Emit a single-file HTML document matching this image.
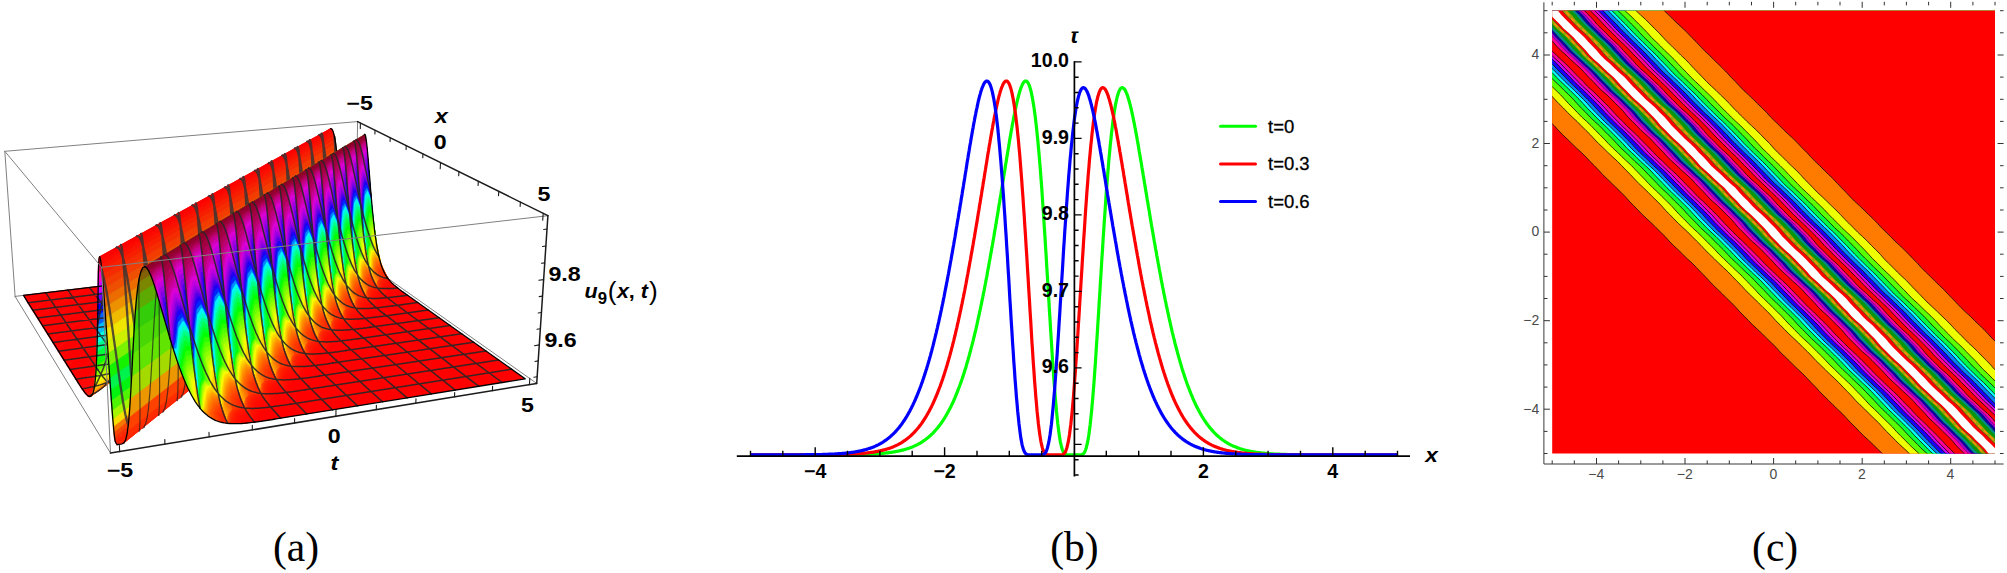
<!DOCTYPE html>
<html><head><meta charset="utf-8"><title>Figure</title><style>html,body{margin:0;padding:0;background:#fff}svg{display:block}</style></head><body>
<svg width="2007" height="573" viewBox="0 0 2007 573">
<rect width="2007" height="573" fill="#fff"/>
<g id="pa" stroke-linejoin="round" stroke-linecap="round">
<path d="M15.1,296.4 L4.8,151.3" stroke="#808080" stroke-width="1.0" fill="none"/>
<path d="M15.1,296.4 L110.5,453.1" stroke="#808080" stroke-width="1.0" fill="none"/>
<path d="M15.1,296.4 L355.3,255.4" stroke="#808080" stroke-width="1.0" fill="none"/>
<path d="M355.3,255.4 L357.6,121.6" stroke="#808080" stroke-width="1.0" fill="none"/>
<path d="M355.3,255.4 L536.7,383.4" stroke="#808080" stroke-width="1.0" fill="none"/>
<polygon points="23.5,295.4 23.5,295.4 44.6,292.9 27.8,302.3" fill="#ff0000" stroke="#ff0000" stroke-width="0.7"/>
<polygon points="27.8,302.3 44.6,292.9 65.4,290.4 32.2,309.4" fill="#ff0000" stroke="#ff0000" stroke-width="0.7"/>
<polygon points="32.2,309.4 65.4,290.4 86,287.9 36.8,316.6" fill="#ff0000" stroke="#ff0000" stroke-width="0.7"/>
<polygon points="36.8,316.6 86,287.9 106.4,285.5 41.5,324.1" fill="#ff0000" stroke="#ff0000" stroke-width="0.7"/>
<polygon points="41.5,324.1 106.4,285.5 126.5,283 46.3,331.8" fill="#ff0000" stroke="#ff0000" stroke-width="0.7"/>
<polygon points="46.3,331.8 126.5,283 146.5,280.6 51.3,339.7" fill="#ff0000" stroke="#ff0000" stroke-width="0.7"/>
<polygon points="51.3,339.7 146.5,280.6 166.3,278.3 56.4,347.9" fill="#ff0000" stroke="#ff0000" stroke-width="0.7"/>
<polygon points="56.4,347.9 166.3,278.3 185.8,275.9 61.6,356.3" fill="#ff0000" stroke="#ff0000" stroke-width="0.7"/>
<polygon points="61.6,356.3 185.8,275.9 205.2,273.6 67.1,364.9" fill="#ff0000" stroke="#ff0000" stroke-width="0.7"/>
<polygon points="67.1,364.9 205.2,273.6 224.4,271.2 72.7,373.9" fill="#ff0000" stroke="#ff0000" stroke-width="0.7"/>
<polygon points="72.7,373.9 224.4,271.2 243.4,268.9 78.5,383.1" fill="#ff0000" stroke="#ff0000" stroke-width="0.7"/>
<polygon points="78.5,383.1 243.4,268.9 245.4,268.6 79.1,384" fill="#ff0100" stroke="#ff0100" stroke-width="0.7"/>
<polygon points="79.1,384 245.4,268.6 247.3,268.4 79.7,385" fill="#ff0100" stroke="#ff0100" stroke-width="0.7"/>
<polygon points="79.7,385 247.3,268.4 249.3,268.1 80.4,386" fill="#ff0100" stroke="#ff0100" stroke-width="0.7"/>
<polygon points="80.4,386 249.3,268.1 251.3,267.8 81,386.9" fill="#ff0200" stroke="#ff0200" stroke-width="0.7"/>
<polygon points="81,386.9 251.3,267.8 253.3,267.5 81.6,387.9" fill="#ff0200" stroke="#ff0200" stroke-width="0.7"/>
<polygon points="81.6,387.9 253.3,267.5 255.3,267.2 82.2,388.8" fill="#ff0300" stroke="#ff0300" stroke-width="0.7"/>
<polygon points="82.2,388.8 255.3,267.2 257.3,266.9 82.9,389.7" fill="#ff0400" stroke="#ff0400" stroke-width="0.7"/>
<polygon points="82.9,389.7 257.3,266.9 259.3,266.6 83.5,390.6" fill="#ff0500" stroke="#ff0500" stroke-width="0.7"/>
<polygon points="83.5,390.6 259.3,266.6 261.3,266.2 84.1,391.5" fill="#ff0600" stroke="#ff0600" stroke-width="0.7"/>
<polygon points="84.1,391.5 261.3,266.2 263.2,265.8 84.8,392.3" fill="#ff0800" stroke="#ff0800" stroke-width="0.7"/>
<polygon points="84.8,392.3 263.2,265.8 265.2,265.4 85.4,393.1" fill="#ff0a00" stroke="#ff0a00" stroke-width="0.7"/>
<polygon points="85.4,393.1 265.2,265.4 267.2,264.9 86,393.9" fill="#ff0c00" stroke="#ff0c00" stroke-width="0.7"/>
<polygon points="86,393.9 267.2,264.9 269.1,264.4 86.7,394.6" fill="#ff0f00" stroke="#ff0f00" stroke-width="0.7"/>
<polygon points="86.7,394.6 269.1,264.4 271.1,263.8 87.3,395.2" fill="#ff1300" stroke="#ff1300" stroke-width="0.7"/>
<polygon points="87.3,395.2 271.1,263.8 273.1,263.2 87.9,395.7" fill="#ff1800" stroke="#ff1800" stroke-width="0.7"/>
<polygon points="87.9,395.7 273.1,263.2 275,262.4 88.5,396.1" fill="#ff1d00" stroke="#ff1d00" stroke-width="0.7"/>
<polygon points="88.5,396.1 275,262.4 277,261.6 89.2,396.4" fill="#ff2400" stroke="#ff2400" stroke-width="0.7"/>
<polygon points="89.2,396.4 277,261.6 279,260.6 89.8,396.5" fill="#ff2c00" stroke="#ff2c00" stroke-width="0.7"/>
<polygon points="89.8,396.5 279,260.6 280.9,259.5 90.4,396.4" fill="#ff3600" stroke="#ff3600" stroke-width="0.7"/>
<polygon points="90.4,396.4 280.9,259.5 282.9,258.2 91,396.2" fill="#ff4200" stroke="#ff4200" stroke-width="0.7"/>
<polygon points="91,396.2 282.9,258.2 284.8,256.7 91.6,395.6" fill="#ff5000" stroke="#ff5000" stroke-width="0.7"/>
<polygon points="91.6,395.6 284.8,256.7 286.8,255 92.1,394.8" fill="#ff6000" stroke="#ff6000" stroke-width="0.7"/>
<polygon points="92.1,394.8 286.8,255 288.8,253 92.7,393.6" fill="#ff7300" stroke="#ff7300" stroke-width="0.7"/>
<polygon points="92.7,393.6 288.8,253 290.7,250.7 93.2,392.1" fill="#ff8a00" stroke="#ff8a00" stroke-width="0.7"/>
<polygon points="93.2,392.1 290.7,250.7 292.7,248 93.8,390.1" fill="#ffa500" stroke="#ffa500" stroke-width="0.7"/>
<polygon points="93.8,390.1 292.7,248 294.6,245 94.3,387.6" fill="#ffc400" stroke="#ffc400" stroke-width="0.7"/>
<polygon points="94.3,387.6 294.6,245 296.6,241.6 94.7,384.5" fill="#ffe800" stroke="#ffe800" stroke-width="0.7"/>
<polygon points="94.7,384.5 296.6,241.6 298.6,237.7 95.2,380.8" fill="#edff00" stroke="#edff00" stroke-width="0.7"/>
<polygon points="95.2,380.8 298.6,237.7 300.5,233.3 95.6,376.5" fill="#beff00" stroke="#beff00" stroke-width="0.7"/>
<polygon points="95.6,376.5 300.5,233.3 302.5,228.4 96,371.5" fill="#8aff00" stroke="#8aff00" stroke-width="0.7"/>
<polygon points="96,371.5 302.5,228.4 304.5,222.8 96.3,365.7" fill="#4eff00" stroke="#4eff00" stroke-width="0.7"/>
<polygon points="96.3,365.7 304.5,222.8 306.4,216.7 96.7,359.1" fill="#0cff00" stroke="#0cff00" stroke-width="0.7"/>
<polygon points="96.7,359.1 306.4,216.7 308.4,210.1 96.9,351.7" fill="#00ff3d" stroke="#00ff3d" stroke-width="0.7"/>
<polygon points="96.9,351.7 308.4,210.1 310.4,202.8 97.2,343.5" fill="#00ff8d" stroke="#00ff8d" stroke-width="0.7"/>
<polygon points="97.2,343.5 310.4,202.8 312.4,195 97.4,334.5" fill="#00ffe3" stroke="#00ffe3" stroke-width="0.7"/>
<polygon points="97.4,334.5 312.4,195 314.4,186.8 97.6,325" fill="#00bfff" stroke="#00bfff" stroke-width="0.7"/>
<polygon points="97.6,325 314.4,186.8 316.5,178.2 97.7,314.8" fill="#005fff" stroke="#005fff" stroke-width="0.7"/>
<polygon points="97.7,314.8 316.5,178.2 318.5,169.3 97.9,304.3" fill="#0400ff" stroke="#0400ff" stroke-width="0.7"/>
<polygon points="97.9,304.3 318.5,169.3 320.5,160.2 98,293.4" fill="#6b00ff" stroke="#6b00ff" stroke-width="0.7"/>
<polygon points="98,293.4 320.5,160.2 322.6,151.3 98.2,282.7" fill="#d100ff" stroke="#d100ff" stroke-width="0.7"/>
<polygon points="98.2,282.7 322.6,151.3 324.6,143 98.4,272.7" fill="#ff00cc" stroke="#ff00cc" stroke-width="0.7"/>
<polygon points="98.4,272.7 324.6,143 326.6,135.9 98.7,264.3" fill="#ff0075" stroke="#ff0075" stroke-width="0.7"/>
<polygon points="98.7,264.3 326.6,135.9 328.7,130.8 99.1,258.6" fill="#ff0030" stroke="#ff0030" stroke-width="0.7"/>
<polygon points="99.1,258.6 328.7,130.8 330.7,128.6 99.7,256.7" fill="#ff0007" stroke="#ff0007" stroke-width="0.7"/>
<path d="M45.8,292.8 L69.9,328.5 L97.8,369.7M28.1,302.7 L131.9,290 L230.4,277.9M67.8,290.1 L90.4,321.4 L116.2,356.9M32.8,310.2 L127,298.5 L216.9,287.2M89.5,287.5 L110.4,314.5 L133.8,344.7M37.6,317.9 L122,307.2 L202.9,296.9M111,284.9 L129.9,307.9 L150.7,333.1M42.6,325.8 L116.8,316.3 L188.3,307M132.3,282.3 L148.9,301.4 L166.8,321.9M47.7,334 L111.4,325.7 L173.1,317.5M153.4,279.8 L182.3,311.2M53,342.5 L157.2,328.5M174.2,277.3 L197.1,300.9M58.5,351.2 L140.7,340M194.8,274.8 L211.4,291M64.1,360.2 L123.4,352M215.2,272.4 L225.1,281.6M70,369.6 L105.3,364.5M235.4,269.9 L238.2,272.4M76,379.2 L86.3,377.6" fill="none" stroke="#262626" stroke-width="1.5" stroke-opacity="0.9"/>
<path d="M97.8,369.7 L98.4,370.6 L99,371.5 L99.7,372.4 L100.3,373.3 L100.9,374.2 L101.6,375.1 L102.2,375.9 L102.8,376.7 L103.5,377.6 L104.1,378.3 L104.8,379.1 L105.4,379.8 L106,380.4 L106.7,381 L107.3,381.5 L107.9,381.9 L108.6,382.2 L109.2,382.4 L109.8,382.3 L110.4,382.1 L111,381.7 L111.6,381 L112.2,380 L112.8,378.7 L113.3,377 L113.9,374.9 L114.4,372.2 L114.9,369.1 L115.4,365.3 L115.8,360.9 L116.2,355.8 L116.6,350 L117,343.5 L117.4,336.2 L117.7,328.1 L117.9,319.4 L118.2,310.1 L118.5,300.3 L118.7,290.1 L118.9,279.7 L119.2,269.5 L119.5,260 L119.8,252.1 L120.3,246.7 L121,244.9M230.4,277.9 L232.4,277.6 L234.4,277.3 L236.4,277.1 L238.4,276.8 L240.4,276.5 L242.3,276.2 L244.3,275.9 L246.3,275.5 L248.3,275.2 L250.3,274.8 L252.2,274.4 L254.2,273.9 L256.2,273.4 L258.2,272.8 L260.1,272.2 L262.1,271.5 L264,270.7 L266,269.8 L268,268.7 L269.9,267.5 L271.9,266.1 L273.8,264.5 L275.8,262.6 L277.7,260.5 L279.7,258.1 L281.6,255.3 L283.6,252.1 L285.5,248.5 L287.5,244.5 L289.4,239.9 L291.4,234.8 L293.3,229.1 L295.3,222.9 L297.3,216.1 L299.2,208.8 L301.2,200.9 L303.2,192.6 L305.2,184 L307.2,175.1 L309.2,166.1 L311.3,157.2 L313.3,149 L315.3,142.1 L317.3,137.1 L319.3,134.9M116.2,356.9 L116.9,357.8 L117.5,358.7 L118.2,359.5 L118.8,360.4 L119.5,361.2 L120.1,362 L120.8,362.9 L121.4,363.7 L122.1,364.4 L122.7,365.2 L123.4,365.9 L124,366.5 L124.7,367.2 L125.3,367.7 L126,368.2 L126.6,368.5 L127.3,368.8 L127.9,368.9 L128.6,368.9 L129.2,368.6 L129.8,368.2 L130.5,367.5 L131.1,366.5 L131.7,365.2 L132.3,363.5 L132.8,361.4 L133.4,358.8 L133.9,355.6 L134.5,351.9 L134.9,347.6 L135.4,342.6 L135.9,336.9 L136.3,330.4 L136.7,323.2 L137.1,315.3 L137.5,306.8 L137.8,297.7 L138.1,288.1 L138.5,278.1 L138.8,267.9 L139.1,257.9 L139.5,248.6 L139.9,240.8 L140.4,235.5 L141.1,233.8M216.9,287.2 L219,286.9 L221,286.7 L223,286.4 L225.1,286.1 L227.1,285.8 L229.2,285.5 L231.2,285.1 L233.2,284.8 L235.2,284.4 L237.3,284 L239.3,283.6 L241.3,283.1 L243.3,282.6 L245.3,282 L247.3,281.4 L249.3,280.6 L251.3,279.8 L253.3,278.8 L255.3,277.8 L257.3,276.5 L259.3,275.1 L261.3,273.5 L263.3,271.6 L265.3,269.4 L267.3,266.9 L269.3,264.1 L271.3,260.9 L273.2,257.2 L275.2,253.1 L277.2,248.4 L279.2,243.2 L281.2,237.4 L283.2,231.1 L285.2,224.2 L287.2,216.7 L289.2,208.7 L291.2,200.3 L293.2,191.5 L295.2,182.4 L297.3,173.2 L299.3,164.2 L301.3,155.9 L303.4,148.8 L305.4,143.7 L307.4,141.5M133.8,344.7 L134.5,345.6 L135.2,346.4 L135.8,347.2 L136.5,348 L137.1,348.8 L137.8,349.6 L138.5,350.4 L139.1,351.1 L139.8,351.9 L140.5,352.6 L141.1,353.3 L141.8,353.9 L142.5,354.5 L143.1,355 L143.8,355.4 L144.5,355.7 L145.2,356 L145.8,356.1 L146.5,356 L147.1,355.8 L147.8,355.3 L148.4,354.6 L149.1,353.6 L149.7,352.3 L150.3,350.6 L150.9,348.5 L151.5,345.9 L152.1,342.8 L152.6,339.1 L153.2,334.9 L153.7,329.9 L154.2,324.3 L154.7,318 L155.1,310.9 L155.6,303.2 L156,294.8 L156.4,285.8 L156.8,276.4 L157.2,266.6 L157.6,256.6 L158.1,246.8 L158.5,237.7 L159,230.1 L159.6,224.9 L160.3,223.1M202.9,296.9 L205,296.6 L207.1,296.3 L209.2,296 L211.3,295.7 L213.3,295.4 L215.4,295.1 L217.5,294.8 L219.6,294.4 L221.6,294 L223.7,293.6 L225.8,293.2 L227.9,292.7 L229.9,292.1 L232,291.5 L234,290.9 L236.1,290.1 L238.1,289.3 L240.2,288.3 L242.2,287.2 L244.3,285.9 L246.3,284.5 L248.3,282.8 L250.4,280.9 L252.4,278.7 L254.4,276.1 L256.4,273.2 L258.5,269.9 L260.5,266.2 L262.5,262 L264.5,257.3 L266.5,252 L268.5,246.1 L270.6,239.6 L272.6,232.6 L274.6,225 L276.6,216.8 L278.7,208.2 L280.7,199.3 L282.7,190 L284.8,180.7 L286.9,171.5 L288.9,163 L291,155.7 L293.1,150.6 L295.1,148.3M150.7,333.1 L151.4,333.9 L152,334.6 L152.7,335.4 L153.4,336.2 L154,337 L154.7,337.7 L155.4,338.5 L156.1,339.2 L156.8,339.9 L157.4,340.6 L158.1,341.2 L158.8,341.8 L159.5,342.3 L160.2,342.8 L160.9,343.2 L161.5,343.5 L162.2,343.7 L162.9,343.8 L163.6,343.7 L164.2,343.4 L164.9,343 L165.6,342.3 L166.2,341.3 L166.9,339.9 L167.5,338.3 L168.2,336.2 L168.8,333.6 L169.4,330.6 L170,327 L170.6,322.8 L171.1,317.9 L171.7,312.4 L172.2,306.1 L172.7,299.2 L173.2,291.6 L173.7,283.3 L174.2,274.5 L174.7,265.3 L175.1,255.7 L175.6,245.9 L176.1,236.2 L176.6,227.3 L177.2,219.8 L177.8,214.7 L178.5,213M188.3,307 L190.5,306.7 L192.6,306.4 L194.7,306.1 L196.9,305.8 L199,305.5 L201.1,305.1 L203.3,304.8 L205.4,304.4 L207.5,304 L209.6,303.6 L211.7,303.1 L213.9,302.6 L216,302.1 L218.1,301.5 L220.2,300.8 L222.3,300 L224.4,299.1 L226.5,298.1 L228.6,297 L230.7,295.7 L232.7,294.2 L234.8,292.5 L236.9,290.5 L239,288.3 L241,285.7 L243.1,282.8 L245.1,279.4 L247.2,275.6 L249.3,271.3 L251.3,266.5 L253.3,261.1 L255.4,255.1 L257.4,248.5 L259.5,241.3 L261.5,233.6 L263.6,225.2 L265.6,216.5 L267.7,207.4 L269.7,198 L271.8,188.4 L273.9,179.1 L276,170.4 L278.1,163 L280.2,157.7 L282.3,155.4M166.8,321.9 L167.5,322.6 L168.2,323.4 L168.9,324.1 L169.6,324.9 L170.2,325.6 L170.9,326.3 L171.6,327.1 L172.3,327.7 L173,328.4 L173.7,329.1 L174.4,329.7 L175.1,330.2 L175.8,330.7 L176.5,331.2 L177.2,331.6 L177.8,331.8 L178.5,332 L179.2,332.1 L179.9,332 L180.6,331.7 L181.3,331.2 L182,330.5 L182.7,329.5 L183.3,328.2 L184,326.5 L184.6,324.4 L185.3,321.9 L185.9,318.9 L186.6,315.3 L187.2,311.2 L187.8,306.4 L188.4,300.9 L188.9,294.8 L189.5,288 L190.1,280.5 L190.6,272.4 L191.1,263.8 L191.7,254.7 L192.2,245.3 L192.7,235.7 L193.3,226.2 L193.8,217.4 L194.5,210.1 L195.1,205.1 L195.9,203.4M173.1,317.5 L175.3,317.2 L177.5,316.9 L179.7,316.6 L181.9,316.3 L184.1,315.9 L186.2,315.6 L188.4,315.2 L190.6,314.8 L192.8,314.4 L194.9,314 L197.1,313.5 L199.3,313 L201.4,312.4 L203.6,311.8 L205.8,311.1 L207.9,310.3 L210.1,309.4 L212.2,308.4 L214.3,307.2 L216.5,305.9 L218.6,304.4 L220.7,302.6 L222.8,300.6 L225,298.3 L227.1,295.7 L229.2,292.7 L231.3,289.3 L233.4,285.4 L235.4,281 L237.5,276.1 L239.6,270.6 L241.7,264.5 L243.8,257.8 L245.8,250.4 L247.9,242.5 L250,234 L252,225.1 L254.1,215.8 L256.2,206.2 L258.3,196.5 L260.4,187 L262.5,178.1 L264.6,170.6 L266.8,165.2 L268.9,162.9M182.3,311.2 L183,311.9 L183.7,312.6 L184.4,313.3 L185.1,314.1 L185.7,314.8 L186.4,315.4 L187.1,316.1 L187.8,316.8 L188.5,317.4 L189.2,318 L189.9,318.6 L190.6,319.1 L191.3,319.6 L192.1,320 L192.8,320.4 L193.5,320.7 L194.2,320.8 L194.9,320.8 L195.6,320.7 L196.3,320.4 L197,319.9 L197.7,319.2 L198.4,318.2 L199.1,316.9 L199.7,315.2 L200.4,313.2 L201.1,310.7 L201.8,307.7 L202.4,304.2 L203.1,300.1 L203.7,295.4 L204.3,290 L204.9,284 L205.5,277.3 L206.1,270 L206.7,262 L207.3,253.5 L207.9,244.6 L208.5,235.3 L209.1,225.9 L209.7,216.6 L210.3,208 L211,200.8 L211.7,195.9 L212.4,194.2M157.2,328.5 L159.5,328.2 L161.7,327.9 L164,327.6 L166.2,327.2 L168.5,326.9 L170.7,326.5 L172.9,326.1 L175.2,325.7 L177.4,325.3 L179.6,324.8 L181.9,324.3 L184.1,323.8 L186.3,323.2 L188.5,322.6 L190.7,321.9 L192.9,321 L195.1,320.1 L197.3,319.1 L199.5,317.9 L201.7,316.5 L203.9,315 L206,313.2 L208.2,311.1 L210.4,308.8 L212.5,306.1 L214.7,303 L216.8,299.5 L218.9,295.6 L221.1,291.1 L223.2,286.1 L225.3,280.5 L227.4,274.3 L229.5,267.4 L231.6,259.9 L233.7,251.9 L235.8,243.2 L237.9,234.1 L240,224.6 L242.1,214.9 L244.2,204.9 L246.3,195.2 L248.4,186.2 L250.6,178.5 L252.7,173 L255,170.6M197.1,300.9 L197.8,301.6 L198.5,302.3 L199.2,303 L199.9,303.7 L200.6,304.3 L201.3,305 L202,305.6 L202.7,306.3 L203.4,306.9 L204.2,307.5 L204.9,308 L205.6,308.5 L206.3,309 L207,309.4 L207.7,309.7 L208.4,309.9 L209.1,310.1 L209.9,310.1 L210.6,309.9 L211.3,309.6 L212,309.1 L212.7,308.4 L213.4,307.4 L214.1,306.1 L214.8,304.4 L215.5,302.4 L216.2,300 L216.9,297 L217.6,293.5 L218.3,289.5 L218.9,284.9 L219.6,279.6 L220.2,273.7 L220.9,267.1 L221.5,259.8 L222.2,252 L222.8,243.7 L223.4,234.9 L224.1,225.8 L224.7,216.6 L225.4,207.4 L226,199 L226.7,191.9 L227.4,187.1 L228.2,185.4M140.7,340 L143,339.7 L145.3,339.3 L147.6,339 L149.9,338.6 L152.2,338.3 L154.5,337.9 L156.8,337.5 L159.1,337.1 L161.4,336.6 L163.7,336.2 L165.9,335.7 L168.2,335.1 L170.5,334.5 L172.8,333.8 L175,333.1 L177.3,332.2 L179.5,331.3 L181.8,330.2 L184,329 L186.3,327.6 L188.5,326 L190.7,324.2 L192.9,322.1 L195.1,319.7 L197.3,317 L199.5,313.8 L201.7,310.3 L203.9,306.2 L206,301.6 L208.2,296.5 L210.3,290.8 L212.5,284.5 L214.6,277.5 L216.7,269.8 L218.8,261.6 L221,252.8 L223.1,243.5 L225.2,233.9 L227.3,223.9 L229.4,213.7 L231.6,203.8 L233.7,194.6 L235.9,186.8 L238.1,181.1 L240.4,178.7M211.4,291 L212.1,291.7 L212.8,292.4 L213.5,293 L214.2,293.7 L214.9,294.3 L215.6,295 L216.3,295.6 L217,296.2 L217.7,296.8 L218.5,297.3 L219.2,297.8 L219.9,298.3 L220.6,298.8 L221.3,299.1 L222.1,299.4 L222.8,299.7 L223.5,299.8 L224.2,299.8 L225,299.6 L225.7,299.3 L226.4,298.8 L227.1,298 L227.8,297 L228.6,295.7 L229.3,294.1 L230,292.1 L230.7,289.7 L231.4,286.8 L232.1,283.3 L232.8,279.4 L233.5,274.8 L234.2,269.6 L234.9,263.8 L235.6,257.3 L236.3,250.2 L236.9,242.5 L237.6,234.3 L238.3,225.7 L239,216.8 L239.7,207.6 L240.3,198.7 L241.1,190.4 L241.8,183.5 L242.5,178.7 L243.3,177M123.4,352 L125.7,351.6 L128.1,351.3 L130.5,350.9 L132.8,350.5 L135.2,350.2 L137.6,349.8 L139.9,349.4 L142.3,348.9 L144.6,348.5 L147,348 L149.3,347.5 L151.6,346.9 L154,346.3 L156.3,345.6 L158.6,344.8 L160.9,344 L163.3,343 L165.6,341.9 L167.9,340.6 L170.1,339.2 L172.4,337.6 L174.7,335.7 L177,333.6 L179.2,331.1 L181.5,328.3 L183.7,325.1 L185.9,321.4 L188.2,317.3 L190.4,312.7 L192.5,307.4 L194.7,301.6 L196.9,295.1 L199.1,288 L201.2,280.2 L203.3,271.8 L205.5,262.8 L207.6,253.3 L209.7,243.5 L211.9,233.3 L214,222.9 L216.2,212.8 L218.4,203.4 L220.6,195.4 L222.8,189.7 L225.1,187.2M225.1,281.6 L225.8,282.2 L226.5,282.8 L227.2,283.5 L227.9,284.1 L228.6,284.7 L229.3,285.3 L230,285.9 L230.8,286.5 L231.5,287.1 L232.2,287.6 L232.9,288.1 L233.7,288.5 L234.4,289 L235.1,289.3 L235.8,289.6 L236.6,289.8 L237.3,289.9 L238,289.8 L238.8,289.7 L239.5,289.4 L240.2,288.8 L241,288.1 L241.7,287.1 L242.4,285.8 L243.1,284.2 L243.9,282.2 L244.6,279.8 L245.3,276.9 L246.1,273.5 L246.8,269.6 L247.5,265.1 L248.2,260 L248.9,254.3 L249.6,247.9 L250.4,240.9 L251.1,233.3 L251.8,225.3 L252.5,216.8 L253.2,208 L254,199.1 L254.7,190.3 L255.4,182.2 L256.2,175.3 L257,170.6 L257.8,169M105.3,364.5 L107.7,364.2 L110.1,363.8 L112.6,363.4 L115,363 L117.4,362.6 L119.9,362.2 L122.3,361.8 L124.7,361.3 L127.1,360.9 L129.5,360.4 L131.9,359.8 L134.3,359.2 L136.7,358.6 L139.1,357.9 L141.5,357.1 L143.9,356.2 L146.2,355.2 L148.6,354.1 L151,352.8 L153.3,351.3 L155.6,349.6 L158,347.7 L160.3,345.5 L162.6,343 L164.9,340.1 L167.2,336.9 L169.5,333.2 L171.7,328.9 L174,324.2 L176.2,318.8 L178.4,312.9 L180.6,306.3 L182.8,299 L185,291 L187.1,282.5 L189.3,273.3 L191.4,263.6 L193.6,253.5 L195.7,243.1 L197.9,232.6 L200.1,222.2 L202.3,212.6 L204.5,204.4 L206.8,198.6 L209.2,196M238.2,272.4 L238.9,273.1 L239.7,273.7 L240.4,274.3 L241.1,274.9 L241.8,275.5 L242.5,276.1 L243.2,276.6 L244,277.2 L244.7,277.7 L245.4,278.2 L246.1,278.7 L246.9,279.1 L247.6,279.5 L248.3,279.9 L249.1,280.1 L249.8,280.3 L250.5,280.4 L251.3,280.3 L252,280.2 L252.8,279.8 L253.5,279.3 L254.2,278.6 L255,277.6 L255.7,276.3 L256.5,274.7 L257.2,272.7 L257.9,270.3 L258.7,267.5 L259.4,264.2 L260.2,260.3 L260.9,255.8 L261.7,250.8 L262.4,245.2 L263.1,238.9 L263.9,232 L264.6,224.6 L265.4,216.6 L266.1,208.3 L266.9,199.7 L267.7,190.9 L268.4,182.3 L269.2,174.3 L270,167.6 L270.8,162.9 L271.6,161.3M86.3,377.6 L88.8,377.3 L91.3,376.9 L93.8,376.5 L96.3,376.1 L98.8,375.7 L101.3,375.2 L103.8,374.8 L106.3,374.3 L108.8,373.8 L111.2,373.3 L113.7,372.7 L116.2,372.1 L118.6,371.5 L121.1,370.7 L123.5,369.9 L126,369 L128.4,368 L130.8,366.8 L133.3,365.5 L135.7,364 L138.1,362.3 L140.5,360.3 L142.8,358.1 L145.2,355.5 L147.6,352.6 L149.9,349.2 L152.2,345.4 L154.5,341.1 L156.8,336.2 L159.1,330.8 L161.3,324.7 L163.5,317.9 L165.8,310.5 L168,302.4 L170.2,293.6 L172.3,284.2 L174.5,274.4 L176.7,264.1 L178.8,253.4 L181,242.7 L183.2,232.1 L185.4,222.3 L187.7,213.9 L190,207.9 L192.5,205.3M255.3,267.2 L256,267.8 L256.8,268.3 L257.5,268.8 L258.2,269.3 L258.9,269.7 L259.7,270.1 L260.4,270.5 L261.1,270.8 L261.9,271 L262.6,271.2 L263.3,271.2 L264.1,271.2 L264.8,271 L265.6,270.6 L266.3,270.1 L267.1,269.3 L267.8,268.3 L268.6,267 L269.3,265.4 L270.1,263.4 L270.8,261.1 L271.6,258.2 L272.3,254.9 L273.1,251.1 L273.8,246.7 L274.6,241.7 L275.4,236.2 L276.1,230 L276.9,223.2 L277.7,215.9 L278.5,208.1 L279.2,200 L280,191.5 L280.8,182.9 L281.6,174.4 L282.4,166.6 L283.2,160.1 L284.1,155.5 L284.9,154M82.2,388.8 L84.8,388.3 L87.3,387.9 L89.9,387.3 L92.4,386.8 L94.9,386.2 L97.5,385.6 L100,384.9 L102.5,384.1 L105,383.3 L107.5,382.3 L110,381.2 L112.5,380 L115,378.7 L117.4,377.1 L119.9,375.3 L122.3,373.3 L124.7,371 L127.1,368.3 L129.5,365.3 L131.9,361.9 L134.3,358 L136.6,353.5 L138.9,348.6 L141.2,343 L143.5,336.7 L145.8,329.8 L148,322.2 L150.2,313.9 L152.4,305 L154.6,295.4 L156.8,285.3 L159,274.9 L161.2,264 L163.4,253 L165.6,242.3 L167.8,232.3 L170.1,223.8 L172.5,217.7 L174.9,215M275,262.4 L275.8,262.4 L276.5,262.3 L277.3,262.1 L278,261.7 L278.7,261.1 L279.5,260.3 L280.2,259.2 L281,257.9 L281.7,256.3 L282.5,254.3 L283.3,251.9 L284,249.1 L284.8,245.7 L285.6,241.9 L286.3,237.6 L287.1,232.6 L287.9,227.1 L288.7,221 L289.5,214.4 L290.2,207.2 L291,199.6 L291.9,191.6 L292.7,183.4 L293.5,175 L294.3,166.8 L295.1,159.2 L296,152.8 L296.8,148.4 L297.6,146.9M88.5,396.1 L91.1,395 L93.6,393.7 L96.1,392.3 L98.6,390.6 L101.1,388.8 L103.6,386.7 L106.1,384.2 L108.5,381.5 L110.9,378.3 L113.3,374.8 L115.7,370.7 L118.1,366.1 L120.4,361 L122.7,355.2 L125,348.8 L127.3,341.8 L129.6,334 L131.8,325.5 L134,316.4 L136.2,306.6 L138.4,296.4 L140.5,285.7 L142.7,274.8 L144.9,263.6 L147.1,252.7 L149.3,242.6 L151.6,234.1 L154,227.9 L156.5,225.2M294.6,245 L295.4,242.6 L296.1,239.7 L296.9,236.3 L297.7,232.5 L298.5,228.1 L299.2,223.2 L300,217.8 L300.8,211.8 L301.6,205.2 L302.4,198.2 L303.2,190.8 L304,183.1 L304.9,175.1 L305.7,167 L306.5,159.1 L307.4,151.8 L308.2,145.7 L309,141.6 L309.8,140.1M94.3,387.6 L96.6,383.3 L99,378.5 L101.3,373.2 L103.7,367.2 L105.9,360.6 L108.2,353.3 L110.4,345.3 L112.6,336.7 L114.8,327.4 L117,317.5 L119.1,307.2 L121.3,296.4 L123.4,285.4 L125.6,274.2 L127.7,263.3 L130,253.3 L132.3,244.7 L134.6,238.6 L137.2,236M314.4,186.8 L315.2,179.8 L316,172.5 L316.8,165 L317.6,157.6 L318.4,150.4 L319.2,143.9 L320,138.5 L320.8,134.9 L321.6,133.6M97.6,325 L99.6,314.8 L101.6,304.3 L103.7,293.6 L105.7,282.9 L107.8,272.6 L109.9,263.2 L112.1,255.3 L114.4,249.7 L116.8,247.3" fill="none" stroke="#262626" stroke-width="1.5" stroke-opacity="0.9"/>
<path d="M23.5,295.4 L48.8,335.7 L78.5,383.1M23.5,295.4 L136.5,281.8 L243.4,268.9" fill="none" stroke="#000" stroke-width="1.3"/>
<path d="M78.5,383.1 L79.1,384 L79.7,385 L80.3,385.9 L80.9,386.8 L81.5,387.8 L82.2,388.7 L82.8,389.6 L83.4,390.5 L84,391.3 L84.6,392.2 L85.2,393 L85.9,393.7 L86.5,394.4 L87.1,395 L87.7,395.5 L88.3,396 L88.9,396.3 L89.5,396.5 L90.1,396.5 L90.7,396.3 L91.3,395.9 L91.9,395.2 L92.4,394.3 L93,392.9 L93.5,391.2 L94,389.1 L94.5,386.4 L94.9,383.2 L95.3,379.4 L95.7,374.9 L96.1,369.7 L96.4,363.8 L96.7,357.2 L97,349.7 L97.2,341.6 L97.4,332.7 L97.6,323.2 L97.8,313.2 L97.9,302.8 L98.1,292.2 L98.2,281.8 L98.4,272.1 L98.7,264 L99.1,258.5 L99.7,256.7M243.4,268.9 L245.3,268.6 L247.3,268.4 L249.2,268.1 L251.2,267.9 L253.1,267.6 L255,267.3 L257,267 L258.9,266.6 L260.9,266.3 L262.8,265.9 L264.7,265.5 L266.6,265.1 L268.6,264.6 L270.5,264 L272.4,263.4 L274.3,262.7 L276.3,261.9 L278.2,261 L280.1,260 L282,258.8 L283.9,257.4 L285.8,255.8 L287.8,254 L289.7,251.9 L291.6,249.6 L293.5,246.8 L295.4,243.7 L297.3,240.2 L299.2,236.2 L301.2,231.7 L303.1,226.7 L305,221.1 L307,215 L308.9,208.3 L310.9,201.1 L312.8,193.4 L314.8,185.3 L316.8,176.8 L318.8,168.1 L320.8,159.2 L322.7,150.5 L324.7,142.5 L326.7,135.6 L328.7,130.7 L330.7,128.6" fill="none" stroke="#000" stroke-width="1.3"/>
<polygon points="99.7,256.7 330.7,128.6 331.4,128.7 100,257.3" fill="#fe0000" stroke="#fe0000" stroke-width="0.7"/>
<polygon points="100,257.3 331.4,128.7 332.2,129.5 100.4,258.8" fill="#fe0100" stroke="#fe0100" stroke-width="0.7"/>
<polygon points="100.4,258.8 332.2,129.5 332.9,130.9 100.7,261.2" fill="#fd0500" stroke="#fd0500" stroke-width="0.7"/>
<polygon points="100.7,261.2 332.9,130.9 333.6,133.1 101.2,264.6" fill="#fc0b00" stroke="#fc0b00" stroke-width="0.7"/>
<polygon points="101.2,264.6 333.6,133.1 334.4,136.1 101.7,269" fill="#fa1300" stroke="#fa1300" stroke-width="0.7"/>
<polygon points="101.7,269 334.4,136.1 335.1,139.8 102.2,274.5" fill="#f81e00" stroke="#f81e00" stroke-width="0.7"/>
<polygon points="102.2,274.5 335.1,139.8 335.8,144.3 102.8,281.1" fill="#f52c00" stroke="#f52c00" stroke-width="0.7"/>
<polygon points="102.8,281.1 335.8,144.3 336.4,149.7 103.4,288.8" fill="#f23c00" stroke="#f23c00" stroke-width="0.7"/>
<polygon points="103.4,288.8 336.4,149.7 337.1,155.8 104.1,297.6" fill="#ee4f00" stroke="#ee4f00" stroke-width="0.7"/>
<polygon points="104.1,297.6 337.1,155.8 337.8,162.7 104.9,307.3" fill="#ed6c00" stroke="#ed6c00" stroke-width="0.7"/>
<polygon points="104.9,307.3 337.8,162.7 338.4,170.2 105.6,318" fill="#ee9100" stroke="#ee9100" stroke-width="0.7"/>
<polygon points="105.6,318 338.4,170.2 339.1,178.3 106.5,329.4" fill="#efba00" stroke="#efba00" stroke-width="0.7"/>
<polygon points="106.5,329.4 339.1,178.3 339.7,186.8 107.3,341.4" fill="#efe500" stroke="#efe500" stroke-width="0.7"/>
<polygon points="107.3,341.4 339.7,186.8 340.3,195.5 108.1,353.8" fill="#cdf000" stroke="#cdf000" stroke-width="0.7"/>
<polygon points="108.1,353.8 340.3,195.5 340.9,204.4 109,366.2" fill="#79f100" stroke="#79f100" stroke-width="0.7"/>
<polygon points="109,366.2 340.9,204.4 341.6,213.1 109.9,378.5" fill="#15f200" stroke="#15f200" stroke-width="0.7"/>
<polygon points="109.9,378.5 341.6,213.1 342.2,221.4 110.7,390.3" fill="#00f34c" stroke="#00f34c" stroke-width="0.7"/>
<polygon points="110.7,390.3 342.2,221.4 342.8,229.2 111.5,401.3" fill="#00f410" stroke="#00f410" stroke-width="0.7"/>
<polygon points="111.5,401.3 342.8,229.2 343.4,236.2 112.2,411.2" fill="#4ff400" stroke="#4ff400" stroke-width="0.7"/>
<polygon points="112.2,411.2 343.4,236.2 344.1,242.2 112.9,419.8" fill="#a4f500" stroke="#a4f500" stroke-width="0.7"/>
<polygon points="112.9,419.8 344.1,242.2 344.7,247.1 113.5,427" fill="#f6df00" stroke="#f6df00" stroke-width="0.7"/>
<polygon points="113.5,427 344.7,247.1 345.4,250.9 114,432.6" fill="#f67700" stroke="#f67700" stroke-width="0.7"/>
<polygon points="114,432.6 345.4,250.9 346.1,253.5 114.5,436.7" fill="#f64600" stroke="#f64600" stroke-width="0.7"/>
<polygon points="114.5,436.7 346.1,253.5 346.8,255.1 114.9,439.4" fill="#f73100" stroke="#f73100" stroke-width="0.7"/>
<polygon points="114.9,439.4 346.8,255.1 347.5,255.9 115.2,441.1" fill="#f72500" stroke="#f72500" stroke-width="0.7"/>
<polygon points="115.2,441.1 347.5,255.9 352,255.9 117.1,444.7" fill="#ff2000" stroke="#ff2000" stroke-width="0.7"/>
<polygon points="117.1,444.7 352,255.9 354.1,256.8 123.9,442.9" fill="#ff2000" stroke="#ff2000" stroke-width="0.7"/>
<path d="M121,244.9 L121.5,246.4 L122.2,250.5 L122.9,257.4 L123.8,267.4 L124.9,280.5 L126,296.6 L127.3,315.1 L128.6,335.2 L129.9,355.9 L131.3,375.8 L132.5,393.4 L133.5,407.6 L134.4,417.4 L135.1,423 L135.7,425.6 L136.2,426.6 L136.7,427.4 L137.2,428.1 L137.7,428.9 L138.2,429.6 L138.8,430.4 L139.2,430.5M319.3,134.9 L320.6,135.5 L321.9,138.1 L323.2,142.9 L324.4,150 L325.6,159.5 L326.8,171.2 L328,184.9 L329.1,199.7 L330.2,215.1 L331.4,229.7 L332.5,242.7 L333.6,252.9 L334.8,259.8 L336,263.4 L337.3,264.6 L338.5,264.7 L339.8,264.5 L341.1,264.4 L342.3,264.2 L343.6,264.1 L344.8,263.9 L346.1,263.3M141.1,233.8 L141.7,235.2 L142.3,239.2 L143.1,245.9 L143.9,255.7 L144.9,268.5 L146,284.1 L147.1,302.2 L148.3,321.9 L149.6,342.1 L150.8,361.6 L151.9,378.8 L152.9,392.6 L153.7,402.2 L154.4,407.7 L155,410.2 L155.5,411.2 L156,411.9 L156.5,412.6 L157,413.3 L157.6,414.1 L158.1,414.7 L158.6,414.9M307.4,141.5 L308.8,142.1 L310.1,144.7 L311.4,149.6 L312.7,156.8 L314,166.5 L315.3,178.5 L316.5,192.3 L317.7,207.5 L318.9,223 L320.1,238 L321.3,251.1 L322.5,261.5 L323.7,268.5 L325,272.2 L326.2,273.4 L327.5,273.5 L328.8,273.3 L330.1,273.2 L331.4,273 L332.7,272.9 L334,272.7 L335.3,272M160.3,223.1 L160.8,224.5 L161.5,228.4 L162.2,235 L163,244.5 L163.9,257 L164.9,272.3 L166,290 L167.1,309.2 L168.2,329 L169.3,348 L170.3,364.9 L171.3,378.4 L172.1,387.8 L172.7,393.1 L173.3,395.5 L173.8,396.5 L174.4,397.2 L174.9,397.9 L175.4,398.5 L175.9,399.2 L176.5,399.9 L177,400M295.1,148.3 L296.5,148.9 L297.9,151.6 L299.2,156.6 L300.6,164 L301.9,173.8 L303.2,186 L304.5,200.1 L305.8,215.5 L307.1,231.3 L308.4,246.5 L309.6,259.9 L310.9,270.5 L312.2,277.6 L313.5,281.3 L314.8,282.6 L316.1,282.6 L317.4,282.5 L318.7,282.3 L320.1,282.2 L321.4,282 L322.7,281.8 L324,281.1M178.5,213 L179.1,214.4 L179.7,218.1 L180.4,224.6 L181.2,233.9 L182,246.1 L182.9,261.1 L183.9,278.3 L184.9,297.2 L186,316.5 L187,335.1 L187.9,351.6 L188.8,364.8 L189.5,374 L190.2,379.3 L190.8,381.6 L191.3,382.5 L191.8,383.2 L192.4,383.8 L192.9,384.5 L193.5,385.1 L194,385.7 L194.5,385.8M282.3,155.4 L283.7,156.1 L285.1,158.8 L286.5,163.8 L287.9,171.4 L289.3,181.4 L290.7,193.8 L292.1,208.1 L293.5,223.8 L294.8,240 L296.2,255.4 L297.5,269 L298.8,279.8 L300.2,287 L301.5,290.8 L302.9,292.1 L304.2,292.2 L305.6,292 L306.9,291.8 L308.3,291.6 L309.6,291.5 L311,291.3 L312.3,290.6M195.9,203.4 L196.4,204.7 L197,208.4 L197.7,214.7 L198.4,223.7 L199.3,235.7 L200.1,250.3 L201,267.2 L202,285.7 L202.9,304.6 L203.8,322.8 L204.7,339 L205.5,351.9 L206.2,360.9 L206.9,366 L207.4,368.3 L208,369.2 L208.5,369.8 L209.1,370.4 L209.6,371 L210.1,371.7 L210.7,372.3 L211.2,372.3M268.9,162.9 L270.4,163.5 L271.8,166.3 L273.3,171.4 L274.8,179.1 L276.2,189.3 L277.7,201.9 L279.2,216.5 L280.6,232.5 L282.1,248.9 L283.5,264.7 L284.9,278.5 L286.3,289.5 L287.7,296.8 L289.1,300.7 L290.5,302 L291.8,302.1 L293.2,301.9 L294.6,301.7 L296,301.5 L297.4,301.4 L298.7,301.1 L300.1,300.5M212.4,194.2 L213,195.5 L213.6,199.1 L214.2,205.2 L214.9,214.1 L215.7,225.8 L216.5,240.1 L217.3,256.6 L218.2,274.7 L219.1,293.2 L219.9,311.1 L220.7,326.9 L221.5,339.6 L222.2,348.4 L222.8,353.4 L223.3,355.6 L223.9,356.4 L224.4,357 L225,357.6 L225.5,358.2 L226.1,358.8 L226.6,359.4 L227.2,359.4M255,170.6 L256.4,171.3 L258,174.1 L259.5,179.3 L261,187.1 L262.6,197.5 L264.1,210.4 L265.7,225.3 L267.2,241.6 L268.7,258.3 L270.2,274.3 L271.7,288.5 L273.2,299.6 L274.7,307.1 L276.1,311 L277.5,312.3 L278.9,312.4 L280.4,312.2 L281.8,312 L283.2,311.8 L284.6,311.6 L286,311.4 L287.4,310.7M228.2,185.4 L228.8,186.7 L229.4,190.2 L230,196.2 L230.7,204.9 L231.4,216.3 L232.1,230.3 L232.9,246.5 L233.7,264.2 L234.5,282.4 L235.3,299.9 L236,315.4 L236.7,327.8 L237.4,336.4 L238,341.3 L238.6,343.4 L239.1,344.3 L239.7,344.8 L240.2,345.4 L240.8,346 L241.3,346.5 L241.9,347.1 L242.4,347.1M240.4,178.7 L241.9,179.4 L243.5,182.2 L245,187.6 L246.7,195.5 L248.3,206.1 L249.9,219.3 L251.6,234.4 L253.2,251 L254.8,268.1 L256.4,284.4 L258,298.8 L259.6,310.1 L261.1,317.7 L262.6,321.7 L264,323.1 L265.5,323.1 L267,323 L268.4,322.8 L269.8,322.6 L271.3,322.4 L272.7,322.1 L274.2,321.4M243.3,177 L243.9,178.3 L244.5,181.7 L245.1,187.5 L245.7,196.1 L246.4,207.3 L247.1,221 L247.8,236.9 L248.5,254.2 L249.3,272 L250,289.1 L250.7,304.3 L251.3,316.5 L251.9,324.9 L252.5,329.7 L253.1,331.8 L253.7,332.6 L254.2,333.2 L254.8,333.7 L255.3,334.3 L255.9,334.8 L256.4,335.3 L257,335.3M225.1,187.2 L226.7,187.8 L228.3,190.8 L230,196.2 L231.6,204.3 L233.3,215.1 L235.1,228.5 L236.8,244 L238.6,260.9 L240.3,278.3 L242,294.9 L243.7,309.6 L245.4,321.1 L246.9,328.9 L248.5,333 L250,334.3 L251.5,334.4 L253,334.2 L254.4,334 L255.9,333.8 L257.4,333.6 L258.9,333.3 L260.4,332.6M257.8,169 L258.4,170.2 L258.9,173.5 L259.5,179.3 L260.1,187.6 L260.8,198.6 L261.4,212.1 L262.1,227.6 L262.7,244.6 L263.4,262.1 L264,278.9 L264.7,293.8 L265.3,305.7 L265.9,314 L266.5,318.7 L267,320.7 L267.6,321.5 L268.1,322 L268.7,322.5 L269.3,323 L269.8,323.6 L270.4,324 L270.9,324.1M209.2,196 L210.8,196.7 L212.5,199.7 L214.2,205.2 L215.9,213.5 L217.7,224.6 L219.6,238.2 L221.4,254 L223.3,271.2 L225.2,289 L227,305.9 L228.8,320.8 L230.5,332.6 L232.1,340.5 L233.7,344.7 L235.3,346 L236.8,346.1 L238.4,345.9 L239.9,345.7 L241.4,345.4 L242.9,345.2 L244.4,345 L246,344.2M271.6,161.3 L272.2,162.5 L272.8,165.8 L273.3,171.4 L273.9,179.6 L274.5,190.3 L275.1,203.5 L275.7,218.8 L276.3,235.4 L276.9,252.5 L277.5,269 L278.1,283.6 L278.7,295.3 L279.3,303.4 L279.8,308 L280.4,310 L280.9,310.8 L281.5,311.3 L282.1,311.8 L282.6,312.3 L283.2,312.8 L283.7,313.3 L284.3,313.2M192.5,205.3 L194.1,206 L195.9,209 L197.6,214.7 L199.5,223.1 L201.4,234.4 L203.3,248.3 L205.3,264.4 L207.3,282.1 L209.3,300.1 L211.2,317.4 L213.1,332.6 L214.9,344.6 L216.7,352.7 L218.3,356.9 L219.9,358.3 L221.5,358.3 L223.1,358.1 L224.6,357.9 L226.2,357.7 L227.8,357.5 L229.3,357.2 L230.9,356.4M284.9,154 L285.5,155.1 L286,158.3 L286.6,163.8 L287.1,171.8 L287.7,182.4 L288.3,195.3 L288.8,210.3 L289.4,226.6 L289.9,243.4 L290.5,259.6 L291,273.9 L291.6,285.4 L292.1,293.4 L292.6,297.9 L293.2,299.8 L293.8,300.5 L294.3,301 L294.9,301.5 L295.4,302 L296,302.5 L296.6,302.9 L297.1,302.9M174.9,215 L176.7,215.7 L178.5,218.8 L180.3,224.6 L182.2,233.2 L184.2,244.7 L186.3,259 L188.4,275.4 L190.5,293.4 L192.7,311.8 L194.7,329.5 L196.8,345 L198.7,357.2 L200.5,365.4 L202.2,369.7 L203.9,371.1 L205.5,371.2 L207.1,370.9 L208.7,370.7 L210.3,370.5 L211.9,370.2 L213.5,370 L215.1,369.2M297.6,146.9 L298.2,148 L298.7,151.1 L299.3,156.5 L299.8,164.4 L300.4,174.7 L300.9,187.4 L301.4,202.1 L301.9,218.1 L302.4,234.6 L302.9,250.5 L303.4,264.6 L303.9,275.9 L304.4,283.7 L305,288.1 L305.5,290 L306.1,290.7 L306.6,291.2 L307.2,291.6 L307.7,292.1 L308.3,292.5 L308.9,293 L309.4,292.9M156.5,225.2 L158.3,225.9 L160.2,229.1 L162.1,235 L164.1,243.8 L166.3,255.6 L168.4,270.1 L170.7,286.9 L173,305.2 L175.2,324.1 L177.4,342.1 L179.6,357.9 L181.6,370.4 L183.5,378.7 L185.3,383.1 L187,384.6 L188.7,384.6 L190.4,384.4 L192,384.1 L193.7,383.9 L195.3,383.6 L197,383.3 L198.6,382.5M309.8,140.1 L310.4,141.2 L311,144.3 L311.5,149.6 L312,157.3 L312.5,167.4 L313,179.9 L313.5,194.3 L313.9,210 L314.4,226.2 L314.8,241.8 L315.3,255.6 L315.8,266.7 L316.3,274.4 L316.8,278.7 L317.3,280.5 L317.9,281.2 L318.4,281.7 L319,282.1 L319.6,282.6 L320.1,283 L320.7,283.4 L321.2,283.4M137.2,236 L139,236.7 L141,239.9 L143,246 L145.1,255 L147.4,267 L149.7,281.8 L152.1,299 L154.5,317.7 L156.9,336.9 L159.3,355.3 L161.6,371.5 L163.7,384.2 L165.7,392.7 L167.6,397.2 L169.4,398.7 L171.1,398.7 L172.8,398.4 L174.5,398.2 L176.2,397.9 L177.9,397.7 L179.6,397.4 L181.3,396.5M321.6,133.6 L322.1,134.7 L322.7,137.7 L323.2,142.9 L323.7,150.4 L324.2,160.4 L324.6,172.6 L325.1,186.8 L325.5,202.2 L325.9,218.1 L326.3,233.4 L326.7,247 L327.2,257.9 L327.6,265.4 L328.2,269.7 L328.7,271.5 L329.2,272.1 L329.8,272.6 L330.4,273 L330.9,273.4 L331.5,273.8 L332,274.2 L332.6,274.2M116.8,247.3 L118.7,248 L120.7,251.3 L122.9,257.5 L125.1,266.7 L127.5,279 L129.9,294.1 L132.5,311.7 L135.1,330.8 L137.7,350.5 L140.2,369.2 L142.7,385.7 L145,398.7 L147.1,407.4 L149,412 L150.8,413.5 L152.6,413.5 L154.4,413.2 L156.1,412.9 L157.9,412.7 L159.6,412.4 L161.4,412.1 L163.1,411.2M334.5,136.8 L335,144.3 L335.4,154.2 L335.8,166.2 L336.2,180.2 L336.6,195.3 L337,210.9 L337.3,225.9 L337.7,239.1 L338.1,249.7 L338.6,256.9 L339.1,261 L339.6,262.8 L340.2,263.4 L340.8,263.8 L341.3,264.2 L341.9,264.6 L342.4,265 L343,265.4 L343.5,265.3M101.8,270 L104.1,279.6 L106.7,292.3 L109.3,307.9 L112,325.9 L114.8,345.4 L117.6,365.4 L120.3,384.5 L122.9,401.2 L125.3,414.3 L127.5,423 L129.5,427.6 L131.4,429 L133.2,429 L135,428.8 L136.8,428.5 L138.6,428.2 L140.4,427.9 L142.2,427.6 L144,426.7" fill="none" stroke="#3a3434" stroke-width="2.3" stroke-opacity="0.85"/>
<path d="M99.7,256.7 L100.2,258.2 L100.9,262.1 L101.6,268.7 L102.5,278.2 L103.6,290.7 L104.8,306 L106,323.8 L107.4,343.3 L108.8,363.8 L110.2,383.8 L111.5,402.2 L112.7,417.7 L113.7,429.3 L114.5,436.8 L115.1,440.7 L115.6,442.3 L116.1,443.2 L116.6,443.9 L117.1,444.7M352,255.9 L352.5,256.2 L353,256.6 L353.6,256.9 L354.1,256.8M330.7,128.6 L331.9,129.2 L333.1,131.5 L334.3,135.8 L335.5,142.3 L336.6,151 L337.7,161.7 L338.8,174.3 L339.8,188.1 L340.8,202.6 L341.8,216.9 L342.9,229.9 L343.9,240.7 L345,248.7 L346.1,253.5 L347.3,255.7 L348.4,256.2 L349.6,256.2 L350.8,256 L352,255.9M117.1,444.7 L118.8,444.4 L120.5,444.2 L122.2,443.8 L123.9,442.9" fill="none" stroke="#000" stroke-width="1.3"/>
<polygon points="123.9,442.9 354.1,256.8 354.8,254.9 125.8,439.4" fill="#ff2100" stroke="#ff2100" stroke-width="0.7"/>
<polygon points="125.8,439.4 354.8,254.9 355.5,249.4 127.6,431" fill="#ff2c00" stroke="#ff2c00" stroke-width="0.7"/>
<polygon points="127.6,431 355.5,249.4 356.3,239.7 129.1,417.1" fill="#ff4100" stroke="#ff4100" stroke-width="0.7"/>
<polygon points="129.1,417.1 356.3,239.7 357.2,226.4 130.4,398.3" fill="#ec9600" stroke="#ec9600" stroke-width="0.7"/>
<polygon points="130.4,398.3 357.2,226.4 358.1,210.7 131.6,376.3" fill="#a4da00" stroke="#a4da00" stroke-width="0.7"/>
<polygon points="131.6,376.3 358.1,210.7 359.1,194.3 132.8,353.2" fill="#61e402" stroke="#61e402" stroke-width="0.7"/>
<polygon points="132.8,353.2 359.1,194.3 360,178.4 134.1,330.9" fill="#49d806" stroke="#49d806" stroke-width="0.7"/>
<polygon points="134.1,330.9 360,178.4 361,164.3 135.4,310.9" fill="#33cd09" stroke="#33cd09" stroke-width="0.7"/>
<polygon points="135.4,310.9 361,164.3 361.8,152.7 136.9,294.4" fill="#5daa03" stroke="#5daa03" stroke-width="0.7"/>
<polygon points="136.9,294.4 361.8,152.7 362.7,143.9 138.6,281.7" fill="#7b8601" stroke="#7b8601" stroke-width="0.7"/>
<polygon points="138.6,281.7 362.7,143.9 363.5,138.1 140.5,273.1" fill="#826005" stroke="#826005" stroke-width="0.7"/>
<polygon points="140.5,273.1 363.5,138.1 364.2,135 142.5,268.2" fill="#874907" stroke="#874907" stroke-width="0.7"/>
<polygon points="142.5,268.2 364.2,135 364.9,134.4 144.6,266.7" fill="#893e08" stroke="#893e08" stroke-width="0.7"/>
<path d="M139.2,430.5 L139.6,428.8 L139.9,423.7 L140,414.6 L140,401.6 L139.8,385.4 L139.6,367.3 L139.4,348.5 L139.1,330.3 L139,313.6 L138.9,299.3 L139,287.6 L139.1,278.8M346.1,263.3 L347.4,261.2 L348.6,256.7 L350,249 L351.4,238.5 L352.8,225.6 L354.3,211.3 L355.7,196.5 L357.2,182.3 L358.7,169.3 L360.1,158.1 L361.5,148.9 L362.9,141.9M158.6,414.9 L159,413.1 L159.3,408 L159.5,398.9 L159.6,385.9 L159.5,369.7 L159.4,351.7 L159.3,333.2 L159.2,315.2 L159.2,298.9 L159.2,285 L159.4,273.7 L159.6,265.4 L160,260 L160.4,257.2 L160.9,256.9M335.3,272 L336.6,269.9 L337.9,265.2 L339.2,257.3 L340.6,246.3 L342.1,232.9 L343.6,218.2 L345,203 L346.5,188.5 L348,175.3 L349.5,163.9 L350.9,154.7 L352.3,147.8 L353.6,143.1 L355,140.4 L356.3,139.6M177,400 L177.4,398.2 L177.8,393.2 L178,384.3 L178.2,371.5 L178.2,355.7 L178.3,338.1 L178.3,319.9 L178.3,302.3 L178.3,286.4 L178.5,272.7 L178.7,261.7 L179,253.6 L179.4,248.2 L179.9,245.5 L180.4,245.2M324,281.1 L325.3,279 L326.6,274.2 L328,266.1 L329.4,254.9 L330.9,241.3 L332.3,226.3 L333.8,210.9 L335.3,196.1 L336.7,182.7 L338.2,171.1 L339.6,161.7 L341,154.6 L342.4,149.8 L343.8,147.1 L345.1,146.3M194.5,385.8 L195,384.1 L195.4,379.2 L195.7,370.4 L195.9,357.8 L196.1,342.4 L196.2,325.1 L196.3,307.3 L196.4,290.1 L196.6,274.5 L196.8,261.1 L197.1,250.3 L197.5,242.3 L197.9,237.1 L198.4,234.4 L198.9,234M312.3,290.6 L313.6,288.4 L315,283.5 L316.4,275.3 L317.8,263.9 L319.2,250.1 L320.6,234.8 L322.1,219.1 L323.6,204 L325,190.3 L326.5,178.5 L327.9,169 L329.3,161.8 L330.7,156.9 L332.1,154.1 L333.5,153.3M211.2,372.3 L211.7,370.6 L212.1,365.8 L212.5,357.1 L212.8,344.8 L213,329.6 L213.2,312.7 L213.4,295.2 L213.6,278.4 L213.9,263.1 L214.2,250 L214.6,239.4 L215,231.6 L215.4,226.5 L216,223.8 L216.5,223.5M300.1,300.5 L301.5,298.2 L302.8,293.2 L304.2,284.9 L305.6,273.3 L307,259.2 L308.5,243.6 L309.9,227.6 L311.4,212.3 L312.8,198.3 L314.3,186.3 L315.7,176.6 L317.2,169.2 L318.6,164.2 L320,161.4 L321.4,160.5M227.2,359.4 L227.7,357.7 L228.1,353 L228.5,344.5 L228.9,332.4 L229.2,317.5 L229.5,300.9 L229.8,283.8 L230.1,267.3 L230.4,252.3 L230.8,239.4 L231.2,229.1 L231.7,221.4 L232.2,216.4 L232.7,213.8 L233.2,213.4M287.4,310.7 L288.8,308.4 L290.2,303.3 L291.6,294.8 L293,283 L294.4,268.7 L295.8,252.8 L297.2,236.5 L298.7,220.9 L300.1,206.6 L301.6,194.4 L303,184.5 L304.5,177 L305.9,171.9 L307.3,169 L308.7,168.1M242.4,347.1 L242.9,345.4 L243.4,340.8 L243.9,332.4 L244.3,320.6 L244.6,305.9 L245,289.6 L245.4,272.9 L245.8,256.7 L246.2,242 L246.6,229.4 L247.1,219.2 L247.6,211.7 L248.1,206.8 L248.6,204.2 L249.2,203.9M274.2,321.4 L275.6,319.1 L277,313.9 L278.4,305.2 L279.8,293.2 L281.2,278.6 L282.6,262.4 L284,245.8 L285.4,229.9 L286.8,215.3 L288.3,202.8 L289.7,192.7 L291.2,185.1 L292.6,179.9 L294.1,176.9 L295.6,176M257,335.3 L257.5,333.7 L258,329.1 L258.5,320.9 L259,309.2 L259.4,294.9 L259.8,278.9 L260.3,262.4 L260.7,246.5 L261.2,232.1 L261.7,219.8 L262.2,209.8 L262.7,202.5 L263.3,197.6 L263.8,195.1 L264.4,194.7M260.4,332.6 L261.8,330.2 L263.2,324.9 L264.6,316.1 L266,303.8 L267.4,288.9 L268.8,272.4 L270.2,255.5 L271.6,239.2 L273,224.4 L274.4,211.7 L275.9,201.3 L277.3,193.5 L278.8,188.2 L280.3,185.2 L281.8,184.3M270.9,324.1 L271.5,322.4 L272,317.9 L272.5,309.8 L273,298.4 L273.5,284.3 L274,268.6 L274.5,252.4 L275.1,236.9 L275.6,222.7 L276.1,210.6 L276.7,200.8 L277.2,193.6 L277.8,188.8 L278.4,186.4 L279,186M246,344.2 L247.4,341.8 L248.9,336.4 L250.3,327.4 L251.6,314.9 L253,299.7 L254.3,282.9 L255.7,265.6 L257.1,249 L258.5,233.9 L259.9,220.9 L261.4,210.3 L262.8,202.4 L264.3,197 L265.9,193.9 L267.4,193M284.3,313.2 L284.8,311.6 L285.4,307.2 L285.9,299.3 L286.5,288 L287,274.2 L287.6,258.7 L288.2,242.9 L288.8,227.6 L289.3,213.7 L289.9,201.8 L290.5,192.2 L291.1,185.1 L291.7,180.5 L292.3,178 L292.8,177.7M230.9,356.4 L232.4,353.9 L233.8,348.4 L235.2,339.2 L236.6,326.5 L237.9,311 L239.3,293.8 L240.6,276.2 L241.9,259.3 L243.3,243.8 L244.7,230.6 L246.2,219.8 L247.7,211.6 L249.2,206.1 L250.7,203 L252.3,202M297.1,302.9 L297.7,301.3 L298.2,296.9 L298.8,289.1 L299.4,278.1 L300,264.5 L300.6,249.3 L301.2,233.7 L301.9,218.7 L302.5,205.1 L303.1,193.4 L303.7,184 L304.4,177 L305,172.4 L305.6,170.1 L306.1,169.7M215.1,369.2 L216.6,366.6 L218.1,361 L219.5,351.6 L220.9,338.6 L222.2,322.8 L223.5,305.3 L224.8,287.3 L226.1,270 L227.4,254.2 L228.8,240.7 L230.3,229.7 L231.8,221.3 L233.3,215.7 L234.9,212.5 L236.5,211.5M309.4,292.9 L310,291.3 L310.6,287 L311.2,279.4 L311.8,268.5 L312.4,255.1 L313.1,240.3 L313.8,224.9 L314.4,210.2 L315.1,196.8 L315.8,185.4 L316.4,176.1 L317.1,169.3 L317.7,164.8 L318.3,162.4 L318.9,162M198.6,382.5 L200.2,379.9 L201.6,374.2 L203,364.6 L204.4,351.3 L205.7,335.2 L206.9,317.3 L208.2,298.9 L209.4,281.2 L210.8,265.1 L212.2,251.3 L213.6,240 L215.1,231.5 L216.7,225.7 L218.3,222.5 L219.9,221.4M321.2,283.4 L321.8,281.8 L322.4,277.5 L323,270 L323.7,259.3 L324.4,246.2 L325.1,231.6 L325.8,216.5 L326.5,202 L327.2,188.9 L327.9,177.6 L328.6,168.6 L329.3,161.8 L329.9,157.4 L330.5,155.1 L331.1,154.7M181.3,396.5 L182.9,393.9 L184.4,388 L185.8,378.2 L187.1,364.6 L188.3,348.1 L189.5,329.9 L190.7,311.1 L192,293.1 L193.3,276.6 L194.6,262.4 L196.1,250.9 L197.6,242.2 L199.2,236.3 L200.8,232.9 L202.5,231.9M332.6,274.2 L333.2,272.6 L333.8,268.4 L334.4,261 L335.1,250.5 L335.9,237.6 L336.6,223.2 L337.4,208.4 L338.1,194.2 L338.9,181.3 L339.6,170.2 L340.3,161.3 L341,154.7 L341.6,150.3 L342.2,148.1 L342.8,147.7M163.1,411.2 L164.7,408.5 L166.2,402.5 L167.6,392.5 L168.9,378.6 L170.1,361.8 L171.3,343.1 L172.4,323.9 L173.6,305.5 L174.9,288.6 L176.2,274.1 L177.7,262.4 L179.2,253.5 L180.8,247.4 L182.5,244 L184.2,242.9M343.5,265.3 L344.1,263.8 L344.7,259.7 L345.4,252.4 L346.1,242 L346.9,229.3 L347.7,215.2 L348.5,200.7 L349.2,186.7 L350,174 L350.8,163.1 L351.5,154.3 L352.2,147.8 L352.8,143.5 L353.5,141.3 L354.1,140.9M144,426.7 L145.6,423.9 L147.2,417.7 L148.6,407.5 L149.8,393.4 L151,376.1 L152.1,357 L153.2,337.4 L154.3,318.5 L155.5,301.3 L156.8,286.5 L158.3,274.4 L159.8,265.3 L161.4,259.1 L163.1,255.6 L164.9,254.5" fill="none" stroke="#1c1c1c" stroke-width="1.2" stroke-opacity="0.7"/>
<path d="M354.1,256.8 L354.7,255.3 L355.3,251.2 L356,244.1 L356.7,233.9 L357.5,221.4 L358.3,207.5 L359.1,193.2 L360,179.4 L360.8,166.9 L361.5,156.2 L362.3,147.6 L363,141.2 L363.7,137 L364.3,134.8 L364.9,134.4M123.9,442.9 L125.6,440.1 L127.1,433.8 L128.5,423.3 L129.7,408.9 L130.8,391.2 L131.9,371.7 L132.9,351.7 L134,332.3 L135.1,314.7 L136.4,299.5 L137.8,287.1 L139.3,277.8 L141,271.4 L142.7,267.8 L144.6,266.7" fill="none" stroke="#000" stroke-width="1.3"/>
<polygon points="144.6,266.7 364.9,134.4 365.3,135.1 365.6,136.4 366,138.2 148.5,270.5 147.2,268.5 145.9,267.1" fill="#8c0024"/>
<polygon points="146.1,267.3 146.1,267.3 150.2,264.6 155.3,261.4 160.3,258.5 161.3,257.9 161.6,259 163.6,257.6 166.5,255.6 166.4,255.1 170.2,252.5 175.1,249.5 179.9,246.7 180.8,246.2 181.1,247.2 182.9,245.9 185.7,244 185.6,243.5 189.3,241.1 193.9,238.2 198.4,235.5 199.3,235 199.6,236.1 201.3,234.8 204,233 203.9,232.5 207.4,230.2 211.7,227.5 216.1,224.9 216.9,224.4 217.2,225.5 218.8,224.2 221.4,222.5 221.3,222.1 224.6,219.8 228.7,217.2 232.8,214.8 233.6,214.4 233.9,215.4 235.5,214.2 237.9,212.6 237.8,212.1 240.9,210 244.9,207.5 248.8,205.2 249.6,204.8 249.9,205.7 251.4,204.6 253.7,203 253.6,202.6 256.5,200.6 260.3,198.2 264.1,196 264.8,195.6 265.1,196.5 266.5,195.4 268.7,194 268.6,193.6 271.4,191.6 275,189.3 278.6,187.2 279.4,186.9 279.6,187.8 281,186.7 283.1,185.3 283,184.9 285.7,183 289.1,180.9 292.6,178.9 293.2,178.5 293.5,179.4 294.8,178.4 296.8,177 296.7,176.6 299.3,174.8 302.6,172.8 305.9,170.8 306.5,170.5 306.8,171.4 308.1,170.4 310,169.1 309.9,168.7 312.3,167 315.5,165 318.7,163.2 319.3,162.8 319.5,163.7 320.7,162.7 322.6,161.5 322.5,161.1 324.8,159.5 327.9,157.6 330.9,155.8 331.5,155.5 331.8,156.3 332.9,155.4 334.6,154.2 334.5,153.8 336.8,152.2 339.7,150.4 342.6,148.7 343.2,148.4 343.5,149.2 344.6,148.4 346.2,147.2 346.1,146.8 348.3,145.3 351.1,143.6 353.9,141.9 354.5,141.6 354.7,142.4 355.8,141.6 357.4,140.5 357.3,140.1 359.4,138.7 362.1,137 364.7,135.4 365.3,135.1 365.5,135.9 365.8,137 366.2,139.6 366.7,142.9 151.1,276.1 149.4,272.2 147.7,269.2" fill="#8e0029"/>
<polygon points="147.6,269 147.6,269 150.6,266.6 155.7,263.1 161.7,259.8 162.3,263.3 164.2,261.3 167.1,258.9 168.1,258.2 167.8,256.7 170.7,254.4 175.5,251.2 181.2,248 181.8,251.4 183.6,249.5 186.3,247.2 187.3,246.6 187,245.1 189.7,242.9 194.2,239.8 199.7,236.8 200.3,240.1 202,238.3 204.6,236.1 205.5,235.5 205.2,234.1 207.8,232 212.1,229 217.3,226.2 217.9,229.4 219.5,227.6 222,225.6 222.8,225 222.6,223.6 225,221.6 229.1,218.8 234.1,216 234.6,219.2 236.1,217.5 238.5,215.5 239.3,215 239.1,213.6 241.4,211.7 245.3,209 250,206.4 250.6,209.4 252,207.8 254.2,205.9 255,205.4 254.8,204.1 257,202.2 260.7,199.7 265.2,197.2 265.8,200.2 267.1,198.6 269.3,196.8 270,196.3 269.8,195 271.9,193.2 275.4,190.8 279.8,188.4 280.3,191.3 281.6,189.8 283.6,188 284.3,187.6 284.1,186.3 286.1,184.6 289.5,182.2 293.6,180 294.2,182.8 295.4,181.4 297.4,179.7 298,179.2 297.8,178 299.7,176.4 303,174.1 306.9,172 307.4,174.7 308.6,173.3 310.5,171.7 311.1,171.3 310.9,170.1 312.8,168.5 315.9,166.3 319.7,164.3 320.2,167 321.3,165.6 323.1,164.1 323.7,163.6 323.5,162.4 325.2,160.9 328.2,158.8 331.9,156.9 332.4,159.5 333.5,158.2 335.2,156.7 335.8,156.3 335.6,155.1 337.2,153.7 340.1,151.7 343.6,149.8 344.1,152.4 345.1,151.1 346.8,149.7 347.3,149.3 347.1,148.1 348.7,146.7 351.5,144.8 354.8,143 355.3,145.5 356.3,144.3 357.9,142.9 358.4,142.5 358.2,141.4 359.8,140 362.4,138.2 365.6,136.5 366.1,139 366.3,140.1 366.8,144.4 367.3,149.3 153.9,283.9 151.8,277.8 149.7,272.8" fill="#950033"/>
<polygon points="149.2,271.8 149.1,271.2 151,269.3 156.1,265.4 162.2,262.2 163.1,269.3 164,267.8 164.9,266.5 167.7,263.4 169.3,258.9 169.3,258.9 171.1,257 175.9,253.4 181.6,250.4 182.6,257.3 183.4,255.8 184.3,254.5 187,251.6 188.4,247.2 188.4,247.2 190.1,245.5 194.6,242 200.1,239.1 201.1,245.9 201.9,244.5 202.7,243.2 205.2,240.3 206.5,236.2 206.6,236.1 208.2,234.5 212.5,231.1 217.7,228.4 218.6,235 219.4,233.6 220.2,232.4 222.5,229.7 223.8,225.6 223.8,225.6 225.4,224 229.5,220.8 234.4,218.2 235.3,224.7 236.1,223.3 236.8,222.2 239.1,219.5 240.3,215.6 240.3,215.6 241.8,214 245.6,211 250.4,208.5 251.3,214.8 251.9,213.5 252.6,212.4 254.8,209.9 255.9,206 256,206 257.4,204.5 261.1,201.6 265.6,199.3 266.5,205.4 267.1,204.2 267.8,203.1 269.8,200.6 270.9,196.9 270.9,196.9 272.3,195.5 275.8,192.7 280.1,190.4 281,196.4 281.6,195.2 282.2,194.2 284.2,191.8 285.2,188.2 285.2,188.2 286.5,186.8 289.9,184.1 294,182 294.8,187.9 295.4,186.7 296,185.7 297.9,183.4 298.9,179.9 298.9,179.9 300.1,178.5 303.3,175.9 307.3,173.9 308.1,179.6 308.7,178.5 309.2,177.5 311,175.3 311.9,171.9 312,171.9 313.1,170.6 316.2,168.1 320,166.2 320.8,171.8 321.3,170.7 321.9,169.7 323.6,167.6 324.5,164.2 324.5,164.2 325.6,163 328.6,160.6 332.2,158.7 333,164.2 333.5,163.2 334,162.2 335.7,160.2 336.5,156.9 336.5,156.9 337.6,155.7 340.4,153.4 343.9,151.6 344.7,157 345.2,156 345.7,155.1 347.3,153 348,149.9 348.1,149.9 349.1,148.7 351.8,146.5 355.2,144.8 355.9,150.1 356.4,149 356.9,148.2 358.4,146.2 359.1,143.1 359.1,143.1 360.1,142 362.7,139.8 366,138.2 366.7,143.4 366.9,145 367.6,152.1 368.3,160.1 158,297 155,287.3 152.1,278.6" fill="#a10043"/>
<polygon points="150.8,275.3 150.5,273.3 151.5,272.1 156.4,267.4 162.5,264.4 164.3,279.3 165.9,274.5 168.5,269.6 171.4,267.3 170.6,261 171.5,259.8 176.1,255.3 182,252.5 183.7,267 185.2,262.3 187.7,257.7 190.4,255.5 189.7,249.3 190.5,248.1 194.9,243.8 200.4,241.2 202.1,255.4 203.6,250.8 205.9,246.3 208.5,244.2 207.8,238.2 208.6,237 212.8,232.9 218,230.4 219.6,244.3 221,239.8 223.2,235.5 225.7,233.5 225,227.6 225.8,226.5 229.7,222.6 234.7,220.2 236.3,233.7 237.6,229.4 239.7,225.2 242.1,223.3 241.4,217.5 242.1,216.5 245.9,212.7 250.7,210.4 252.2,223.7 253.4,219.5 255.5,215.4 257.7,213.5 257.1,207.9 257.7,206.9 261.3,203.3 265.9,201.1 267.4,214.1 268.5,210 270.5,206.1 272.6,204.3 272,198.8 272.6,197.8 276.1,194.3 280.4,192.3 281.9,204.9 283,200.9 284.8,197.1 286.9,195.4 286.2,190 286.8,189.1 290.1,185.7 294.3,183.8 295.7,196.1 296.8,192.3 298.5,188.6 300.5,186.9 299.9,181.7 300.4,180.8 303.6,177.5 307.6,175.6 309,187.7 310,184 311.6,180.4 313.5,178.8 312.9,173.6 313.5,172.8 316.5,169.6 320.3,167.9 321.6,179.7 322.6,176.1 324.2,172.6 326,171 325.4,166 325.9,165.1 328.8,162.1 332.5,160.4 333.8,172 334.7,168.4 336.3,165 338,163.5 337.4,158.6 337.9,157.8 340.7,154.8 344.2,153.3 345.5,164.6 346.3,161.1 347.8,157.8 349.5,156.4 348.9,151.6 349.4,150.8 352,147.9 355.4,146.4 356.7,157.5 357.5,154.1 358.9,150.9 360.5,149.5 360,144.8 360.4,144 363,141.2 366.2,139.8 367.5,150.7 367.5,150.8 368.3,160.9 369.2,171.6 162,311.2 158.3,298.1 154.5,285.7" fill="#af005a"/>
<polygon points="152.4,279.5 151.9,275.2 156.7,269.6 162.8,266.6 165.4,290.4 166.8,283.2 167.6,280.4 169.2,276.3 173,272.9 171.9,262.9 176.4,257.4 182.2,254.6 184.8,277.8 186.1,270.9 186.8,268.1 188.4,264.1 192,260.9 190.9,251.1 195.2,245.9 200.7,243.3 203.2,265.9 204.4,259.1 205.1,256.5 206.6,252.6 210,249.5 209,240 213,234.9 218.3,232.5 220.7,254.6 221.8,248 222.5,245.4 223.9,241.6 227.2,238.7 226.2,229.4 230,224.5 235,222.2 237.3,243.8 238.4,237.4 239,234.9 240.4,231.2 243.5,228.4 242.5,219.3 246.2,214.6 250.9,212.4 253.2,233.5 254.2,227.2 254.8,224.8 256.1,221.3 259.1,218.6 258.1,209.7 261.6,205.2 266.1,203.1 268.3,223.7 269.3,217.6 269.8,215.2 271.1,211.8 273.9,209.2 273,200.5 276.3,196.1 280.7,194.1 282.7,214.3 283.7,208.4 284.2,206.1 285.4,202.7 288.1,200.2 287.2,191.7 290.4,187.5 294.5,185.6 296.6,205.3 297.5,199.5 298,197.3 299.1,194 301.7,191.6 300.8,183.3 303.8,179.2 307.8,177.4 309.8,196.7 310.6,191.1 311.1,188.9 312.2,185.8 314.7,183.4 313.8,175.3 316.7,171.3 320.5,169.6 322.4,188.5 323.3,183 323.7,180.9 324.7,177.8 327.1,175.6 326.3,167.6 329.1,163.8 332.7,162.1 334.6,180.6 335.4,175.3 335.8,173.2 336.8,170.2 339.1,168 338.2,160.2 340.9,156.5 344.4,154.9 346.2,173.1 347,167.8 347.4,165.8 348.3,162.9 350.5,160.8 349.7,153.1 352.3,149.5 355.7,148 357.4,165.8 358.1,160.7 358.5,158.7 359.4,155.8 361.5,153.8 360.8,146.3 363.2,142.8 366.5,141.4 368.2,158.8 368,157.1 369,169.8 370.1,182.6 165.9,324.5 161.4,308.9 156.9,293.4" fill="#be0075"/>
<polygon points="154,284.2 153.2,277.1 157,272.1 163.1,269 166.5,301.4 167.7,292 169.1,285.2 169.9,282.7 173.6,278.2 174.7,278.4 173.2,264.7 176.8,259.9 182.5,257 185.8,288.5 186.9,279.4 188.3,272.8 189,270.4 192.6,266.1 193.6,266.3 192.1,253 195.5,248.3 201,245.6 204.2,276.4 205.2,267.4 206.5,261.1 207.2,258.7 210.6,254.6 211.5,254.8 210.1,241.8 213.3,237.3 218.6,234.7 221.6,264.8 222.6,256.1 223.8,249.9 224.5,247.6 227.7,243.7 228.6,243.8 227.3,231.1 230.3,226.8 235.3,224.4 238.2,253.7 239.2,245.3 240.3,239.3 241,237.1 244,233.2 244.8,233.4 243.6,221 246.5,216.9 251.2,214.5 254,243.2 254.9,235 256,229.1 256.6,227 259.5,223.3 260.3,223.5 259.1,211.4 261.9,207.3 266.4,205.1 269.1,233.2 270,225.2 271,219.4 271.6,217.4 274.4,213.8 275.1,214 274,202.2 276.6,198.3 280.9,196.2 283.6,223.6 284.4,215.8 285.3,210.2 285.9,208.2 288.5,204.7 289.3,204.9 288.1,193.4 290.6,189.6 294.8,187.6 297.3,214.4 298.1,206.8 299,201.4 299.6,199.4 302.1,196.1 302.8,196.3 301.7,184.9 304.1,181.3 308.1,179.4 310.5,205.7 311.3,198.2 312.2,192.9 312.7,191 315.1,187.8 315.8,188 314.7,176.9 317,173.3 320.8,171.5 323.2,197.3 323.9,190 324.7,184.8 325.2,182.9 327.5,179.8 328.2,180 327.1,169.1 329.3,165.7 333,164 335.3,189.2 335.9,182.1 336.8,177 337.2,175.2 339.4,172.2 340.1,172.4 339,161.7 341.1,158.4 344.6,156.8 346.9,181.5 347.5,174.5 348.3,169.6 348.8,167.8 350.9,164.9 351.5,165.1 350.5,154.6 352.5,151.4 355.9,149.8 358.1,174.1 358.7,167.2 359.4,162.4 359.9,160.7 361.9,157.8 362.5,158 361.5,147.8 363.4,144.6 366.7,143.2 368.8,166.9 368.5,163 369.6,177.3 370.8,191.3 169,335 164,318.1 159,300.7" fill="#c60092"/>
<polygon points="155.6,289.3 154.6,279.4 157.4,275.5 163.5,272.1 167.4,310.8 168.4,299.7 170.5,288.6 174.1,282.9 174.5,267 174.5,267 177.1,263.2 182.9,260 186.7,297.7 187.7,287 189.6,276.2 193,270.6 193.4,255.2 193.4,255.2 195.9,251.5 201.4,248.5 205,285.3 205.9,274.8 207.8,264.4 211,259 211.3,244 211.3,244 213.7,240.4 218.9,237.6 222.4,273.5 223.3,263.3 225,253.1 228.1,248 228.4,233.3 228.4,233.3 230.7,229.9 235.6,227.2 239,262.2 239.8,252.3 241.5,242.4 244.4,237.4 244.6,223.2 244.7,223.1 246.8,219.9 251.5,217.3 254.8,251.5 255.6,241.9 257.1,232.2 259.9,227.4 260.1,213.5 260.2,213.4 262.2,210.3 266.7,207.8 269.9,241.3 270.6,231.9 272.1,222.5 274.7,217.8 274.9,204.2 275,204.2 276.9,201.1 281.2,198.8 284.2,231.6 284.9,222.4 286.4,213.2 288.9,208.7 289.1,195.4 289.1,195.4 291,192.4 295.1,190.2 298,222.2 298.7,213.2 300,204.3 302.4,199.9 302.6,186.9 302.6,186.9 304.4,184 308.3,181.9 311.2,213.3 311.8,204.5 313.1,195.8 315.4,191.5 315.6,178.8 315.6,178.8 317.3,176 321,174 323.8,204.7 324.4,196.2 325.6,187.6 327.8,183.5 328,171.1 328,171.1 329.6,168.3 333.2,166.4 335.9,196.5 336.5,188.2 337.6,179.8 339.8,175.8 339.9,163.6 339.9,163.6 341.4,161 344.9,159.1 347.5,188.7 348,180.5 349.2,172.3 351.2,168.4 351.3,156.5 351.3,156.5 352.8,153.9 356.1,152.1 358.6,181.1 359.2,173.1 360.2,165.1 362.2,161.3 362.3,149.6 362.3,149.6 363.7,147.1 366.9,145.4 369.4,173.9 369,169.1 370.2,184.8 371.5,199.8 172,345.1 166.7,327.2 161.2,308.1" fill="#d000b1"/>
<polygon points="157.3,294.7 156,281.9 157.8,279.2 163.8,275.5 168.3,320.1 169.2,307.5 171.1,294.5 171.8,291.7 174.5,287.3 177.7,288.6 175.8,269.4 177.6,266.8 183.3,263.3 187.6,306.8 188.4,294.6 190.2,281.9 190.9,279.2 193.4,275 196.5,276.3 194.6,257.5 196.3,255 201.7,251.7 205.8,294.1 206.6,282.2 208.3,270 209,267.3 211.4,263.2 214.3,264.6 212.5,246.3 214.1,243.9 219.3,240.7 223.2,282.1 224,270.5 225.5,258.6 226.2,256 228.5,252.1 231.2,253.4 229.5,235.6 231,233.2 235.9,230.2 239.8,270.7 240.5,259.4 242,247.8 242.6,245.3 244.8,241.5 247.4,242.8 245.7,225.4 247.2,223.1 251.9,220.2 255.5,259.8 256.2,248.8 257.6,237.5 258.2,235 260.3,231.3 262.8,232.7 261.2,215.6 262.6,213.5 267,210.7 270.6,249.4 271.2,238.7 272.5,227.6 273.1,225.2 275.1,221.7 277.5,223 275.9,206.3 277.2,204.2 281.5,201.6 284.9,239.5 285.5,229 286.8,218.2 287.3,215.9 289.2,212.4 291.5,213.8 290,197.5 291.3,195.4 295.4,192.9 298.7,230 299.2,219.7 300.4,209.2 301,206.9 302.8,203.6 305,205 303.5,189 304.7,187 308.6,184.6 311.8,220.9 312.3,210.9 313.5,200.6 314,198.4 315.7,195.1 317.8,196.5 316.4,180.9 317.6,178.9 321.3,176.6 324.4,212.2 324.9,202.4 326,192.3 326.5,190.2 328.1,187 330.2,188.4 328.8,173.1 329.9,171.2 333.5,169 336.5,203.8 336.9,194.2 338,184.4 338.5,182.3 340,179.3 342,180.6 340.7,165.6 341.7,163.8 345.2,161.7 348.1,195.8 348.5,186.4 349.5,176.8 350,174.8 351.5,171.8 353.4,173.2 352.1,158.4 353.1,156.7 356.4,154.6 359.2,188.1 359.6,178.9 360.6,169.5 361,167.5 362.5,164.6 364.3,166 363,151.5 364,149.8 367.2,147.9 369.9,180.7 369.5,175.8 370.9,193.1 372.3,209.2 175.6,356.2 169.6,337.1 163.5,316.2" fill="#da00d6"/>
<polygon points="159.2,301.2 157.5,284.9 158.3,283.8 164.3,279.6 169.4,330.7 170.1,316.6 171.7,301.4 173.4,295 175,292.3 179.5,294.8 177.3,272.4 178,271.3 183.7,267.3 188.6,317.2 189.2,303.4 190.8,288.6 192.3,282.4 193.9,279.8 198.2,282.3 196.1,260.5 196.8,259.4 202.1,255.6 206.8,304.3 207.4,290.9 208.9,276.5 210.4,270.5 211.8,268 215.9,270.5 213.9,249.2 214.5,248.2 219.7,244.5 224.2,292 224.7,279 226.1,265 227.5,259.1 228.9,256.7 232.8,259.2 230.9,238.4 231.5,237.4 236.3,233.9 240.7,280.4 241.2,267.6 242.5,254 243.8,248.3 245.2,246 248.9,248.5 247,228.1 247.6,227.2 252.2,223.9 256.4,269.2 256.9,256.8 258.1,243.6 259.4,238 260.7,235.8 264.2,238.3 262.4,218.4 263,217.5 267.4,214.3 271.4,258.6 271.9,246.5 273.1,233.6 274.3,228.2 275.5,226 278.9,228.5 277.1,209 277.6,208.2 281.9,205.1 285.7,248.5 286.2,236.7 287.3,224 288.4,218.8 289.6,216.7 292.8,219.2 291.2,200.1 291.7,199.3 295.7,196.3 299.4,238.8 299.9,227.2 300.9,214.9 302,209.8 303.1,207.7 306.2,210.2 304.6,191.6 305.1,190.8 309,187.9 312.6,229.5 313,218.2 314,206.2 315,201.2 316.1,199.2 319,201.7 317.5,183.4 317.9,182.6 321.6,179.9 325.1,220.7 325.5,209.6 326.5,197.8 327.5,192.9 328.5,191 331.3,193.5 329.8,175.6 330.3,174.8 333.8,172.2 337.2,212.1 337.5,201.3 338.4,189.8 339.4,185 340.4,183.2 343.1,185.6 341.6,168.1 342.1,167.3 345.5,164.8 348.8,204 349.1,193.4 349.9,182.1 350.9,177.4 351.8,175.6 354.4,178.1 353,160.9 353.4,160.1 356.7,157.7 359.9,196.1 360.2,185.7 361,174.7 361.9,170.2 362.8,168.4 365.3,170.8 363.9,153.9 364.3,153.2 367.5,150.9 370.5,188.6 370,182.5 371.6,200.5 373.1,216.9 178.7,365.2 172.3,346 165.8,324.3" fill="#c100dd"/>
<polygon points="161.1,307.9 159.2,288.7 164.8,284.4 170.2,339.2 170.9,324.9 172.4,308.1 174.9,298.1 175.5,297.1 180.9,300.2 181.3,301 178.9,276.1 184.2,272 189.5,326.5 190,311.5 191.4,295.1 193.8,285.4 194.3,284.5 199.5,287.6 199.9,288.4 197.6,264.1 202.6,260.2 207.7,313.4 208.2,298.8 209.5,282.9 211.7,273.4 212.3,272.6 217.2,275.6 217.5,276.4 215.3,252.7 220.1,249 225,300.9 225.5,286.7 226.7,271.2 228.8,262 229.3,261.2 234,264.3 234.4,265 232.2,241.9 236.8,238.3 241.5,289 241.9,275.2 243.1,260.1 245.1,251.2 245.6,250.4 250,253.4 250.4,254.2 248.3,231.6 252.6,228.2 257.2,277.7 257.6,264.2 258.7,249.5 260.6,240.8 261.1,240.1 265.3,243.1 265.6,243.8 263.7,221.7 267.8,218.5 272.2,266.9 272.5,253.8 273.6,239.4 275.4,231 275.8,230.2 279.9,233.2 280.2,233.9 278.3,212.3 282.3,209.2 286.5,256.6 286.8,243.8 287.8,229.7 289.5,221.5 290,220.8 293.8,223.8 294.1,224.5 292.3,203.4 296.1,200.4 300.2,246.7 300.5,234.2 301.4,220.5 303.1,212.5 303.5,211.8 307.2,214.8 307.5,215.5 305.7,194.8 309.3,191.9 313.3,237.3 313.5,225 314.4,211.6 316,203.8 316.4,203.1 320,206.1 320.2,206.8 318.5,186.5 322,183.8 325.8,228.3 326.1,216.3 326.9,203.2 328.4,195.5 328.8,194.9 332.2,197.9 332.5,198.5 330.8,178.7 334.2,176 337.8,219.6 338.1,207.9 338.9,195 340.3,187.6 340.7,186.9 344,189.9 344.2,190.6 342.6,171.1 345.8,168.5 349.4,211.3 349.6,199.8 350.4,187.2 351.8,180 352.1,179.3 355.3,182.3 355.5,182.9 354,163.8 357,161.3 360.5,203.3 360.7,192 361.4,179.7 362.7,172.6 363.1,172 366.1,175 366.3,175.6 364.8,156.8 367.8,154.4 371.1,195.6 370.6,188.8 372.2,207.3 373.8,223.6 181.5,372.9 174.9,354 168.1,332" fill="#a100e0"/>
<polygon points="163,314.5 160.9,293.1 165.3,289.9 170.2,339.2 171.7,332.9 173,314.7 175.9,302 176.4,301.3 181.2,303.5 183.1,307.2 180.5,280.4 184.7,277.3 190.4,335.1 190.8,319.3 192,301.6 194.8,289.3 195.2,288.7 199.8,290.8 201.6,294.5 199.1,268.3 203.1,265.4 208.5,321.7 208.9,306.4 210.1,289.1 212.7,277.2 213.1,276.6 217.5,278.8 219.2,282.4 216.8,256.9 220.6,254.1 225.8,309.1 226.2,294.1 227.3,277.3 229.7,265.8 230.1,265.2 234.3,267.3 235.9,270.9 233.6,246 237.2,243.3 242.3,297 242.6,282.5 243.6,266.1 246,254.8 246.3,254.2 250.3,256.4 251.8,259.9 249.7,235.6 253.1,233 257.9,285.5 258.2,271.3 259.2,255.3 261.4,244.4 261.8,243.8 265.6,246 267,249.4 264.9,225.6 268.2,223.2 272.9,274.6 273.1,260.7 274.1,245.1 276.2,234.4 276.5,233.9 280.1,236.1 281.6,239.5 279.5,216.2 282.7,213.8 287.2,264.1 287.4,250.5 288.3,235.3 290.3,224.9 290.6,224.4 294.1,226.6 295.5,229.9 293.5,207.1 296.5,204.9 300.8,254.1 301,240.8 301.9,226 303.8,215.8 304.1,215.3 307.4,217.5 308.7,220.8 306.8,198.5 309.7,196.3 313.9,244.5 314.1,231.5 314.9,217 316.7,207.1 317,206.6 320.2,208.8 321.5,212 319.6,190.2 322.4,188.1 326.4,235.3 326.6,222.6 327.3,208.4 329.1,198.8 329.4,198.3 332.4,200.5 333.6,203.6 331.9,182.2 334.5,180.2 338.4,226.5 338.6,214.1 339.3,200.2 341,190.8 341.3,190.3 344.2,192.5 345.3,195.6 343.6,174.6 346.2,172.7 350,218 350.1,205.9 350.8,192.3 352.4,183.1 352.7,182.6 355.5,184.8 356.6,187.9 354.9,167.3 357.4,165.4 361,209.9 361.2,198 361.8,184.7 363.3,175.7 363.6,175.3 366.3,177.5 367.4,180.4 365.8,160.2 368.1,158.4 371.7,202.1 371.1,195 372.8,213.7 374.5,229.8 184.3,379.9 177.4,361.5 170.3,339.4" fill="#7e00e3"/>
<polygon points="164.9,321.1 162.6,297.9 165.9,295.6 170.2,339.2 172.5,340.8 173.7,321.3 176.4,307 177.9,304.9 181.5,306.8 184.9,313.5 182.2,285 185.3,282.9 191.2,343.4 191.6,327 192.7,308.1 195.3,294.2 196.7,292.1 200.1,294 203.3,300.6 200.7,272.9 203.6,270.8 209.4,329.9 209.7,313.9 210.7,295.5 213.1,282 214.5,280 217.8,281.9 220.8,288.4 218.3,261.3 221.1,259.3 226.6,317 226.9,301.5 227.8,283.5 230.2,270.4 231.5,268.5 234.6,270.4 237.5,276.8 235.1,250.3 237.7,248.4 243,304.8 243.3,289.6 244.2,272.1 246.4,259.4 247.6,257.5 250.6,259.5 253.3,265.7 251,239.8 253.6,238 258.7,293.1 258.9,278.3 259.7,261.2 261.8,248.8 263,247.1 265.8,249 268.5,255.1 266.3,229.8 268.7,228.1 273.6,282 273.8,267.6 274.6,250.9 276.6,238.8 277.7,237.1 280.4,239 282.9,245 280.8,220.3 283.1,218.6 287.9,271.4 288,257.3 288.8,241 290.7,229.2 291.8,227.5 294.3,229.4 296.8,235.4 294.7,211.2 296.9,209.6 301.5,261.2 301.6,247.4 302.3,231.5 304.2,220 305.2,218.4 307.7,220.3 310,226.2 308,202.4 310.1,200.9 314.6,251.4 314.7,238 315.3,222.4 317.1,211.2 318.1,209.7 320.4,211.5 322.7,217.3 320.7,194.1 322.8,192.6 327.1,242.1 327.2,228.9 327.8,213.7 329.4,202.8 330.4,201.3 332.7,203.2 334.8,208.8 333,186.1 334.9,184.7 339.1,233.2 339.1,220.3 339.7,205.4 341.3,194.7 342.2,193.2 344.4,195.1 346.5,200.7 344.7,178.4 346.5,177 350.6,224.6 350.6,212 351.2,197.4 352.7,186.9 353.6,185.5 355.7,187.4 357.7,192.9 355.9,171 357.7,169.7 361.6,216.3 361.7,204 362.2,189.7 363.6,179.5 364.5,178.1 366.5,180 368.4,185.4 366.7,163.9 368.5,162.6 372.3,208.4 371.6,201 373.4,219.8 375.3,235.6 187,386.3 179.9,368.6 172.5,346.6" fill="#5200e7"/>
<polygon points="166.8,327.6 164.4,302.9 166.5,301.4 170.2,339.2 173.3,348.6 174.3,328 176.9,312.1 179.5,308.7 181.8,310.1 186.7,319.8 183.8,290 185.8,288.6 192.1,351.5 192.3,334.6 193.3,314.6 195.7,299.2 198.2,295.9 200.4,297.3 205,306.8 202.3,277.7 204.2,276.4 210.2,337.8 210.4,321.4 211.3,301.8 213.6,286.9 215.9,283.7 218.1,285.1 222.4,294.5 219.8,266 221.6,264.8 227.4,324.7 227.6,308.7 228.4,289.7 230.6,275.2 232.8,272.1 234.8,273.5 239,282.7 236.5,254.9 238.2,253.8 243.8,312.3 243.9,296.7 244.7,278.2 246.8,264 248.9,261.1 250.8,262.5 254.8,271.5 252.4,244.4 254,243.2 259.4,300.4 259.5,285.3 260.3,267.2 262.2,253.4 264.2,250.6 266.1,252 269.9,260.9 267.6,234.3 269.1,233.2 274.4,289.1 274.4,274.3 275.1,256.7 277,243.2 278.9,240.5 280.7,241.9 284.3,250.7 282.1,224.7 283.5,223.6 288.6,278.4 288.6,263.9 289.3,246.6 291.1,233.5 292.9,230.9 294.6,232.3 298.1,240.9 295.9,215.4 297.3,214.5 302.2,268 302.2,253.9 302.8,237 304.5,224.3 306.3,221.7 307.9,223.1 311.3,231.6 309.2,206.6 310.5,205.7 315.2,258.2 315.3,244.3 315.8,227.9 317.4,215.4 319.1,212.9 320.6,214.3 323.9,222.6 321.9,198.2 323.2,197.3 327.7,248.7 327.7,235.2 328.2,219.1 329.8,206.9 331.4,204.5 332.9,205.8 336,214 334,190.1 335.3,189.2 339.7,239.6 339.7,226.4 340.2,210.6 341.6,198.7 343.2,196.4 344.6,197.7 347.6,205.8 345.7,182.3 346.9,181.5 351.2,230.9 351.2,217.9 351.6,202.5 353,190.9 354.5,188.6 355.9,190 358.8,197.9 356.9,174.9 358.1,174.1 362.2,222.5 362.2,209.8 362.6,194.7 364,183.3 365.4,181.1 366.7,182.5 369.5,190.3 367.7,167.7 368.8,167 372.8,214.5 372.1,206.8 374,225.6 376,240.8 189.8,391.9 182.3,375.1 174.7,353.4" fill="#2000f0"/>
<polygon points="168.7,334 166.1,308 167.1,307.4 170.2,339.2 173.4,349.4 175,334.7 177.4,317.3 181.1,312.9 182.2,313.6 188.5,326.2 185.5,295 186.4,294.4 193,359.2 193.1,342.1 193.9,321.1 196.2,304.2 199.7,300 200.7,300.7 206.7,313 203.8,282.6 204.7,282.1 211.1,345.2 211.1,328.6 211.9,308.2 214.1,291.8 217.4,287.7 218.4,288.4 224.1,300.6 221.3,270.9 222.1,270.3 228.2,332 228.3,315.8 229,295.9 231.1,280 234.2,276 235.1,276.7 240.6,288.7 237.9,259.7 238.7,259.2 244.6,319.4 244.6,303.6 245.3,284.3 247.2,268.7 250.2,264.9 251.1,265.6 256.3,277.4 253.8,249 254.5,248.5 260.2,307.4 260.2,292 260.8,273.1 262.6,258 265.5,254.3 266.4,255 271.4,266.6 268.9,238.9 269.6,238.4 275.1,296 275.1,280.9 275.6,262.5 277.4,247.8 280.1,244.2 280.9,244.9 285.7,256.2 283.3,229.1 284,228.7 289.3,285 289.3,270.3 289.8,252.3 291.4,238 294.1,234.5 294.8,235.2 299.4,246.4 297.1,219.9 297.8,219.4 302.9,274.6 302.9,260.2 303.3,242.6 304.9,228.6 307.4,225.3 308.1,226 312.5,236.9 310.3,211 310.9,210.6 315.9,264.6 315.8,250.5 316.3,233.3 317.8,219.6 320.2,216.4 320.9,217.1 325.1,227.9 323,202.5 323.6,202.1 328.4,255 328.3,241.2 328.7,224.4 330.1,211 332.4,207.9 333.1,208.6 337.2,219.2 335.1,194.3 335.7,193.9 340.3,245.8 340.2,232.3 340.6,215.9 342,202.8 344.2,199.8 344.8,200.4 348.7,210.9 346.7,186.5 347.3,186.1 351.8,236.9 351.7,223.8 352.1,207.7 353.3,194.9 355.5,191.9 356.1,192.6 359.9,202.9 357.9,178.9 358.4,178.6 362.8,228.4 362.7,215.6 363,199.8 364.3,187.3 366.3,184.4 366.9,185.1 370.5,195.2 368.7,171.7 369.2,171.4 373.4,220.3 372.6,212.4 374.7,230.9 376.8,245.5 192.5,397 184.8,381.1 176.8,360" fill="#0027f9"/>
<polygon points="170.5,340.1 170.5,340.2 173.4,349.4 175.7,341.4 178,322.6 182.5,317.1 182.7,317.3 190,331.6 196.7,387.8 193.8,364.8 193.8,364.7 193.9,349.3 194.6,327.6 196.7,309.4 201.1,304.1 201.2,304.3 208.2,318.4 214.6,373.1 211.9,350.8 211.9,350.6 211.9,335.6 212.5,314.6 214.6,296.9 218.7,291.8 218.9,291.9 225.5,305.8 231.7,359.2 229,337.4 229,337.3 229,322.7 229.6,302.2 231.5,284.9 235.4,280 235.6,280.2 241.9,293.8 248,346 245.4,324.7 245.4,324.6 245.3,310.3 245.9,290.3 247.7,273.6 251.4,268.9 251.6,269 257.6,282.4 263.5,333.4 260.9,312.6 260.9,312.4 260.9,298.6 261.4,279.1 263.1,262.7 266.6,258.2 266.8,258.3 272.6,271.5 278.3,321.3 275.8,301 275.8,300.9 275.7,287.3 276.2,268.3 277.8,252.4 281.2,248 281.3,248.1 286.9,261.1 292.5,309.8 290,290 290,289.8 289.9,276.6 290.3,258 291.8,242.5 295.1,238.2 295.2,238.4 300.5,251.1 306,298.8 303.6,279.4 303.6,279.3 303.5,266.3 303.8,248.2 305.3,233 308.4,228.9 308.5,229.1 313.6,241.6 318.9,288.3 316.6,269.3 316.6,269.1 316.4,256.5 316.8,238.8 318.2,223.9 321.1,220 321.3,220.1 326.2,232.5 331.3,278.2 329,259.6 329,259.5 328.9,247.1 329.2,229.8 330.5,215.3 333.3,211.4 333.5,211.6 338.2,223.7 343.2,268.5 341,250.3 341,250.2 340.8,238.1 341.1,221.1 342.3,206.9 345.1,203.2 345.2,203.4 349.7,215.3 354.7,259.2 352.4,241.4 352.4,241.3 352.3,229.4 352.5,212.8 353.7,198.9 356.3,195.3 356.4,195.5 360.8,207.2 365.6,250.3 363.4,232.8 363.4,232.7 363.3,221.1 363.5,204.8 364.6,191.3 367.1,187.8 367.2,187.9 371.4,199.5 376.2,241.7 373.2,217.7 375.3,235.9 377.5,249.9 195.1,401.4 187.2,386.6 179,366.2" fill="#0086ff"/>
<polygon points="172.4,346.1 172.4,346.2 173.4,349.4 176.4,348 178.5,328.1 182.9,320.8 184.4,321.9 190.2,333.2 197.1,390.9 194.6,361.6 194.6,361.4 194.7,356.2 195.3,334.1 197.2,314.7 201.4,307.8 202.8,308.8 208.3,320 215.1,376.2 212.6,347.7 212.6,347.5 212.6,342.4 213.2,320.9 215,302 219,295.3 220.3,296.4 225.6,307.3 232.2,362.2 229.7,334.4 229.7,334.2 229.7,329.3 230.2,308.3 232,290 235.8,283.5 237,284.5 242.1,295.3 248.4,348.9 246,321.8 246,321.6 246,316.8 246.5,296.4 248.1,278.5 251.7,272.2 252.9,273.3 257.8,283.9 263.9,336.2 261.6,309.7 261.6,309.6 261.6,304.8 262,285 263.5,267.5 266.9,261.5 268.1,262.5 272.7,272.9 278.7,324.1 276.4,298.2 276.4,298.1 276.4,293.5 276.7,274.1 278.2,257.1 281.5,251.2 282.6,252.2 287,262.5 292.9,312.5 290.6,287.3 290.6,287.1 290.5,282.6 290.8,263.7 292.2,247.1 295.4,241.4 296.4,242.4 300.7,252.5 306.4,301.4 304.1,276.8 304.1,276.6 304.1,272.2 304.4,253.7 305.7,237.5 308.7,232 309.7,233 313.8,243 319.3,290.9 317.1,266.7 317.1,266.6 317,262.3 317.3,244.2 318.5,228.4 321.4,223 322.4,224 326.3,233.8 331.7,280.7 329.5,257.1 329.5,257 329.5,252.7 329.7,235.1 330.9,219.6 333.6,214.4 334.5,215.4 338.3,225 343.6,271 341.4,247.9 341.4,247.7 341.4,243.6 341.5,226.3 342.7,211.2 345.3,206.1 346.2,207.1 349.8,216.6 355,261.6 352.9,239 352.9,238.9 352.8,234.8 353,217.9 354,203.1 356.6,198.2 357.4,199.2 360.9,208.5 366,252.7 363.9,230.5 363.9,230.4 363.8,226.4 363.9,209.8 364.9,195.3 367.4,190.6 368.2,191.5 371.6,200.7 376.5,244 373.7,222.4 375.9,239.8 378.2,253 197.3,404.6 189.2,390.9 180.9,371.5" fill="#00f1ff"/>
<polygon points="174.2,351.9 174.2,352 177.1,354.5 179.1,333.9 183.3,325.2 186.1,327.1 190.4,335.1 197.4,393 198.2,384.5 195.4,358.1 195.4,358 195.9,340.4 197.8,320.4 201.8,312 204.4,313.9 208.5,321.8 215.4,378.2 216.1,370 213.4,344.3 213.4,344.2 213.8,327 215.6,307.6 219.4,299.5 221.9,301.4 225.8,309.1 232.5,364.2 233.1,356.2 230.4,331.1 230.4,331 230.8,314.3 232.5,295.4 236.1,287.6 238.5,289.5 242.2,297.1 248.7,350.8 249.3,343 246.7,318.6 246.7,318.5 247.1,302.2 248.6,283.8 252.1,276.2 254.4,278.1 257.9,285.6 264.2,338.1 264.8,330.5 262.2,306.7 262.2,306.5 262.5,290.7 264,272.7 267.3,265.4 269.5,267.2 272.9,274.6 279,325.9 279.5,318.6 277,295.3 277,295.1 277.3,279.6 278.7,262.2 281.8,255 283.9,256.9 287.2,264.1 293.2,314.3 293.6,307.1 291.1,284.4 291.1,284.2 291.4,269.1 292.7,252.1 295.7,245.1 297.7,247 300.8,254.1 306.7,303.2 307.1,296.2 304.6,273.9 304.6,273.8 304.9,259.1 306.1,242.4 309,235.6 310.9,237.5 313.9,244.5 319.6,292.6 320,285.8 317.6,264 317.6,263.8 317.8,249.4 319,233.2 321.7,226.6 323.5,228.4 326.4,235.3 332,282.4 332.3,275.8 330,254.4 330,254.3 330.2,240.2 331.3,224.3 333.9,217.9 335.6,219.7 338.4,226.5 343.9,272.6 344.2,266.1 341.9,245.2 341.9,245.1 342,231.3 343.1,215.8 345.6,209.6 347.3,211.4 350,218.1 355.3,263.2 355.6,256.9 353.3,236.4 353.3,236.3 353.4,222.8 354.4,207.6 356.8,201.5 358.5,203.3 361,210 366.3,254.2 366.5,248.1 364.3,228 364.3,227.9 364.4,214.6 365.3,199.8 367.6,193.9 369.2,195.6 371.7,202.1 376.8,245.6 374.2,226.6 376.4,243.3 378.8,255.7 199.2,407.2 191.2,394.6 182.8,376.3" fill="#00ffc6"/>
<polygon points="176,357.5 176,357.6 177.7,360.7 179.7,340 183.8,330 187.8,332.5 190.6,337.4 197.8,394.9 198.4,385.9 196.2,355.3 196.2,355.2 196.6,346.5 198.4,326.3 202.3,316.7 206.1,319.2 208.8,324.1 215.7,380.1 216.3,371.4 214.1,341.6 214.2,341.4 214.4,333 216.2,313.4 219.9,304 223.5,306.6 226,311.3 232.8,366 233.3,357.5 231.2,328.5 231.2,328.4 231.5,320.1 233.1,301.1 236.6,292 240,294.6 242.5,299.2 249,352.6 249.5,344.4 247.4,316 247.4,315.9 247.6,307.9 249.2,289.3 252.5,280.5 255.8,283.1 258.1,287.7 264.5,339.9 265,331.8 262.9,304.2 262.9,304 263.1,296.2 264.5,278.1 267.7,269.6 270.8,272.2 273.1,276.7 279.3,327.7 279.7,319.8 277.6,292.8 277.6,292.7 277.8,285.1 279.2,267.4 282.2,259.2 285.2,261.7 287.4,266.1 293.5,316 293.8,308.4 291.7,282 291.7,281.9 291.9,274.4 293.2,257.2 296.1,249.2 299,251.7 301,256.1 307,304.9 307.3,297.4 305.2,271.6 305.2,271.5 305.4,264.2 306.6,247.4 309.3,239.6 312.1,242.1 314.1,246.5 319.9,294.2 320.2,286.9 318.1,261.7 318.1,261.6 318.3,254.5 319.4,238.1 322,230.5 324.7,233 326.6,237.2 332.3,284 332.5,276.9 330.5,252.2 330.5,252.1 330.6,245.2 331.7,229.1 334.2,221.7 336.8,224.2 338.6,228.4 344.2,274.2 344.4,267.3 342.4,243.1 342.4,243 342.5,236.2 343.5,220.5 345.9,213.3 348.4,215.8 350.1,219.9 355.6,264.8 355.7,258 353.8,234.4 353.8,234.3 353.9,227.6 354.8,212.3 357.1,205.2 359.5,207.7 361.2,211.7 366.5,255.7 366.6,249.1 364.7,226 364.7,225.9 364.8,219.3 365.7,204.3 367.9,197.5 370.2,199.9 371.8,203.9 377,247.1 374.6,230.7 376.9,246.6 379.4,258.3 201.2,409.6 193.1,398 184.7,380.9" fill="#00ff87"/>
<polygon points="177.8,362.8 177.9,362.9 178,363.5 180.3,346 184.3,335 189.5,338 190.9,340.2 198.1,397.1 198.7,387.6 197.2,353.3 197.2,353.2 197.2,352.4 199,332.3 202.8,321.5 207.7,324.6 209,326.7 216.1,382.2 216.6,373 215,339.6 215,339.5 215.1,338.7 216.7,319.2 220.3,308.8 225.1,311.8 226.3,313.9 233.1,368.1 233.6,359.1 232,326.6 232,326.5 232.1,325.7 233.6,306.7 237,296.6 241.5,299.7 242.7,301.8 249.4,354.6 249.8,345.9 248.2,314.2 248.2,314.1 248.2,313.4 249.7,294.8 252.9,285.1 257.2,288.1 258.4,290.2 264.9,341.8 265.2,333.3 263.6,302.4 263.6,302.3 263.7,301.6 265,283.5 268.1,274 272.2,277.1 273.3,279.1 279.7,329.6 279.9,321.3 278.4,291.1 278.4,291 278.4,290.3 279.7,272.7 282.6,263.5 286.5,266.5 287.6,268.5 293.8,317.9 294,309.8 292.4,280.4 292.4,280.2 292.5,279.6 293.7,262.4 296.5,253.4 300.2,256.4 301.2,258.4 307.3,306.7 307.5,298.9 305.9,270 305.9,269.9 305.9,269.3 307,252.5 309.7,243.8 313.3,246.8 314.3,248.7 320.2,296 320.4,288.3 318.8,260.2 318.8,260.1 318.8,259.4 319.9,243 322.4,234.6 325.9,237.6 326.8,239.5 332.6,285.7 332.7,278.3 331.1,250.7 331.1,250.6 331.1,250 332.1,234 334.6,225.7 337.9,228.7 338.8,230.6 344.5,275.9 344.6,268.6 343,241.6 343,241.6 343,240.9 343.9,225.3 346.3,217.2 349.5,220.2 350.3,222 355.9,266.4 355.9,259.3 354.3,232.9 354.3,232.8 354.4,232.2 355.2,216.9 357.5,209.1 360.6,212 361.4,213.8 366.8,257.4 366.8,250.4 365.3,224.6 365.3,224.5 365.3,223.9 366.1,208.9 368.3,201.2 371.2,204.2 372,206 377.3,248.7 375.1,234.6 377.5,249.6 380,260.6 203.2,411.7 195,401.1 186.5,385.2" fill="#00ff52"/>
<polygon points="179.6,367.9 179.5,366.4 181,352.1 184.8,340.2 191.2,343.2 198.5,399.4 198.5,399.3 199,389.5 200.6,380 198.2,352.1 198.2,352 199.6,338.1 203.3,326.6 209.3,329.7 216.4,384.5 216.4,384.4 216.9,374.9 218.4,365.6 216,338.5 216,338.4 217.3,324.9 220.8,313.7 226.6,316.9 233.5,370.3 233.5,370.2 233.9,361 235.3,352 233,325.5 233,325.4 234.2,312.3 237.5,301.5 243,304.6 249.7,356.8 249.8,356.7 250,347.7 251.4,339 249.1,313.2 249.1,313.1 250.3,300.3 253.4,289.8 258.7,293 265.2,343.9 265.2,343.8 265.5,335.1 266.7,326.6 264.5,301.4 264.5,301.3 265.6,288.8 268.6,278.7 273.6,281.8 280,331.6 280,331.5 280.2,323 281.4,314.8 279.2,290.2 279.2,290.1 280.2,277.9 283,268 287.8,271.2 294.1,319.9 294.1,319.8 294.3,311.5 295.4,303.5 293.2,279.4 293.2,279.3 294.2,267.5 296.9,257.8 301.5,261 307.6,308.6 307.6,308.5 307.7,300.5 308.8,292.7 306.6,269.1 306.6,269.1 307.5,257.5 310.1,248.1 314.5,251.3 320.5,297.9 320.5,297.8 320.6,289.9 321.6,282.3 319.5,259.3 319.5,259.2 320.3,247.9 322.8,238.8 327.1,242 332.9,287.6 332.9,287.5 333,279.8 333.9,272.4 331.8,249.9 331.8,249.8 332.6,238.8 335,229.9 339,233 344.8,277.7 344.8,277.6 344.8,270.1 345.7,262.9 343.6,240.8 343.6,240.8 344.4,230 346.6,221.3 350.6,224.4 356.2,268.2 356.2,268.1 356.2,260.8 357,253.8 355,232.2 355,232.1 355.7,221.5 357.8,213.1 361.6,216.2 367.1,259.1 367.1,259 367.1,251.9 367.8,245 365.9,223.8 365.9,223.7 366.5,213.4 368.6,205.1 372.2,208.3 377.6,250.4 375.6,238.2 378,252.4 380.6,262.7 205.1,413.6 196.9,404 188.4,389.1" fill="#00ff26"/>
<polygon points="181.4,372.7 180.6,365.9 181.6,358 185.4,345.5 191.6,346.7 198.9,401.8 199.1,395.6 199.3,391.7 200.8,381.2 202.6,378.2 199.3,351.6 200.2,343.9 203.8,331.8 209.7,333.1 216.9,386.9 217,380.8 217.2,377 218.6,366.8 220.3,364 217.1,338 217.9,330.5 221.3,318.8 226.9,320.1 233.9,372.6 234,366.7 234.2,363 235.5,353.2 237.1,350.4 234,325.1 234.8,317.8 238,306.4 243.3,307.8 250.2,359 250.2,353.3 250.4,349.7 251.6,340.2 253.1,337.5 250.1,312.8 250.8,305.7 253.9,294.6 259,296.1 265.6,346.1 265.7,340.5 265.8,337 266.9,327.7 268.4,325.2 265.4,301 266.1,294.1 269,283.4 273.9,284.9 280.4,333.7 280.4,328.3 280.5,324.9 281.6,315.9 282.9,313.4 280,289.8 280.7,283.1 283.5,272.6 288.1,274.2 294.5,321.9 294.5,316.6 294.6,313.3 295.5,304.6 296.9,302.2 294,279.1 294.7,272.5 297.3,262.4 301.8,263.9 308,310.7 308,305.5 308,302.3 308.9,293.8 310.2,291.4 307.4,268.8 308,262.4 310.5,252.5 314.8,254.1 320.9,299.9 320.9,294.8 320.9,291.7 321.7,283.4 322.9,281.1 320.3,259 320.8,252.7 323.2,243.1 327.3,244.8 333.3,289.5 333.2,284.6 333.2,281.6 334,273.4 335.2,271.3 332.5,249.6 333.1,243.5 335.4,234.1 339.3,235.8 345.2,279.6 345.1,274.8 345.1,271.8 345.8,263.9 346.9,261.8 344.3,240.6 344.8,234.6 347,225.4 350.8,227.1 356.5,270.1 356.4,265.4 356.4,262.5 357.1,254.8 358.2,252.7 355.6,231.9 356.1,226.1 358.2,217.1 361.9,218.8 367.5,260.9 367.3,256.4 367.3,253.5 368,246 369,244 366.5,223.6 367,217.9 369,209.1 372.5,210.9 378,252.2 376.1,241.6 378.6,255 381.2,264.7 207,415.2 198.7,406.6 190.2,392.8" fill="#02ff00"/>
<polygon points="183.2,377.2 181.9,366.3 182.2,363.7 186,350.8 192,350.3 199.4,404.4 199.7,394 199.8,392.3 201,382.8 203.8,378.6 200.5,352 200.9,349.5 204.4,337 210.1,336.7 217.3,389.3 217.5,379.2 217.6,377.6 218.8,368.4 221.5,364.3 218.2,338.4 218.5,336 221.9,323.9 227.3,323.6 234.4,375 234.5,365.2 234.6,363.6 235.7,354.7 238.2,350.8 235.1,325.4 235.4,323.1 238.5,311.4 243.7,311.2 250.6,361.3 250.7,351.8 250.8,350.3 251.8,341.6 254.2,337.9 251.1,313.1 251.4,310.9 254.4,299.5 259.3,299.4 266.1,348.3 266.1,339.1 266.2,337.6 267.1,329.2 269.4,325.6 266.4,301.4 266.7,299.2 269.5,288.1 274.2,288.1 280.8,335.9 280.8,327 280.9,325.5 281.8,317.3 283.9,313.8 281,290.2 281.2,288 284,277.3 288.5,277.4 294.9,324.1 294.9,315.3 295,314 295.7,305.9 297.8,302.6 295,279.5 295.2,277.4 297.8,266.9 302.1,267.1 308.4,312.8 308.4,304.2 308.4,302.9 309.1,295.1 311.1,291.8 308.3,269.2 308.5,267.2 311,257 315.1,257.2 321.3,301.9 321.2,293.6 321.3,292.3 321.9,284.7 323.8,281.5 321.1,259.4 321.3,257.4 323.6,247.5 327.6,247.8 333.7,291.5 333.6,283.4 333.6,282.1 334.2,274.7 336,271.7 333.3,250 333.5,248.1 335.8,238.4 339.6,238.7 345.6,281.6 345.4,273.7 345.4,272.4 346,265.2 347.7,262.2 345.1,241 345.3,239.1 347.4,229.7 351.1,230 356.9,272 356.7,264.3 356.8,263.1 357.3,256 358.9,253.1 356.4,232.3 356.6,230.5 358.6,221.3 362.1,221.7 367.9,262.8 367.7,255.3 367.7,254.1 368.1,247.2 369.7,244.4 367.2,224 367.4,222.2 369.3,213.2 372.8,213.6 378.4,254 376.6,244.8 379.2,257.5 381.8,266.5 209,416.7 200.6,408.9 192,396.2" fill="#29ff00"/>
<polygon points="184.9,381.4 183.2,367.3 186.6,356.2 192.4,354.3 199.9,406.9 200.1,396.4 200.6,389.7 201.3,384.6 204.6,379.2 205.1,379.4 201.8,353 204.9,342.3 210.5,340.5 217.8,391.8 217.9,381.6 218.4,375.1 219.1,370.1 222.2,365 222.7,365.2 219.4,339.4 222.4,329 227.7,327.4 234.8,377.4 234.9,367.5 235.3,361.2 235.9,356.4 238.9,351.4 239.4,351.6 236.2,326.4 239,316.4 244.1,314.9 251.1,363.7 251.1,354.1 251.4,347.9 252,343.3 254.8,338.5 255.3,338.7 252.2,314.1 254.9,304.4 259.7,303 266.5,350.6 266.5,341.3 266.8,335.3 267.4,330.8 270,326.2 270.5,326.4 267.4,302.4 270,292.9 274.6,291.6 281.3,338.2 281.2,329.1 281.5,323.3 282,318.9 284.5,314.4 285,314.6 282,291.2 284.4,282 288.8,280.8 295.4,326.3 295.3,317.5 295.5,311.8 296,307.5 298.4,303.2 298.8,303.4 295.9,280.4 298.2,271.5 302.4,270.4 308.9,314.9 308.7,306.3 308.9,300.8 309.4,296.6 311.6,292.4 312.1,292.7 309.2,270.2 311.4,261.5 315.5,260.5 321.8,304 321.6,295.6 321.8,290.2 322.2,286.2 324.4,282.1 324.7,282.4 322,260.4 324.1,251.9 328,251 334.1,293.6 333.9,285.4 334.1,280.1 334.4,276.2 336.5,272.3 336.9,272.5 334.2,251 336.2,242.7 339.9,241.8 346,283.6 345.7,275.6 345.9,270.5 346.2,266.6 348.2,262.8 348.6,263 345.9,241.9 347.8,233.9 351.4,233.1 357.4,274 357.1,266.2 357.2,261.2 357.5,257.4 359.4,253.7 359.8,253.9 357.2,233.3 359,225.4 362.4,224.7 368.3,264.7 368,257.1 368.1,252.2 368.4,248.5 370.2,245 370.5,245.2 368,224.9 369.7,217.2 373.1,216.6 378.8,255.9 377.2,247.8 379.7,259.7 382.4,268.2 210.9,417.9 202.4,411 193.8,399.3" fill="#4fff00"/>
<polygon points="186.7,385.4 184.6,368.9 187.2,361.6 192.9,358.4 200.1,408.3 200.5,399 201.5,387.7 201.6,386.6 204.7,379.9 206.5,380.7 203.1,354.5 205.5,347.5 211,344.5 218.3,394.3 218.4,384.1 219.2,373.1 219.4,372.1 222.3,365.7 224,366.4 220.7,340.9 223,334.1 228.1,331.3 235.3,379.8 235.3,369.9 236.1,359.3 236.2,358.3 239,352.1 240.6,352.9 237.4,328 239.6,321.4 244.5,318.7 251.6,366.1 251.5,356.5 252.2,346.1 252.3,345.2 254.9,339.2 256.5,339.9 253.4,315.7 255.4,309.2 260.1,306.7 267,352.9 266.9,343.6 267.5,333.6 267.6,332.7 270.1,326.8 271.6,327.6 268.6,303.9 270.5,297.6 275,295.3 281.8,340.4 281.6,331.4 282.2,321.6 282.3,320.7 284.6,315.1 286.1,315.8 283.1,292.7 284.9,286.6 289.2,284.4 295.9,328.5 295.7,319.7 296.1,310.1 296.2,309.3 298.5,303.8 299.9,304.6 297,281.9 298.7,276 302.8,273.9 309.3,317 309.1,308.4 309.5,299.2 309.6,298.3 311.7,293 313.1,293.8 310.2,271.6 311.9,265.9 315.8,263.9 322.2,306.1 322,297.7 322.3,288.7 322.4,287.9 324.4,282.7 325.7,283.5 322.9,261.8 324.5,256.2 328.3,254.3 334.6,295.6 334.3,287.5 334.6,278.6 334.7,277.8 336.6,272.9 337.9,273.6 335.1,252.4 336.6,246.9 340.3,245.1 346.4,285.6 346.1,277.6 346.4,269 346.5,268.2 348.3,263.4 349.5,264.2 346.8,243.3 348.3,238 351.7,236.3 357.8,275.9 357.5,268.1 357.7,259.7 357.8,259 359.5,254.3 360.7,255.1 358,234.6 359.4,229.5 362.8,227.8 368.7,266.7 368.4,259.1 368.5,250.8 368.6,250.1 370.3,245.5 371.4,246.3 368.8,226.3 370.2,221.3 373.4,219.7 379.2,257.7 377.7,250.6 380.3,261.8 383,269.7 212.8,419 204.3,412.8 195.6,402.1" fill="#71ff00"/>
<polygon points="188.4,389.1 186.1,371 187.8,366.8 193.4,362.6 200.1,408.3 201,401.6 202,388.9 202.4,386.2 204.8,381 207.9,382.3 204.5,356.6 206.1,352.6 211.4,348.6 218.8,396.8 218.8,386.7 219.7,374.3 220.1,371.7 222.4,366.7 225.4,368 222,343 223.5,339.1 228.6,335.3 235.9,382.2 235.8,372.4 236.6,360.5 237,358 239.1,353.1 241.9,354.4 238.7,330 240.1,326.2 245,322.6 252.1,368.4 252,358.9 252.6,347.3 253,344.9 255.1,340.1 257.8,341.5 254.6,317.7 255.9,314 260.5,310.6 267.5,355.2 267.4,346 268,334.7 268.3,332.3 270.3,327.8 272.8,329.1 269.7,305.9 271,302.3 275.4,299 282.3,342.7 282.1,333.7 282.6,322.7 282.9,320.4 284.8,316 287.2,317.3 284.2,294.6 285.4,291.1 289.6,288 296.4,330.7 296.1,321.9 296.6,311.2 296.9,309 298.6,304.7 301,306.1 298,283.8 299.2,280.5 303.2,277.5 309.8,319.2 309.5,310.6 309.9,300.2 310.2,298.1 311.9,293.9 314.2,295.3 311.3,273.5 312.4,270.3 316.2,267.4 322.7,308.2 322.4,299.9 322.7,289.7 323,287.6 324.6,283.6 326.8,285 323.9,263.7 325,260.5 328.7,257.8 335.1,297.6 334.7,289.6 335,279.7 335.2,277.6 336.7,273.7 338.9,275.1 336.1,254.2 337.1,251.1 340.6,248.5 346.9,287.6 346.5,279.7 346.7,270 347,268 348.4,264.2 350.5,265.6 347.7,245.1 348.7,242.1 352.1,239.6 358.3,277.9 357.9,270.2 358,260.7 358.3,258.8 359.6,255.1 361.6,256.4 358.9,236.4 359.9,233.5 363.1,231.1 369.2,268.6 368.7,261 368.9,251.8 369.1,249.9 370.4,246.3 372.3,247.7 369.7,228 370.6,225.2 373.7,222.9 379.7,259.6 378.2,253.2 380.9,263.8 383.6,271.2 214.7,420 206.1,414.5 197.4,404.7" fill="#92ff00"/>
<polygon points="190.1,392.6 187.6,373.5 188.4,371.8 193.9,366.9 200.1,408.3 201.5,404.3 202.4,391.3 203.5,385.4 205,382.4 209.4,384.1 206,359.1 206.7,357.5 211.9,352.8 219.4,399.2 219.3,389.2 220.1,376.7 221.2,371 222.6,368 226.8,369.8 223.4,345.4 224.1,343.9 229.1,339.4 236.4,384.6 236.3,374.9 236.9,362.8 237.9,357.2 239.3,354.4 243.3,356.2 240,332.4 240.7,330.9 245.4,326.7 252.6,370.7 252.4,361.3 253,349.5 253.9,344.1 255.3,341.4 259.1,343.2 255.9,320 256.5,318.6 261,314.5 268.1,357.5 267.8,348.4 268.3,336.9 269.2,331.7 270.4,329 274.1,330.9 271,308.2 271.5,306.8 275.9,302.9 282.8,344.9 282.5,336 282.9,324.8 283.8,319.8 284.9,317.2 288.4,319.1 285.4,296.9 285.9,295.5 290.1,291.8 296.9,332.8 296.6,324.2 296.9,313.3 297.7,308.4 298.8,305.9 302.2,307.8 299.2,286.1 299.7,284.8 303.6,281.2 310.4,321.3 310,312.9 310.3,302.3 311,297.5 312.1,295.1 315.3,297 312.3,275.8 312.9,274.5 316.6,271 323.2,310.2 322.8,302 323.1,291.7 323.7,287.1 324.7,284.7 327.9,286.6 325,265.9 325.5,264.6 329.1,261.3 335.6,299.6 335.1,291.7 335.3,281.6 335.9,277.1 336.9,274.8 339.9,276.7 337.1,256.4 337.6,255.1 341,252 347.4,289.5 347,281.7 347.1,271.9 347.7,267.5 348.6,265.3 351.5,267.2 348.7,247.3 349.2,246.1 352.5,243 358.8,279.8 358.3,272.2 358.4,262.6 358.9,258.3 359.8,256.2 362.6,258 359.9,238.5 360.3,237.4 363.5,234.4 369.7,270.4 369.2,263 369.2,253.7 369.7,249.4 370.6,247.4 373.3,249.2 370.6,230.1 371,229 374.1,226.1 380.2,261.4 378.7,255.6 381.5,265.6 384.3,272.5 216.6,420.8 208,415.9 199.1,407.1" fill="#b1ff00"/>
<polygon points="191.8,395.8 189.1,376.4 194.4,371.3 200.1,408.3 202,406.9 202.8,393.9 204.7,385.1 205.3,384 210.6,385.8 207.4,361.9 207.4,361.9 212.4,357.1 220,401.6 219.8,391.8 220.5,379.2 222.3,370.7 222.9,369.6 228,371.5 224.8,348.2 224.8,348.2 229.6,343.5 237,386.9 236.8,377.5 237.3,365.2 239,357 239.6,356 244.5,357.9 241.4,335.1 241.4,335.1 245.9,330.7 253.2,373 252.9,363.8 253.4,351.9 254.9,343.9 255.5,342.9 260.2,344.9 257.2,322.7 257.2,322.7 261.5,318.4 268.6,359.7 268.3,350.8 268.7,339.2 270.2,331.5 270.7,330.5 275.2,332.5 272.2,310.8 272.2,310.8 276.3,306.7 283.4,347 283,338.3 283.3,327.1 284.7,319.6 285.2,318.6 289.5,320.6 286.6,299.5 286.6,299.5 290.5,295.5 297.4,334.9 297,326.4 297.3,315.5 298.5,308.2 299,307.3 303.2,309.3 300.3,288.6 300.3,288.6 304.1,284.8 310.9,323.3 310.5,315.1 310.6,304.4 311.8,297.4 312.3,296.5 316.3,298.5 313.5,278.3 313.5,278.2 317.1,274.6 323.8,312.2 323.3,304.2 323.4,293.8 324.5,287 325,286.1 328.8,288.1 326.1,268.3 326.1,268.3 329.5,264.8 336.1,301.6 335.6,293.8 335.7,283.7 336.7,277 337.1,276.1 340.8,278.2 338.1,258.8 338.1,258.8 341.4,255.4 348,291.4 347.4,283.8 347.4,273.9 348.4,267.4 348.8,266.6 352.4,268.6 349.7,249.6 349.7,249.6 352.9,246.4 359.3,281.6 358.7,274.2 358.7,264.6 359.6,258.2 360,257.4 363.4,259.5 360.8,240.9 360.8,240.8 363.9,237.7 370.2,272.2 369.6,265 369.5,255.6 370.4,249.4 370.8,248.6 374.1,250.6 371.5,232.4 371.5,232.4 374.5,229.4 380.7,263.2 379.3,257.9 382,267.2 384.9,273.7 218.5,421.5 209.8,417.2 200.9,409.2" fill="#cdff00"/>
<polygon points="193.5,398.8 190.7,379.4 195,375.6 200.1,408.3 202.5,409.5 203.2,396.5 205.6,385.9 205.9,385.4 210.7,386.1 209,364.9 209,364.9 213,361.3 220.5,403.9 220.4,394.4 220.9,381.7 223.1,371.5 223.4,371 228,371.8 226.3,351.1 226.3,351.1 230.1,347.6 237.6,389.2 237.3,379.9 237.8,367.7 239.8,357.7 240.1,357.3 244.5,358.1 242.8,338 242.8,338 246.4,334.7 253.8,375.2 253.5,366.2 253.8,354.3 255.8,344.7 256,344.2 260.2,345.1 258.5,325.5 258.5,325.5 262,322.3 269.2,361.8 268.8,353.1 269.1,341.5 270.9,332.2 271.2,331.8 275.2,332.7 273.5,313.6 273.5,313.6 276.8,310.5 283.9,349.1 283.5,340.6 283.7,329.4 285.4,320.3 285.7,319.9 289.5,320.9 287.8,302.2 287.8,302.2 291,299.3 298,336.9 297.6,328.7 297.7,317.7 299.3,308.9 299.5,308.5 303.2,309.5 301.5,291.3 301.5,291.3 304.5,288.5 311.5,325.3 311,317.3 311,306.6 312.5,298.1 312.7,297.7 316.3,298.7 314.6,280.9 314.6,280.9 317.5,278.2 324.3,314.1 323.8,306.3 323.8,296 325.2,287.6 325.4,287.3 328.8,288.3 327.2,270.9 327.2,270.9 330,268.3 336.7,303.4 336.1,295.9 336.1,285.8 337.4,277.7 337.6,277.3 340.9,278.4 339.2,261.3 339.2,261.3 341.9,258.8 348.5,293.2 347.9,285.8 347.8,276 349,268.1 349.2,267.7 352.4,268.8 350.8,252.1 350.8,252.1 353.3,249.7 359.9,283.4 359.2,276.2 359.1,266.6 360.2,258.9 360.4,258.5 363.5,259.7 361.9,243.3 361.9,243.3 364.3,241 370.8,274 370.1,266.9 369.9,257.5 371,250 371.2,249.7 374.1,250.8 372.5,234.8 372.5,234.8 374.9,232.6 381.2,264.9 379.8,260 382.6,268.8 385.5,274.9 220.4,422 211.6,418.4 202.7,411.2" fill="#e8ff00"/>
<polygon points="195.2,401.5 192.4,382.5 195.5,379.8 200.1,408.3 203,411.5 203.7,399.1 205.9,387.9 207.2,386.1 210.8,386.7 210.5,368 210.5,368 213.5,365.4 221.1,406.1 220.9,396.9 221.4,384.3 223.5,373.5 224.7,371.7 228.1,372.3 227.8,354.2 227.8,354.1 230.6,351.7 238.2,391.3 237.9,382.4 238.2,370.2 240.2,359.7 241.3,358 244.6,358.7 244.2,341 244.2,341 246.9,338.6 254.4,377.3 254,368.6 254.3,356.8 256.1,346.6 257.1,344.9 260.3,345.7 259.9,328.4 259.9,328.4 262.5,326.2 269.8,363.8 269.4,355.4 269.6,343.9 271.2,334.1 272.3,332.5 275.3,333.2 274.8,316.5 274.8,316.4 277.3,314.3 284.5,351 284.1,342.9 284.2,331.7 285.7,322.1 286.7,320.6 289.6,321.4 289.1,305 289.1,305 291.5,302.9 298.6,338.8 298.1,330.9 298.1,320 299.6,310.7 300.5,309.2 303.3,310 302.7,294.1 302.8,294.1 305,292.1 312,327.1 311.5,319.4 311.5,308.9 312.8,299.8 313.7,298.4 316.4,299.2 315.8,283.6 315.8,283.6 318,281.7 324.9,315.9 324.3,308.4 324.2,298.2 325.5,289.4 326.3,288 328.9,288.8 328.3,273.6 328.3,273.6 330.4,271.8 337.3,305.2 336.6,297.9 336.5,287.9 337.6,279.3 338.5,278 341,278.8 340.3,264 340.3,263.9 342.3,262.2 349.1,295 348.4,287.8 348.2,278.1 349.3,269.7 350.1,268.4 352.5,269.3 351.8,254.7 351.8,254.7 353.8,253 360.4,285.1 359.7,278.1 359.5,268.6 360.5,260.5 361.2,259.2 363.6,260.1 362.9,245.9 362.9,245.9 364.7,244.2 371.3,275.6 370.6,268.9 370.3,259.6 371.3,251.6 372,250.4 374.2,251.3 373.5,237.4 373.5,237.3 375.3,235.8 381.8,266.5 380.3,262 383.2,270.2 386.2,275.9 222.3,422.5 213.4,419.4 204.4,412.9" fill="#fffc00"/>
<polygon points="196.9,404 194,385.7 196.1,383.9 200.1,408.3 203,411.5 204.2,401.8 206.3,390.2 208.5,387.1 210.9,387.6 212.1,371.1 212.1,371.1 214.1,369.4 221.8,408.2 221.5,399.3 221.9,386.9 223.8,375.7 226,372.7 228.3,373.2 229.3,357.2 229.3,357.2 231.2,355.6 238.8,393.4 238.4,384.7 238.7,372.7 240.5,361.8 242.5,359 244.7,359.5 245.7,344 245.7,343.9 247.5,342.4 255,379.3 254.6,370.9 254.8,359.2 256.4,348.7 258.3,346 260.4,346.5 261.3,331.3 261.3,331.3 263,329.9 270.4,365.8 269.9,357.6 270.1,346.4 271.6,336.1 273.4,333.5 275.4,334 276.2,319.3 276.2,319.3 277.8,317.9 285.1,352.9 284.6,345 284.6,334.1 286.1,324.1 287.8,321.6 289.7,322.1 290.4,307.8 290.4,307.8 292,306.5 299.2,340.7 298.6,333 298.6,322.3 299.9,312.7 301.6,310.3 303.4,310.8 304,296.8 304,296.8 305.5,295.6 312.6,328.9 312,321.5 311.9,311.1 313.1,301.7 314.7,299.4 316.5,299.9 317,286.3 317,286.3 318.5,285.1 325.5,317.7 324.9,310.4 324.7,300.3 325.8,291.2 327.3,289 329.1,289.5 329.5,276.3 329.5,276.2 330.9,275.1 337.8,306.9 337.1,299.9 336.9,290 338,281.1 339.4,279 341.1,279.6 341.4,266.6 341.5,266.6 342.8,265.5 349.7,296.6 348.9,289.7 348.7,280.2 349.6,271.5 351,269.4 352.6,270 352.9,257.3 352.9,257.3 354.2,256.3 361,286.7 360.2,280 359.9,270.7 360.8,262.2 362.1,260.2 363.7,260.8 364,248.4 364,248.4 365.2,247.4 371.9,277.2 371.1,270.7 370.7,261.6 371.6,253.3 372.8,251.4 374.3,252 374.5,239.9 374.6,239.9 375.7,238.9 382.4,268.1 380.9,263.8 383.8,271.5 386.8,276.9 224.2,422.9 215.2,420.2 206.1,414.5" fill="#ffe500"/>
<polygon points="198.5,406.3 195.6,388.7 196.7,387.9 200.1,408.3 203,411.5 204.7,404.5 206.7,392.6 209.9,388.5 211.1,388.7 213.7,374.1 213.7,374.1 214.6,373.3 222.4,410.3 222.1,401.6 222.4,389.5 224.2,378 227.3,374.1 228.4,374.3 230.8,360.1 230.8,360.1 231.7,359.4 239.4,395.3 239,387 239.2,375.3 240.9,364.1 243.8,360.4 244.9,360.6 247.1,346.8 247.1,346.8 248,346.1 255.6,381.1 255.1,373.1 255.3,361.7 256.8,350.9 259.6,347.3 260.6,347.5 262.7,334.2 262.7,334.2 263.5,333.5 271,367.6 270.5,359.8 270.6,348.7 272,338.2 274.6,334.8 275.6,335.1 277.5,322.1 277.5,322.1 278.3,321.4 285.7,354.7 285.2,347.1 285.1,336.4 286.4,326.2 289,322.9 289.9,323.2 291.7,310.6 291.7,310.6 292.5,309.9 299.8,342.4 299.2,335 299.1,324.6 300.3,314.7 302.7,311.5 303.6,311.8 305.3,299.5 305.3,299.5 306,298.9 313.2,330.6 312.6,323.4 312.4,313.3 313.5,303.7 315.8,300.6 316.7,300.9 318.2,289 318.3,289 318.9,288.4 326.1,319.3 325.4,312.4 325.2,302.5 326.2,293.1 328.4,290.2 329.2,290.5 330.7,278.9 330.7,278.8 331.3,278.3 338.4,308.5 337.7,301.8 337.4,292.2 338.3,283 340.4,280.2 341.3,280.5 342.6,269.2 342.6,269.1 343.2,268.6 350.2,298.2 349.5,291.6 349.1,282.2 350,273.4 352,270.6 352.8,270.9 354,259.8 354,259.8 354.7,259.3 361.6,288.2 360.8,281.8 360.4,272.7 361.1,264 363.1,261.4 363.9,261.7 365,250.9 365,250.9 365.6,250.4 372.5,278.7 371.6,272.4 371.2,263.6 371.9,255.1 373.8,252.5 374.5,252.8 375.6,242.3 375.6,242.3 376.2,241.8 382.9,269.5 381.4,265.5 384.4,272.8 387.5,277.9 226,423.2 217,420.9 207.9,415.9" fill="#ffd000"/>
<polygon points="200.2,408.4 200.2,408.4 203,411.5 205.2,407.1 207.1,395 211.4,390.1 211.4,390.1 218.7,396.4 226.4,420.7 223,412 223,411.9 222.7,403.8 222.9,392 224.6,380.4 228.7,375.6 228.7,375.6 235.8,381.9 243.4,405.4 240,397 240,396.9 239.6,389.1 239.8,377.7 241.3,366.4 245.2,361.9 245.2,361.9 252,368 259.6,390.9 256.2,382.8 256.2,382.7 255.7,375.1 255.8,364.1 257.2,353.1 260.9,348.8 260.9,348.8 267.4,354.9 275,377.1 271.6,369.2 271.6,369.1 271.1,361.8 271.1,351.1 272.4,340.5 275.8,336.3 275.9,336.3 282.2,342.3 289.7,363.9 286.3,356.2 286.3,356.2 285.8,349.1 285.6,338.7 286.8,328.4 290.1,324.4 290.2,324.4 296.3,330.3 303.8,351.3 300.4,343.9 300.4,343.8 299.8,336.9 299.6,326.8 300.7,316.8 303.8,313 303.9,313 309.7,318.8 317.2,339.2 313.8,332 313.8,332 313.2,325.3 312.9,315.5 313.9,305.8 316.9,302.1 316.9,302.1 322.6,307.8 330.1,327.7 326.7,320.7 326.7,320.7 326,314.2 325.7,304.6 326.6,295.2 329.4,291.6 329.5,291.6 335,297.3 342.4,316.7 339,309.9 339,309.8 338.2,303.5 337.9,294.2 338.7,285 341.5,281.6 341.5,281.6 346.8,287.2 354.2,306.1 350.8,299.5 350.8,299.4 350,293.3 349.6,284.3 350.3,275.3 353,272 353,272 358.2,277.5 365.5,295.9 362.1,289.5 362.1,289.5 361.3,283.5 360.9,274.7 361.5,265.9 364.1,262.7 364.1,262.7 369.1,268.2 376.3,286.2 373,280 373,279.9 372.2,274.1 371.7,265.5 372.3,257 374.7,253.9 374.7,253.9 379.6,259.3 386.8,276.8 382,267.1 385,273.9 388.1,278.7 227.9,423.4 218.8,421.6 209.6,417.1" fill="#ffbd00"/>
<polygon points="201.8,410.3 201.9,410.3 203,411.5 205.8,409.6 207.6,397.5 211.6,391.7 212.9,391.8 218.7,396.4 226.5,420.9 223.3,409.1 223.3,409 223.3,405.9 223.5,394.5 225.1,382.8 229,377.2 230.2,377.3 235.8,381.8 243.5,405.6 240.3,394.2 240.3,394.2 240.2,391.2 240.3,380.1 241.8,368.8 245.4,363.4 246.6,363.6 252,368 259.7,391.1 256.5,380.1 256.5,380 256.3,377.1 256.3,366.4 257.7,355.5 261.1,350.3 262.2,350.4 267.4,354.9 275.1,377.2 271.8,366.6 271.8,366.5 271.7,363.7 271.6,353.4 272.8,342.7 276.1,337.7 277.2,337.9 282.2,342.3 289.8,364 286.5,353.7 286.5,353.7 286.3,351 286.2,340.9 287.3,330.6 290.4,325.8 291.4,326 296.3,330.3 303.9,351.4 300.6,341.4 300.5,341.4 300.3,338.8 300.1,329 301.1,319 304.1,314.3 305.1,314.5 309.7,318.8 317.3,339.4 314,329.7 314,329.6 313.7,327.1 313.4,317.6 314.3,307.9 317.2,303.4 318.1,303.6 322.6,307.8 330.1,327.8 326.8,318.5 326.8,318.4 326.5,315.9 326.2,306.7 327,297.2 329.7,292.9 330.6,293.1 335,297.3 342.4,316.8 339.1,307.7 339.1,307.6 338.8,305.2 338.4,296.3 339.1,287 341.7,282.9 342.6,283.1 346.8,287.2 354.2,306.2 350.9,297.4 350.9,297.3 350.6,295 350.1,286.2 350.7,277.3 353.2,273.2 354.1,273.5 358.2,277.5 365.5,296.1 362.2,287.5 362.2,287.4 361.9,285.1 361.3,276.6 361.9,267.9 364.3,264 365.1,264.2 369.1,268.2 376.4,286.3 373,277.9 373,277.9 372.7,275.7 372.2,267.4 372.7,258.8 374.9,255.1 375.7,255.3 379.6,259.3 386.8,277 382.5,268.5 385.6,275 388.7,279.5 229.7,423.5 220.5,422.1 211.3,418.2" fill="#ffab00"/>
<polygon points="203.5,412 203.5,412.1 206.4,412.1 208.1,400.1 212,393.5 214.4,393.6 218.8,396.6 226.6,421.1 227.1,416.9 227.3,416.3 223.8,406.4 224,396.9 225.6,385.3 229.3,378.9 231.6,379.1 235.8,382.1 243.6,405.9 244.1,401.8 244.2,401.2 240.7,391.6 240.9,382.4 242.2,371.2 245.8,365.1 248,365.3 252,368.3 259.8,391.3 260.2,387.4 260.3,386.8 256.8,377.6 256.9,368.7 258.1,357.8 261.5,351.9 263.6,352.2 267.5,355.1 275.2,377.5 275.5,373.7 275.7,373.2 272.2,364.2 272.1,355.5 273.3,345 276.4,339.4 278.5,339.6 282.2,342.5 289.9,364.3 290.2,360.7 290.3,360.1 286.8,351.4 286.7,343 287.7,332.8 290.7,327.4 292.7,327.6 296.3,330.5 304,351.6 304.2,348.2 304.3,347.7 300.8,339.2 300.6,331.1 301.5,321.1 304.4,315.9 306.3,316.2 309.8,319 317.4,339.6 317.5,336.3 317.6,335.7 314.2,327.5 313.9,319.6 314.8,310 317.5,304.9 319.3,305.2 322.7,308 330.3,328.1 330.3,324.8 330.4,324.3 327,316.3 326.7,308.7 327.4,299.3 330,294.4 331.8,294.7 335,297.5 342.6,317 342.6,313.9 342.7,313.4 339.3,305.6 338.9,298.2 339.5,289.1 342,284.3 343.7,284.7 346.9,287.4 354.4,306.4 354.3,303.4 354.4,303 351,295.4 350.6,288.1 351.2,279.2 353.5,274.6 355.2,275 358.2,277.7 365.7,296.3 365.6,293.4 365.7,292.9 362.3,285.5 361.9,278.5 362.3,269.8 364.6,265.3 366.2,265.7 369.2,268.4 376.5,286.5 376.4,283.7 376.5,283.3 373.1,276.1 372.7,269.2 373.1,260.8 375.2,256.4 376.8,256.8 379.7,259.5 387,277.1 383.1,269.9 386.2,275.9 389.4,280.3 231.5,423.6 222.3,422.5 213,419.1" fill="#ff9a00"/>
<polygon points="205.1,413.6 205.2,413.6 206.9,414.4 208.6,402.6 212.3,395.4 216,395.4 218.9,397.1 226.8,421.5 227.2,417.1 227.9,414.5 224.4,404.1 224.6,399.1 226.1,387.7 229.6,380.8 233.1,380.9 235.9,382.6 243.8,406.2 244.1,401.9 244.8,399.5 241.3,389.4 241.4,384.6 242.7,373.6 246.1,366.9 249.5,367 252.1,368.7 260,391.7 260.2,387.6 260.9,385.2 257.3,375.4 257.4,370.8 258.6,360.1 261.8,353.7 265,353.9 267.6,355.6 275.4,377.8 275.6,373.9 276.2,371.6 272.7,362.1 272.7,357.6 273.8,347.3 276.8,341.1 279.9,341.3 282.3,343 290.1,364.6 290.2,360.8 290.8,358.6 287.3,349.4 287.3,345.1 288.2,335 291.1,329.1 294,329.3 296.4,331 304.2,352 304.2,348.3 304.7,346.2 301.2,337.3 301.2,333 302,323.3 304.7,317.5 307.6,317.8 309.9,319.5 317.6,339.9 317.6,336.4 318,334.3 314.6,325.6 314.5,321.6 315.2,312.1 317.8,306.5 320.5,306.8 322.8,308.5 330.4,328.3 330.4,324.9 330.8,323 327.3,314.5 327.2,310.6 327.9,301.4 330.3,296 333,296.3 335.1,297.9 342.7,317.3 342.6,314 343,312.1 339.6,303.9 339.4,300 340,291.1 342.3,285.9 344.9,286.2 347,287.8 354.5,306.7 354.4,303.5 354.7,301.7 351.3,293.7 351.1,289.9 351.6,281.2 353.8,276.2 356.3,276.5 358.3,278.1 365.8,296.5 365.7,293.5 365.9,291.7 362.6,283.9 362.4,280.2 362.8,271.7 364.9,266.8 367.3,267.2 369.3,268.8 376.7,286.8 376.5,283.8 376.7,282.1 373.4,274.5 373.2,270.9 373.5,262.6 375.5,257.9 377.8,258.3 379.8,259.9 387.1,277.4 383.6,271.1 386.8,276.9 390,281 233.3,423.7 224,422.9 214.6,420" fill="#ff8b00"/>
<polygon points="206.8,415 206.8,415 207.2,415.3 209.1,405.1 212.7,397.4 217.6,397.1 219,397.8 227,422 227.3,417.3 228.7,412.9 225.1,402.2 225.2,401.3 226.6,390.1 230,382.8 234.7,382.6 236.1,383.3 244,406.7 244.2,402.2 245.5,398 241.9,387.5 242,386.7 243.3,375.9 246.5,368.9 250.9,368.7 252.3,369.4 260.2,392.1 260.4,387.8 261.5,383.7 258,373.6 258,372.8 259.1,362.4 262.2,355.6 266.4,355.5 267.8,356.2 275.6,378.2 275.7,374.1 276.8,370.2 273.2,360.4 273.3,359.6 274.3,349.5 277.2,342.9 281.2,342.9 282.5,343.6 290.4,365 290.4,361 291.3,357.3 287.8,347.7 287.8,347 288.7,337.2 291.4,330.8 295.4,330.9 296.6,331.6 304.4,352.3 304.3,348.5 305.2,344.9 301.7,335.6 301.7,334.9 302.5,325.4 305.1,319.3 308.9,319.4 310,320.1 317.8,340.3 317.7,336.6 318.5,333.1 315,324.1 315,323.4 315.7,314.2 318.2,308.2 321.8,308.4 322.9,309.1 330.7,328.7 330.5,325.1 331.2,321.8 327.8,313 327.8,312.3 328.4,303.4 330.7,297.6 334.2,297.8 335.3,298.5 343,317.6 342.8,314.2 343.4,311 340,302.4 340,301.7 340.5,293.1 342.7,287.5 346.1,287.7 347.1,288.4 354.8,307 354.5,303.7 355.1,300.6 351.7,292.3 351.7,291.6 352.1,283.1 354.2,277.7 357.4,278 358.5,278.7 366.1,296.9 365.8,293.6 366.3,290.6 362.9,282.5 362.9,281.9 363.3,273.6 365.3,268.4 368.4,268.7 369.4,269.4 376.9,287.1 376.6,284 377.1,281 373.7,273.1 373.7,272.5 374,264.5 375.9,259.4 378.9,259.7 379.9,260.4 387.4,277.7 384.2,272.3 387.4,277.7 390.6,281.7 235.1,423.7 225.7,423.1 216.3,420.7" fill="#ff7d00"/>
<polygon points="208.4,416.3 208.3,415.9 209.6,407.5 213.2,399.5 219.1,398.7 219.3,398.8 227.3,422.5 227.5,417.7 228.9,412.6 229.5,411.6 225.9,400.6 227.1,392.5 230.5,384.8 236.2,384.2 236.3,384.2 244.3,407.2 244.4,402.6 245.7,397.6 246.3,396.7 242.7,386 243.8,378.2 246.9,370.9 252.4,370.3 252.5,370.3 260.5,392.6 260.5,388.2 261.7,383.4 262.3,382.6 258.7,372.2 259.6,364.6 262.6,357.5 267.9,357.1 268,357.1 275.9,378.7 275.9,374.4 276.9,369.9 277.5,369.1 273.9,359 274.8,351.7 277.6,344.8 282.6,344.4 282.7,344.5 290.6,365.5 290.5,361.3 291.5,357 292,356.2 288.4,346.4 289.2,339.3 291.9,332.7 296.7,332.4 296.8,332.4 304.7,352.8 304.5,348.8 305.4,344.6 305.9,343.9 302.3,334.4 303,327.5 305.5,321.1 310.2,320.8 310.3,320.9 318.1,340.7 317.9,336.9 318.6,332.8 319.1,332.1 315.6,322.8 316.2,316.2 318.6,310 323,309.8 323.1,309.9 330.9,329.2 330.7,325.4 331.4,321.5 331.8,320.8 328.3,311.8 328.8,305.3 331.1,299.4 335.4,299.2 335.5,299.3 343.2,318.1 342.9,314.5 343.5,310.7 344,310 340.5,301.3 341,295 343.1,289.2 347.2,289.1 347.3,289.2 355,307.5 354.7,304 355.2,300.3 355.6,299.7 352.2,291.1 352.6,285 354.6,279.4 358.6,279.4 358.7,279.4 366.3,297.3 365.9,293.9 366.4,290.4 366.8,289.7 363.4,281.4 363.7,275.5 365.6,270 369.5,270 369.6,270.1 377.2,287.5 376.8,284.2 377.2,280.8 377.6,280.2 374.2,272.1 374.5,266.3 376.3,261 380,261.1 380.1,261.1 387.6,278.1 384.7,273.4 388,278.5 391.3,282.4 236.9,423.7 227.5,423.4 218,421.3" fill="#ff7100"/>
<polygon points="210,417.4 209.3,414.6 210.2,409.8 213.6,401.7 219.5,399.9 227.6,423.2 227.6,420.5 227.7,418.2 228.9,412.7 230.5,410.6 226.9,399.4 227.7,394.7 230.9,386.9 236.6,385.3 244.6,407.8 244.6,405.2 244.6,403 245.7,397.7 247.2,395.7 243.6,384.9 244.3,380.4 247.4,372.9 252.8,371.4 260.8,393.2 260.7,390.7 260.7,388.6 261.7,383.5 263.1,381.6 259.5,371.1 260.2,366.8 263.1,359.5 268.2,358.1 276.3,379.3 276.1,376.9 276.1,374.9 277,370 278.3,368.2 274.7,357.9 275.3,353.7 278,346.7 283,345.5 291,366 290.8,363.7 290.7,361.8 291.5,357.1 292.8,355.3 289.2,345.4 289.7,341.3 292.3,334.6 297,333.4 305,353.4 304.8,351.1 304.7,349.2 305.4,344.7 306.6,343 303,333.4 303.5,329.4 305.9,322.9 310.5,321.8 318.4,341.2 318.2,339.1 318.1,337.3 318.7,332.9 319.8,331.3 316.3,321.9 316.7,318.1 319,311.8 323.4,310.8 331.3,329.7 331,327.6 330.9,325.8 331.4,321.6 332.5,320.1 329,310.9 329.4,307.2 331.5,301.1 335.7,300.2 343.6,318.6 343.3,316.6 343.1,314.9 343.6,310.8 344.6,309.3 341.1,300.4 341.5,296.8 343.5,290.9 347.6,290 355.4,307.9 355,306 354.9,304.4 355.3,300.4 356.2,299 352.8,290.3 353.1,286.8 355,281 358.9,280.3 366.7,297.7 366.3,295.9 366.1,294.3 366.5,290.5 367.4,289.1 364,280.6 364.2,277.2 366.1,271.6 369.8,270.9 377.5,287.9 377.2,286.1 377,284.6 377.2,280.9 378.1,279.6 374.7,271.3 374.9,268 376.7,262.6 380.3,261.9 387.9,278.5 385.3,274.4 388.6,279.3 391.9,283 238.6,423.6 229.2,423.5 219.7,421.8" fill="#ff6500"/>
<polygon points="211.6,418.4 210.3,413.8 210.7,412 214.1,403.8 219.8,401.2 227.7,423.4 228,418.8 228,418.3 229,412.9 231.5,409.8 227.9,398.6 228.2,396.9 231.4,389 236.9,386.5 245,408.5 244.9,403.6 244.9,403.1 245.8,398 248.2,395 244.6,384.1 244.9,382.5 247.9,374.9 253.1,372.6 261.2,393.9 261,389.2 261,388.7 261.8,383.8 264.1,380.9 260.4,370.4 260.7,368.8 263.5,361.5 268.5,359.3 276.6,379.9 276.4,375.4 276.4,375 277.1,370.2 279.2,367.5 275.6,357.2 275.8,355.7 278.5,348.7 283.2,346.6 291.3,366.6 291,362.3 291,361.9 291.6,357.3 293.6,354.7 290,344.7 290.3,343.2 292.8,336.4 297.3,334.5 305.4,353.9 305,349.7 305,349.3 305.5,344.9 307.4,342.4 303.8,332.7 304.1,331.3 306.4,324.7 310.8,322.9 318.8,341.8 318.4,337.8 318.3,337.4 318.8,333.1 320.6,330.7 317.1,321.3 317.3,319.9 319.5,313.5 323.7,311.8 331.6,330.2 331.2,326.3 331.1,325.9 331.5,321.8 333.2,319.5 329.7,310.3 329.9,309 332,302.8 336,301.2 343.9,319.1 343.4,315.3 343.4,315 343.7,311 345.3,308.8 341.8,299.8 342,298.5 343.9,292.6 347.8,291 355.7,308.4 355.1,304.8 355.1,304.4 355.4,300.6 356.9,298.5 353.4,289.8 353.6,288.5 355.4,282.7 359.2,281.3 367,298.2 366.4,294.7 366.4,294.4 366.6,290.6 368.1,288.6 364.6,280.1 364.7,278.9 366.5,273.2 370.1,271.9 377.9,288.4 377.2,285 377.2,284.7 377.3,281.1 378.8,279.1 375.3,270.8 375.4,269.6 377.1,264.1 380.6,262.9 388.3,279 385.9,275.4 389.2,280.1 392.5,283.6 240.4,423.5 230.9,423.6 221.3,422.3" fill="#ff5b00"/>
<polygon points="213.2,419.3 211.5,413.2 214.6,405.9 220.2,402.5 227.7,423.4 228.3,419.5 228.5,416.3 229.2,413.3 232.3,409.4 229,398.1 229,398.1 231.9,391.1 237.2,387.9 245.4,409.2 245.2,404.3 245.4,401.3 246,398.4 248.9,394.6 245.6,383.7 245.6,383.7 248.4,376.9 253.4,373.9 261.6,394.6 261.3,389.8 261.5,386.9 262,384.1 264.7,380.5 261.4,370 261.4,369.9 264,363.4 268.8,360.6 277,380.6 276.7,376 276.8,373.2 277.2,370.6 279.8,367.1 276.5,356.9 276.5,356.8 279,350.6 283.6,347.8 291.7,367.3 291.3,362.9 291.4,360.2 291.8,357.6 294.2,354.3 290.9,344.4 291,344.3 293.2,338.3 297.7,335.7 305.8,354.6 305.3,350.3 305.3,347.7 305.7,345.3 308,342.1 304.7,332.4 304.7,332.4 306.9,326.5 311.1,324.1 319.2,342.4 318.7,338.3 318.6,335.8 319,333.4 321.2,330.4 317.9,321 317.9,321 319.9,315.3 324,313 332,330.8 331.5,326.8 331.4,324.4 331.7,322.1 333.8,319.2 330.5,310 330.5,310 332.4,304.5 336.3,302.3 344.3,319.7 343.7,315.8 343.6,313.5 343.8,311.3 345.9,308.5 342.6,299.6 342.6,299.5 344.4,294.2 348.2,292.1 356.1,309 355.5,305.3 355.3,303.1 355.5,300.9 357.4,298.2 354.2,289.5 354.2,289.5 355.9,284.3 359.5,282.3 367.4,298.8 366.7,295.2 366.6,293 366.7,290.9 368.6,288.3 365.3,279.9 365.3,279.8 366.9,274.8 370.4,272.9 378.3,288.9 377.5,285.5 377.4,283.4 377.5,281.4 379.2,278.8 376,270.6 376,270.5 377.6,265.7 380.9,263.9 388.7,279.5 386.4,276.3 389.8,280.8 393.2,284.2 242.2,423.4 232.6,423.7 223,422.7" fill="#ff5200"/>
<polygon points="214.8,420 212.7,413 215.1,408 220.5,404 227.7,423.4 228.6,420.2 229.2,414.6 229.4,413.8 232.2,409.3 230.1,397.9 230.1,397.9 232.4,393.1 237.6,389.3 245.9,410 245.6,405 246,399.6 246.2,398.9 248.9,394.6 246.7,383.5 246.7,383.5 248.9,378.9 253.8,375.3 262.1,395.3 261.7,390.5 262.1,385.3 262.2,384.6 264.7,380.5 262.5,369.8 262.5,369.8 264.5,365.3 269.2,361.9 277.5,381.3 277,376.7 277.3,371.7 277.4,371 279.8,367.1 277.6,356.7 277.6,356.7 279.5,352.4 284,349.2 292.2,368 291.7,363.5 291.9,358.8 292,358.1 294.2,354.3 291.9,344.2 292,344.2 293.7,340.1 298,337 306.2,355.2 305.7,350.9 305.8,346.4 305.9,345.7 308,342.1 305.7,332.3 305.7,332.3 307.4,328.3 311.5,325.3 319.7,343.1 319,338.9 319.1,334.5 319.2,333.9 321.2,330.4 318.8,320.9 318.8,320.9 320.4,317 324.4,314.2 332.5,331.4 331.8,327.4 331.8,323.2 331.9,322.5 333.8,319.2 331.4,310 331.4,309.9 332.9,306.2 336.7,303.5 344.8,320.3 344.1,316.4 344,312.3 344.1,311.7 345.8,308.4 343.5,299.5 343.5,299.5 344.9,295.9 348.5,293.3 356.6,309.6 355.8,305.8 355.7,301.9 355.7,301.3 357.4,298.2 355,289.4 355,289.4 356.4,285.9 359.9,283.5 367.9,299.3 367.1,295.7 366.9,291.9 366.9,291.3 368.5,288.3 366.1,279.8 366.1,279.8 367.4,276.4 370.8,274 378.7,289.5 377.9,286 377.6,282.3 377.7,281.7 379.2,278.8 376.8,270.5 376.8,270.5 378,267.2 381.2,265 389.1,280 387,277.2 390.4,281.4 393.8,284.8 244,423.3 234.4,423.7 224.6,423" fill="#ff4900"/>
<polygon points="216.4,420.7 214,413 215.7,410 221,405.6 227.7,423.4 229,421 229.7,414.4 230,413.2 232.3,409.4 231.4,397.9 231.4,397.9 232.9,395 238,390.8 246.3,410.8 246,405.7 246.5,399.5 246.8,398.3 248.9,394.7 247.9,383.6 247.9,383.5 249.4,380.7 254.2,376.7 262.5,396.1 262.1,391.2 262.5,385.2 262.7,384 264.8,380.6 263.7,369.9 263.7,369.8 265.1,367.1 269.6,363.3 278,382.1 277.4,377.4 277.7,371.6 278,370.5 279.9,367.2 278.7,356.8 278.7,356.8 280,354.2 284.4,350.5 292.7,368.7 292.1,364.2 292.3,358.6 292.5,357.5 294.3,354.4 293,344.3 293,344.3 294.3,341.8 298.4,338.3 306.7,355.9 306.1,351.6 306.1,346.2 306.3,345.2 308,342.2 306.7,332.4 306.7,332.4 307.9,330 311.9,326.6 320.1,343.7 319.4,339.6 319.4,334.4 319.6,333.4 321.2,330.5 319.8,321 319.8,321 320.9,318.7 324.8,315.5 333,332.1 332.2,328 332.1,323 332.3,322.1 333.8,319.3 332.4,310.1 332.4,310.1 333.4,307.8 337.1,304.8 345.3,320.9 344.5,317 344.3,312.2 344.5,311.2 345.9,308.5 344.4,299.6 344.4,299.6 345.4,297.4 348.9,294.5 357,310.2 356.2,306.4 356,301.8 356.1,300.9 357.5,298.3 355.9,289.6 355.9,289.6 356.9,287.5 360.3,284.7 368.3,299.9 367.5,296.3 367.2,291.8 367.3,290.9 368.6,288.4 367,279.9 367,279.9 367.9,277.9 371.2,275.2 379.2,290.1 378.3,286.6 377.9,282.2 378,281.3 379.3,278.9 377.7,270.7 377.7,270.7 378.5,268.7 381.6,266.1 389.6,280.6 387.6,278 391,282.1 394.4,285.3 245.8,423.1 236.1,423.7 226.3,423.2" fill="#ff4100"/>
<polygon points="218,421.3 215.4,413.3 216.2,411.9 221.4,407.1 227.7,423.4 229.5,421.9 230,415.1 230.9,412 232.4,409.7 232.7,398.2 232.7,398.2 233.5,396.9 238.4,392.3 246.8,411.7 246.4,406.6 246.8,400.1 247.6,397.1 249,394.9 249.2,383.8 249.2,383.8 249.9,382.5 254.6,378.2 263,396.9 262.5,392 262.8,385.8 263.5,383 264.9,380.8 264.9,370.1 264.9,370.1 265.6,368.9 270.1,364.8 278.5,382.9 277.9,378.2 278,372.2 278.7,369.4 280,367.4 279.9,357.1 279.9,357 280.5,355.9 284.8,351.9 293.2,369.5 292.5,364.9 292.6,359.2 293.2,356.6 294.4,354.6 294.1,344.6 294.2,344.6 294.8,343.5 298.9,339.7 307.2,356.7 306.5,352.3 306.4,346.8 307,344.2 308.1,342.4 307.8,332.7 307.8,332.7 308.4,331.6 312.3,328 320.7,344.4 319.9,340.2 319.7,334.9 320.2,332.5 321.3,330.7 320.9,321.3 320.9,321.3 321.4,320.2 325.2,316.8 333.5,332.7 332.6,328.7 332.4,323.6 332.9,321.2 333.9,319.5 333.4,310.4 333.4,310.3 333.9,309.4 337.5,306 345.8,321.5 344.9,317.7 344.6,312.7 345,310.4 346,308.7 345.4,299.9 345.4,299.9 345.9,298.9 349.3,295.7 357.6,310.8 356.6,307.1 356.3,302.3 356.7,300.1 357.6,298.4 356.9,289.9 356.9,289.8 357.4,288.9 360.7,285.9 368.9,300.5 367.9,296.9 367.5,292.3 367.8,290.1 368.7,288.6 367.9,280.2 368,280.2 368.4,279.3 371.6,276.4 379.7,290.6 378.7,287.1 378.2,282.7 378.5,280.6 379.4,279.1 378.6,271 378.6,271 379,270.1 382,267.2 390.1,281.2 388.1,278.7 391.5,282.6 395,285.8 247.2,423 237.5,423.7 227.8,423.4" fill="#ff3a00"/>
<polygon points="219.6,421.8 216.8,413.8 221.9,408.8 227.7,423.4 229.9,422.7 230.3,415.9 231.9,411.1 232.6,410.1 237.8,408.6 234.1,398.7 234.1,398.7 238.9,394 247.3,412.4 246.8,407.3 247.1,400.9 248.5,396.2 249.2,395.3 254.2,393.9 250.5,384.3 250.5,384.3 255.1,379.8 263.5,397.6 262.9,392.8 263.1,386.5 264.4,382.1 265,381.2 269.9,379.9 266.2,370.6 266.2,370.6 270.6,366.3 278.9,383.5 278.3,378.9 278.3,372.9 279.5,368.6 280.1,367.8 284.8,366.6 281.1,357.6 281.1,357.5 285.3,353.5 293.7,370.1 292.9,365.6 292.9,359.9 294,355.8 294.5,355 299,353.8 295.4,345.1 295.4,345.1 299.4,341.2 307.7,357.3 306.9,353 306.8,347.4 307.8,343.5 308.3,342.7 312.6,341.7 309,333.2 309,333.2 312.8,329.4 321.1,345 320.3,340.9 320.1,335.6 321,331.8 321.5,331 325.7,330 322,321.8 322,321.8 325.7,318.2 334,333.3 333.1,329.3 332.8,324.2 333.6,320.5 334.1,319.8 338.1,318.9 334.5,310.9 334.5,310.8 338,307.4 346.2,322.1 345.3,318.3 344.9,313.3 345.7,309.8 346.2,309.1 350.1,308.2 346.5,300.4 346.5,300.4 349.8,297.1 358,311.4 357,307.6 356.6,302.8 357.3,299.4 357.7,298.7 361.5,298 358,290.4 358,290.3 361.1,287.2 369.3,301.1 368.3,297.5 367.8,292.8 368.4,289.5 368.8,288.9 372.5,288.1 369,280.7 369,280.7 372,277.6 380.2,291.2 379.1,287.7 378.6,283.2 379.1,280 379.5,279.4 383.1,278.7 379.6,271.5 379.6,271.4 382.5,268.5 390.6,281.6 388.6,279.3 391.9,283 395.3,286 248,422.9 238.6,423.6 229.2,423.5" fill="#ff3400"/>
<polygon points="221.2,422.3 218.4,414.6 222.5,410.7 227.7,423.4 230.3,423.4 230.7,416.7 232.8,410.7 233,410.4 237.7,408.5 235.6,399.5 235.6,399.5 239.5,395.8 247.7,413 247.2,408 247.5,401.6 249.4,395.8 249.6,395.6 254.2,393.8 252,385.1 252,385.1 255.7,381.6 263.9,398.2 263.3,393.4 263.5,387.3 265.3,381.7 265.4,381.5 269.8,379.8 267.6,371.4 267.6,371.4 271.2,368.1 279.3,384.1 278.7,379.5 278.7,373.6 280.4,368.3 280.5,368.1 284.7,366.5 282.5,358.3 282.5,358.3 285.9,355.1 294,370.6 293.3,366.2 293.2,360.5 294.8,355.4 294.9,355.3 299,353.7 296.7,345.8 296.7,345.8 299.9,342.8 308.1,357.8 307.3,353.6 307.1,348.1 308.5,343.2 308.7,343 312.6,341.6 310.3,333.9 310.3,333.9 313.4,331 321.5,345.5 320.7,341.5 320.4,336.2 321.7,331.5 321.8,331.3 325.6,329.9 323.3,322.5 323.3,322.5 326.2,319.7 334.3,333.8 333.5,329.9 333.1,324.8 334.3,320.2 334.4,320.1 338.1,318.8 335.7,311.6 335.8,311.6 338.6,308.9 346.6,322.6 345.7,318.8 345.3,313.9 346.4,309.5 346.5,309.3 350,308.1 347.7,301.1 347.7,301.1 350.4,298.5 358.4,311.8 357.4,308.2 357,303.4 358,299.2 358.1,299 361.5,297.9 359.1,291.1 359.1,291.1 361.7,288.6 369.7,301.5 368.7,298 368.2,293.4 369.1,289.3 369.2,289.1 372.5,288 370.1,281.4 370.1,281.4 372.6,279 380.5,291.6 379.5,288.2 378.9,283.7 379.7,279.8 379.8,279.6 383,278.6 380.7,272.2 380.7,272.1 383.1,269.9 390.9,282 389,279.9 392.3,283.4 395.6,286.3 248.9,422.8 239.7,423.6 230.5,423.6" fill="#ff2e00"/>
<polygon points="222.8,422.6 220,415.4 223.1,412.6 227.7,423.4 230.4,423.6 231.1,417.5 233.1,411.4 234.2,410 237.8,408.6 240.7,408.8 237.2,400.3 240.1,397.6 248.1,413.6 247.6,408.7 247.9,402.4 249.7,396.5 250.7,395.3 254.2,393.9 257.1,394.1 253.5,385.9 256.3,383.3 264.3,398.7 263.8,394.1 263.9,388 265.6,382.4 266.5,381.2 269.8,379.9 272.6,380.1 269.1,372.2 271.8,369.7 279.7,384.6 279.1,380.2 279.1,374.4 280.7,368.9 281.6,367.8 284.8,366.5 287.5,366.8 283.9,359.1 286.5,356.8 294.4,371.1 293.7,366.9 293.7,361.3 295.1,356.1 295.9,355 299,353.8 301.6,354.1 298.1,346.6 300.5,344.4 308.5,358.3 307.7,354.2 307.5,348.8 308.8,343.8 309.7,342.7 312.6,341.6 315.2,341.9 311.7,334.7 314,332.5 321.9,346 321.1,342.1 320.8,336.9 322,332 322.8,331 325.6,330 328.1,330.3 324.6,323.3 326.8,321.2 334.7,334.3 333.9,330.5 333.5,325.5 334.6,320.8 335.4,319.8 338.1,318.8 340.5,319.2 337,312.3 339.2,310.4 347,323 346.1,319.3 345.7,314.5 346.7,310 347.4,309.1 350,308.2 352.4,308.5 348.9,301.8 351,300 358.8,312.2 357.8,308.7 357.4,304 358.2,299.7 358.9,298.8 361.5,297.9 363.8,298.2 360.3,291.8 362.3,290 370.1,301.9 369.1,298.5 368.6,294 369.4,289.8 370,288.9 372.5,288.1 374.7,288.4 371.3,282.1 373.2,280.4 380.9,292 379.9,288.7 379.3,284.3 380,280.3 380.7,279.4 383.1,278.6 385.2,279 381.8,272.9 383.6,271.2 391.3,282.4 389.5,280.4 392.7,283.7 395.9,286.6 249.8,422.7 240.8,423.5 231.9,423.7" fill="#ff2900"/>
<polygon points="224.4,422.9 221.7,416.2 223.7,414.4 227.7,423.4 230.4,423.6 231.5,418.4 233.4,412.2 235.5,409.9 237.9,408.8 242.2,408.9 238.8,401.1 240.8,399.3 248.5,414.2 248.1,409.5 248.3,403.3 250.1,397.3 252,395.1 254.3,394.1 258.5,394.2 255.1,386.7 257,385 264.7,399.3 264.2,394.8 264.3,388.9 265.9,383.2 267.7,381 270,380.1 274,380.3 270.6,373 272.4,371.3 280.1,385.2 279.5,380.8 279.6,375.2 281,369.7 282.7,367.6 284.9,366.8 288.8,366.9 285.4,359.9 287.1,358.3 294.8,371.7 294.2,367.5 294.1,362.1 295.4,356.8 297.1,354.9 299.1,354 302.9,354.2 299.5,347.4 301.2,345.9 308.9,358.8 308.2,354.8 308,349.6 309.2,344.5 310.8,342.6 312.7,341.9 316.4,342.1 313,335.4 314.6,334 322.3,346.5 321.5,342.7 321.3,337.6 322.4,332.7 323.8,330.9 325.8,330.2 329.4,330.4 325.9,324 327.5,322.6 335.1,334.7 334.3,331 334,326.2 335,321.5 336.4,319.8 338.2,319.1 341.7,319.3 338.3,313.1 339.8,311.8 347.4,323.5 346.5,319.9 346.1,315.2 347,310.7 348.4,309 350.2,308.4 353.6,308.6 350.2,302.6 351.6,301.3 359.2,312.7 358.3,309.2 357.8,304.7 358.6,300.3 359.9,298.7 361.6,298.1 364.9,298.4 361.6,292.5 362.9,291.3 370.5,302.3 369.5,299 369,294.6 369.7,290.4 370.9,288.9 372.6,288.3 375.8,288.6 372.5,282.8 373.8,281.7 381.3,292.4 380.3,289.2 379.7,285 380.4,280.9 381.6,279.4 383.2,278.8 386.3,279.1 383,273.5 384.2,272.4 391.7,282.8 390,281 393.1,284.1 396.2,286.8 250.6,422.6 241.9,423.4 233.2,423.7" fill="#ff2400"/>
<polygon points="226,423.2 223.3,417 224.4,416 227.7,423.4 230.4,423.6 232,419.3 233.9,413.1 236.8,409.8 238.1,409.3 243.7,409 240.4,401.8 241.4,400.9 248.9,414.8 248.5,410.2 248.8,404.2 250.5,398.2 253.3,395.1 254.5,394.6 260,394.4 256.6,387.4 257.6,386.6 265.1,399.9 264.7,395.5 264.8,389.7 266.3,384 269,381.1 270.2,380.6 275.4,380.4 272.1,373.7 273,372.9 280.5,385.7 280,381.5 280,376 281.4,370.5 284,367.7 285.1,367.2 290.2,367.1 286.9,360.6 287.7,359.8 295.3,372.2 294.6,368.2 294.6,362.9 295.8,357.6 298.3,354.9 299.3,354.4 304.3,354.4 300.9,348.1 301.8,347.3 309.3,359.3 308.6,355.4 308.5,350.3 309.6,345.2 311.9,342.7 312.9,342.2 317.7,342.2 314.4,336.1 315.2,335.4 322.7,347 322,343.3 321.7,338.4 322.8,333.5 325,331 326,330.6 330.6,330.6 327.3,324.7 328.1,324 335.5,335.2 334.8,331.6 334.4,326.9 335.4,322.2 337.5,319.8 338.4,319.4 342.9,319.5 339.6,313.7 340.4,313.1 347.8,323.9 347,320.5 346.6,315.9 347.4,311.4 349.4,309.1 350.4,308.7 354.8,308.8 351.5,303.2 352.2,302.6 359.6,313.1 358.7,309.8 358.3,305.4 359,301 360.9,298.8 361.8,298.5 366.1,298.6 362.8,293.2 363.5,292.5 370.9,302.7 370,299.5 369.5,295.3 370.1,291.1 372,288.9 372.8,288.6 377,288.7 373.7,283.5 374.4,282.9 381.7,292.8 380.8,289.7 380.2,285.6 380.8,281.5 382.5,279.5 383.4,279.2 387.4,279.3 384.2,274.2 384.8,273.6 392.1,283.2 390.4,281.5 393.5,284.5 396.5,287.1 251.5,422.5 243,423.4 234.5,423.7" fill="#ff2000"/>
<polygon points="227.6,423.4 225,417.7 225,417.6 227.7,423.4 230.4,423.6 232.5,420.3 234.3,414.1 238.3,409.9 238.4,409.9 245.2,409.2 242,402.5 242,402.5 249.3,415.4 249,411 249.3,405.1 250.9,399.1 254.7,395.2 254.8,395.2 261.4,394.5 258.2,388.1 258.2,388 265.5,400.5 265.1,396.2 265.3,390.6 266.8,384.9 270.4,381.2 270.5,381.1 276.9,380.5 273.6,374.3 273.7,374.3 281,386.3 280.5,382.2 280.5,376.8 281.9,371.3 285.3,367.8 285.4,367.7 291.6,367.2 288.3,361.2 288.4,361.2 295.7,372.8 295.1,368.8 295.1,363.7 296.3,358.4 299.5,355 299.6,355 305.6,354.5 302.4,348.7 302.4,348.7 309.7,359.8 309.1,356.1 309,351.1 310.1,346.1 313.1,342.8 313.2,342.8 319,342.3 315.8,336.8 315.9,336.7 323.1,347.5 322.5,343.9 322.2,339.1 323.2,334.2 326.2,331.1 326.2,331.1 331.9,330.7 328.7,325.3 328.7,325.3 336,335.7 335.2,332.2 334.9,327.6 335.8,322.9 338.6,319.9 338.7,319.9 344.2,319.6 341,314.3 341,314.3 348.2,324.4 347.5,321.1 347.1,316.6 347.9,312.1 350.6,309.2 350.6,309.2 356,308.9 352.8,303.8 352.8,303.8 360,313.6 359.2,310.3 358.8,306.1 359.5,301.7 362,298.9 362.1,298.9 367.3,298.7 364.1,293.7 364.1,293.7 371.3,303.2 370.4,300.1 369.9,296 370.6,291.8 373,289.1 373.1,289.1 378.1,288.9 375,284.1 375,284 382.1,293.2 381.2,290.2 380.7,286.2 381.2,282.2 383.6,279.6 383.7,279.6 388.6,279.4 385.4,274.8 385.4,274.7 392.5,283.6 390.9,282 393.8,284.8 396.8,287.3 252.3,422.4 244.1,423.3 235.9,423.7" fill="#ff1c00"/>
<polygon points="229.1,423.5 229.2,423.5 230.4,423.6 233,421.2 234.8,415.1 238.7,410.6 239.8,410.1 245.3,409.2 252.5,419.6 252.8,418.1 249.5,413.6 249.5,411.7 249.8,406 251.4,400.1 255.2,395.8 256.2,395.4 261.5,394.5 268.7,404.5 268.9,403 265.7,398.8 265.6,396.9 265.8,391.5 267.3,385.8 270.8,381.8 271.8,381.3 277,380.6 284.1,390.2 284.3,388.7 281.1,384.6 281,382.9 281,377.7 282.4,372.3 285.7,368.4 286.6,367.9 291.7,367.2 298.9,376.5 299,375.1 295.8,371.2 295.6,369.5 295.6,364.5 296.8,359.3 300,355.6 300.9,355.2 305.7,354.5 312.9,363.4 313,362.1 309.8,358.3 309.6,356.7 309.5,351.9 310.6,346.9 313.6,343.4 314.4,343 319.2,342.4 326.3,350.9 326.4,349.6 323.2,346 322.9,344.5 322.7,339.9 323.7,335.1 326.6,331.7 327.4,331.3 332,330.8 339.1,339 339.2,337.8 336,334.3 335.7,332.8 335.4,328.4 336.3,323.7 339.1,320.5 339.8,320.1 344.3,319.6 351.4,327.5 351.4,326.4 348.2,323 348,321.6 347.6,317.3 348.4,312.9 351,309.7 351.8,309.4 356.1,309 363.2,316.6 363.2,315.5 360,312.3 359.7,310.9 359.3,306.8 359.9,302.5 362.4,299.5 363.2,299.1 367.4,298.7 374.4,306.1 374.4,305 371.2,301.9 370.9,300.6 370.5,296.6 371,292.5 373.4,289.6 374.1,289.3 378.2,288.9 385.3,296 385.2,295 382,292 381.7,290.7 381.2,286.9 381.7,282.9 384,280.1 384.7,279.8 388.7,279.5 395.6,286.4 391.4,282.5 394.2,285.2 397.1,287.6 253.2,422.3 245.2,423.2 237.2,423.7" fill="#ff1900"/>
<polygon points="230.7,423.6 230.7,423.6 233.5,422.2 235.3,416.1 239.1,411.4 241.3,410.3 245.5,409.4 252.3,419.5 253,416.6 253.1,416.3 250,411.9 250.3,406.9 252,401.1 255.6,396.6 257.6,395.6 261.7,394.7 268.6,404.4 269.1,401.6 269.2,401.3 266.1,397.1 266.3,392.3 267.8,386.8 271.2,382.5 273.2,381.5 277.1,380.7 284,390 284.5,387.4 284.5,387.1 281.4,383.1 281.6,378.5 282.9,373.2 286.1,369.1 288,368.1 291.8,367.4 298.7,376.3 299.1,373.8 299.2,373.5 296.1,369.7 296.1,365.3 297.3,360.2 300.4,356.3 302.2,355.4 305.8,354.7 312.8,363.3 313.1,360.8 313.2,360.6 310,356.9 310,352.7 311.1,347.8 314,344 315.8,343.2 319.3,342.5 326.2,350.8 326.4,348.5 326.5,348.2 323.4,344.7 323.3,340.6 324.2,335.9 327,332.3 328.7,331.5 332.1,330.9 339,338.9 339.2,336.6 339.3,336.4 336.2,333 336,329.1 336.8,324.5 339.5,321.1 341.1,320.3 344.4,319.8 351.3,327.4 351.4,325.3 351.5,325.1 348.4,321.8 348.1,318 348.9,313.7 351.4,310.4 353,309.6 356.2,309.1 363,316.5 363.1,314.4 363.2,314.2 360.1,311.1 359.8,307.4 360.5,303.2 362.8,300.1 364.4,299.3 367.5,298.9 374.3,306 374.4,304 374.4,303.8 371.3,300.8 371,297.3 371.6,293.2 373.8,290.2 375.3,289.5 378.3,289 385.1,295.9 385.2,294 385.2,293.8 382.1,290.9 381.7,287.5 382.2,283.6 384.4,280.7 385.8,280 388.8,279.6 395.5,286.3 391.8,283 394.6,285.5 397.5,287.8 254,422.2 246.3,423.1 238.5,423.6" fill="#ff1600"/>
<polygon points="232.3,423.7 232.3,423.7 234.1,423.1 235.9,417.1 239.6,412.3 242.8,410.5 245.6,409.7 252.3,419.4 252.9,416.4 253.5,414.8 250.6,410.5 250.9,407.8 252.5,402.1 256,397.5 259.1,395.8 261.8,395 268.5,404.4 269,401.5 269.6,399.9 266.6,395.8 266.9,393.2 268.4,387.8 271.7,383.3 274.7,381.7 277.3,381 284,390 284.4,387.3 284.9,385.7 281.9,381.8 282.1,379.3 283.5,374.1 286.6,369.9 289.5,368.3 292,367.7 298.7,376.3 299,373.7 299.5,372.2 296.5,368.4 296.7,366.1 297.9,361.1 300.8,357 303.6,355.6 306,355 312.7,363.2 313,360.7 313.5,359.3 310.5,355.7 310.6,353.4 311.6,348.6 314.4,344.8 317.1,343.4 319.5,342.8 326.1,350.7 326.3,348.4 326.8,347 323.8,343.5 323.8,341.3 324.8,336.7 327.4,333 330,331.7 332.3,331.2 339,338.8 339.1,336.5 339.5,335.2 336.5,331.9 336.5,329.8 337.4,325.3 339.9,321.8 342.4,320.5 344.6,320 351.2,327.4 351.3,325.2 351.7,324 348.7,320.7 348.7,318.7 349.4,314.4 351.8,311 354.2,309.8 356.4,309.3 363,316.5 363,314.3 363.4,313.2 360.4,310 360.3,308.1 361,304 363.3,300.7 365.6,299.5 367.7,299.1 374.3,306 374.3,303.9 374.6,302.8 371.6,299.8 371.5,297.9 372.1,293.9 374.3,290.8 376.5,289.7 378.5,289.3 385.1,295.9 385.1,294 385.3,292.9 382.4,289.9 382.3,288.1 382.8,284.3 384.8,281.3 387,280.2 388.9,279.8 395.5,286.2 392.3,283.4 395,285.8 397.8,288.1 254.9,422.1 247.4,423 239.9,423.6" fill="#ff1400"/>
<polygon points="233.9,423.7 233.9,423.7 234.4,423.7 236.4,418.2 240.1,413.2 244.4,410.7 245.9,410.2 252.3,419.5 252.8,416.4 251.3,409.3 251.3,409.3 251.4,408.6 253.1,403.1 256.5,398.4 260.7,395.9 262.1,395.5 268.6,404.4 269,401.5 267.3,394.7 267.3,394.7 267.4,394 268.9,388.7 272.2,384.2 276.2,381.9 277.5,381.5 284,390 284.3,387.2 282.6,380.7 282.6,380.7 282.7,380.1 284,375 287.1,370.7 290.9,368.5 292.3,368.1 298.7,376.3 299,373.7 297.2,367.4 297.2,367.4 297.2,366.8 298.4,362 301.3,357.8 305,355.8 306.3,355.4 312.8,363.3 313,360.7 311.1,354.7 311.1,354.7 311.1,354.2 312.2,349.5 314.9,345.5 318.5,343.6 319.7,343.2 326.2,350.8 326.3,348.4 324.3,342.6 324.3,342.6 324.4,342.1 325.4,337.6 327.9,333.8 331.3,331.9 332.6,331.5 339,338.9 339.1,336.5 337,331 337,331 337.1,330.5 337.9,326.2 340.4,322.5 343.7,320.7 344.9,320.4 351.3,327.4 351.3,325.2 349.2,319.9 349.2,319.9 349.2,319.4 350,315.2 352.3,311.7 355.5,310 356.6,309.7 363,316.5 363,314.3 360.9,309.2 360.9,309.2 360.9,308.7 361.6,304.7 363.8,301.4 366.8,299.7 367.9,299.4 374.3,306 374.3,303.9 372.1,299 372.1,299 372.1,298.5 372.7,294.7 374.8,291.4 377.7,289.9 378.8,289.6 385.1,295.9 385,293.9 382.8,289.2 382.8,289.2 382.8,288.7 383.3,285 385.3,281.9 388.2,280.4 389.2,280.1 395.5,286.3 392.8,283.9 395.4,286.2 398.1,288.3 255.7,422 248.5,422.9 241.2,423.5" fill="#ff1100"/>
<polygon points="235.4,423.7 235.4,423.7 237,419.2 240.6,414.2 246,410.8 246.2,410.7 252.5,419.6 252.9,416.5 254.5,413 252.2,408.4 252.2,408.3 253.7,404.1 257,399.3 262.2,396.1 262.4,396 268.7,404.5 269.1,401.6 270.5,398.2 268.2,393.8 268.2,393.7 269.5,389.7 272.7,385.1 277.6,382.1 277.9,382 284.1,390.2 284.4,387.3 285.7,384.1 283.4,379.9 283.4,379.8 284.6,375.9 287.6,371.6 292.4,368.7 292.6,368.6 298.8,376.5 299.1,373.8 300.3,370.7 297.9,366.6 297.9,366.6 299,362.8 301.9,358.7 306.4,355.9 306.6,355.8 312.9,363.4 313,360.8 314.2,357.9 311.8,354 311.8,353.9 312.8,350.3 315.5,346.3 319.8,343.7 320.1,343.7 326.3,350.9 326.4,348.4 327.4,345.6 325,341.9 325,341.8 325.9,338.4 328.5,334.5 332.7,332.1 332.9,332 339.1,339 339.2,336.6 340.1,333.9 337.7,330.3 337.7,330.3 338.5,326.9 340.9,323.3 345,320.9 345.2,320.8 351.4,327.5 351.4,325.3 352.3,322.7 349.9,319.2 349.9,319.2 350.6,316 352.9,312.4 356.8,310.2 357,310.1 363.2,316.6 363.1,314.4 363.9,311.9 361.5,308.6 361.5,308.5 362.2,305.5 364.3,302.1 368.1,299.9 368.3,299.8 374.4,306.1 374.3,304 375.1,301.6 372.6,298.4 372.6,298.3 373.2,295.4 375.3,292.1 378.9,290 379.1,290 385.2,296 385.1,294 385.8,291.7 383.4,288.6 383.4,288.6 383.9,285.7 385.8,282.6 389.4,280.6 389.5,280.5 395.6,286.4 393.3,284.3 395.8,286.5 398.4,288.5 256.6,421.9 249.6,422.7 242.5,423.4" fill="#ff0f00"/>
<polygon points="237,423.7 236.5,422.9 237.6,420.2 241.2,415.1 246.6,411.4 252.6,419.9 252.8,418.4 253.1,416.7 254.5,413.1 253.3,407.6 253.3,407.6 254.3,405 257.6,400.2 262.8,396.6 268.8,404.7 268.9,403.3 269.2,401.8 270.5,398.3 269.2,393.1 269.2,393 270.1,390.6 273.3,386 278.3,382.6 284.3,390.4 284.4,389 284.6,387.5 285.8,384.2 284.4,379.2 284.4,379.2 285.2,376.8 288.2,372.4 293,369.2 299,376.6 299,375.3 299.2,373.9 300.3,370.8 298.8,366 298.8,365.9 299.6,363.7 302.4,359.5 307,356.4 313.1,363.6 313.1,362.3 313.2,361 314.2,357.9 312.7,353.3 312.7,353.3 313.4,351.2 316,347.1 320.4,344.2 326.5,351.1 326.4,349.9 326.5,348.6 327.5,345.7 325.9,341.3 325.9,341.2 326.5,339.2 329,335.3 333.3,332.5 339.3,339.1 339.2,338 339.3,336.7 340.2,334 338.5,329.7 338.5,329.7 339.1,327.7 341.5,324 345.6,321.3 351.6,327.7 351.5,326.6 351.5,325.4 352.3,322.7 350.6,318.6 350.6,318.6 351.2,316.7 353.4,313.2 357.3,310.6 363.3,316.7 363.2,315.7 363.2,314.5 364,312 362.2,308 362.2,308 362.7,306.2 364.9,302.8 368.6,300.3 374.6,306.2 374.5,305.2 374.5,304.1 375.1,301.7 373.4,297.9 373.4,297.9 373.8,296.1 375.8,292.8 379.5,290.4 385.4,296.2 385.3,295.2 385.3,294.1 385.8,291.8 384.1,288.1 384.1,288.1 384.5,286.4 386.4,283.2 389.9,280.9 395.8,286.5 393.8,284.7 396.2,286.8 398.7,288.8 257.5,421.8 250.7,422.6 243.8,423.3" fill="#ff0d00"/>
<polygon points="238.6,423.6 237.7,422.3 238.2,421.2 241.8,416.1 247.1,412.1 252.8,420.1 253.3,417 253.3,416.9 254.7,413.3 254.4,407 254.4,407 254.9,406 258.2,401.1 263.3,397.3 269.1,405 269.4,402 269.4,401.9 270.7,398.5 270.3,392.5 270.3,392.5 270.7,391.5 273.9,386.9 278.7,383.2 284.5,390.6 284.8,387.7 284.8,387.6 285.9,384.4 285.4,378.7 285.4,378.6 285.8,377.7 288.8,373.3 293.4,369.8 299.2,376.9 299.4,374.2 299.4,374.1 300.5,370.9 299.9,365.5 299.9,365.4 300.2,364.5 303,360.3 307.5,357 313.3,363.8 313.4,361.2 313.4,361.1 314.3,358.1 313.6,352.9 313.7,352.8 314,352 316.6,347.9 320.9,344.8 326.7,351.3 326.7,348.8 326.8,348.7 327.6,345.8 326.8,340.8 326.8,340.8 327.2,339.9 329.6,336.1 333.7,333.1 339.5,339.3 339.5,336.9 339.5,336.9 340.3,334.1 339.4,329.3 339.4,329.3 339.7,328.5 342.1,324.8 346,321.9 351.8,327.9 351.7,325.6 351.7,325.5 352.4,322.9 351.5,318.2 351.5,318.2 351.8,317.4 354,313.9 357.8,311.1 363.5,316.9 363.4,314.7 363.5,314.7 364.1,312.1 363.1,307.7 363.1,307.6 363.3,306.9 365.4,303.5 369.1,300.8 374.8,306.4 374.7,304.3 374.7,304.2 375.3,301.8 374.2,297.5 374.2,297.5 374.4,296.8 376.4,293.5 379.9,290.9 385.6,296.3 385.5,294.3 385.5,294.2 386,291.9 384.9,287.7 384.9,287.7 385.1,287 387,283.9 390.3,281.4 396,286.7 394.2,285.2 396.6,287.1 399,289 258.3,421.6 251.8,422.5 245.2,423.2" fill="#ff0c00"/>
<polygon points="240.1,423.6 239,421.8 242.4,417.1 247.6,412.8 253.1,420.5 253.5,417.3 254,415.6 254.9,413.5 257.9,410.2 255.6,406.6 255.7,406.6 258.8,402.1 263.8,398 269.3,405.3 269.7,402.3 270.1,400.7 270.9,398.7 273.8,395.6 271.5,392.1 271.5,392.1 274.5,387.8 279.2,383.9 284.8,390.9 285,388.1 285.4,386.5 286.1,384.6 288.9,381.6 286.6,378.3 286.6,378.3 289.4,374.2 293.9,370.5 299.5,377.2 299.7,374.5 300,373 300.7,371.2 303.3,368.3 301,365.1 301,365.1 303.6,361.2 308,357.7 313.5,364.1 313.7,361.5 313.9,360.1 314.6,358.3 317,355.6 314.7,352.5 314.7,352.5 317.2,348.7 321.4,345.4 327,351.6 327,349.1 327.2,347.7 327.8,346.1 330.2,343.4 327.9,340.5 327.9,340.5 330.2,336.9 334.2,333.7 339.8,339.6 339.8,337.2 340,335.9 340.5,334.3 342.7,331.8 340.4,329 340.4,329 342.7,325.5 346.5,322.4 352,328.1 352,325.9 352.2,324.6 352.7,323.1 354.8,320.7 352.5,317.9 352.5,317.9 354.6,314.6 358.3,311.7 363.8,317.2 363.7,315 363.8,313.8 364.3,312.3 366.3,310 364,307.4 364,307.4 366,304.2 369.6,301.4 375.1,306.7 374.9,304.5 375,303.4 375.5,302 377.4,299.8 375.1,297.2 375.1,297.2 377,294.2 380.4,291.5 385.9,296.6 385.7,294.5 385.8,293.4 386.2,292.1 388,289.9 385.7,287.5 385.8,287.5 387.6,284.5 390.8,281.9 396.3,286.9 394.7,285.6 397,287.4 399.3,289.2 259,421.5 252.8,422.4 246.5,423.1" fill="#ff0a00"/>
<polygon points="241.7,423.5 240.4,421.5 243,418.1 248.1,413.7 253.4,420.8 253.8,417.7 254.8,414.5 255.1,413.9 258,410.4 257,406.3 257,406.3 259.4,403 264.3,398.8 269.6,405.7 269.9,402.7 270.8,399.7 271.1,399.1 273.9,395.7 272.8,391.8 272.8,391.8 275.1,388.7 279.7,384.7 285.1,391.2 285.3,388.4 286.1,385.5 286.4,384.9 289,381.7 287.8,378 287.8,378 290,375 294.5,371.2 299.8,377.5 300,374.8 300.7,372 300.9,371.5 303.4,368.4 302.2,364.8 302.2,364.8 304.3,362 308.5,358.4 313.8,364.4 313.9,361.8 314.6,359.2 314.8,358.6 317.1,355.7 315.9,352.3 315.9,352.3 317.9,349.6 321.9,346.1 327.2,351.8 327.3,349.4 327.9,346.9 328.1,346.3 330.3,343.6 329,340.3 329,340.2 330.9,337.7 334.7,334.3 340.1,339.9 340.1,337.5 340.6,335.1 340.8,334.6 342.9,331.9 341.5,328.8 341.5,328.7 343.3,326.3 347,323.1 352.3,328.4 352.3,326.1 352.7,323.8 352.9,323.3 354.9,320.8 353.6,317.7 353.6,317.7 355.2,315.3 358.8,312.3 364.1,317.4 364,315.2 364.4,313 364.5,312.6 366.5,310.1 365.1,307.2 365.1,307.2 366.7,304.9 370.1,301.9 375.4,306.9 375.2,304.8 375.6,302.7 375.7,302.2 377.5,299.9 376.1,297 376.1,297 377.6,294.8 380.9,292 386.2,296.8 386,294.8 386.3,292.7 386.4,292.3 388.2,290 386.7,287.3 386.7,287.3 388.2,285.2 391.4,282.5 396.6,287.1 395.2,285.9 397.3,287.7 399.6,289.4 259.7,421.4 253.7,422.2 247.7,422.9" fill="#ff0900"/>
<polygon points="243.3,423.3 241.8,421.3 243.6,419.1 248.7,414.5 253.7,421.2 254.1,418.1 255.4,414.3 255.8,413.7 258.2,410.7 260.6,409.1 258.4,406.1 260.1,404 264.9,399.6 269.9,406 270.3,403.1 271.4,399.4 271.8,398.8 274.1,396 276.4,394.5 274.1,391.6 275.8,389.6 280.3,385.5 285.4,391.6 285.6,388.8 286.7,385.3 287,384.7 289.2,382 291.4,380.6 289.2,377.8 290.7,375.9 295,372 300.1,377.8 300.3,375.1 301.2,371.8 301.5,371.3 303.6,368.7 305.7,367.3 303.5,364.7 304.9,362.8 309.1,359.1 314.1,364.7 314.3,362.1 315.1,359 315.4,358.4 317.4,355.9 319.4,354.7 317.1,352.1 318.5,350.4 322.5,346.8 327.5,352.1 327.6,349.7 328.4,346.7 328.6,346.2 330.5,343.8 332.5,342.6 330.2,340.1 331.5,338.4 335.3,335 340.4,340.2 340.4,337.8 341.1,334.9 341.3,334.4 343.1,332.1 345,331 342.7,328.6 344,327 347.6,323.7 352.6,328.7 352.6,326.4 353.2,323.6 353.4,323.2 355.1,321 356.9,319.9 354.7,317.6 355.9,316.1 359.4,312.9 364.4,317.7 364.3,315.5 364.9,312.9 365,312.4 366.7,310.3 368.4,309.3 366.2,307 367.3,305.6 370.7,302.5 375.6,307.2 375.5,305.1 376,302.5 376.2,302.1 377.7,300.1 379.4,299 377.2,296.9 378.3,295.5 381.5,292.6 386.5,297 386.3,295.1 386.7,292.6 386.9,292.2 388.4,290.2 390,289.3 387.8,287.2 388.8,285.8 391.9,283 396.8,287.3 395.6,286.3 397.7,288 399.8,289.6 260.4,421.3 254.7,422.1 249,422.8" fill="#ff0800"/>
<polygon points="244.8,423.2 243.4,421.1 244.3,420 249.3,415.4 254,421.6 254.5,418.6 255.8,414.8 256.8,412.9 258.5,411 262,408.8 259.9,405.9 260.8,404.9 265.5,400.5 270.2,406.4 270.6,403.5 271.8,399.9 272.8,398.2 274.4,396.3 277.7,394.2 275.6,391.5 276.4,390.5 280.9,386.3 285.7,391.9 286,389.2 287.1,385.7 288,384.1 289.5,382.3 292.7,380.3 290.5,377.7 291.3,376.8 295.6,372.7 300.4,378.2 300.7,375.5 301.6,372.2 302.5,370.7 303.9,369 306.9,367 304.8,364.6 305.6,363.7 309.7,359.8 314.4,365 314.6,362.5 315.5,359.4 316.3,357.8 317.6,356.2 320.6,354.4 318.5,352 319.2,351.1 323.1,347.5 327.9,352.5 328,350.1 328.8,347 329.5,345.6 330.8,344.1 333.6,342.3 331.5,340 332.2,339.2 335.9,335.7 340.7,340.5 340.7,338.2 341.4,335.3 342.1,333.9 343.4,332.4 346.1,330.7 344,328.5 344.6,327.7 348.2,324.4 352.9,329 353,326.8 353.6,324 354.2,322.7 355.4,321.3 358,319.6 355.9,317.5 356.5,316.8 360,313.5 364.7,318 364.7,315.9 365.2,313.2 365.8,311.9 366.9,310.6 369.5,309 367.4,307 368,306.2 371.3,303.2 376,307.4 375.9,305.4 376.4,302.8 377,301.6 378,300.3 380.5,298.8 378.4,296.9 378.9,296.2 382.1,293.2 386.8,297.3 386.7,295.4 387.1,292.9 387.6,291.7 388.6,290.5 391,289 388.9,287.1 389.5,286.5 392.5,283.6 397.2,287.6 396.1,286.7 398.1,288.3 400.1,289.8 261.1,421.2 255.7,422 250.3,422.7" fill="#ff0700"/>
<polygon points="246.4,423.1 244.9,421 245,421 249.9,416.3 254.4,422 254.9,419.1 256.2,415.3 258,412.4 258.8,411.5 263.3,408.4 261.4,405.8 261.4,405.8 266.1,401.3 270.6,406.8 271,404 272.2,400.4 273.9,397.6 274.7,396.8 279,393.9 277,391.4 277.1,391.3 281.6,387.1 286,392.3 286.4,389.6 287.5,386.2 289.1,383.6 289.8,382.7 294,380 292,377.6 292,377.6 296.3,373.5 300.8,378.5 301,376 302,372.7 303.5,370.2 304.2,369.4 308.2,366.8 306.2,364.5 306.2,364.4 310.3,360.6 314.8,365.4 315,362.9 315.9,359.8 317.3,357.4 318,356.6 321.8,354.1 319.8,351.9 319.8,351.9 323.7,348.2 328.2,352.8 328.4,350.5 329.2,347.5 330.5,345.1 331.1,344.4 334.8,342.1 332.8,340 332.8,339.9 336.6,336.4 341,340.8 341.1,338.5 341.8,335.7 343.1,333.5 343.7,332.8 347.2,330.5 345.3,328.5 345.3,328.4 348.8,325 353.3,329.3 353.4,327.1 354,324.4 355.2,322.3 355.7,321.6 359.1,319.4 357.2,317.5 357.2,317.4 360.6,314.2 365.1,318.3 365.1,316.2 365.6,313.6 366.7,311.5 367.3,310.9 370.6,308.8 368.6,306.9 368.6,306.9 371.9,303.8 376.3,307.7 376.3,305.7 376.8,303.2 377.8,301.2 378.4,300.6 381.5,298.6 379.6,296.8 379.6,296.8 382.7,293.8 387.1,297.6 387.1,295.7 387.5,293.2 388.5,291.4 389,290.8 392,288.9 390.1,287.1 390.1,287.1 393.1,284.2 397.5,287.9 396.5,287.1 398.4,288.6 400.3,290 261.8,421.1 256.6,421.9 251.5,422.5" fill="#ff0600"/>
<polygon points="247.9,422.9 246.5,421 250.5,417.2 254.5,422.1 255.3,419.6 256.6,415.9 259.3,412 259.3,411.9 263.7,408.7 264.8,408.2 262.9,405.8 266.8,402.2 271,407.2 271.4,404.5 272.7,400.9 275.1,397.2 275.2,397.2 279.3,394.1 280.4,393.6 278.5,391.3 282.2,387.9 286.4,392.7 286.8,390.1 287.9,386.7 290.2,383.2 290.3,383.1 294.3,380.2 295.3,379.8 293.4,377.6 296.9,374.3 301.1,378.9 301.5,376.4 302.5,373.2 304.6,369.8 304.7,369.8 308.5,367 309.5,366.5 307.6,364.5 311,361.3 315.2,365.8 315.4,363.4 316.3,360.3 318.4,357.1 318.4,357 322.1,354.3 323.1,353.9 321.2,351.9 324.4,348.9 328.6,353.2 328.8,350.9 329.6,347.9 331.5,344.8 331.6,344.8 335.1,342.3 336,341.9 334.2,339.9 337.2,337 341.4,341.1 341.6,338.9 342.3,336.1 344.1,333.2 344.2,333.1 347.5,330.7 348.4,330.3 346.6,328.4 349.5,325.7 353.7,329.6 353.8,327.5 354.4,324.8 356.1,322 356.2,321.9 359.4,319.6 360.3,319.2 358.5,317.5 361.3,314.8 365.4,318.6 365.5,316.6 366.1,314 367.7,311.3 367.7,311.2 370.9,309 371.7,308.6 369.9,306.9 372.5,304.4 376.7,308 376.7,306.1 377.2,303.6 378.7,301 378.8,300.9 381.8,298.8 382.6,298.5 380.8,296.8 383.4,294.4 387.5,297.9 387.5,296 387.9,293.6 389.4,291.1 389.4,291.1 392.3,289 393.1,288.7 391.3,287.1 393.8,284.8 397.9,288.1 397,287.4 398.8,288.8 400.6,290.2 262.4,421.1 257.6,421.7 252.8,422.4" fill="#ff0500"/>
<polygon points="249.5,422.7 248.1,420.9 251.2,418 254.5,422.1 255.7,420.1 257.1,416.5 259.7,412.6 260.7,411.5 264,409.1 266.2,407.9 264.5,405.8 267.4,403 271.3,407.7 271.9,405 273.1,401.5 275.6,397.8 276.5,396.8 279.6,394.5 281.8,393.4 280.1,391.3 282.9,388.7 286.8,393.2 287.3,390.6 288.4,387.3 290.7,383.7 291.6,382.8 294.6,380.6 296.7,379.6 294.9,377.6 297.6,375.1 301.5,379.3 301.9,376.9 302.9,373.7 305.1,370.3 305.9,369.5 308.8,367.3 310.8,366.3 309.1,364.4 311.6,362 315.5,366.1 315.9,363.8 316.8,360.8 318.8,357.5 319.6,356.7 322.4,354.7 324.4,353.7 322.6,351.9 325,349.6 329,353.5 329.2,351.3 330.1,348.4 332,345.3 332.7,344.5 335.4,342.6 337.3,341.7 335.5,339.9 337.9,337.7 341.8,341.5 342,339.4 342.8,336.6 344.6,333.6 345.3,332.8 347.8,331 349.7,330.1 347.9,328.4 350.1,326.4 354,330 354.2,327.9 354.9,325.2 356.6,322.4 357.3,321.7 359.7,319.9 361.5,319.1 359.8,317.4 361.9,315.5 365.8,318.9 365.9,317 366.5,314.4 368.1,311.7 368.8,311 371.2,309.3 372.9,308.5 371.1,306.9 373.2,305 377.1,308.3 377.1,306.5 377.7,304 379.2,301.4 379.8,300.7 382.1,299.1 383.8,298.3 382.1,296.8 384,295 387.9,298.2 387.9,296.4 388.4,294 389.8,291.5 390.4,290.8 392.6,289.3 394.2,288.6 392.5,287.1 394.4,285.3 398.2,288.4 397.5,287.8 399.1,289.1 400.8,290.4 263.1,421 258.6,421.6 254,422.2" fill="#ff0400"/>
<polygon points="251,422.6 249.8,420.9 251.9,418.9 254.5,422.1 256.2,420.7 257.6,417.1 260.2,413.2 262.1,411.2 264.3,409.5 267.7,407.7 266.1,405.7 268.1,403.8 271.7,408.1 272.3,405.5 273.6,402.1 276.1,398.4 277.9,396.6 280,394.9 283.2,393.2 281.6,391.3 283.5,389.5 287.2,393.6 287.7,391.1 288.9,387.8 291.2,384.3 292.9,382.6 294.9,381 298,379.4 296.4,377.5 298.3,375.8 301.9,379.7 302.4,377.4 303.4,374.3 305.6,370.9 307.2,369.2 309.2,367.7 312.2,366.2 310.6,364.4 312.3,362.8 315.9,366.5 316.3,364.3 317.3,361.3 319.3,358.1 320.9,356.5 322.8,355 325.7,353.5 324,351.9 325.7,350.3 329.3,353.9 329.7,351.7 330.6,348.9 332.5,345.8 334,344.3 335.8,342.9 338.6,341.5 336.9,339.9 338.5,338.4 342.2,341.8 342.4,339.8 343.3,337.1 345,334.1 346.5,332.6 348.2,331.3 350.9,330 349.3,328.4 350.8,327 354.4,330.3 354.7,328.3 355.4,325.7 357.1,322.9 358.4,321.5 360.1,320.2 362.7,318.9 361.1,317.4 362.6,316.1 366.2,319.3 366.4,317.3 367,314.8 368.6,312.1 369.9,310.8 371.5,309.6 374,308.3 372.5,306.9 373.9,305.6 377.4,308.7 377.6,306.8 378.2,304.4 379.7,301.8 380.9,300.5 382.5,299.4 384.9,298.2 383.3,296.8 384.7,295.5 388.2,298.5 388.4,296.7 388.9,294.4 390.3,291.9 391.5,290.7 393,289.6 395.4,288.4 393.8,287.1 395.1,285.9 398.6,288.7 397.9,288.2 399.5,289.4 401.1,290.6 263.8,420.9 259.5,421.5 255.3,422" fill="#ff0400"/>
<polygon points="252.6,422.4 251.4,420.9 252.5,419.8 254.5,422.1 256.6,421.2 258.1,417.7 260.7,413.8 263.6,411 264.8,410.1 267.7,405.7 267.7,405.7 268.8,404.7 272.1,408.6 272.8,406.1 274.2,402.7 276.6,399 279.3,396.3 280.4,395.4 283.2,391.3 283.2,391.3 284.2,390.3 287.6,394 288.2,391.6 289.4,388.4 291.7,384.9 294.3,382.3 295.4,381.5 297.9,377.5 298,377.5 298.9,376.6 302.3,380.2 302.8,377.9 304,374.8 306.1,371.4 308.5,369 309.6,368.2 312,364.4 312,364.4 313,363.5 316.3,366.9 316.8,364.7 317.9,361.8 319.9,358.6 322.2,356.3 323.2,355.5 325.5,351.9 325.5,351.9 326.4,351 329.7,354.3 330.1,352.2 331.1,349.4 333,346.3 335.2,344.1 336.2,343.4 338.3,339.9 338.4,339.9 339.2,339.1 342.6,342.2 342.9,340.2 343.8,337.5 345.6,334.6 347.7,332.5 348.6,331.7 350.7,328.4 350.7,328.4 351.5,327.6 354.8,330.7 355.1,328.7 355.9,326.2 357.6,323.4 359.6,321.3 360.6,320.6 362.5,317.4 362.5,317.4 363.2,316.7 366.6,319.6 366.8,317.7 367.6,315.3 369.1,312.6 371.1,310.6 372,310 373.8,306.9 373.8,306.9 374.5,306.2 377.8,309 378,307.2 378.7,304.9 380.2,302.3 382.1,300.4 382.9,299.7 384.6,296.8 384.6,296.8 385.3,296.1 388.6,298.8 388.8,297.1 389.4,294.8 390.8,292.3 392.6,290.5 393.4,289.9 395,287.1 395,287.1 395.7,286.4 399,289 398.4,288.5 399.9,289.7 401.3,290.8 264.5,420.8 260.5,421.3 256.6,421.9" fill="#ff0300"/>
<polygon points="254.1,422.2 253.1,420.8 253.2,420.7 254.5,422.1 257.1,421.8 258.7,418.4 261.3,414.5 265.1,410.8 265.3,410.6 269.3,405.7 269.3,405.7 269.5,405.5 272.5,409 273.3,406.6 274.7,403.3 277.1,399.7 280.7,396.1 280.9,396 284.7,391.2 284.7,391.2 284.9,391.1 288,394.5 288.6,392.1 290,389 292.3,385.5 295.7,382.2 295.9,382 299.5,377.5 299.5,377.5 299.6,377.3 302.7,380.6 303.3,378.4 304.5,375.4 306.7,372 309.9,368.8 310.1,368.7 313.5,364.4 313.5,364.4 313.7,364.2 316.7,367.3 317.3,365.2 318.4,362.4 320.4,359.2 323.5,356.1 323.7,356 326.9,351.8 326.9,351.8 327.1,351.7 330.1,354.7 330.6,352.6 331.7,349.9 333.6,346.9 336.5,343.9 336.7,343.8 339.8,339.9 339.8,339.9 339.9,339.7 343,342.6 343.4,340.6 344.3,338 346.1,335.1 349,332.3 349.1,332.2 352,328.4 352.1,328.4 352.2,328.3 355.2,331 355.6,329.1 356.5,326.7 358.2,323.9 360.9,321.2 361,321.1 363.8,317.4 363.8,317.4 363.9,317.3 367,319.9 367.3,318.1 368.1,315.8 369.7,313.1 372.3,310.5 372.4,310.4 375.1,306.9 375.1,306.9 375.2,306.8 378.2,309.3 378.5,307.6 379.2,305.3 380.8,302.7 383.3,300.2 383.4,300.1 385.9,296.8 385.9,296.8 386,296.7 389,299.1 389.3,297.5 389.9,295.3 391.4,292.8 393.8,290.4 393.9,290.3 396.3,287.1 396.3,287.1 396.4,287 399.4,289.3 398.8,288.9 400.2,289.9 401.6,290.9 265.1,420.7 261.5,421.2 257.8,421.7" fill="#ff0300"/>
<polygon points="255.7,422 255.7,422 257.1,421.8 259.2,419 261.9,415.2 265.8,411.3 266.6,410.6 271.2,407.6 274,410.7 273.3,408.4 273.3,408.4 273.7,407.1 275.3,404 277.7,400.3 281.5,396.6 282.2,396 286.7,393.1 289.4,396.1 288.7,393.8 288.7,393.8 289.1,392.7 290.5,389.6 292.8,386.2 296.4,382.6 297.1,382 301.4,379.2 304.2,382.1 303.4,380 303.4,379.9 303.8,378.8 305.1,376 307.3,372.6 310.6,369.2 311.3,368.7 315.4,366 318.2,368.8 317.4,366.7 317.4,366.7 317.7,365.7 318.9,362.9 321,359.8 324.2,356.5 324.9,356 328.8,353.4 331.6,356.1 330.8,354.1 330.8,354.1 331.1,353.1 332.2,350.5 334.2,347.4 337.2,344.3 337.9,343.8 341.7,341.4 344.4,343.9 343.6,342.1 343.6,342 343.9,341.1 344.9,338.6 346.7,335.7 349.7,332.7 350.3,332.2 353.9,329.9 356.7,332.3 355.8,330.5 355.8,330.5 356.1,329.6 357,327.1 358.8,324.4 361.6,321.5 362.2,321.1 365.7,318.8 368.4,321.1 367.5,319.4 367.5,319.4 367.8,318.5 368.6,316.2 370.3,313.6 373,310.8 373.5,310.4 376.9,308.3 379.7,310.5 378.8,308.8 378.8,308.8 379,308 379.8,305.8 381.3,303.2 383.9,300.6 384.5,300.1 387.7,298.1 390.5,300.2 389.5,298.7 389.6,298.6 389.7,297.8 390.5,295.7 392,293.2 394.4,290.7 395,290.3 398.1,288.4 400.9,290.4 399.3,289.2 400.6,290.2 401.8,291.1 265.8,420.6 262.5,421 259.1,421.5" fill="#ff0200"/>
<polygon points="257.2,421.8 257.3,421.8 259.8,419.7 262.5,415.9 266.3,411.9 268.1,410.5 271.6,408 274.1,410.8 275.3,408.9 274.3,407.6 274.3,407.6 275.8,404.6 278.3,401 282,397.2 283.7,395.8 287.1,393.5 289.6,396.2 290.7,394.4 289.6,393.1 289.6,393.1 291.1,390.2 293.5,386.8 297,383.2 298.6,381.9 301.8,379.7 304.3,382.2 305.3,380.5 304.3,379.2 304.3,379.2 305.6,376.5 307.9,373.3 311.2,369.8 312.8,368.6 315.8,366.4 318.3,368.9 319.3,367.2 318.3,366.1 318.3,366 319.5,363.5 321.6,360.4 324.8,357.1 326.3,355.9 329.2,353.8 331.7,356.2 332.7,354.6 331.6,353.5 331.6,353.4 332.8,351 334.8,348 337.8,344.9 339.2,343.7 342.1,341.8 344.6,344 345.4,342.5 344.4,341.4 344.4,341.4 345.4,339.1 347.3,336.2 350.2,333.2 351.6,332.1 354.3,330.2 356.8,332.4 357.6,330.9 356.6,329.9 356.6,329.9 357.6,327.6 359.4,324.9 362.1,322 363.4,321 366.1,319.2 368.6,321.2 369.3,319.8 368.3,318.9 368.3,318.8 369.2,316.7 370.9,314.1 373.5,311.3 374.8,310.3 377.3,308.6 379.8,310.6 380.5,309.2 379.5,308.3 379.5,308.3 380.3,306.2 381.9,303.7 384.5,301 385.7,300.1 388.1,298.4 390.6,300.3 391.3,299 390.2,298.1 390.2,298.1 391,296.1 392.5,293.7 395,291.2 396.2,290.2 398.5,288.7 401,290.5 399.8,289.6 400.9,290.5 402.1,291.3 266.5,420.5 263.4,420.9 260.3,421.4" fill="#ff0200"/>
<polygon points="258.8,421.6 258.8,421.6 260.3,420.4 263.1,416.7 266.9,412.6 269.7,410.3 272.1,408.6 274.3,411 275.5,409.1 275.4,406.9 275.4,406.9 276.4,405.3 279,401.7 282.6,397.9 285.2,395.7 287.5,394 289.7,396.4 290.9,394.6 290.7,392.5 290.7,392.4 291.6,390.9 294.1,387.5 297.6,383.8 300.1,381.7 302.3,380.1 304.5,382.4 305.5,380.7 305.3,378.7 305.3,378.6 306.2,377.1 308.5,373.9 311.8,370.4 314.2,368.4 316.3,366.9 318.5,369.1 319.5,367.4 319.2,365.5 319.3,365.5 320.1,364 322.2,361 325.4,357.6 327.7,355.7 329.7,354.3 331.9,356.3 332.9,354.8 332.6,352.9 332.6,352.9 333.3,351.5 335.4,348.6 338.4,345.4 340.6,343.6 342.5,342.2 344.7,344.2 345.6,342.7 345.3,340.9 345.3,340.9 346,339.6 347.9,336.8 350.8,333.7 352.9,332 354.8,330.6 357,332.5 357.8,331.1 357.5,329.4 357.5,329.4 358.1,328.1 360,325.4 362.7,322.5 364.7,320.9 366.5,319.6 368.7,321.4 369.5,320 369.1,318.4 369.1,318.4 369.8,317.2 371.5,314.6 374.1,311.8 376.1,310.2 377.8,309 380,310.7 380.7,309.4 380.3,307.8 380.3,307.8 380.9,306.7 382.5,304.2 385.1,301.5 386.9,300 388.6,298.8 390.8,300.5 391.5,299.2 391,297.7 391,297.7 391.6,296.6 393.2,294.2 395.6,291.6 397.4,290.1 399,289 401.1,290.6 400.2,290 401.3,290.7 402.3,291.5 267.2,420.3 264.4,420.8 261.6,421.2" fill="#ff0200"/>
<polygon points="260.3,421.4 260.3,421.4 260.9,421 263.7,417.4 267.6,413.4 271.3,410.2 272.6,409.2 274.5,411.3 275.7,409.4 276.6,406.4 276.6,406.4 276.9,405.9 279.6,402.4 283.2,398.6 286.8,395.6 288,394.6 290,396.6 291.1,394.8 291.9,392 291.9,391.9 292.2,391.5 294.7,388.2 298.2,384.5 301.5,381.6 302.8,380.7 304.7,382.6 305.8,380.9 306.4,378.2 306.5,378.2 306.8,377.7 309.1,374.6 312.4,371.1 315.6,368.3 316.8,367.4 318.7,369.3 319.8,367.7 320.3,365 320.4,365 320.6,364.6 322.9,361.6 326,358.2 329.1,355.6 330.2,354.8 332.1,356.5 333.1,355 333.6,352.5 333.6,352.5 333.9,352.1 336,349.2 339,346 342,343.5 343,342.7 345,344.4 345.9,342.9 346.3,340.5 346.3,340.5 346.6,340.1 348.6,337.3 351.4,334.3 354.3,331.9 355.3,331.1 357.2,332.7 358.1,331.3 358.5,329 358.5,329 358.7,328.6 360.6,326 363.3,323.1 366.1,320.8 367.1,320 369,321.6 369.8,320.2 370.1,318 370.1,318 370.3,317.6 372.1,315.1 374.7,312.3 377.4,310.1 378.3,309.4 380.2,310.9 381,309.6 381.2,307.5 381.2,307.5 381.5,307.1 383.2,304.7 385.7,302 388.2,299.9 389.1,299.2 391,300.6 391.7,299.4 391.9,297.4 392,297.3 392.1,297 393.8,294.7 396.2,292.1 398.6,290.1 399.5,289.4 401.4,290.8 400.7,290.3 401.7,291 402.6,291.7 267.9,420.2 265.3,420.6 262.8,421" fill="#ff0100"/>
<polygon points="261.9,421.1 261.9,421.1 264.3,418.1 268.2,414.1 272.8,410.1 273.1,409.8 274.8,411.6 276,409.8 278.2,407.3 278.6,406.8 277.9,406 280.2,403.1 283.9,399.3 288.3,395.4 288.6,395.2 290.2,396.9 291.4,395.1 293.4,392.8 293.9,392.3 293.2,391.5 295.3,388.8 298.8,385.2 303,381.5 303.3,381.3 305,382.9 306.1,381.2 308,379 308.4,378.5 307.7,377.8 309.7,375.2 313.1,371.7 317.1,368.2 317.4,368 319,369.5 320.1,367.9 321.9,365.8 322.3,365.4 321.5,364.7 323.5,362.2 326.7,358.9 330.5,355.5 330.8,355.3 332.4,356.8 333.4,355.3 335.1,353.2 335.5,352.8 334.8,352.1 336.6,349.8 339.7,346.6 343.3,343.4 343.6,343.2 345.2,344.6 346.2,343.1 347.8,341.2 348.2,340.8 347.4,340.1 349.2,337.9 352.1,334.8 355.6,331.8 355.9,331.6 357.5,333 358.4,331.6 359.9,329.7 360.3,329.3 359.6,328.7 361.2,326.5 364,323.6 367.4,320.7 367.6,320.5 369.2,321.8 370.1,320.4 371.5,318.6 371.9,318.3 371.2,317.7 372.7,315.6 375.4,312.8 378.6,310 378.9,309.8 380.5,311.1 381.3,309.8 382.7,308.1 383,307.7 382.3,307.2 383.8,305.2 386.3,302.5 389.4,299.8 389.7,299.6 391.3,300.8 392,299.6 393.4,297.9 393.7,297.6 393,297.1 394.4,295.1 396.8,292.6 399.8,290 400,289.8 401.6,291 401.4,290.8 402.5,291.6 403.6,292.4 270.5,419.8 267.6,420.3 264.7,420.7" fill="#ff0100"/>
<polygon points="266.1,420.5 265.9,420.3 266,420.1 269.9,416.1 274.8,411.6 275.9,412.8 277.2,411 277.8,410.4 279.3,408.6 282.3,405.7 281.8,405.1 281.9,405 285.6,401.2 290.2,396.9 291.3,398 292.6,396.4 293.1,395.7 294.6,394 297.4,391.3 296.9,390.8 297,390.6 300.6,387 305,382.9 306,384 307.2,382.4 307.7,381.8 309.2,380.1 311.8,377.5 311.3,377 311.5,376.9 314.8,373.4 319,369.6 320.1,370.6 321.2,369.1 321.7,368.5 323,366.9 325.6,364.4 325.1,364 325.2,363.8 328.4,360.5 332.4,356.8 333.5,357.8 334.6,356.3 335,355.8 336.3,354.3 338.7,351.9 338.2,351.5 338.3,351.3 341.4,348.2 345.2,344.6 346.3,345.6 347.3,344.2 347.7,343.6 349,342.2 351.3,339.9 350.8,339.5 350.9,339.4 353.8,336.4 357.5,333 358.6,333.9 359.5,332.5 359.9,332 361.1,330.7 363.3,328.5 362.8,328.1 362.9,328 365.7,325.1 369.2,321.8 370.3,322.7 371.2,321.4 371.6,320.9 372.7,319.6 374.8,317.5 374.3,317.1 374.4,317 377.1,314.2 380.5,311.1 381.5,311.9 382.4,310.7 382.8,310.2 383.8,309 385.9,307 385.4,306.6 385.5,306.5 388,303.8 391.3,300.8 392.3,301.6 393.2,300.5 393.5,300 394.5,298.8 396,296.5 396,296.5 396.1,296.4 398.5,293.9 401.6,291 402.7,291.8 402.8,291.8 403.7,292.5 404.6,293.1 273.1,419.4 270.8,419.8 268.4,420.2" fill="#ff0000"/>
<polygon points="270.3,419.9 270.2,419.7 271.7,418.1 276.5,413.6 277.1,414.1 278.5,412.5 280.7,410.1 281.5,409.3 283.8,407 286.2,404.9 285.9,404.6 287.4,403.1 292,398.8 292.5,399.3 293.9,397.7 296,395.5 296.7,394.7 298.9,392.6 301.2,390.5 300.9,390.2 302.4,388.8 306.7,384.7 307.3,385.2 308.6,383.7 310.6,381.5 311.3,380.8 313.3,378.8 315.5,376.8 315.3,376.5 316.6,375.2 320.7,371.2 321.3,371.7 322.5,370.3 324.4,368.2 325.1,367.6 327.1,365.6 329.1,363.7 328.9,363.5 330.2,362.2 334.1,358.4 334.7,358.9 335.9,357.5 337.7,355.5 338.3,354.9 340.2,353 342.2,351.2 341.9,351 343.2,349.8 347,346.2 347.5,346.6 348.6,345.3 350.4,343.4 351,342.8 352.8,341 354.7,339.3 354.4,339.1 355.6,337.9 359.2,334.4 359.8,334.9 360.8,333.6 362.5,331.8 363.1,331.2 364.8,329.5 366.6,327.9 366.4,327.6 367.5,326.5 370.9,323.2 371.5,323.6 372.5,322.4 374.1,320.7 374.6,320.1 376.3,318.5 378,316.9 377.8,316.7 378.9,315.6 382.2,312.5 382.7,312.9 383.7,311.7 385.2,310 385.7,309.5 387.3,307.9 389,306.4 388.8,306.2 389.8,305.2 393,302.1 393.5,302.5 394.4,301.4 395.9,299.8 396.4,299.3 397.9,297.8 399.5,296.3 399.3,296.2 400.3,295.2 403.3,292.2 403.9,292.6 404.2,292.9 404.9,293.4 405.6,293.9 275.8,419 273.9,419.3 272.1,419.6" fill="#ff0000"/>
<polygon points="274.5,419.2 405.1,293.5 416.8,301.9 428.9,310.5 441.5,319.4 363.2,405 334.1,409.7 304.5,414.4" fill="#ff0000"/>
<polygon points="362,405.1 441,319 453.9,328.2 467.4,337.8 481.3,347.7 446.6,391.5 418.8,396 390.6,400.5" fill="#ff0000"/>
<polygon points="445.4,391.7 480.8,347.3 495,357.4 509.8,367.9 525.2,378.8 525.2,378.8 499,383 472.4,387.3" fill="#ff0000"/>
<path d="M160.9,256.9 L161.5,258.5 L162.1,261.8 L162.8,266.5 L163.5,272.2 L164.2,278.7 L164.9,285.8 L165.7,293.3 L166.5,301 L167.2,308.8 L168,316.6 L168.7,324.3 L169.5,331.8 L170.2,339.2M356.3,139.6 L357.5,140.3 L358.7,142.3 L359.9,145.3 L361,149.1 L362.2,153.5 L363.3,158.4 L364.4,163.5 L365.5,168.8 L366.6,174.1 L367.7,179.5 L368.9,184.7 L370,189.8 L371.1,194.8M180.4,245.2 L181,246.9 L181.7,250.3 L182.3,255.2 L183,261.1 L183.8,267.9 L184.5,275.2 L185.3,282.9 L186,290.9 L186.8,298.8 L187.6,306.7 L188.3,314.5 L189.1,322.1 L189.8,329.5 L190.6,336.8 L191.3,343.8 L192,350.5 L192.7,357 L193.4,363.1 L194.1,368.9 L194.8,374.5 L195.5,379.7 L196.2,384.6 L196.9,389.2 L197.5,393.6 L198.2,397.7 L198.8,401.5 L199.5,405 L200.1,408.3M345.1,146.3 L346.4,147.1 L347.7,149.3 L349,152.6 L350.2,156.8 L351.4,161.6 L352.7,166.8 L353.9,172.3 L355.1,177.9 L356.3,183.6 L357.5,189.3 L358.7,194.8 L359.9,200.1 L361.1,205.4 L362.2,210.4 L363.4,215.3 L364.6,219.9 L365.8,224.3 L367,228.5 L368.2,232.4 L369.4,236.1 L370.6,239.5 L371.8,242.6 L373,245.6 L374.2,248.3 L375.4,250.7 L376.6,253 L377.8,255 L379,256.9M198.9,234 L199.5,235.7 L200.2,239.2 L200.8,244 L201.5,249.9 L202.3,256.7 L203,263.9 L203.7,271.6 L204.5,279.4 L205.2,287.3 L205.9,295.1 L206.7,302.7 L207.4,310.2 L208.1,317.5 L208.8,324.7 L209.6,331.5 L210.3,338.1 L211,344.4 L211.7,350.4 L212.3,356.1 L213,361.5 L213.7,366.6 L214.4,371.4 L215,375.9 L215.7,380.1 L216.4,384 L217,387.7 L217.7,391.1 L218.3,394.3 L218.9,397.2 L219.6,400 L220.2,402.6 L220.8,405 L221.5,407.3 L222.1,409.4 L222.7,411.3 L223.3,413.2 L224,414.9 L224.6,416.5 L225.2,418 L225.8,419.5 L226.5,420.8 L227.1,422.1 L227.7,423.4M333.5,153.3 L334.8,154.1 L336.2,156.4 L337.5,159.8 L338.8,164.2 L340.1,169.1 L341.4,174.5 L342.7,180.2 L343.9,186.1 L345.2,191.9 L346.4,197.7 L347.7,203.4 L348.9,208.9 L350.2,214.3 L351.4,219.5 L352.7,224.4 L353.9,229.2 L355.2,233.6 L356.4,237.9 L357.7,241.8 L358.9,245.5 L360.2,249 L361.4,252.2 L362.7,255.1 L363.9,257.8 L365.2,260.3 L366.5,262.5 L367.7,264.6 L369,266.4 L370.2,268.1 L371.5,269.6 L372.8,271 L374,272.2 L375.3,273.2 L376.6,274.2 L377.9,275 L379.1,275.7 L380.4,276.4 L381.7,276.9 L382.9,277.4 L384.2,277.8 L385.5,278.1 L386.8,278.4 L388,278.6M216.5,223.5 L217.1,225.1 L217.7,228.4 L218.4,233 L219.1,238.7 L219.7,245.2 L220.4,252.2 L221.1,259.5 L221.8,267.1 L222.5,274.7 L223.2,282.2 L223.9,289.6 L224.6,296.9 L225.3,304 L226,310.9 L226.7,317.6 L227.4,324 L228,330.1 L228.7,336 L229.4,341.5 L230,346.8 L230.7,351.8 L231.3,356.4 L232,360.8 L232.6,364.9 L233.2,368.8 L233.9,372.4 L234.5,375.8 L235.1,378.9 L235.8,381.8 L236.4,384.5 L237,387.1 L237.6,389.5 L238.3,391.7 L238.9,393.7 L239.5,395.7 L240.1,397.5 L240.7,399.2 L241.3,400.7 L242,402.2 L242.6,403.7 L243.2,405 L243.8,406.3 L244.4,407.5 L245.1,408.6 L245.7,409.7 L246.3,410.8 L246.9,411.8 L247.5,412.8 L248.2,413.7 L248.8,414.6 L249.4,415.5 L250,416.4 L250.7,417.3 L251.3,418.1 L251.9,418.9 L252.6,419.8 L253.2,420.6 L253.8,421.4 L254.5,422.1M321.4,160.5 L322.7,161.4 L324.1,163.7 L325.5,167.1 L326.8,171.4 L328.1,176.4 L329.4,181.8 L330.7,187.6 L332.1,193.4 L333.3,199.3 L334.6,205.2 L335.9,210.9 L337.2,216.5 L338.5,221.9 L339.8,227.1 L341.1,232.2 L342.3,237 L343.6,241.5 L344.9,245.8 L346.2,249.9 L347.4,253.6 L348.7,257.2 L350,260.4 L351.3,263.5 L352.5,266.2 L353.8,268.8 L355.1,271.1 L356.4,273.2 L357.7,275.1 L359,276.9 L360.2,278.4 L361.5,279.9 L362.8,281.1 L364.1,282.2 L365.4,283.2 L366.7,284.1 L368,284.9 L369.3,285.5 L370.5,286.1 L371.8,286.6 L373.1,287 L374.4,287.4 L375.7,287.7 L377,288 L378.3,288.2 L379.6,288.3 L380.9,288.4 L382.2,288.5 L383.5,288.6 L384.7,288.6 L386,288.6 L387.3,288.6 L388.6,288.6 L389.9,288.5 L391.2,288.4 L392.5,288.4 L393.8,288.3 L395,288.2 L396.3,288.1 L397.6,287.9M233.2,213.4 L233.9,215 L234.5,218.3 L235.1,222.9 L235.8,228.5 L236.5,235 L237.1,241.9 L237.8,249.2 L238.5,256.7 L239.2,264.2 L239.8,271.6 L240.5,278.9 L241.2,286.1 L241.9,293.1 L242.5,299.8 L243.2,306.4 L243.9,312.7 L244.5,318.7 L245.2,324.4 L245.8,329.8 L246.5,335 L247.1,339.8 L247.8,344.4 L248.4,348.6 L249,352.6 L249.7,356.3 L250.3,359.8 L250.9,363.1 L251.6,366.1 L252.2,368.9 L252.8,371.5 L253.4,374 L254.1,376.2 L254.7,378.3 L255.3,380.3 L255.9,382.2 L256.6,383.9 L257.2,385.5 L257.8,387 L258.4,388.4 L259.1,389.8 L259.7,391.1 L260.3,392.3 L260.9,393.4 L261.6,394.5 L262.2,395.6 L262.8,396.6 L263.4,397.5 L264.1,398.5 L264.7,399.4 L265.3,400.2 L266,401.1 L266.6,401.9 L267.3,402.8 L267.9,403.6 L268.5,404.4 L269.2,405.1 L269.8,405.9 L270.5,406.7 L271.1,407.4 L271.8,408.2 L272.4,408.9 L273.1,409.7 L273.7,410.4 L274.4,411.1 L275,411.9 L275.7,412.6 L276.3,413.3 L277,414.1 L277.7,414.8 L278.3,415.5M308.7,168.1 L310.2,169 L311.6,171.4 L313,174.9 L314.4,179.4 L315.8,184.6 L317.2,190.2 L318.6,196.1 L319.9,202.2 L321.3,208.2 L322.6,214.2 L324,220.1 L325.3,225.8 L326.7,231.4 L328,236.8 L329.4,241.9 L330.7,246.8 L332,251.4 L333.4,255.8 L334.7,259.9 L336.1,263.8 L337.4,267.3 L338.7,270.6 L340.1,273.7 L341.4,276.4 L342.7,279 L344.1,281.3 L345.4,283.4 L346.7,285.4 L348.1,287.1 L349.4,288.6 L350.7,290 L352.1,291.3 L353.4,292.4 L354.7,293.3 L356.1,294.2 L357.4,294.9 L358.8,295.6 L360.1,296.1 L361.4,296.6 L362.8,297 L364.1,297.4 L365.4,297.6 L366.8,297.9 L368.1,298 L369.5,298.2 L370.8,298.3 L372.1,298.4 L373.5,298.4 L374.8,298.4 L376.1,298.4 L377.5,298.4 L378.8,298.3 L380.1,298.2 L381.5,298.2 L382.8,298.1 L384.1,298 L385.5,297.8 L386.8,297.7 L388.1,297.6 L389.4,297.4 L390.8,297.3 L392.1,297.2 L393.4,297 L394.7,296.8 L396.1,296.7 L397.4,296.5 L398.7,296.4 L400,296.2 L401.3,296 L402.7,295.9M249.2,203.9 L249.8,205.4 L250.4,208.6 L251.1,213.1 L251.7,218.6 L252.3,224.9 L253,231.7 L253.6,238.8 L254.3,246.1 L255,253.4 L255.6,260.7 L256.3,267.8 L256.9,274.8 L257.6,281.6 L258.2,288.3 L258.8,294.7 L259.5,300.8 L260.1,306.7 L260.8,312.3 L261.4,317.6 L262,322.6 L262.7,327.3 L263.3,331.8 L263.9,335.9 L264.5,339.8 L265.2,343.5 L265.8,346.9 L266.4,350 L267,353 L267.6,355.7 L268.3,358.3 L268.9,360.6 L269.5,362.8 L270.1,364.9 L270.7,366.8 L271.4,368.6 L272,370.3 L272.6,371.8 L273.2,373.3 L273.9,374.7 L274.5,376 L275.1,377.2 L275.7,378.4 L276.4,379.5 L277,380.5 L277.6,381.5 L278.2,382.5 L278.9,383.4 L279.5,384.3 L280.1,385.2 L280.8,386.1 L281.4,386.9 L282.1,387.7 L282.7,388.5 L283.3,389.2 L284,390 L284.6,390.7 L285.3,391.5 L285.9,392.2 L286.6,392.9 L287.2,393.6 L287.9,394.4 L288.5,395.1 L289.2,395.8 L289.8,396.5 L290.5,397.2 L291.1,397.9 L291.8,398.6 L292.5,399.3 L293.1,400 L293.8,400.7M295.6,176 L297,176.9 L298.5,179.3 L300,183 L301.4,187.5 L302.8,192.8 L304.3,198.5 L305.7,204.5 L307.1,210.7 L308.6,216.9 L310,223 L311.4,229 L312.8,234.8 L314.2,240.5 L315.6,246 L317,251.2 L318.4,256.2 L319.7,260.9 L321.1,265.4 L322.5,269.5 L323.9,273.4 L325.3,277.1 L326.6,280.4 L328,283.5 L329.4,286.3 L330.8,288.9 L332.1,291.3 L333.5,293.5 L334.9,295.4 L336.3,297.2 L337.6,298.7 L339,300.1 L340.4,301.4 L341.8,302.5 L343.1,303.5 L344.5,304.3 L345.9,305.1 L347.2,305.8 L348.6,306.3 L350,306.8 L351.4,307.2 L352.7,307.6 L354.1,307.8 L355.5,308.1 L356.8,308.2 L358.2,308.4 L359.6,308.5 L361,308.5 L362.3,308.6 L363.7,308.6 L365.1,308.6 L366.4,308.5 L367.8,308.5 L369.2,308.4 L370.5,308.3 L371.9,308.2 L373.2,308.1 L374.6,308 L376,307.8 L377.3,307.7 L378.7,307.6 L380,307.4 L381.4,307.3 L382.8,307.1 L384.1,306.9 L385.5,306.8 L386.8,306.6 L388.2,306.4 L389.5,306.3 L390.9,306.1 L392.2,305.9M264.4,194.7 L265,196.2 L265.6,199.3 L266.2,203.7 L266.9,209.1 L267.5,215.2 L268.1,221.9 L268.8,228.8 L269.4,236 L270,243.2 L270.6,250.3 L271.3,257.2 L271.9,264.1 L272.5,270.8 L273.1,277.3 L273.8,283.5 L274.4,289.5 L275,295.3 L275.6,300.7 L276.2,305.9 L276.9,310.8 L277.5,315.4 L278.1,319.8 L278.7,323.8 L279.3,327.6 L279.9,331.2 L280.5,334.5 L281.2,337.6 L281.8,340.5 L282.4,343.1 L283,345.6 L283.6,347.9 L284.2,350.1 L284.9,352.1 L285.5,353.9 L286.1,355.7 L286.7,357.3 L287.3,358.8 L287.9,360.2 L288.6,361.6 L289.2,362.8 L289.8,364 L290.4,365.1 L291.1,366.2 L291.7,367.2 L292.3,368.2 L293,369.1 L293.6,370 L294.2,370.9 L294.9,371.7 L295.5,372.5 L296.1,373.3 L296.8,374.1 L297.4,374.8 L298.1,375.6 L298.7,376.3 L299.3,377 L300,377.7 L300.6,378.4 L301.3,379.1 L301.9,379.8 L302.6,380.5 L303.2,381.1 L303.9,381.8 L304.6,382.5 L305.2,383.2 L305.9,383.8 L306.5,384.5 L307.2,385.1 L307.9,385.8 L308.5,386.5M281.8,184.3 L283.3,185.2 L284.8,187.7 L286.3,191.4 L287.8,196 L289.3,201.4 L290.8,207.2 L292.3,213.4 L293.8,219.6 L295.3,226 L296.7,232.2 L298.2,238.3 L299.7,244.2 L301.1,250 L302.6,255.5 L304,260.9 L305.5,266 L306.9,270.8 L308.3,275.3 L309.8,279.6 L311.2,283.5 L312.6,287.2 L314,290.6 L315.5,293.8 L316.9,296.7 L318.3,299.3 L319.7,301.7 L321.1,303.9 L322.5,305.9 L324,307.7 L325.4,309.2 L326.8,310.7 L328.2,312 L329.6,313.1 L331,314.1 L332.4,315 L333.8,315.7 L335.2,316.4 L336.7,317 L338.1,317.4 L339.5,317.9 L340.9,318.2 L342.3,318.5 L343.7,318.7 L345.1,318.9 L346.5,319 L347.9,319.1 L349.3,319.2 L350.7,319.2 L352.1,319.2 L353.5,319.2 L354.9,319.1 L356.3,319.1 L357.7,319 L359.1,318.9 L360.5,318.8 L361.9,318.7 L363.3,318.6 L364.7,318.4 L366.1,318.3 L367.5,318.1 L368.9,318 L370.3,317.8 L371.6,317.6 L373,317.5 L374.4,317.3 L375.8,317.1 L377.2,316.9 L378.6,316.8 L380,316.6 L381.3,316.4M279,186 L279.6,187.5 L280.2,190.5 L280.8,194.8 L281.4,200.1 L282,206 L282.6,212.5 L283.2,219.4 L283.8,226.3 L284.4,233.4 L285,240.3 L285.6,247.1 L286.2,253.8 L286.8,260.4 L287.4,266.7 L288,272.8 L288.6,278.7 L289.2,284.3 L289.8,289.7 L290.4,294.8 L291,299.5 L291.6,304.1 L292.2,308.3 L292.8,312.3 L293.4,316 L294.1,319.5 L294.7,322.7 L295.3,325.7 L295.9,328.5 L296.5,331.1 L297.1,333.5 L297.7,335.8 L298.3,337.9 L298.9,339.8 L299.5,341.6 L300.1,343.3 L300.8,344.9 L301.4,346.4 L302,347.7 L302.6,349 L303.2,350.3 L303.9,351.4 L304.5,352.5 L305.1,353.5 L305.7,354.5 L306.4,355.4 L307,356.3 L307.6,357.2 L308.3,358 L308.9,358.8 L309.5,359.6 L310.2,360.4 L310.8,361.1 L311.5,361.8 L312.1,362.5 L312.7,363.2 L313.4,363.9 L314,364.6 L314.7,365.3 L315.3,365.9 L316,366.6 L316.6,367.2 L317.3,367.9 L317.9,368.5 L318.6,369.2 L319.3,369.8 L319.9,370.4 L320.6,371.1 L321.2,371.7 L321.9,372.3 L322.6,373M267.4,193 L268.9,193.9 L270.5,196.4 L272.1,200.1 L273.6,204.9 L275.2,210.4 L276.7,216.3 L278.3,222.6 L279.8,229 L281.4,235.4 L282.9,241.8 L284.4,248 L286,254 L287.5,259.9 L289,265.6 L290.5,271 L292,276.2 L293.5,281.1 L295,285.7 L296.4,290 L297.9,294.1 L299.4,297.8 L300.9,301.3 L302.3,304.5 L303.8,307.4 L305.3,310.1 L306.7,312.6 L308.2,314.8 L309.7,316.8 L311.1,318.6 L312.6,320.2 L314,321.7 L315.5,323 L316.9,324.1 L318.4,325.1 L319.8,326 L321.3,326.8 L322.7,327.5 L324.2,328 L325.6,328.5 L327.1,328.9 L328.5,329.3 L330,329.6 L331.4,329.8 L332.8,330 L334.3,330.1 L335.7,330.2 L337.2,330.3 L338.6,330.3 L340,330.3 L341.5,330.3 L342.9,330.2 L344.3,330.1 L345.8,330.1 L347.2,330 L348.6,329.8 L350.1,329.7 L351.5,329.6 L352.9,329.4 L354.4,329.3 L355.8,329.1 L357.2,329 L358.6,328.8 L360.1,328.6 L361.5,328.4 L362.9,328.3 L364.3,328.1 L365.7,327.9 L367.2,327.7 L368.6,327.5 L370,327.3M292.8,177.7 L293.4,179.1 L294,182.1 L294.6,186.2 L295.2,191.4 L295.8,197.3 L296.4,203.6 L297,210.3 L297.6,217.1 L298.2,224 L298.7,230.8 L299.3,237.5 L299.9,244 L300.5,250.4 L301.1,256.6 L301.7,262.6 L302.2,268.4 L302.8,273.9 L303.4,279.1 L304,284.1 L304.6,288.8 L305.2,293.2 L305.8,297.3 L306.4,301.2 L307,304.8 L307.5,308.2 L308.1,311.4 L308.7,314.3 L309.3,317.1 L309.9,319.6 L310.5,322 L311.2,324.2 L311.8,326.2 L312.4,328.1 L313,329.9 L313.6,331.5 L314.2,333 L314.8,334.5 L315.4,335.8 L316.1,337.1 L316.7,338.2 L317.3,339.4 L317.9,340.4 L318.5,341.4 L319.2,342.4 L319.8,343.3 L320.4,344.1 L321.1,345 L321.7,345.8 L322.3,346.5 L323,347.3 L323.6,348 L324.2,348.7 L324.9,349.4 L325.5,350.1 L326.2,350.8 L326.8,351.4 L327.4,352.1 L328.1,352.7 L328.7,353.3 L329.4,354 L330,354.6 L330.7,355.2 L331.4,355.8 L332,356.4 L332.7,357 L333.3,357.6 L334,358.2 L334.6,358.8 L335.3,359.5 L336,360.1M252.3,202 L253.9,202.9 L255.5,205.5 L257.1,209.3 L258.8,214.2 L260.4,219.7 L262,225.8 L263.6,232.2 L265.3,238.7 L266.9,245.3 L268.5,251.8 L270,258.1 L271.6,264.3 L273.2,270.3 L274.8,276.1 L276.3,281.6 L277.9,286.9 L279.5,291.9 L281,296.6 L282.5,301 L284.1,305.1 L285.6,308.9 L287.1,312.4 L288.6,315.7 L290.2,318.7 L291.7,321.4 L293.2,323.9 L294.7,326.2 L296.2,328.2 L297.7,330.1 L299.2,331.7 L300.7,333.2 L302.2,334.5 L303.7,335.7 L305.2,336.7 L306.7,337.6 L308.2,338.4 L309.7,339 L311.1,339.6 L312.6,340.1 L314.1,340.5 L315.6,340.9 L317.1,341.2 L318.6,341.4 L320,341.6 L321.5,341.7 L323,341.8 L324.5,341.8 L325.9,341.9 L327.4,341.9 L328.9,341.8 L330.4,341.8 L331.8,341.7 L333.3,341.6 L334.8,341.5 L336.2,341.4 L337.7,341.2 L339.2,341.1 L340.6,340.9 L342.1,340.8 L343.6,340.6 L345,340.4 L346.5,340.3 L348,340.1 L349.4,339.9 L350.9,339.7 L352.3,339.5 L353.8,339.3 L355.2,339.1 L356.7,338.9 L358.1,338.7M306.1,169.7 L306.7,171.1 L307.3,174 L307.9,178.1 L308.5,183.1 L309.1,188.9 L309.6,195.1 L310.2,201.6 L310.8,208.3 L311.3,215 L311.9,221.7 L312.5,228.2 L313,234.7 L313.6,240.9 L314.1,247 L314.7,252.9 L315.3,258.5 L315.8,263.9 L316.4,269 L317,273.9 L317.6,278.5 L318.1,282.8 L318.7,286.8 L319.3,290.6 L319.9,294.2 L320.5,297.5 L321.1,300.6 L321.6,303.5 L322.2,306.1 L322.8,308.6 L323.4,310.9 L324,313.1 L324.6,315 L325.2,316.9 L325.8,318.6 L326.4,320.2 L327.1,321.7 L327.7,323.1 L328.3,324.4 L328.9,325.6 L329.5,326.8 L330.1,327.8 L330.8,328.9 L331.4,329.8 L332,330.7 L332.6,331.6 L333.3,332.4 L333.9,333.2 L334.5,334 L335.2,334.8 L335.8,335.5 L336.4,336.2 L337.1,336.9 L337.7,337.5 L338.3,338.2 L339,338.8 L339.6,339.5 L340.3,340.1 L340.9,340.7 L341.6,341.3 L342.2,341.9 L342.9,342.5 L343.5,343.1 L344.2,343.7 L344.8,344.3 L345.5,344.8 L346.1,345.4 L346.8,346 L347.5,346.6 L348.1,347.2 L348.8,347.7M236.5,211.5 L238.2,212.4 L239.8,215 L241.5,219 L243.2,223.9 L244.9,229.6 L246.6,235.8 L248.3,242.3 L250,249 L251.6,255.7 L253.3,262.3 L255,268.7 L256.6,275 L258.3,281.1 L259.9,287 L261.5,292.7 L263.2,298 L264.8,303.1 L266.4,307.9 L268,312.4 L269.6,316.6 L271.2,320.5 L272.7,324.1 L274.3,327.4 L275.9,330.5 L277.5,333.3 L279,335.8 L280.6,338.1 L282.1,340.2 L283.7,342 L285.2,343.7 L286.8,345.2 L288.3,346.5 L289.8,347.7 L291.4,348.8 L292.9,349.7 L294.4,350.5 L296,351.1 L297.5,351.7 L299,352.2 L300.6,352.7 L302.1,353 L303.6,353.3 L305.1,353.5 L306.7,353.7 L308.2,353.8 L309.7,353.9 L311.2,353.9 L312.7,354 L314.2,353.9 L315.7,353.9 L317.3,353.8 L318.8,353.8 L320.3,353.7 L321.8,353.5 L323.3,353.4 L324.8,353.3 L326.3,353.1 L327.8,353 L329.3,352.8 L330.8,352.6 L332.3,352.4 L333.8,352.3 L335.3,352.1 L336.8,351.9 L338.3,351.7 L339.8,351.5 L341.3,351.3 L342.8,351.1 L344.3,350.8 L345.8,350.6M318.9,162 L319.5,163.4 L320.1,166.2 L320.6,170.2 L321.2,175.2 L321.7,180.8 L322.3,186.9 L322.8,193.3 L323.4,199.8 L323.9,206.4 L324.5,213 L325,219.4 L325.6,225.7 L326.1,231.8 L326.7,237.8 L327.2,243.5 L327.8,249 L328.3,254.3 L328.9,259.3 L329.4,264.1 L330,268.6 L330.6,272.8 L331.1,276.8 L331.7,280.5 L332.3,284 L332.8,287.2 L333.4,290.2 L334,293 L334.6,295.6 L335.2,298.1 L335.8,300.3 L336.4,302.4 L337,304.3 L337.6,306.2 L338.2,307.8 L338.8,309.4 L339.4,310.8 L340,312.2 L340.6,313.5 L341.2,314.6 L341.8,315.8 L342.4,316.8 L343.1,317.8 L343.7,318.7 L344.3,319.6 L344.9,320.5 L345.5,321.3 L346.2,322 L346.8,322.8 L347.4,323.5 L348.1,324.2 L348.7,324.9 L349.3,325.5 L350,326.2 L350.6,326.8 L351.3,327.4 L351.9,328 L352.5,328.6 L353.2,329.2 L353.8,329.8 L354.5,330.3 L355.1,330.9 L355.8,331.5 L356.4,332 L357.1,332.6 L357.7,333.2 L358.4,333.7 L359,334.3 L359.7,334.8 L360.4,335.4 L361,335.9M219.9,221.4 L221.6,222.4 L223.4,225.1 L225.1,229.1 L226.9,234.1 L228.6,239.9 L230.4,246.2 L232.2,252.9 L233.9,259.7 L235.7,266.5 L237.4,273.3 L239.2,279.9 L240.9,286.3 L242.6,292.5 L244.3,298.5 L246,304.3 L247.7,309.8 L249.4,315 L251.1,319.8 L252.7,324.4 L254.4,328.7 L256,332.7 L257.7,336.3 L259.3,339.7 L260.9,342.8 L262.6,345.6 L264.2,348.2 L265.8,350.6 L267.4,352.7 L269,354.6 L270.6,356.3 L272.2,357.8 L273.8,359.1 L275.4,360.3 L276.9,361.4 L278.5,362.3 L280.1,363.1 L281.7,363.8 L283.2,364.4 L284.8,364.9 L286.4,365.3 L288,365.7 L289.5,366 L291.1,366.2 L292.7,366.4 L294.2,366.5 L295.8,366.6 L297.3,366.6 L298.9,366.6 L300.4,366.6 L302,366.6 L303.6,366.5 L305.1,366.4 L306.7,366.3 L308.2,366.2 L309.7,366 L311.3,365.9 L312.8,365.7 L314.4,365.5 L315.9,365.4 L317.5,365.2 L319,365 L320.5,364.8 L322.1,364.6 L323.6,364.4 L325.2,364.2 L326.7,364 L328.2,363.8 L329.8,363.5 L331.3,363.3 L332.8,363.1M331.1,154.7 L331.7,156 L332.3,158.8 L332.8,162.7 L333.4,167.6 L333.9,173.1 L334.4,179 L335,185.3 L335.5,191.7 L336,198.2 L336.5,204.6 L337.1,210.9 L337.6,217.1 L338.1,223.1 L338.7,228.9 L339.2,234.5 L339.7,240 L340.3,245.1 L340.8,250 L341.4,254.7 L341.9,259.1 L342.5,263.2 L343,267.1 L343.6,270.8 L344.2,274.2 L344.7,277.3 L345.3,280.3 L345.9,283 L346.4,285.6 L347,288 L347.6,290.2 L348.2,292.2 L348.8,294.1 L349.4,295.9 L350,297.5 L350.6,299 L351.2,300.4 L351.8,301.7 L352.4,303 L353,304.1 L353.6,305.2 L354.2,306.2 L354.8,307.2 L355.5,308.1 L356.1,308.9 L356.7,309.8 L357.3,310.5 L358,311.3 L358.6,312 L359.2,312.7 L359.8,313.4 L360.5,314 L361.1,314.7 L361.7,315.3 L362.4,315.9 L363,316.5 L363.7,317 L364.3,317.6 L364.9,318.2 L365.6,318.7 L366.2,319.3 L366.9,319.8 L367.5,320.4 L368.2,320.9 L368.8,321.5 L369.5,322 L370.1,322.5 L370.8,323.1 L371.4,323.6 L372.1,324.1 L372.8,324.7M202.5,231.9 L204.3,232.9 L206.1,235.6 L207.9,239.7 L209.7,244.8 L211.6,250.7 L213.4,257.2 L215.3,264 L217.1,271 L219,277.9 L220.8,284.8 L222.6,291.5 L224.4,298.1 L226.2,304.4 L228,310.6 L229.8,316.5 L231.5,322 L233.3,327.3 L235,332.3 L236.7,337 L238.5,341.3 L240.2,345.4 L241.9,349.1 L243.6,352.6 L245.3,355.7 L246.9,358.6 L248.6,361.2 L250.3,363.6 L251.9,365.8 L253.6,367.7 L255.2,369.4 L256.9,371 L258.5,372.4 L260.2,373.6 L261.8,374.6 L263.4,375.6 L265.1,376.4 L266.7,377.1 L268.3,377.7 L269.9,378.2 L271.5,378.6 L273.2,379 L274.8,379.2 L276.4,379.5 L278,379.6 L279.6,379.8 L281.2,379.8 L282.8,379.9 L284.4,379.9 L286,379.8 L287.6,379.8 L289.2,379.7 L290.8,379.6 L292.4,379.5 L294,379.4 L295.6,379.2 L297.2,379.1 L298.7,378.9 L300.3,378.7 L301.9,378.5 L303.5,378.3 L305.1,378.1 L306.7,377.9 L308.2,377.7 L309.8,377.5 L311.4,377.3 L313,377.1 L314.5,376.8 L316.1,376.6 L317.7,376.4 L319.3,376.1M342.8,147.7 L343.4,149 L344,151.7 L344.5,155.5 L345,160.3 L345.6,165.7 L346.1,171.5 L346.6,177.7 L347.1,184 L347.6,190.3 L348.1,196.6 L348.6,202.7 L349.2,208.8 L349.7,214.7 L350.2,220.4 L350.7,225.9 L351.2,231.2 L351.8,236.3 L352.3,241.1 L352.8,245.7 L353.4,250 L353.9,254.1 L354.4,257.9 L355,261.4 L355.6,264.8 L356.1,267.9 L356.7,270.8 L357.2,273.4 L357.8,275.9 L358.4,278.3 L359,280.4 L359.6,282.4 L360.1,284.3 L360.7,286 L361.3,287.6 L361.9,289 L362.5,290.4 L363.1,291.7 L363.7,292.9 L364.3,294 L364.9,295.1 L365.5,296.1 L366.2,297 L366.8,297.9 L367.4,298.7 L368,299.5 L368.6,300.3 L369.2,301 L369.9,301.7 L370.5,302.3 L371.1,303 L371.8,303.6 L372.4,304.2 L373,304.8 L373.7,305.4 L374.3,306 L374.9,306.5 L375.6,307.1 L376.2,307.6 L376.8,308.2 L377.5,308.7 L378.1,309.2 L378.8,309.7 L379.4,310.3 L380.1,310.8 L380.7,311.3 L381.4,311.8 L382,312.3 L382.7,312.8 L383.3,313.3 L384,313.8M184.2,242.9 L186,243.9 L187.9,246.7 L189.8,250.8 L191.7,256.1 L193.6,262.1 L195.6,268.7 L197.5,275.7 L199.4,282.8 L201.4,289.9 L203.3,296.9 L205.2,303.8 L207.1,310.5 L209,317 L210.8,323.2 L212.7,329.2 L214.5,334.9 L216.3,340.3 L218.2,345.4 L220,350.2 L221.8,354.6 L223.5,358.8 L225.3,362.6 L227.1,366.1 L228.8,369.3 L230.6,372.2 L232.3,374.9 L234,377.3 L235.7,379.5 L237.5,381.5 L239.2,383.2 L240.9,384.8 L242.6,386.2 L244.2,387.4 L245.9,388.5 L247.6,389.5 L249.3,390.3 L251,391 L252.6,391.6 L254.3,392.1 L256,392.5 L257.6,392.9 L259.3,393.2 L261,393.4 L262.6,393.6 L264.3,393.7 L265.9,393.7 L267.6,393.8 L269.2,393.8 L270.9,393.7 L272.5,393.7 L274.1,393.6 L275.8,393.5 L277.4,393.4 L279.1,393.2 L280.7,393.1 L282.3,392.9 L284,392.7 L285.6,392.5 L287.2,392.3 L288.8,392.1 L290.5,391.9 L292.1,391.7 L293.7,391.5 L295.3,391.2 L297,391 L298.6,390.8 L300.2,390.5 L301.8,390.3 L303.4,390.1 L305.1,389.8M354.1,140.9 L354.6,142.2 L355.2,144.8 L355.7,148.6 L356.3,153.3 L356.8,158.5 L357.3,164.3 L357.8,170.3 L358.3,176.5 L358.8,182.7 L359.3,188.9 L359.8,194.9 L360.3,200.8 L360.8,206.6 L361.3,212.2 L361.8,217.7 L362.3,222.9 L362.8,227.8 L363.3,232.6 L363.8,237 L364.3,241.3 L364.9,245.2 L365.4,249 L366,252.5 L366.5,255.7 L367.1,258.8 L367.6,261.6 L368.2,264.2 L368.7,266.7 L369.3,268.9 L369.9,271.1 L370.5,273 L371,274.8 L371.6,276.5 L372.2,278 L372.8,279.5 L373.4,280.8 L374,282.1 L374.6,283.2 L375.2,284.3 L375.8,285.4 L376.4,286.3 L377,287.2 L377.6,288.1 L378.2,288.9 L378.9,289.7 L379.5,290.4 L380.1,291.1 L380.7,291.8 L381.3,292.4 L382,293 L382.6,293.6 L383.2,294.2 L383.8,294.8 L384.5,295.4 L385.1,295.9 L385.7,296.4 L386.4,297 L387,297.5 L387.7,298 L388.3,298.5 L388.9,299 L389.6,299.5 L390.2,300 L390.9,300.5 L391.5,301 L392.2,301.5 L392.8,302 L393.5,302.5 L394.1,303 L394.8,303.5M164.9,254.5 L166.8,255.5 L168.7,258.3 L170.7,262.6 L172.7,267.9 L174.7,274.1 L176.8,280.9 L178.8,288 L180.8,295.2 L182.9,302.5 L184.9,309.7 L186.9,316.7 L188.8,323.5 L190.8,330.2 L192.8,336.6 L194.7,342.7 L196.6,348.5 L198.5,354 L200.4,359.2 L202.3,364.1 L204.2,368.6 L206,372.8 L207.9,376.7 L209.7,380.3 L211.5,383.5 L213.3,386.5 L215.1,389.3 L216.9,391.7 L218.7,394 L220.5,396 L222.3,397.7 L224,399.3 L225.8,400.8 L227.5,402 L229.3,403.1 L231,404.1 L232.7,404.9 L234.5,405.6 L236.2,406.2 L237.9,406.7 L239.6,407.2 L241.3,407.5 L243,407.8 L244.8,408 L246.5,408.2 L248.2,408.3 L249.9,408.3 L251.6,408.4 L253.3,408.4 L255,408.3 L256.6,408.2 L258.3,408.2 L260,408 L261.7,407.9 L263.4,407.7 L265.1,407.6 L266.8,407.4 L268.4,407.2 L270.1,407 L271.8,406.8 L273.5,406.6 L275.2,406.3 L276.8,406.1 L278.5,405.9 L280.2,405.6 L281.8,405.4 L283.5,405.2 L285.2,404.9 L286.8,404.7 L288.5,404.4 L290.2,404.2" fill="none" stroke="#262626" stroke-width="1.5" stroke-opacity="0.9"/>
<path d="M278.3,415.5 L280.8,418.2M402.7,295.9 L407.5,295.2M293.8,400.7 L306.7,414.1M392.2,305.9 L417.7,302.5M308.5,386.5 L332.4,409.9M381.3,316.4 L428.2,310M322.6,373 L357.6,405.9M370,327.3 L439.1,317.7M336,360.1 L382.5,401.8M358.1,338.7 L450.2,325.6M348.8,347.7 L376.7,371.7 L407.1,397.9M345.8,350.6 L404.7,342.1 L461.7,333.8M361,335.9 L394.4,363.5 L431.3,393.9M332.8,363.1 L404.6,352.5 L473.6,342.2M372.8,324.7 L411.6,355.5 L455.3,390.1M319.3,376.1 L404.5,363.3 L485.9,350.9M384,313.8 L428.3,347.7 L478.9,386.3M305.1,389.8 L404.4,374.5 L498.5,359.9M394.8,303.5 L444.5,340.1 L502.2,382.5M290.2,404.2 L404.3,386.2 L511.6,369.2" fill="none" stroke="#262626" stroke-width="1.5" stroke-opacity="0.9"/>
<path d="M364.9,134.4 L365.5,135.7 L366,138.3 L366.5,142 L367,146.5 L367.5,151.7 L368,157.3 L368.5,163.3 L369,169.3 L369.5,175.4 L370,181.5 L370.4,187.4 L370.9,193.2 L371.4,198.9 L371.9,204.4 L372.4,209.7 L372.9,214.8 L373.4,219.7 L373.9,224.3 L374.4,228.7 L374.9,232.9 L375.4,236.8 L376,240.4 L376.5,243.8 L377,247 L377.6,250 L378.1,252.8 L378.7,255.4 L379.2,257.8 L379.8,260 L380.4,262.1 L380.9,264 L381.5,265.7 L382.1,267.4 L382.7,268.9 L383.3,270.3 L383.8,271.6 L384.4,272.8 L385,274 L385.6,275 L386.2,276 L386.8,277 L387.4,277.8 L388.1,278.7 L388.7,279.4 L389.3,280.2 L389.9,280.9 L390.5,281.6 L391.1,282.2 L391.7,282.9 L392.4,283.5 L393,284 L393.6,284.6 L394.2,285.2 L394.9,285.7 L395.5,286.2 L396.1,286.8 L396.8,287.3 L397.4,287.8 L398,288.3 L398.7,288.8 L399.3,289.2 L399.9,289.7 L400.6,290.2 L401.2,290.7 L401.9,291.2 L402.5,291.6 L403.2,292.1 L403.8,292.6 L404.5,293 L405.1,293.5M144.6,266.7 L146.5,267.7 L148.5,270.6 L150.6,275 L152.7,280.4 L154.8,286.8 L157,293.7 L159.1,300.9 L161.2,308.4 L163.4,315.8 L165.5,323.1 L167.6,330.3 L169.6,337.3 L171.7,344.1 L173.8,350.6 L175.8,356.8 L177.8,362.8 L179.8,368.4 L181.8,373.7 L183.8,378.7 L185.7,383.3 L187.6,387.6 L189.6,391.5 L191.5,395.2 L193.4,398.5 L195.2,401.6 L197.1,404.4 L199,406.9 L200.8,409.1 L202.7,411.2 L204.5,413 L206.3,414.6 L208.1,416.1 L209.9,417.3 L211.7,418.4 L213.5,419.4 L215.3,420.3 L217.1,421 L218.9,421.6 L220.7,422.1 L222.4,422.5 L224.2,422.9 L226,423.2 L227.7,423.4 L229.5,423.5 L231.2,423.6 L233,423.7 L234.8,423.7 L236.5,423.7 L238.2,423.6 L240,423.6 L241.7,423.5 L243.5,423.3 L245.2,423.2 L247,423 L248.7,422.8 L250.4,422.6 L252.1,422.4 L253.9,422.2 L255.6,422 L257.3,421.8 L259.1,421.5 L260.8,421.3 L262.5,421 L264.2,420.8 L265.9,420.5 L267.7,420.3 L269.4,420 L271.1,419.8 L272.8,419.5 L274.5,419.2" fill="none" stroke="#000" stroke-width="1.3"/>
<path d="M405.1,293.5 L460.3,332.8 L525.2,378.8M274.5,419.2 L404.2,398.3 L525.2,378.8" fill="none" stroke="#000" stroke-width="1.3"/>
<path d="M4.8,151.3 L357.6,121.6" stroke="#808080" stroke-width="1.0" fill="none"/>
<path d="M4.8,151.3 L101.6,267.3" stroke="#808080" stroke-width="1.0" fill="none"/>
<path d="M101.6,267.3 L547.9,215.7" stroke="#808080" stroke-width="1.0" fill="none"/>
<path d="M110.5,453.1 L101.6,267.3" stroke="#808080" stroke-width="1.0" fill="none"/>
<path d="M110.5,453.1 L536.7,383.4" stroke="#1c1c1c" stroke-width="1.5" fill="none"/>
<path d="M536.7,383.4 L547.9,215.7" stroke="#1c1c1c" stroke-width="1.5" fill="none"/>
<path d="M357.6,121.6 L547.9,215.7" stroke="#1c1c1c" stroke-width="1.5" fill="none"/>
<path d="M119.7,451.6 L119.3,444.5M360.4,123 L360.3,128.6M164.9,444.2 L164.8,439.6M375,130.2 L374.9,133.9M209.1,437 L209,432.4M390.2,137.7 L390.1,141.5M252.3,429.9 L252.3,425.4M406.2,145.6 L406.1,149.5M294.6,423 L294.6,418.6M422.9,153.9 L422.8,157.8M335.9,416.2 L336,409.5M440.5,162.6 L440.2,168.8M376.3,409.6 L376.4,405.3M458.9,171.7 L458.7,175.8M415.8,403.2 L416,398.9M478.3,181.3 L478.1,185.5M454.5,396.9 L454.7,392.6M498.8,191.4 L498.5,195.7M492.4,390.7 L492.6,386.4M520.4,202.1 L520.1,206.5M529.4,384.6 L529.8,378.2M543.2,213.4 L542.7,220.3M537.2,376.8 L533.9,377.3M538.2,360.9 L534.9,361.5M539.3,344.9 L534.5,345.7M540.4,328.8 L537,329.3M541.4,312.5 L538.1,313M542.5,296.1 L539.2,296.6M543.6,279.6 L538.8,280.2M544.7,262.9 L541.4,263.3M545.9,246 L542.5,246.5M547,229 L543.6,229.5" fill="none" stroke="#1c1c1c" stroke-width="1.1"/>
<g font-family="Liberation Sans, Arial, sans-serif" font-weight="bold" font-size="19.5" fill="#000" text-anchor="middle">
<text transform="translate(120.0,477.0) scale(1.19,1)">−5</text>
<text transform="translate(334.3,443.0) scale(1.19,1)">0</text>
<text transform="translate(527.4,411.6) scale(1.19,1)">5</text>
<text transform="translate(359.6,109.6) scale(1.19,1)">−5</text>
<text transform="translate(440.2,149.3) scale(1.19,1)">0</text>
<text transform="translate(544,201.3) scale(1.19,1)">5</text>
<text transform="translate(564.5,280.9) scale(1.19,1)">9.8</text>
<text transform="translate(560.5,347.1) scale(1.19,1)">9.6</text>
<text transform="translate(334.4,469.7) scale(1.15,1)" font-style="italic" font-size="20.5">t</text>
<text transform="translate(441.4,122.6) scale(1.15,1)" font-style="italic" font-size="20.5">x</text>
<text transform="translate(621.2,298.2) scale(1.05,1)"><tspan font-style="italic" font-size="20.5">u</tspan><tspan font-size="16" dy="5.6">9</tspan><tspan dy="-4.2" font-size="25" font-weight="normal" dx="0.5">(</tspan><tspan font-style="italic" font-size="20.5" dx="0.5" dy="-1.4">x</tspan><tspan font-size="20.5">, </tspan><tspan font-style="italic" font-size="20.5">t</tspan><tspan font-size="25" font-weight="normal" dx="1" dy="1.4">)</tspan></text>
</g>
</g>
<g id="pb">
<path d="M750.5,454.9 L751.1,454.9 L751.8,454.9 L752.4,454.9 L753.1,454.9 L753.7,454.9 L754.4,454.9 L755.0,454.9 L755.7,454.9 L756.3,454.9 L757.0,454.9 L757.6,454.9 L758.3,454.9 L758.9,454.9 L759.6,454.9 L760.2,454.9 L760.9,454.9 L761.5,454.9 L762.1,454.9 L762.8,454.9 L763.4,454.9 L764.1,454.9 L764.7,454.9 L765.4,454.9 L766.0,454.9 L766.7,454.9 L767.3,454.9 L768.0,454.9 L768.6,454.9 L769.3,454.9 L769.9,454.9 L770.6,454.9 L771.2,454.9 L771.9,454.9 L772.5,454.9 L773.1,454.9 L773.8,454.9 L774.4,454.9 L775.1,454.9 L775.7,454.9 L776.4,454.9 L777.0,454.9 L777.7,454.9 L778.3,454.9 L779.0,454.9 L779.6,454.9 L780.3,454.9 L780.9,454.9 L781.6,454.9 L782.2,454.9 L782.8,454.9 L783.5,454.9 L784.1,454.9 L784.8,454.9 L785.4,454.9 L786.1,454.9 L786.7,454.9 L787.4,454.9 L788.0,454.9 L788.7,454.9 L789.3,454.9 L790.0,454.9 L790.6,454.9 L791.3,454.9 L791.9,454.9 L792.6,454.9 L793.2,454.9 L793.8,454.9 L794.5,454.9 L795.1,454.9 L795.8,454.9 L796.4,454.9 L797.1,454.9 L797.7,454.9 L798.4,454.9 L799.0,454.9 L799.7,454.9 L800.3,454.9 L801.0,454.9 L801.6,454.9 L802.3,454.9 L802.9,454.9 L803.6,454.9 L804.2,454.9 L804.8,454.9 L805.5,454.9 L806.1,454.9 L806.8,454.9 L807.4,454.9 L808.1,454.9 L808.7,454.9 L809.4,454.9 L810.0,454.9 L810.7,454.9 L811.3,454.9 L812.0,454.9 L812.6,454.9 L813.3,454.9 L813.9,454.9 L814.6,454.9 L815.2,454.9 L815.8,454.9 L816.5,454.9 L817.1,454.9 L817.8,454.9 L818.4,454.9 L819.1,454.9 L819.7,454.9 L820.4,454.9 L821.0,454.9 L821.7,454.9 L822.3,454.9 L823.0,454.9 L823.6,454.9 L824.3,454.9 L824.9,454.9 L825.6,454.9 L826.2,454.9 L826.8,454.9 L827.5,454.9 L828.1,454.8 L828.8,454.8 L829.4,454.8 L830.1,454.8 L830.7,454.8 L831.4,454.8 L832.0,454.8 L832.7,454.8 L833.3,454.8 L834.0,454.8 L834.6,454.8 L835.3,454.8 L835.9,454.8 L836.6,454.8 L837.2,454.8 L837.8,454.8 L838.5,454.8 L839.1,454.8 L839.8,454.8 L840.4,454.8 L841.1,454.8 L841.7,454.8 L842.4,454.8 L843.0,454.8 L843.7,454.8 L844.3,454.7 L845.0,454.7 L845.6,454.7 L846.3,454.7 L846.9,454.7 L847.5,454.7 L848.2,454.7 L848.8,454.7 L849.5,454.7 L850.1,454.7 L850.8,454.7 L851.4,454.7 L852.1,454.7 L852.7,454.6 L853.4,454.6 L854.0,454.6 L854.7,454.6 L855.3,454.6 L856.0,454.6 L856.6,454.6 L857.3,454.6 L857.9,454.5 L858.5,454.5 L859.2,454.5 L859.8,454.5 L860.5,454.5 L861.1,454.5 L861.8,454.4 L862.4,454.4 L863.1,454.4 L863.7,454.4 L864.4,454.4 L865.0,454.3 L865.7,454.3 L866.3,454.3 L867.0,454.3 L867.6,454.2 L868.3,454.2 L868.9,454.2 L869.5,454.2 L870.2,454.1 L870.8,454.1 L871.5,454.1 L872.1,454.0 L872.8,454.0 L873.4,454.0 L874.1,453.9 L874.7,453.9 L875.4,453.9 L876.0,453.8 L876.7,453.8 L877.3,453.7 L878.0,453.7 L878.6,453.6 L879.3,453.6 L879.9,453.5 L880.5,453.5 L881.2,453.4 L881.8,453.4 L882.5,453.3 L883.1,453.3 L883.8,453.2 L884.4,453.1 L885.1,453.1 L885.7,453.0 L886.4,452.9 L887.0,452.9 L887.7,452.8 L888.3,452.7 L889.0,452.6 L889.6,452.5 L890.3,452.4 L890.9,452.4 L891.5,452.3 L892.2,452.2 L892.8,452.1 L893.5,452.0 L894.1,451.9 L894.8,451.8 L895.4,451.6 L896.1,451.5 L896.7,451.4 L897.4,451.3 L898.0,451.1 L898.7,451.0 L899.3,450.9 L900.0,450.7 L900.6,450.6 L901.3,450.4 L901.9,450.3 L902.5,450.1 L903.2,449.9 L903.8,449.8 L904.5,449.6 L905.1,449.4 L905.8,449.2 L906.4,449.0 L907.1,448.8 L907.7,448.6 L908.4,448.4 L909.0,448.2 L909.7,447.9 L910.3,447.7 L911.0,447.5 L911.6,447.2 L912.2,447.0 L912.9,446.7 L913.5,446.4 L914.2,446.1 L914.8,445.8 L915.5,445.5 L916.1,445.2 L916.8,444.9 L917.4,444.6 L918.1,444.2 L918.7,443.9 L919.4,443.5 L920.0,443.2 L920.7,442.8 L921.3,442.4 L922.0,442.0 L922.6,441.6 L923.2,441.1 L923.9,440.7 L924.5,440.2 L925.2,439.8 L925.8,439.3 L926.5,438.8 L927.1,438.3 L927.8,437.8 L928.4,437.2 L929.1,436.7 L929.7,436.1 L930.4,435.5 L931.0,434.9 L931.7,434.3 L932.3,433.7 L933.0,433.1 L933.6,432.4 L934.2,431.7 L934.9,431.0 L935.5,430.3 L936.2,429.5 L936.8,428.8 L937.5,428.0 L938.1,427.2 L938.8,426.4 L939.4,425.5 L940.1,424.7 L940.7,423.8 L941.4,422.9 L942.0,421.9 L942.7,421.0 L943.3,420.0 L944.0,419.0 L944.6,418.0 L945.2,416.9 L945.9,415.8 L946.5,414.7 L947.2,413.6 L947.8,412.4 L948.5,411.2 L949.1,410.0 L949.8,408.8 L950.4,407.5 L951.1,406.2 L951.7,404.9 L952.4,403.5 L953.0,402.1 L953.7,400.7 L954.3,399.2 L955.0,397.7 L955.6,396.2 L956.2,394.6 L956.9,393.0 L957.5,391.4 L958.2,389.7 L958.8,388.0 L959.5,386.3 L960.1,384.5 L960.8,382.7 L961.4,380.9 L962.1,379.0 L962.7,377.1 L963.4,375.1 L964.0,373.1 L964.7,371.1 L965.3,369.0 L966.0,366.9 L966.6,364.7 L967.2,362.5 L967.9,360.2 L968.5,358.0 L969.2,355.6 L969.8,353.3 L970.5,350.9 L971.1,348.4 L971.8,345.9 L972.4,343.4 L973.1,340.8 L973.7,338.2 L974.4,335.5 L975.0,332.8 L975.7,330.1 L976.3,327.3 L977.0,324.4 L977.6,321.6 L978.2,318.6 L978.9,315.7 L979.5,312.7 L980.2,309.6 L980.8,306.5 L981.5,303.4 L982.1,300.2 L982.8,297.0 L983.4,293.8 L984.1,290.5 L984.7,287.2 L985.4,283.8 L986.0,280.4 L986.7,277.0 L987.3,273.5 L987.9,270.0 L988.6,266.4 L989.2,262.8 L989.9,259.2 L990.5,255.6 L991.2,251.9 L991.8,248.2 L992.5,244.5 L993.1,240.7 L993.8,237.0 L994.4,233.2 L995.1,229.3 L995.7,225.5 L996.4,221.6 L997.0,217.8 L997.7,213.9 L998.3,210.0 L998.9,206.0 L999.6,202.1 L1000.2,198.1 L1000.9,194.1 L1001.5,190.1 L1002.2,186.1 L1002.8,182.1 L1003.5,178.1 L1004.1,174.0 L1004.8,170.0 L1005.4,166.0 L1006.1,162.0 L1006.7,158.1 L1007.4,154.1 L1008.0,150.2 L1008.7,146.3 L1009.3,142.5 L1009.9,138.7 L1010.6,134.9 L1011.2,131.2 L1011.9,127.6 L1012.5,124.0 L1013.2,120.5 L1013.8,117.1 L1014.5,113.8 L1015.1,110.6 L1015.8,107.6 L1016.4,104.6 L1017.1,101.7 L1017.7,99.0 L1018.4,96.5 L1019.0,94.1 L1019.7,91.8 L1020.3,89.8 L1020.9,87.9 L1021.6,86.3 L1022.2,84.8 L1022.9,83.5 L1023.5,82.5 L1024.2,81.8 L1024.8,81.3 L1025.5,81.0 L1026.1,81.0 L1026.8,81.4 L1027.4,82.0 L1028.1,82.9 L1028.7,84.2 L1029.4,85.7 L1030.0,87.7 L1030.7,89.9 L1031.3,92.6 L1031.9,95.6 L1032.6,99.0 L1033.2,102.7 L1033.9,106.9 L1034.5,111.4 L1035.2,116.4 L1035.8,121.7 L1036.5,127.5 L1037.1,133.6 L1037.8,140.1 L1038.4,147.1 L1039.1,154.4 L1039.7,162.1 L1040.4,170.2 L1041.0,178.6 L1041.7,187.4 L1042.3,196.5 L1042.9,205.9 L1043.6,215.5 L1044.2,225.5 L1044.9,235.6 L1045.5,246.0 L1046.2,256.5 L1046.8,267.1 L1047.5,277.8 L1048.1,288.6 L1048.8,299.3 L1049.4,310.1 L1050.1,320.7 L1050.7,331.2 L1051.4,341.5 L1052.0,351.5 L1052.6,361.3 L1053.3,370.7 L1053.9,379.8 L1054.6,388.4 L1055.2,396.6 L1055.9,404.2 L1056.5,411.4 L1057.2,417.9 L1057.8,423.9 L1058.5,429.3 L1059.1,434.1 L1059.8,438.4 L1060.4,442.0 L1061.1,445.1 L1061.7,447.6 L1062.4,449.7 L1063.0,451.3 L1063.6,452.5 L1064.3,453.4 L1064.9,454.0 L1065.6,454.4 L1066.2,454.7 L1066.9,454.8 L1067.5,454.9 L1068.2,454.9 L1068.8,454.9 L1069.5,454.9 L1070.1,454.9 L1070.8,454.9 L1071.4,454.9 L1072.1,454.9 L1072.7,454.9 L1073.4,454.9 L1074.0,454.9 L1074.6,454.9 L1075.3,454.9 L1075.9,454.9 L1076.6,454.9 L1077.2,454.9 L1077.9,454.9 L1078.5,454.9 L1079.2,454.9 L1079.8,454.9 L1080.5,454.9 L1081.1,454.8 L1081.8,454.7 L1082.4,454.4 L1083.1,454.0 L1083.7,453.4 L1084.4,452.6 L1085.0,451.4 L1085.6,449.8 L1086.3,447.7 L1086.9,445.2 L1087.6,442.2 L1088.2,438.7 L1088.9,434.5 L1089.5,429.8 L1090.2,424.5 L1090.8,418.6 L1091.5,412.1 L1092.1,405.1 L1092.8,397.6 L1093.4,389.6 L1094.1,381.1 L1094.7,372.2 L1095.4,362.9 L1096.0,353.3 L1096.6,343.5 L1097.3,333.4 L1097.9,323.1 L1098.6,312.6 L1099.2,302.1 L1099.9,291.5 L1100.5,281.0 L1101.2,270.4 L1101.8,260.0 L1102.5,249.7 L1103.1,239.5 L1103.8,229.5 L1104.4,219.8 L1105.1,210.3 L1105.7,201.0 L1106.3,192.1 L1107.0,183.5 L1107.6,175.2 L1108.3,167.3 L1108.9,159.7 L1109.6,152.5 L1110.2,145.7 L1110.9,139.3 L1111.5,133.2 L1112.2,127.6 L1112.8,122.3 L1113.5,117.5 L1114.1,113.0 L1114.8,108.9 L1115.4,105.2 L1116.1,101.9 L1116.7,99.0 L1117.3,96.4 L1118.0,94.2 L1118.6,92.3 L1119.3,90.7 L1119.9,89.5 L1120.6,88.6 L1121.2,88.0 L1121.9,87.7 L1122.5,87.6 L1123.2,87.9 L1123.8,88.4 L1124.5,89.1 L1125.1,90.1 L1125.8,91.3 L1126.4,92.8 L1127.1,94.4 L1127.7,96.2 L1128.3,98.3 L1129.0,100.5 L1129.6,102.8 L1130.3,105.3 L1130.9,108.0 L1131.6,110.8 L1132.2,113.7 L1132.9,116.7 L1133.5,119.9 L1134.2,123.1 L1134.8,126.5 L1135.5,129.9 L1136.1,133.4 L1136.8,136.9 L1137.4,140.6 L1138.1,144.3 L1138.7,148.0 L1139.3,151.8 L1140.0,155.6 L1140.6,159.4 L1141.3,163.3 L1141.9,167.2 L1142.6,171.1 L1143.2,175.1 L1143.9,179.0 L1144.5,183.0 L1145.2,186.9 L1145.8,190.9 L1146.5,194.8 L1147.1,198.7 L1147.8,202.6 L1148.4,206.5 L1149.1,210.4 L1149.7,214.3 L1150.3,218.1 L1151.0,222.0 L1151.6,225.8 L1152.3,229.6 L1152.9,233.3 L1153.6,237.1 L1154.2,240.8 L1154.9,244.5 L1155.5,248.2 L1156.2,251.9 L1156.8,255.5 L1157.5,259.1 L1158.1,262.7 L1158.8,266.2 L1159.4,269.8 L1160.1,273.2 L1160.7,276.7 L1161.3,280.1 L1162.0,283.5 L1162.6,286.8 L1163.3,290.1 L1163.9,293.4 L1164.6,296.6 L1165.2,299.8 L1165.9,303.0 L1166.5,306.1 L1167.2,309.2 L1167.8,312.2 L1168.5,315.2 L1169.1,318.1 L1169.8,321.1 L1170.4,323.9 L1171.0,326.7 L1171.7,329.5 L1172.3,332.3 L1173.0,335.0 L1173.6,337.6 L1174.3,340.2 L1174.9,342.8 L1175.6,345.4 L1176.2,347.8 L1176.9,350.3 L1177.5,352.7 L1178.2,355.1 L1178.8,357.4 L1179.5,359.7 L1180.1,361.9 L1180.8,364.1 L1181.4,366.3 L1182.0,368.4 L1182.7,370.5 L1183.3,372.5 L1184.0,374.5 L1184.6,376.5 L1185.3,378.4 L1185.9,380.3 L1186.6,382.2 L1187.2,384.0 L1187.9,385.8 L1188.5,387.5 L1189.2,389.2 L1189.8,390.9 L1190.5,392.5 L1191.1,394.1 L1191.8,395.7 L1192.4,397.2 L1193.0,398.7 L1193.7,400.2 L1194.3,401.6 L1195.0,403.0 L1195.6,404.4 L1196.3,405.7 L1196.9,407.1 L1197.6,408.3 L1198.2,409.6 L1198.9,410.8 L1199.5,412.0 L1200.2,413.2 L1200.8,414.3 L1201.5,415.4 L1202.1,416.5 L1202.8,417.6 L1203.4,418.6 L1204.0,419.6 L1204.7,420.6 L1205.3,421.6 L1206.0,422.5 L1206.6,423.4 L1207.3,424.3 L1207.9,425.2 L1208.6,426.1 L1209.2,426.9 L1209.9,427.7 L1210.5,428.5 L1211.2,429.2 L1211.8,430.0 L1212.5,430.7 L1213.1,431.4 L1213.8,432.1 L1214.4,432.8 L1215.0,433.4 L1215.7,434.1 L1216.3,434.7 L1217.0,435.3 L1217.6,435.9 L1218.3,436.5 L1218.9,437.0 L1219.6,437.6 L1220.2,438.1 L1220.9,438.6 L1221.5,439.1 L1222.2,439.6 L1222.8,440.0 L1223.5,440.5 L1224.1,440.9 L1224.8,441.4 L1225.4,441.8 L1226.0,442.2 L1226.7,442.6 L1227.3,443.0 L1228.0,443.4 L1228.6,443.7 L1229.3,444.1 L1229.9,444.4 L1230.6,444.8 L1231.2,445.1 L1231.9,445.4 L1232.5,445.7 L1233.2,446.0 L1233.8,446.3 L1234.5,446.6 L1235.1,446.8 L1235.8,447.1 L1236.4,447.3 L1237.0,447.6 L1237.7,447.8 L1238.3,448.1 L1239.0,448.3 L1239.6,448.5 L1240.3,448.7 L1240.9,448.9 L1241.6,449.1 L1242.2,449.3 L1242.9,449.5 L1243.5,449.7 L1244.2,449.9 L1244.8,450.0 L1245.5,450.2 L1246.1,450.4 L1246.7,450.5 L1247.4,450.7 L1248.0,450.8 L1248.7,450.9 L1249.3,451.1 L1250.0,451.2 L1250.6,451.3 L1251.3,451.5 L1251.9,451.6 L1252.6,451.7 L1253.2,451.8 L1253.9,451.9 L1254.5,452.0 L1255.2,452.1 L1255.8,452.2 L1256.5,452.3 L1257.1,452.4 L1257.7,452.5 L1258.4,452.6 L1259.0,452.7 L1259.7,452.7 L1260.3,452.8 L1261.0,452.9 L1261.6,453.0 L1262.3,453.0 L1262.9,453.1 L1263.6,453.2 L1264.2,453.2 L1264.9,453.3 L1265.5,453.3 L1266.2,453.4 L1266.8,453.5 L1267.5,453.5 L1268.1,453.6 L1268.7,453.6 L1269.4,453.7 L1270.0,453.7 L1270.7,453.8 L1271.3,453.8 L1272.0,453.8 L1272.6,453.9 L1273.3,453.9 L1273.9,454.0 L1274.6,454.0 L1275.2,454.0 L1275.9,454.1 L1276.5,454.1 L1277.2,454.1 L1277.8,454.1 L1278.5,454.2 L1279.1,454.2 L1279.7,454.2 L1280.4,454.3 L1281.0,454.3 L1281.7,454.3 L1282.3,454.3 L1283.0,454.4 L1283.6,454.4 L1284.3,454.4 L1284.9,454.4 L1285.6,454.4 L1286.2,454.4 L1286.9,454.5 L1287.5,454.5 L1288.2,454.5 L1288.8,454.5 L1289.5,454.5 L1290.1,454.5 L1290.7,454.6 L1291.4,454.6 L1292.0,454.6 L1292.7,454.6 L1293.3,454.6 L1294.0,454.6 L1294.6,454.6 L1295.3,454.6 L1295.9,454.7 L1296.6,454.7 L1297.2,454.7 L1297.9,454.7 L1298.5,454.7 L1299.2,454.7 L1299.8,454.7 L1300.5,454.7 L1301.1,454.7 L1301.7,454.7 L1302.4,454.7 L1303.0,454.7 L1303.7,454.8 L1304.3,454.8 L1305.0,454.8 L1305.6,454.8 L1306.3,454.8 L1306.9,454.8 L1307.6,454.8 L1308.2,454.8 L1308.9,454.8 L1309.5,454.8 L1310.2,454.8 L1310.8,454.8 L1311.4,454.8 L1312.1,454.8 L1312.7,454.8 L1313.4,454.8 L1314.0,454.8 L1314.7,454.8 L1315.3,454.8 L1316.0,454.8 L1316.6,454.8 L1317.3,454.8 L1317.9,454.8 L1318.6,454.8 L1319.2,454.8 L1319.9,454.9 L1320.5,454.9 L1321.2,454.9 L1321.8,454.9 L1322.4,454.9 L1323.1,454.9 L1323.7,454.9 L1324.4,454.9 L1325.0,454.9 L1325.7,454.9 L1326.3,454.9 L1327.0,454.9 L1327.6,454.9 L1328.3,454.9 L1328.9,454.9 L1329.6,454.9 L1330.2,454.9 L1330.9,454.9 L1331.5,454.9 L1332.2,454.9 L1332.8,454.9 L1333.4,454.9 L1334.1,454.9 L1334.7,454.9 L1335.4,454.9 L1336.0,454.9 L1336.7,454.9 L1337.3,454.9 L1338.0,454.9 L1338.6,454.9 L1339.3,454.9 L1339.9,454.9 L1340.6,454.9 L1341.2,454.9 L1341.9,454.9 L1342.5,454.9 L1343.2,454.9 L1343.8,454.9 L1344.4,454.9 L1345.1,454.9 L1345.7,454.9 L1346.4,454.9 L1347.0,454.9 L1347.7,454.9 L1348.3,454.9 L1349.0,454.9 L1349.6,454.9 L1350.3,454.9 L1350.9,454.9 L1351.6,454.9 L1352.2,454.9 L1352.9,454.9 L1353.5,454.9 L1354.2,454.9 L1354.8,454.9 L1355.4,454.9 L1356.1,454.9 L1356.7,454.9 L1357.4,454.9 L1358.0,454.9 L1358.7,454.9 L1359.3,454.9 L1360.0,454.9 L1360.6,454.9 L1361.3,454.9 L1361.9,454.9 L1362.6,454.9 L1363.2,454.9 L1363.9,454.9 L1364.5,454.9 L1365.2,454.9 L1365.8,454.9 L1366.4,454.9 L1367.1,454.9 L1367.7,454.9 L1368.4,454.9 L1369.0,454.9 L1369.7,454.9 L1370.3,454.9 L1371.0,454.9 L1371.6,454.9 L1372.3,454.9 L1372.9,454.9 L1373.6,454.9 L1374.2,454.9 L1374.9,454.9 L1375.5,454.9 L1376.1,454.9 L1376.8,454.9 L1377.4,454.9 L1378.1,454.9 L1378.7,454.9 L1379.4,454.9 L1380.0,454.9 L1380.7,454.9 L1381.3,454.9 L1382.0,454.9 L1382.6,454.9 L1383.3,454.9 L1383.9,454.9 L1384.6,454.9 L1385.2,454.9 L1385.9,454.9 L1386.5,454.9 L1387.1,454.9 L1387.8,454.9 L1388.4,454.9 L1389.1,454.9 L1389.7,454.9 L1390.4,454.9 L1391.0,454.9 L1391.7,454.9 L1392.3,454.9 L1393.0,454.9 L1393.6,454.9 L1394.3,454.9 L1394.9,454.9 L1395.6,454.9 L1396.2,454.9 L1396.9,454.9 L1397.5,454.9" fill="none" stroke="#00ff00" stroke-width="3.2" stroke-linejoin="round"/>
<path d="M750.5,454.9 L751.1,454.9 L751.8,454.9 L752.4,454.9 L753.1,454.9 L753.7,454.9 L754.4,454.9 L755.0,454.9 L755.7,454.9 L756.3,454.9 L757.0,454.9 L757.6,454.9 L758.3,454.9 L758.9,454.9 L759.6,454.9 L760.2,454.9 L760.9,454.9 L761.5,454.9 L762.1,454.9 L762.8,454.9 L763.4,454.9 L764.1,454.9 L764.7,454.9 L765.4,454.9 L766.0,454.9 L766.7,454.9 L767.3,454.9 L768.0,454.9 L768.6,454.9 L769.3,454.9 L769.9,454.9 L770.6,454.9 L771.2,454.9 L771.9,454.9 L772.5,454.9 L773.1,454.9 L773.8,454.9 L774.4,454.9 L775.1,454.9 L775.7,454.9 L776.4,454.9 L777.0,454.9 L777.7,454.9 L778.3,454.9 L779.0,454.9 L779.6,454.9 L780.3,454.9 L780.9,454.9 L781.6,454.9 L782.2,454.9 L782.8,454.9 L783.5,454.9 L784.1,454.9 L784.8,454.9 L785.4,454.9 L786.1,454.9 L786.7,454.9 L787.4,454.9 L788.0,454.9 L788.7,454.9 L789.3,454.9 L790.0,454.9 L790.6,454.9 L791.3,454.9 L791.9,454.9 L792.6,454.9 L793.2,454.9 L793.8,454.9 L794.5,454.9 L795.1,454.9 L795.8,454.9 L796.4,454.9 L797.1,454.9 L797.7,454.9 L798.4,454.9 L799.0,454.9 L799.7,454.9 L800.3,454.9 L801.0,454.9 L801.6,454.9 L802.3,454.9 L802.9,454.9 L803.6,454.9 L804.2,454.9 L804.8,454.9 L805.5,454.9 L806.1,454.9 L806.8,454.9 L807.4,454.9 L808.1,454.9 L808.7,454.8 L809.4,454.8 L810.0,454.8 L810.7,454.8 L811.3,454.8 L812.0,454.8 L812.6,454.8 L813.3,454.8 L813.9,454.8 L814.6,454.8 L815.2,454.8 L815.8,454.8 L816.5,454.8 L817.1,454.8 L817.8,454.8 L818.4,454.8 L819.1,454.8 L819.7,454.8 L820.4,454.8 L821.0,454.8 L821.7,454.8 L822.3,454.8 L823.0,454.8 L823.6,454.8 L824.3,454.8 L824.9,454.7 L825.6,454.7 L826.2,454.7 L826.8,454.7 L827.5,454.7 L828.1,454.7 L828.8,454.7 L829.4,454.7 L830.1,454.7 L830.7,454.7 L831.4,454.7 L832.0,454.7 L832.7,454.7 L833.3,454.6 L834.0,454.6 L834.6,454.6 L835.3,454.6 L835.9,454.6 L836.6,454.6 L837.2,454.6 L837.8,454.6 L838.5,454.5 L839.1,454.5 L839.8,454.5 L840.4,454.5 L841.1,454.5 L841.7,454.5 L842.4,454.4 L843.0,454.4 L843.7,454.4 L844.3,454.4 L845.0,454.4 L845.6,454.3 L846.3,454.3 L846.9,454.3 L847.5,454.3 L848.2,454.2 L848.8,454.2 L849.5,454.2 L850.1,454.2 L850.8,454.1 L851.4,454.1 L852.1,454.1 L852.7,454.0 L853.4,454.0 L854.0,454.0 L854.7,453.9 L855.3,453.9 L856.0,453.9 L856.6,453.8 L857.3,453.8 L857.9,453.7 L858.5,453.7 L859.2,453.6 L859.8,453.6 L860.5,453.5 L861.1,453.5 L861.8,453.4 L862.4,453.4 L863.1,453.3 L863.7,453.3 L864.4,453.2 L865.0,453.1 L865.7,453.1 L866.3,453.0 L867.0,452.9 L867.6,452.9 L868.3,452.8 L868.9,452.7 L869.5,452.6 L870.2,452.5 L870.8,452.4 L871.5,452.4 L872.1,452.3 L872.8,452.2 L873.4,452.1 L874.1,452.0 L874.7,451.9 L875.4,451.8 L876.0,451.6 L876.7,451.5 L877.3,451.4 L878.0,451.3 L878.6,451.1 L879.3,451.0 L879.9,450.9 L880.5,450.7 L881.2,450.6 L881.8,450.4 L882.5,450.3 L883.1,450.1 L883.8,449.9 L884.4,449.8 L885.1,449.6 L885.7,449.4 L886.4,449.2 L887.0,449.0 L887.7,448.8 L888.3,448.6 L889.0,448.4 L889.6,448.2 L890.3,447.9 L890.9,447.7 L891.5,447.5 L892.2,447.2 L892.8,447.0 L893.5,446.7 L894.1,446.4 L894.8,446.1 L895.4,445.8 L896.1,445.5 L896.7,445.2 L897.4,444.9 L898.0,444.6 L898.7,444.2 L899.3,443.9 L900.0,443.5 L900.6,443.2 L901.3,442.8 L901.9,442.4 L902.5,442.0 L903.2,441.6 L903.8,441.1 L904.5,440.7 L905.1,440.2 L905.8,439.8 L906.4,439.3 L907.1,438.8 L907.7,438.3 L908.4,437.8 L909.0,437.2 L909.7,436.7 L910.3,436.1 L911.0,435.5 L911.6,434.9 L912.2,434.3 L912.9,433.7 L913.5,433.1 L914.2,432.4 L914.8,431.7 L915.5,431.0 L916.1,430.3 L916.8,429.5 L917.4,428.8 L918.1,428.0 L918.7,427.2 L919.4,426.4 L920.0,425.5 L920.7,424.7 L921.3,423.8 L922.0,422.9 L922.6,421.9 L923.2,421.0 L923.9,420.0 L924.5,419.0 L925.2,418.0 L925.8,416.9 L926.5,415.8 L927.1,414.7 L927.8,413.6 L928.4,412.4 L929.1,411.2 L929.7,410.0 L930.4,408.8 L931.0,407.5 L931.7,406.2 L932.3,404.9 L933.0,403.5 L933.6,402.1 L934.2,400.7 L934.9,399.2 L935.5,397.7 L936.2,396.2 L936.8,394.6 L937.5,393.0 L938.1,391.4 L938.8,389.7 L939.4,388.0 L940.1,386.3 L940.7,384.5 L941.4,382.7 L942.0,380.9 L942.7,379.0 L943.3,377.1 L944.0,375.1 L944.6,373.1 L945.2,371.1 L945.9,369.0 L946.5,366.9 L947.2,364.7 L947.8,362.5 L948.5,360.2 L949.1,358.0 L949.8,355.6 L950.4,353.3 L951.1,350.9 L951.7,348.4 L952.4,345.9 L953.0,343.4 L953.7,340.8 L954.3,338.2 L955.0,335.5 L955.6,332.8 L956.2,330.1 L956.9,327.3 L957.5,324.4 L958.2,321.6 L958.8,318.6 L959.5,315.7 L960.1,312.7 L960.8,309.6 L961.4,306.5 L962.1,303.4 L962.7,300.2 L963.4,297.0 L964.0,293.8 L964.7,290.5 L965.3,287.2 L966.0,283.8 L966.6,280.4 L967.2,277.0 L967.9,273.5 L968.5,270.0 L969.2,266.4 L969.8,262.8 L970.5,259.2 L971.1,255.6 L971.8,251.9 L972.4,248.2 L973.1,244.5 L973.7,240.7 L974.4,237.0 L975.0,233.2 L975.7,229.3 L976.3,225.5 L977.0,221.6 L977.6,217.8 L978.2,213.9 L978.9,210.0 L979.5,206.0 L980.2,202.1 L980.8,198.1 L981.5,194.1 L982.1,190.1 L982.8,186.1 L983.4,182.1 L984.1,178.1 L984.7,174.0 L985.4,170.0 L986.0,166.0 L986.7,162.0 L987.3,158.1 L987.9,154.1 L988.6,150.2 L989.2,146.3 L989.9,142.5 L990.5,138.7 L991.2,134.9 L991.8,131.2 L992.5,127.6 L993.1,124.0 L993.8,120.5 L994.4,117.1 L995.1,113.8 L995.7,110.6 L996.4,107.6 L997.0,104.6 L997.7,101.7 L998.3,99.0 L998.9,96.5 L999.6,94.1 L1000.2,91.8 L1000.9,89.8 L1001.5,87.9 L1002.2,86.3 L1002.8,84.8 L1003.5,83.5 L1004.1,82.5 L1004.8,81.8 L1005.4,81.3 L1006.1,81.0 L1006.7,81.0 L1007.4,81.4 L1008.0,82.0 L1008.7,82.9 L1009.3,84.2 L1009.9,85.7 L1010.6,87.7 L1011.2,89.9 L1011.9,92.6 L1012.5,95.6 L1013.2,99.0 L1013.8,102.7 L1014.5,106.9 L1015.1,111.4 L1015.8,116.4 L1016.4,121.7 L1017.1,127.5 L1017.7,133.6 L1018.4,140.1 L1019.0,147.1 L1019.7,154.4 L1020.3,162.1 L1020.9,170.2 L1021.6,178.6 L1022.2,187.4 L1022.9,196.5 L1023.5,205.9 L1024.2,215.5 L1024.8,225.5 L1025.5,235.6 L1026.1,246.0 L1026.8,256.5 L1027.4,267.1 L1028.1,277.8 L1028.7,288.6 L1029.4,299.3 L1030.0,310.1 L1030.7,320.7 L1031.3,331.2 L1031.9,341.5 L1032.6,351.5 L1033.2,361.3 L1033.9,370.7 L1034.5,379.8 L1035.2,388.4 L1035.8,396.6 L1036.5,404.2 L1037.1,411.4 L1037.8,417.9 L1038.4,423.9 L1039.1,429.3 L1039.7,434.1 L1040.4,438.4 L1041.0,442.0 L1041.7,445.1 L1042.3,447.6 L1042.9,449.7 L1043.6,451.3 L1044.2,452.5 L1044.9,453.4 L1045.5,454.0 L1046.2,454.4 L1046.8,454.7 L1047.5,454.8 L1048.1,454.9 L1048.8,454.9 L1049.4,454.9 L1050.1,454.9 L1050.7,454.9 L1051.4,454.9 L1052.0,454.9 L1052.6,454.9 L1053.3,454.9 L1053.9,454.9 L1054.6,454.9 L1055.2,454.9 L1055.9,454.9 L1056.5,454.9 L1057.2,454.9 L1057.8,454.9 L1058.5,454.9 L1059.1,454.9 L1059.8,454.9 L1060.4,454.9 L1061.1,454.9 L1061.7,454.8 L1062.4,454.7 L1063.0,454.4 L1063.6,454.0 L1064.3,453.4 L1064.9,452.6 L1065.6,451.4 L1066.2,449.8 L1066.9,447.7 L1067.5,445.2 L1068.2,442.2 L1068.8,438.7 L1069.5,434.5 L1070.1,429.8 L1070.8,424.5 L1071.4,418.6 L1072.1,412.1 L1072.7,405.1 L1073.4,397.6 L1074.0,389.6 L1074.6,381.1 L1075.3,372.2 L1075.9,362.9 L1076.6,353.3 L1077.2,343.5 L1077.9,333.4 L1078.5,323.1 L1079.2,312.6 L1079.8,302.1 L1080.5,291.5 L1081.1,281.0 L1081.8,270.4 L1082.4,260.0 L1083.1,249.7 L1083.7,239.5 L1084.4,229.5 L1085.0,219.8 L1085.6,210.3 L1086.3,201.0 L1086.9,192.1 L1087.6,183.5 L1088.2,175.2 L1088.9,167.3 L1089.5,159.7 L1090.2,152.5 L1090.8,145.7 L1091.5,139.3 L1092.1,133.2 L1092.8,127.6 L1093.4,122.3 L1094.1,117.5 L1094.7,113.0 L1095.4,108.9 L1096.0,105.2 L1096.6,101.9 L1097.3,99.0 L1097.9,96.4 L1098.6,94.2 L1099.2,92.3 L1099.9,90.7 L1100.5,89.5 L1101.2,88.6 L1101.8,88.0 L1102.5,87.7 L1103.1,87.6 L1103.8,87.9 L1104.4,88.4 L1105.1,89.1 L1105.7,90.1 L1106.3,91.3 L1107.0,92.8 L1107.6,94.4 L1108.3,96.2 L1108.9,98.3 L1109.6,100.5 L1110.2,102.8 L1110.9,105.3 L1111.5,108.0 L1112.2,110.8 L1112.8,113.7 L1113.5,116.7 L1114.1,119.9 L1114.8,123.1 L1115.4,126.5 L1116.1,129.9 L1116.7,133.4 L1117.3,136.9 L1118.0,140.6 L1118.6,144.3 L1119.3,148.0 L1119.9,151.8 L1120.6,155.6 L1121.2,159.4 L1121.9,163.3 L1122.5,167.2 L1123.2,171.1 L1123.8,175.1 L1124.5,179.0 L1125.1,183.0 L1125.8,186.9 L1126.4,190.9 L1127.1,194.8 L1127.7,198.7 L1128.3,202.6 L1129.0,206.5 L1129.6,210.4 L1130.3,214.3 L1130.9,218.1 L1131.6,222.0 L1132.2,225.8 L1132.9,229.6 L1133.5,233.3 L1134.2,237.1 L1134.8,240.8 L1135.5,244.5 L1136.1,248.2 L1136.8,251.9 L1137.4,255.5 L1138.1,259.1 L1138.7,262.7 L1139.3,266.2 L1140.0,269.8 L1140.6,273.2 L1141.3,276.7 L1141.9,280.1 L1142.6,283.5 L1143.2,286.8 L1143.9,290.1 L1144.5,293.4 L1145.2,296.6 L1145.8,299.8 L1146.5,303.0 L1147.1,306.1 L1147.8,309.2 L1148.4,312.2 L1149.1,315.2 L1149.7,318.1 L1150.3,321.1 L1151.0,323.9 L1151.6,326.7 L1152.3,329.5 L1152.9,332.3 L1153.6,335.0 L1154.2,337.6 L1154.9,340.2 L1155.5,342.8 L1156.2,345.4 L1156.8,347.8 L1157.5,350.3 L1158.1,352.7 L1158.8,355.1 L1159.4,357.4 L1160.1,359.7 L1160.7,361.9 L1161.3,364.1 L1162.0,366.3 L1162.6,368.4 L1163.3,370.5 L1163.9,372.5 L1164.6,374.5 L1165.2,376.5 L1165.9,378.4 L1166.5,380.3 L1167.2,382.2 L1167.8,384.0 L1168.5,385.8 L1169.1,387.5 L1169.8,389.2 L1170.4,390.9 L1171.0,392.5 L1171.7,394.1 L1172.3,395.7 L1173.0,397.2 L1173.6,398.7 L1174.3,400.2 L1174.9,401.6 L1175.6,403.0 L1176.2,404.4 L1176.9,405.7 L1177.5,407.1 L1178.2,408.3 L1178.8,409.6 L1179.5,410.8 L1180.1,412.0 L1180.8,413.2 L1181.4,414.3 L1182.0,415.4 L1182.7,416.5 L1183.3,417.6 L1184.0,418.6 L1184.6,419.6 L1185.3,420.6 L1185.9,421.6 L1186.6,422.5 L1187.2,423.4 L1187.9,424.3 L1188.5,425.2 L1189.2,426.1 L1189.8,426.9 L1190.5,427.7 L1191.1,428.5 L1191.8,429.2 L1192.4,430.0 L1193.0,430.7 L1193.7,431.4 L1194.3,432.1 L1195.0,432.8 L1195.6,433.4 L1196.3,434.1 L1196.9,434.7 L1197.6,435.3 L1198.2,435.9 L1198.9,436.5 L1199.5,437.0 L1200.2,437.6 L1200.8,438.1 L1201.5,438.6 L1202.1,439.1 L1202.8,439.6 L1203.4,440.0 L1204.0,440.5 L1204.7,440.9 L1205.3,441.4 L1206.0,441.8 L1206.6,442.2 L1207.3,442.6 L1207.9,443.0 L1208.6,443.4 L1209.2,443.7 L1209.9,444.1 L1210.5,444.4 L1211.2,444.8 L1211.8,445.1 L1212.5,445.4 L1213.1,445.7 L1213.8,446.0 L1214.4,446.3 L1215.0,446.6 L1215.7,446.8 L1216.3,447.1 L1217.0,447.3 L1217.6,447.6 L1218.3,447.8 L1218.9,448.1 L1219.6,448.3 L1220.2,448.5 L1220.9,448.7 L1221.5,448.9 L1222.2,449.1 L1222.8,449.3 L1223.5,449.5 L1224.1,449.7 L1224.8,449.9 L1225.4,450.0 L1226.0,450.2 L1226.7,450.4 L1227.3,450.5 L1228.0,450.7 L1228.6,450.8 L1229.3,450.9 L1229.9,451.1 L1230.6,451.2 L1231.2,451.3 L1231.9,451.5 L1232.5,451.6 L1233.2,451.7 L1233.8,451.8 L1234.5,451.9 L1235.1,452.0 L1235.8,452.1 L1236.4,452.2 L1237.0,452.3 L1237.7,452.4 L1238.3,452.5 L1239.0,452.6 L1239.6,452.7 L1240.3,452.7 L1240.9,452.8 L1241.6,452.9 L1242.2,453.0 L1242.9,453.0 L1243.5,453.1 L1244.2,453.2 L1244.8,453.2 L1245.5,453.3 L1246.1,453.3 L1246.7,453.4 L1247.4,453.5 L1248.0,453.5 L1248.7,453.6 L1249.3,453.6 L1250.0,453.7 L1250.6,453.7 L1251.3,453.8 L1251.9,453.8 L1252.6,453.8 L1253.2,453.9 L1253.9,453.9 L1254.5,454.0 L1255.2,454.0 L1255.8,454.0 L1256.5,454.1 L1257.1,454.1 L1257.7,454.1 L1258.4,454.1 L1259.0,454.2 L1259.7,454.2 L1260.3,454.2 L1261.0,454.3 L1261.6,454.3 L1262.3,454.3 L1262.9,454.3 L1263.6,454.4 L1264.2,454.4 L1264.9,454.4 L1265.5,454.4 L1266.2,454.4 L1266.8,454.4 L1267.5,454.5 L1268.1,454.5 L1268.7,454.5 L1269.4,454.5 L1270.0,454.5 L1270.7,454.5 L1271.3,454.6 L1272.0,454.6 L1272.6,454.6 L1273.3,454.6 L1273.9,454.6 L1274.6,454.6 L1275.2,454.6 L1275.9,454.6 L1276.5,454.7 L1277.2,454.7 L1277.8,454.7 L1278.5,454.7 L1279.1,454.7 L1279.7,454.7 L1280.4,454.7 L1281.0,454.7 L1281.7,454.7 L1282.3,454.7 L1283.0,454.7 L1283.6,454.7 L1284.3,454.8 L1284.9,454.8 L1285.6,454.8 L1286.2,454.8 L1286.9,454.8 L1287.5,454.8 L1288.2,454.8 L1288.8,454.8 L1289.5,454.8 L1290.1,454.8 L1290.7,454.8 L1291.4,454.8 L1292.0,454.8 L1292.7,454.8 L1293.3,454.8 L1294.0,454.8 L1294.6,454.8 L1295.3,454.8 L1295.9,454.8 L1296.6,454.8 L1297.2,454.8 L1297.9,454.8 L1298.5,454.8 L1299.2,454.8 L1299.8,454.8 L1300.5,454.9 L1301.1,454.9 L1301.7,454.9 L1302.4,454.9 L1303.0,454.9 L1303.7,454.9 L1304.3,454.9 L1305.0,454.9 L1305.6,454.9 L1306.3,454.9 L1306.9,454.9 L1307.6,454.9 L1308.2,454.9 L1308.9,454.9 L1309.5,454.9 L1310.2,454.9 L1310.8,454.9 L1311.4,454.9 L1312.1,454.9 L1312.7,454.9 L1313.4,454.9 L1314.0,454.9 L1314.7,454.9 L1315.3,454.9 L1316.0,454.9 L1316.6,454.9 L1317.3,454.9 L1317.9,454.9 L1318.6,454.9 L1319.2,454.9 L1319.9,454.9 L1320.5,454.9 L1321.2,454.9 L1321.8,454.9 L1322.4,454.9 L1323.1,454.9 L1323.7,454.9 L1324.4,454.9 L1325.0,454.9 L1325.7,454.9 L1326.3,454.9 L1327.0,454.9 L1327.6,454.9 L1328.3,454.9 L1328.9,454.9 L1329.6,454.9 L1330.2,454.9 L1330.9,454.9 L1331.5,454.9 L1332.2,454.9 L1332.8,454.9 L1333.4,454.9 L1334.1,454.9 L1334.7,454.9 L1335.4,454.9 L1336.0,454.9 L1336.7,454.9 L1337.3,454.9 L1338.0,454.9 L1338.6,454.9 L1339.3,454.9 L1339.9,454.9 L1340.6,454.9 L1341.2,454.9 L1341.9,454.9 L1342.5,454.9 L1343.2,454.9 L1343.8,454.9 L1344.4,454.9 L1345.1,454.9 L1345.7,454.9 L1346.4,454.9 L1347.0,454.9 L1347.7,454.9 L1348.3,454.9 L1349.0,454.9 L1349.6,454.9 L1350.3,454.9 L1350.9,454.9 L1351.6,454.9 L1352.2,454.9 L1352.9,454.9 L1353.5,454.9 L1354.2,454.9 L1354.8,454.9 L1355.4,454.9 L1356.1,454.9 L1356.7,454.9 L1357.4,454.9 L1358.0,454.9 L1358.7,454.9 L1359.3,454.9 L1360.0,454.9 L1360.6,454.9 L1361.3,454.9 L1361.9,454.9 L1362.6,454.9 L1363.2,454.9 L1363.9,454.9 L1364.5,454.9 L1365.2,454.9 L1365.8,454.9 L1366.4,454.9 L1367.1,454.9 L1367.7,454.9 L1368.4,454.9 L1369.0,454.9 L1369.7,454.9 L1370.3,454.9 L1371.0,454.9 L1371.6,454.9 L1372.3,454.9 L1372.9,454.9 L1373.6,454.9 L1374.2,454.9 L1374.9,454.9 L1375.5,454.9 L1376.1,454.9 L1376.8,454.9 L1377.4,454.9 L1378.1,454.9 L1378.7,454.9 L1379.4,454.9 L1380.0,454.9 L1380.7,454.9 L1381.3,454.9 L1382.0,454.9 L1382.6,454.9 L1383.3,454.9 L1383.9,454.9 L1384.6,454.9 L1385.2,454.9 L1385.9,454.9 L1386.5,454.9 L1387.1,454.9 L1387.8,454.9 L1388.4,454.9 L1389.1,454.9 L1389.7,454.9 L1390.4,454.9 L1391.0,454.9 L1391.7,454.9 L1392.3,454.9 L1393.0,454.9 L1393.6,454.9 L1394.3,454.9 L1394.9,454.9 L1395.6,454.9 L1396.2,454.9 L1396.9,454.9 L1397.5,454.9" fill="none" stroke="#ff0000" stroke-width="3.2" stroke-linejoin="round"/>
<path d="M750.5,454.9 L751.1,454.9 L751.8,454.9 L752.4,454.9 L753.1,454.9 L753.7,454.9 L754.4,454.9 L755.0,454.9 L755.7,454.9 L756.3,454.9 L757.0,454.9 L757.6,454.9 L758.3,454.9 L758.9,454.9 L759.6,454.9 L760.2,454.9 L760.9,454.9 L761.5,454.9 L762.1,454.9 L762.8,454.9 L763.4,454.9 L764.1,454.9 L764.7,454.9 L765.4,454.9 L766.0,454.9 L766.7,454.9 L767.3,454.9 L768.0,454.9 L768.6,454.9 L769.3,454.9 L769.9,454.9 L770.6,454.9 L771.2,454.9 L771.9,454.9 L772.5,454.9 L773.1,454.9 L773.8,454.9 L774.4,454.9 L775.1,454.9 L775.7,454.9 L776.4,454.9 L777.0,454.9 L777.7,454.9 L778.3,454.9 L779.0,454.9 L779.6,454.9 L780.3,454.9 L780.9,454.9 L781.6,454.9 L782.2,454.9 L782.8,454.9 L783.5,454.9 L784.1,454.9 L784.8,454.9 L785.4,454.9 L786.1,454.9 L786.7,454.9 L787.4,454.9 L788.0,454.9 L788.7,454.9 L789.3,454.8 L790.0,454.8 L790.6,454.8 L791.3,454.8 L791.9,454.8 L792.6,454.8 L793.2,454.8 L793.8,454.8 L794.5,454.8 L795.1,454.8 L795.8,454.8 L796.4,454.8 L797.1,454.8 L797.7,454.8 L798.4,454.8 L799.0,454.8 L799.7,454.8 L800.3,454.8 L801.0,454.8 L801.6,454.8 L802.3,454.8 L802.9,454.8 L803.6,454.8 L804.2,454.8 L804.8,454.8 L805.5,454.7 L806.1,454.7 L806.8,454.7 L807.4,454.7 L808.1,454.7 L808.7,454.7 L809.4,454.7 L810.0,454.7 L810.7,454.7 L811.3,454.7 L812.0,454.7 L812.6,454.7 L813.3,454.7 L813.9,454.6 L814.6,454.6 L815.2,454.6 L815.8,454.6 L816.5,454.6 L817.1,454.6 L817.8,454.6 L818.4,454.6 L819.1,454.5 L819.7,454.5 L820.4,454.5 L821.0,454.5 L821.7,454.5 L822.3,454.5 L823.0,454.4 L823.6,454.4 L824.3,454.4 L824.9,454.4 L825.6,454.4 L826.2,454.3 L826.8,454.3 L827.5,454.3 L828.1,454.3 L828.8,454.2 L829.4,454.2 L830.1,454.2 L830.7,454.2 L831.4,454.1 L832.0,454.1 L832.7,454.1 L833.3,454.0 L834.0,454.0 L834.6,454.0 L835.3,453.9 L835.9,453.9 L836.6,453.9 L837.2,453.8 L837.8,453.8 L838.5,453.7 L839.1,453.7 L839.8,453.6 L840.4,453.6 L841.1,453.5 L841.7,453.5 L842.4,453.4 L843.0,453.4 L843.7,453.3 L844.3,453.3 L845.0,453.2 L845.6,453.1 L846.3,453.1 L846.9,453.0 L847.5,452.9 L848.2,452.9 L848.8,452.8 L849.5,452.7 L850.1,452.6 L850.8,452.5 L851.4,452.4 L852.1,452.4 L852.7,452.3 L853.4,452.2 L854.0,452.1 L854.7,452.0 L855.3,451.9 L856.0,451.8 L856.6,451.6 L857.3,451.5 L857.9,451.4 L858.5,451.3 L859.2,451.1 L859.8,451.0 L860.5,450.9 L861.1,450.7 L861.8,450.6 L862.4,450.4 L863.1,450.3 L863.7,450.1 L864.4,449.9 L865.0,449.8 L865.7,449.6 L866.3,449.4 L867.0,449.2 L867.6,449.0 L868.3,448.8 L868.9,448.6 L869.5,448.4 L870.2,448.2 L870.8,447.9 L871.5,447.7 L872.1,447.5 L872.8,447.2 L873.4,447.0 L874.1,446.7 L874.7,446.4 L875.4,446.1 L876.0,445.8 L876.7,445.5 L877.3,445.2 L878.0,444.9 L878.6,444.6 L879.3,444.2 L879.9,443.9 L880.5,443.5 L881.2,443.2 L881.8,442.8 L882.5,442.4 L883.1,442.0 L883.8,441.6 L884.4,441.1 L885.1,440.7 L885.7,440.2 L886.4,439.8 L887.0,439.3 L887.7,438.8 L888.3,438.3 L889.0,437.8 L889.6,437.2 L890.3,436.7 L890.9,436.1 L891.5,435.5 L892.2,434.9 L892.8,434.3 L893.5,433.7 L894.1,433.1 L894.8,432.4 L895.4,431.7 L896.1,431.0 L896.7,430.3 L897.4,429.5 L898.0,428.8 L898.7,428.0 L899.3,427.2 L900.0,426.4 L900.6,425.5 L901.3,424.7 L901.9,423.8 L902.5,422.9 L903.2,421.9 L903.8,421.0 L904.5,420.0 L905.1,419.0 L905.8,418.0 L906.4,416.9 L907.1,415.8 L907.7,414.7 L908.4,413.6 L909.0,412.4 L909.7,411.2 L910.3,410.0 L911.0,408.8 L911.6,407.5 L912.2,406.2 L912.9,404.9 L913.5,403.5 L914.2,402.1 L914.8,400.7 L915.5,399.2 L916.1,397.7 L916.8,396.2 L917.4,394.6 L918.1,393.0 L918.7,391.4 L919.4,389.7 L920.0,388.0 L920.7,386.3 L921.3,384.5 L922.0,382.7 L922.6,380.9 L923.2,379.0 L923.9,377.1 L924.5,375.1 L925.2,373.1 L925.8,371.1 L926.5,369.0 L927.1,366.9 L927.8,364.7 L928.4,362.5 L929.1,360.2 L929.7,358.0 L930.4,355.6 L931.0,353.3 L931.7,350.9 L932.3,348.4 L933.0,345.9 L933.6,343.4 L934.2,340.8 L934.9,338.2 L935.5,335.5 L936.2,332.8 L936.8,330.1 L937.5,327.3 L938.1,324.4 L938.8,321.6 L939.4,318.6 L940.1,315.7 L940.7,312.7 L941.4,309.6 L942.0,306.5 L942.7,303.4 L943.3,300.2 L944.0,297.0 L944.6,293.8 L945.2,290.5 L945.9,287.2 L946.5,283.8 L947.2,280.4 L947.8,277.0 L948.5,273.5 L949.1,270.0 L949.8,266.4 L950.4,262.8 L951.1,259.2 L951.7,255.6 L952.4,251.9 L953.0,248.2 L953.7,244.5 L954.3,240.7 L955.0,237.0 L955.6,233.2 L956.2,229.3 L956.9,225.5 L957.5,221.6 L958.2,217.8 L958.8,213.9 L959.5,210.0 L960.1,206.0 L960.8,202.1 L961.4,198.1 L962.1,194.1 L962.7,190.1 L963.4,186.1 L964.0,182.1 L964.7,178.1 L965.3,174.0 L966.0,170.0 L966.6,166.0 L967.2,162.0 L967.9,158.1 L968.5,154.1 L969.2,150.2 L969.8,146.3 L970.5,142.5 L971.1,138.7 L971.8,134.9 L972.4,131.2 L973.1,127.6 L973.7,124.0 L974.4,120.5 L975.0,117.1 L975.7,113.8 L976.3,110.6 L977.0,107.6 L977.6,104.6 L978.2,101.7 L978.9,99.0 L979.5,96.5 L980.2,94.1 L980.8,91.8 L981.5,89.8 L982.1,87.9 L982.8,86.3 L983.4,84.8 L984.1,83.5 L984.7,82.5 L985.4,81.8 L986.0,81.3 L986.7,81.0 L987.3,81.0 L987.9,81.4 L988.6,82.0 L989.2,82.9 L989.9,84.2 L990.5,85.7 L991.2,87.7 L991.8,89.9 L992.5,92.6 L993.1,95.6 L993.8,99.0 L994.4,102.7 L995.1,106.9 L995.7,111.4 L996.4,116.4 L997.0,121.7 L997.7,127.5 L998.3,133.6 L998.9,140.1 L999.6,147.1 L1000.2,154.4 L1000.9,162.1 L1001.5,170.2 L1002.2,178.6 L1002.8,187.4 L1003.5,196.5 L1004.1,205.9 L1004.8,215.5 L1005.4,225.5 L1006.1,235.6 L1006.7,246.0 L1007.4,256.5 L1008.0,267.1 L1008.7,277.8 L1009.3,288.6 L1009.9,299.3 L1010.6,310.1 L1011.2,320.7 L1011.9,331.2 L1012.5,341.5 L1013.2,351.5 L1013.8,361.3 L1014.5,370.7 L1015.1,379.8 L1015.8,388.4 L1016.4,396.6 L1017.1,404.2 L1017.7,411.4 L1018.4,417.9 L1019.0,423.9 L1019.7,429.3 L1020.3,434.1 L1020.9,438.4 L1021.6,442.0 L1022.2,445.1 L1022.9,447.6 L1023.5,449.7 L1024.2,451.3 L1024.8,452.5 L1025.5,453.4 L1026.1,454.0 L1026.8,454.4 L1027.4,454.7 L1028.1,454.8 L1028.7,454.9 L1029.4,454.9 L1030.0,454.9 L1030.7,454.9 L1031.3,454.9 L1031.9,454.9 L1032.6,454.9 L1033.2,454.9 L1033.9,454.9 L1034.5,454.9 L1035.2,454.9 L1035.8,454.9 L1036.5,454.9 L1037.1,454.9 L1037.8,454.9 L1038.4,454.9 L1039.1,454.9 L1039.7,454.9 L1040.4,454.9 L1041.0,454.9 L1041.7,454.9 L1042.3,454.8 L1042.9,454.7 L1043.6,454.4 L1044.2,454.0 L1044.9,453.4 L1045.5,452.6 L1046.2,451.4 L1046.8,449.8 L1047.5,447.7 L1048.1,445.2 L1048.8,442.2 L1049.4,438.7 L1050.1,434.5 L1050.7,429.8 L1051.4,424.5 L1052.0,418.6 L1052.6,412.1 L1053.3,405.1 L1053.9,397.6 L1054.6,389.6 L1055.2,381.1 L1055.9,372.2 L1056.5,362.9 L1057.2,353.3 L1057.8,343.5 L1058.5,333.4 L1059.1,323.1 L1059.8,312.6 L1060.4,302.1 L1061.1,291.5 L1061.7,281.0 L1062.4,270.4 L1063.0,260.0 L1063.6,249.7 L1064.3,239.5 L1064.9,229.5 L1065.6,219.8 L1066.2,210.3 L1066.9,201.0 L1067.5,192.1 L1068.2,183.5 L1068.8,175.2 L1069.5,167.3 L1070.1,159.7 L1070.8,152.5 L1071.4,145.7 L1072.1,139.3 L1072.7,133.2 L1073.4,127.6 L1074.0,122.3 L1074.6,117.5 L1075.3,113.0 L1075.9,108.9 L1076.6,105.2 L1077.2,101.9 L1077.9,99.0 L1078.5,96.4 L1079.2,94.2 L1079.8,92.3 L1080.5,90.7 L1081.1,89.5 L1081.8,88.6 L1082.4,88.0 L1083.1,87.7 L1083.7,87.6 L1084.4,87.9 L1085.0,88.4 L1085.6,89.1 L1086.3,90.1 L1086.9,91.3 L1087.6,92.8 L1088.2,94.4 L1088.9,96.2 L1089.5,98.3 L1090.2,100.5 L1090.8,102.8 L1091.5,105.3 L1092.1,108.0 L1092.8,110.8 L1093.4,113.7 L1094.1,116.7 L1094.7,119.9 L1095.4,123.1 L1096.0,126.5 L1096.6,129.9 L1097.3,133.4 L1097.9,136.9 L1098.6,140.6 L1099.2,144.3 L1099.9,148.0 L1100.5,151.8 L1101.2,155.6 L1101.8,159.4 L1102.5,163.3 L1103.1,167.2 L1103.8,171.1 L1104.4,175.1 L1105.1,179.0 L1105.7,183.0 L1106.3,186.9 L1107.0,190.9 L1107.6,194.8 L1108.3,198.7 L1108.9,202.6 L1109.6,206.5 L1110.2,210.4 L1110.9,214.3 L1111.5,218.1 L1112.2,222.0 L1112.8,225.8 L1113.5,229.6 L1114.1,233.3 L1114.8,237.1 L1115.4,240.8 L1116.1,244.5 L1116.7,248.2 L1117.3,251.9 L1118.0,255.5 L1118.6,259.1 L1119.3,262.7 L1119.9,266.2 L1120.6,269.8 L1121.2,273.2 L1121.9,276.7 L1122.5,280.1 L1123.2,283.5 L1123.8,286.8 L1124.5,290.1 L1125.1,293.4 L1125.8,296.6 L1126.4,299.8 L1127.1,303.0 L1127.7,306.1 L1128.3,309.2 L1129.0,312.2 L1129.6,315.2 L1130.3,318.1 L1130.9,321.1 L1131.6,323.9 L1132.2,326.7 L1132.9,329.5 L1133.5,332.3 L1134.2,335.0 L1134.8,337.6 L1135.5,340.2 L1136.1,342.8 L1136.8,345.4 L1137.4,347.8 L1138.1,350.3 L1138.7,352.7 L1139.3,355.1 L1140.0,357.4 L1140.6,359.7 L1141.3,361.9 L1141.9,364.1 L1142.6,366.3 L1143.2,368.4 L1143.9,370.5 L1144.5,372.5 L1145.2,374.5 L1145.8,376.5 L1146.5,378.4 L1147.1,380.3 L1147.8,382.2 L1148.4,384.0 L1149.1,385.8 L1149.7,387.5 L1150.3,389.2 L1151.0,390.9 L1151.6,392.5 L1152.3,394.1 L1152.9,395.7 L1153.6,397.2 L1154.2,398.7 L1154.9,400.2 L1155.5,401.6 L1156.2,403.0 L1156.8,404.4 L1157.5,405.7 L1158.1,407.1 L1158.8,408.3 L1159.4,409.6 L1160.1,410.8 L1160.7,412.0 L1161.3,413.2 L1162.0,414.3 L1162.6,415.4 L1163.3,416.5 L1163.9,417.6 L1164.6,418.6 L1165.2,419.6 L1165.9,420.6 L1166.5,421.6 L1167.2,422.5 L1167.8,423.4 L1168.5,424.3 L1169.1,425.2 L1169.8,426.1 L1170.4,426.9 L1171.0,427.7 L1171.7,428.5 L1172.3,429.2 L1173.0,430.0 L1173.6,430.7 L1174.3,431.4 L1174.9,432.1 L1175.6,432.8 L1176.2,433.4 L1176.9,434.1 L1177.5,434.7 L1178.2,435.3 L1178.8,435.9 L1179.5,436.5 L1180.1,437.0 L1180.8,437.6 L1181.4,438.1 L1182.0,438.6 L1182.7,439.1 L1183.3,439.6 L1184.0,440.0 L1184.6,440.5 L1185.3,440.9 L1185.9,441.4 L1186.6,441.8 L1187.2,442.2 L1187.9,442.6 L1188.5,443.0 L1189.2,443.4 L1189.8,443.7 L1190.5,444.1 L1191.1,444.4 L1191.8,444.8 L1192.4,445.1 L1193.0,445.4 L1193.7,445.7 L1194.3,446.0 L1195.0,446.3 L1195.6,446.6 L1196.3,446.8 L1196.9,447.1 L1197.6,447.3 L1198.2,447.6 L1198.9,447.8 L1199.5,448.1 L1200.2,448.3 L1200.8,448.5 L1201.5,448.7 L1202.1,448.9 L1202.8,449.1 L1203.4,449.3 L1204.0,449.5 L1204.7,449.7 L1205.3,449.9 L1206.0,450.0 L1206.6,450.2 L1207.3,450.4 L1207.9,450.5 L1208.6,450.7 L1209.2,450.8 L1209.9,450.9 L1210.5,451.1 L1211.2,451.2 L1211.8,451.3 L1212.5,451.5 L1213.1,451.6 L1213.8,451.7 L1214.4,451.8 L1215.0,451.9 L1215.7,452.0 L1216.3,452.1 L1217.0,452.2 L1217.6,452.3 L1218.3,452.4 L1218.9,452.5 L1219.6,452.6 L1220.2,452.7 L1220.9,452.7 L1221.5,452.8 L1222.2,452.9 L1222.8,453.0 L1223.5,453.0 L1224.1,453.1 L1224.8,453.2 L1225.4,453.2 L1226.0,453.3 L1226.7,453.3 L1227.3,453.4 L1228.0,453.5 L1228.6,453.5 L1229.3,453.6 L1229.9,453.6 L1230.6,453.7 L1231.2,453.7 L1231.9,453.8 L1232.5,453.8 L1233.2,453.8 L1233.8,453.9 L1234.5,453.9 L1235.1,454.0 L1235.8,454.0 L1236.4,454.0 L1237.0,454.1 L1237.7,454.1 L1238.3,454.1 L1239.0,454.1 L1239.6,454.2 L1240.3,454.2 L1240.9,454.2 L1241.6,454.3 L1242.2,454.3 L1242.9,454.3 L1243.5,454.3 L1244.2,454.4 L1244.8,454.4 L1245.5,454.4 L1246.1,454.4 L1246.7,454.4 L1247.4,454.4 L1248.0,454.5 L1248.7,454.5 L1249.3,454.5 L1250.0,454.5 L1250.6,454.5 L1251.3,454.5 L1251.9,454.6 L1252.6,454.6 L1253.2,454.6 L1253.9,454.6 L1254.5,454.6 L1255.2,454.6 L1255.8,454.6 L1256.5,454.6 L1257.1,454.7 L1257.7,454.7 L1258.4,454.7 L1259.0,454.7 L1259.7,454.7 L1260.3,454.7 L1261.0,454.7 L1261.6,454.7 L1262.3,454.7 L1262.9,454.7 L1263.6,454.7 L1264.2,454.7 L1264.9,454.8 L1265.5,454.8 L1266.2,454.8 L1266.8,454.8 L1267.5,454.8 L1268.1,454.8 L1268.7,454.8 L1269.4,454.8 L1270.0,454.8 L1270.7,454.8 L1271.3,454.8 L1272.0,454.8 L1272.6,454.8 L1273.3,454.8 L1273.9,454.8 L1274.6,454.8 L1275.2,454.8 L1275.9,454.8 L1276.5,454.8 L1277.2,454.8 L1277.8,454.8 L1278.5,454.8 L1279.1,454.8 L1279.7,454.8 L1280.4,454.8 L1281.0,454.9 L1281.7,454.9 L1282.3,454.9 L1283.0,454.9 L1283.6,454.9 L1284.3,454.9 L1284.9,454.9 L1285.6,454.9 L1286.2,454.9 L1286.9,454.9 L1287.5,454.9 L1288.2,454.9 L1288.8,454.9 L1289.5,454.9 L1290.1,454.9 L1290.7,454.9 L1291.4,454.9 L1292.0,454.9 L1292.7,454.9 L1293.3,454.9 L1294.0,454.9 L1294.6,454.9 L1295.3,454.9 L1295.9,454.9 L1296.6,454.9 L1297.2,454.9 L1297.9,454.9 L1298.5,454.9 L1299.2,454.9 L1299.8,454.9 L1300.5,454.9 L1301.1,454.9 L1301.7,454.9 L1302.4,454.9 L1303.0,454.9 L1303.7,454.9 L1304.3,454.9 L1305.0,454.9 L1305.6,454.9 L1306.3,454.9 L1306.9,454.9 L1307.6,454.9 L1308.2,454.9 L1308.9,454.9 L1309.5,454.9 L1310.2,454.9 L1310.8,454.9 L1311.4,454.9 L1312.1,454.9 L1312.7,454.9 L1313.4,454.9 L1314.0,454.9 L1314.7,454.9 L1315.3,454.9 L1316.0,454.9 L1316.6,454.9 L1317.3,454.9 L1317.9,454.9 L1318.6,454.9 L1319.2,454.9 L1319.9,454.9 L1320.5,454.9 L1321.2,454.9 L1321.8,454.9 L1322.4,454.9 L1323.1,454.9 L1323.7,454.9 L1324.4,454.9 L1325.0,454.9 L1325.7,454.9 L1326.3,454.9 L1327.0,454.9 L1327.6,454.9 L1328.3,454.9 L1328.9,454.9 L1329.6,454.9 L1330.2,454.9 L1330.9,454.9 L1331.5,454.9 L1332.2,454.9 L1332.8,454.9 L1333.4,454.9 L1334.1,454.9 L1334.7,454.9 L1335.4,454.9 L1336.0,454.9 L1336.7,454.9 L1337.3,454.9 L1338.0,454.9 L1338.6,454.9 L1339.3,454.9 L1339.9,454.9 L1340.6,454.9 L1341.2,454.9 L1341.9,454.9 L1342.5,454.9 L1343.2,454.9 L1343.8,454.9 L1344.4,454.9 L1345.1,454.9 L1345.7,454.9 L1346.4,454.9 L1347.0,454.9 L1347.7,454.9 L1348.3,454.9 L1349.0,454.9 L1349.6,454.9 L1350.3,454.9 L1350.9,454.9 L1351.6,454.9 L1352.2,454.9 L1352.9,454.9 L1353.5,454.9 L1354.2,454.9 L1354.8,454.9 L1355.4,454.9 L1356.1,454.9 L1356.7,454.9 L1357.4,454.9 L1358.0,454.9 L1358.7,454.9 L1359.3,454.9 L1360.0,454.9 L1360.6,454.9 L1361.3,454.9 L1361.9,454.9 L1362.6,454.9 L1363.2,454.9 L1363.9,454.9 L1364.5,454.9 L1365.2,454.9 L1365.8,454.9 L1366.4,454.9 L1367.1,454.9 L1367.7,454.9 L1368.4,454.9 L1369.0,454.9 L1369.7,454.9 L1370.3,454.9 L1371.0,454.9 L1371.6,454.9 L1372.3,454.9 L1372.9,454.9 L1373.6,454.9 L1374.2,454.9 L1374.9,454.9 L1375.5,454.9 L1376.1,454.9 L1376.8,454.9 L1377.4,454.9 L1378.1,454.9 L1378.7,454.9 L1379.4,454.9 L1380.0,454.9 L1380.7,454.9 L1381.3,454.9 L1382.0,454.9 L1382.6,454.9 L1383.3,454.9 L1383.9,454.9 L1384.6,454.9 L1385.2,454.9 L1385.9,454.9 L1386.5,454.9 L1387.1,454.9 L1387.8,454.9 L1388.4,454.9 L1389.1,454.9 L1389.7,454.9 L1390.4,454.9 L1391.0,454.9 L1391.7,454.9 L1392.3,454.9 L1393.0,454.9 L1393.6,454.9 L1394.3,454.9 L1394.9,454.9 L1395.6,454.9 L1396.2,454.9 L1396.9,454.9 L1397.5,454.9" fill="none" stroke="#0000ff" stroke-width="3.2" stroke-linejoin="round"/>
<g stroke="#000" stroke-width="1.7" fill="none">
<path d="M736.8,456.2 H1410"/>
<path d="M1074.4,61.2 V476.6"/>
</g><g stroke="#000" stroke-width="1.4" fill="none">
<path d="M750.5,455.9 v-5.2M782.8,455.9 v-5.2M815.2,455.9 v-8.6M847.5,455.9 v-5.2M879.9,455.9 v-5.2M912.2,455.9 v-5.2M944.6,455.9 v-8.6M977.0,455.9 v-5.2M1009.3,455.9 v-5.2M1041.7,455.9 v-5.2M1106.3,455.9 v-5.2M1138.7,455.9 v-5.2M1171.0,455.9 v-5.2M1203.4,455.9 v-8.6M1235.8,455.9 v-5.2M1268.1,455.9 v-5.2M1300.5,455.9 v-5.2M1332.8,455.9 v-8.6M1365.2,455.9 v-5.2M1397.5,455.9 v-5.2"/>
<path d="M1074.0,61.9 h7.6M1074.0,77.2 h4.6M1074.0,92.5 h4.6M1074.0,107.8 h4.6M1074.0,123.1 h4.6M1074.0,138.4 h7.6M1074.0,153.7 h4.6M1074.0,169.0 h4.6M1074.0,184.3 h4.6M1074.0,199.6 h4.6M1074.0,214.9 h7.6M1074.0,230.2 h4.6M1074.0,245.5 h4.6M1074.0,260.8 h4.6M1074.0,276.1 h4.6M1074.0,291.4 h7.6M1074.0,306.7 h4.6M1074.0,322.0 h4.6M1074.0,337.3 h4.6M1074.0,352.6 h4.6M1074.0,367.9 h7.6M1074.0,383.2 h4.6M1074.0,398.5 h4.6M1074.0,413.8 h4.6M1074.0,429.1 h4.6M1074.0,444.4 h7.6M1074.0,459.7 h4.6M1074.0,475.0 h4.6"/>
</g>
<g font-family="Liberation Sans, Arial, sans-serif" font-weight="bold" font-size="19.6" fill="#000">
<text x="815.2" y="478.2" text-anchor="middle">−4</text>
<text x="944.6" y="478.2" text-anchor="middle">−2</text>
<text x="1203.4" y="478.2" text-anchor="middle">2</text>
<text x="1332.8" y="478.2" text-anchor="middle">4</text>
<text x="1069" y="67.3" text-anchor="end">10.0</text>
<text x="1069" y="143.8" text-anchor="end">9.9</text>
<text x="1069" y="220.3" text-anchor="end">9.8</text>
<text x="1069" y="296.8" text-anchor="end">9.7</text>
<text x="1069" y="373.3" text-anchor="end">9.6</text>
<text transform="translate(1425.3,462.1) scale(1.1,1)" font-size="20.6" font-style="italic">x</text>
<clipPath id="ct"><rect x="1060" y="31.4" width="30" height="20"/></clipPath>
<g clip-path="url(#ct)"><text x="1070.6" y="43" font-size="22.5" font-style="italic">t</text></g>
</g>
<g font-family="Liberation Sans, Arial, sans-serif" font-size="18.5" fill="#000" stroke="#000" stroke-width="0.3">
<path d="M1220.5,126.3 H1255.5" stroke="#00ff00" stroke-width="3" stroke-linecap="round"/>
<text x="1268" y="132.7">t=0</text>
<path d="M1220.5,164 H1255.5" stroke="#ff0000" stroke-width="3" stroke-linecap="round"/>
<text x="1268" y="170.4">t=0.3</text>
<path d="M1220.5,201.5 H1255.5" stroke="#0000ff" stroke-width="3" stroke-linecap="round"/>
<text x="1268" y="207.9">t=0.6</text>
</g></g>
<g id="pc">
<clipPath id="cc"><rect x="1552.2" y="10.7" width="442.8" height="442.8"/></clipPath>
<rect x="1552.2" y="10.7" width="442.8" height="442.8" fill="#ff0000"/>
<g clip-path="url(#cc)">
<polygon points="1412.3,-15.9 1416.8,-11.4 1421,-7 1425.4,-2.6 1430.2,1.8 1434.7,6.3 1439,10.7 1443.5,15.1 1447.7,19.6 1451.8,24 1456.4,28.4 1461,32.8 1465.5,37.3 1470.4,41.7 1475,46.1 1479.2,50.6 1483.6,55 1487.9,59.4 1492,63.8 1496.6,68.3 1501.4,72.7 1505.7,77.1 1510.3,81.5 1514.8,86 1518.7,90.4 1522.9,94.8 1527.3,99.3 1531.5,103.7 1536.1,108.1 1540.9,112.5 1545.3,117 1549.7,121.4 1554.3,125.8 1558.4,130.3 1562.6,134.7 1567.3,139.1 1571.8,143.5 1576.4,148 1581.3,152.4 1585.8,156.8 1589.9,161.3 1594.4,165.7 1598.6,170.1 1602.6,174.5 1607.3,179 1611.9,183.4 1616.3,187.8 1620.9,192.2 1625.3,196.7 1629.2,201.1 1633.5,205.5 1637.9,210 1642.1,214.4 1646.8,218.8 1651.7,223.2 1656,227.7 1660.6,232.1 1665.1,236.5 1669.1,241 1673.4,245.4 1678.2,249.8 1682.6,254.2 1687.2,258.7 1692.1,263.1 1696.4,267.5 1700.6,272 1705.1,276.4 1709.1,280.8 1713.3,285.2 1718,289.7 1722.5,294.1 1726.9,298.5 1731.6,302.9 1735.9,307.4 1739.8,311.8 1744.2,316.2 1748.6,320.7 1752.8,325.1 1757.7,329.5 1762.4,333.9 1766.8,338.4 1771.4,342.8 1775.9,347.2 1779.9,351.7 1784.3,356.1 1789,360.5 1793.3,364.9 1798,369.4 1802.8,373.8 1807,378.2 1811.3,382.7 1815.6,387.1 1819.6,391.5 1823.9,395.9 1828.6,400.4 1833,404.8 1837.5,409.2 1842.2,413.6 1846.4,418.1 1850.5,422.5 1855,426.9 1859.3,431.4 1863.6,435.8 1868.5,440.2 1873.2,444.6 1877.6,449.1 1882.3,453.5 1886.6,457.9 1890.6,462.4 1895.1,466.8 1899.7,471.2 1904,475.6 1908.8,480.1 2100,480.1 2100,-15.9" fill="#ff7b00" stroke="#201000" stroke-opacity="0.9" stroke-width="0.95"/>
<polygon points="1440.2,-15.9 1444.2,-11.4 1448.3,-7 1452.8,-2.6 1457,1.8 1461.5,6.3 1466.4,10.7 1470.7,15.1 1475,19.6 1479.5,24 1483.6,28.4 1487.8,32.8 1492.5,37.3 1497.1,41.7 1501.6,46.1 1506.5,50.6 1511,55 1515.1,59.4 1519.6,63.8 1523.9,68.3 1528,72.7 1532.8,77.1 1537.5,81.5 1541.8,86 1546.4,90.4 1550.8,94.8 1554.7,99.3 1558.9,103.7 1563.4,108.1 1567.6,112.5 1572.2,117 1577,121.4 1581.3,125.8 1585.8,130.3 1590.3,134.7 1594.3,139.1 1598.6,143.5 1603.4,148 1607.8,152.4 1612.5,156.8 1617.4,161.3 1621.7,165.7 1625.9,170.1 1630.4,174.5 1634.5,179 1638.7,183.4 1643.5,187.8 1648,192.2 1652.4,196.7 1657,201.1 1661.3,205.5 1665.2,210 1669.6,214.4 1673.9,218.8 1678.2,223.2 1683,227.7 1687.8,232.1 1692.1,236.5 1696.6,241 1701,245.4 1705,249.8 1709.5,254.2 1714.2,258.7 1718.6,263.1 1723.4,267.5 1728.2,272 1732.4,276.4 1736.6,280.8 1741,285.2 1745.1,289.7 1749.4,294.1 1754.1,298.5 1758.6,302.9 1763,307.4 1767.7,311.8 1771.8,316.2 1775.8,320.7 1780.3,325.1 1784.6,329.5 1788.9,333.9 1793.8,338.4 1798.5,342.8 1802.8,347.2 1807.5,351.7 1811.8,356.1 1815.8,360.5 1820.4,364.9 1825,369.4 1829.4,373.8 1834.2,378.2 1838.9,382.7 1843,387.1 1847.3,391.5 1851.6,395.9 1855.6,400.4 1860,404.8 1864.7,409.2 1869.1,413.6 1873.6,418.1 1878.3,422.5 1882.3,426.9 1886.5,431.4 1891,435.8 1895.3,440.2 1899.7,444.6 1904.7,449.1 1909.3,453.5 1913.7,457.9 1918.3,462.4 1922.5,466.8 1926.6,471.2 1931.2,475.6 1935.7,480.1 2100,480.1 2100,-15.9" fill="#eeff00" stroke="#201000" stroke-opacity="0.9" stroke-width="0.95"/>
<polygon points="1450,-15.9 1454.2,-11.4 1458.1,-7 1462.5,-2.6 1466.9,1.8 1471.1,6.3 1475.9,10.7 1480.6,15.1 1484.8,19.6 1489.2,24 1493.6,28.4 1497.5,32.8 1502,37.3 1506.7,41.7 1511.2,46.1 1515.9,50.6 1520.7,55 1525,59.4 1529.2,63.8 1533.7,68.3 1537.9,72.7 1542.2,77.1 1547.1,81.5 1551.6,86 1556,90.4 1560.6,94.8 1564.7,99.3 1568.7,103.7 1573.1,108.1 1577.4,112.5 1581.7,117 1586.6,121.4 1591.2,125.8 1595.4,130.3 1599.9,134.7 1604.2,139.1 1608.3,143.5 1612.8,148 1617.6,152.4 1622,156.8 1626.8,161.3 1631.6,165.7 1635.7,170.1 1640,174.5 1644.4,179 1648.5,183.4 1652.9,187.8 1657.7,192.2 1662.1,196.7 1666.6,201.1 1671.2,205.5 1675.2,210 1679.2,214.4 1683.7,218.8 1688,223.2 1692.4,227.7 1697.3,232.1 1701.9,236.5 1706.2,241 1710.8,245.4 1715,249.8 1719.1,254.2 1723.7,258.7 1728.4,263.1 1732.8,267.5 1737.7,272 1742.3,276.4 1746.4,280.8 1750.8,285.2 1755.1,289.7 1759.1,294.1 1763.6,298.5 1768.3,302.9 1772.7,307.4 1777.2,311.8 1781.8,316.2 1785.7,320.7 1789.9,325.1 1794.4,329.5 1798.6,333.9 1803.2,338.4 1808.1,342.8 1812.6,347.2 1817,351.7 1821.6,356.1 1825.7,360.5 1829.9,364.9 1834.6,369.4 1839.1,373.8 1843.6,378.2 1848.5,382.7 1852.9,387.1 1857,391.5 1861.4,395.9 1865.6,400.4 1869.6,404.8 1874.3,409.2 1878.9,413.6 1883.2,418.1 1887.9,422.5 1892.3,426.9 1896.3,431.4 1900.6,435.8 1905.1,440.2 1909.3,444.6 1914,449.1 1919,453.5 1923.4,457.9 1927.9,462.4 1932.4,466.8 1936.5,471.2 1940.7,475.6 1945.4,480.1 2100,480.1 2100,-15.9" fill="#59ff00" stroke="#201000" stroke-opacity="0.9" stroke-width="0.95"/>
<polygon points="1458.1,-15.9 1462.7,-11.4 1466.7,-7 1470.7,-2.6 1475.2,1.8 1479.5,6.3 1483.9,10.7 1488.8,15.1 1493.2,19.6 1497.4,24 1501.9,28.4 1506.1,32.8 1510.1,37.3 1514.8,41.7 1519.5,46.1 1524,50.6 1528.8,55 1533.4,59.4 1537.5,63.8 1542,68.3 1546.3,72.7 1550.4,77.1 1555.1,81.5 1559.9,86 1564.2,90.4 1568.8,94.8 1573.3,99.3 1577.2,103.7 1581.3,108.1 1585.8,112.5 1590,117 1594.6,121.4 1599.5,125.8 1603.8,130.3 1608.1,134.7 1612.7,139.1 1616.7,143.5 1620.9,148 1625.7,152.4 1630.3,156.8 1634.8,161.3 1639.7,165.7 1644.2,170.1 1648.3,174.5 1652.7,179 1657,183.4 1661.1,187.8 1665.9,192.2 1670.5,196.7 1674.8,201.1 1679.4,205.5 1683.8,210 1687.7,214.4 1692,218.8 1696.4,223.2 1700.6,227.7 1705.3,232.1 1710.2,236.5 1714.5,241 1718.9,245.4 1723.4,249.8 1727.5,254.2 1731.8,258.7 1736.6,263.1 1741.1,267.5 1745.7,272 1750.6,276.4 1754.9,280.8 1759,285.2 1763.5,289.7 1767.6,294.1 1771.8,298.5 1776.5,302.9 1781.1,307.4 1785.4,311.8 1790,316.2 1794.3,320.7 1798.2,325.1 1802.6,329.5 1807,333.9 1811.3,338.4 1816.1,342.8 1820.9,347.2 1825.2,351.7 1829.8,356.1 1834.2,360.5 1838.2,364.9 1842.7,369.4 1847.4,373.8 1851.8,378.2 1856.5,382.7 1861.3,387.1 1865.5,391.5 1869.7,395.9 1874.1,400.4 1878.1,404.8 1882.4,409.2 1887.1,413.6 1891.6,418.1 1896,422.5 1900.7,426.9 1904.8,431.4 1908.9,435.8 1913.4,440.2 1917.7,444.6 1922.1,449.1 1927,453.5 1931.7,457.9 1936,462.4 1940.7,466.8 1945,471.2 1949,475.6 1953.5,480.1 2100,480.1 2100,-15.9" fill="#00ff44" stroke="#201000" stroke-opacity="0.9" stroke-width="0.95"/>
<polygon points="1463.8,-15.9 1468.5,-11.4 1472.7,-7 1476.6,-2.6 1481,1.8 1485.4,6.3 1489.7,10.7 1494.4,15.1 1499.1,19.6 1503.3,24 1507.7,28.4 1512,32.8 1516,37.3 1520.5,41.7 1525.3,46.1 1529.7,50.6 1534.4,55 1539.2,59.4 1543.4,63.8 1547.7,68.3 1552.2,72.7 1556.3,77.1 1560.8,81.5 1565.6,86 1570.1,90.4 1574.5,94.8 1579.1,99.3 1583.2,103.7 1587.2,108.1 1591.6,112.5 1595.9,117 1600.3,121.4 1605.1,125.8 1609.7,130.3 1613.9,134.7 1618.4,139.1 1622.7,143.5 1626.7,148 1631.4,152.4 1636.1,156.8 1640.5,161.3 1645.4,165.7 1650.1,170.1 1654.2,174.5 1658.5,179 1662.9,183.4 1667,187.8 1671.5,192.2 1676.3,196.7 1680.7,201.1 1685.1,205.5 1689.7,210 1693.7,214.4 1697.7,218.8 1702.2,223.2 1706.5,227.7 1711,232.1 1715.9,236.5 1720.4,241 1724.7,245.4 1729.2,249.8 1733.4,254.2 1737.6,258.7 1742.3,263.1 1746.9,267.5 1751.4,272 1756.2,276.4 1760.8,280.8 1764.9,285.2 1769.2,289.7 1773.5,294.1 1777.6,298.5 1782.2,302.9 1786.9,307.4 1791.2,311.8 1795.8,316.2 1800.2,320.7 1804.2,325.1 1808.4,329.5 1812.9,333.9 1817.1,338.4 1821.7,342.8 1826.7,347.2 1831.1,351.7 1835.5,356.1 1840.1,360.5 1844.2,364.9 1848.4,369.4 1853.1,373.8 1857.6,378.2 1862.2,382.7 1867,387.1 1871.4,391.5 1875.5,395.9 1879.9,400.4 1884.1,404.8 1888.1,409.2 1892.8,413.6 1897.4,418.1 1901.8,422.5 1906.4,426.9 1910.8,431.4 1914.8,435.8 1919.1,440.2 1923.6,444.6 1927.8,449.1 1932.6,453.5 1937.5,457.9 1941.9,462.4 1946.4,466.8 1950.9,471.2 1954.9,475.6 1959.2,480.1 2100,480.1 2100,-15.9" fill="#00ffff" stroke="#201000" stroke-opacity="0.9" stroke-width="0.95"/>
<polygon points="1468,-15.9 1472.6,-11.4 1477,-7 1480.9,-2.6 1485.2,1.8 1489.7,6.3 1493.9,10.7 1498.5,15.1 1503.3,19.6 1507.5,24 1511.8,28.4 1516.3,32.8 1520.3,37.3 1524.6,41.7 1529.4,46.1 1533.9,50.6 1538.5,55 1543.4,59.4 1547.7,63.8 1551.9,68.3 1556.4,72.7 1560.6,77.1 1564.9,81.5 1569.7,86 1574.4,90.4 1578.7,94.8 1583.3,99.3 1587.5,103.7 1591.4,108.1 1595.8,112.5 1600.2,117 1604.4,121.4 1609.2,125.8 1613.9,130.3 1618.2,134.7 1622.6,139.1 1627,143.5 1631,148 1635.5,152.4 1640.2,156.8 1644.7,161.3 1649.4,165.7 1654.3,170.1 1658.5,174.5 1662.7,179 1667.2,183.4 1671.3,187.8 1675.6,192.2 1680.4,196.7 1684.9,201.1 1689.3,205.5 1693.9,210 1698,214.4 1702,218.8 1706.4,223.2 1710.8,227.7 1715.1,232.1 1720,236.5 1724.6,241 1728.9,245.4 1733.4,249.8 1737.7,254.2 1741.8,258.7 1746.4,263.1 1751.1,267.5 1755.5,272 1760.3,276.4 1765,280.8 1769.1,285.2 1773.4,289.7 1777.8,294.1 1781.9,298.5 1786.3,302.9 1791.1,307.4 1795.5,311.8 1799.9,316.2 1804.5,320.7 1808.5,325.1 1812.6,329.5 1817.1,333.9 1821.4,338.4 1825.8,342.8 1830.8,347.2 1835.3,351.7 1839.7,356.1 1844.3,360.5 1848.5,364.9 1852.6,369.4 1857.2,373.8 1861.9,378.2 1866.3,382.7 1871.1,387.1 1875.7,391.5 1879.8,395.9 1884.1,400.4 1888.4,404.8 1892.4,409.2 1896.9,413.6 1901.7,418.1 1906,422.5 1910.5,426.9 1915.1,431.4 1919.1,435.8 1923.3,440.2 1927.8,444.6 1932.1,449.1 1936.7,453.5 1941.6,457.9 1946.1,462.4 1950.5,466.8 1955.1,471.2 1959.2,475.6 1963.4,480.1 2100,480.1 2100,-15.9" fill="#0080ff" stroke="#201000" stroke-opacity="0.9" stroke-width="0.95"/>
<polygon points="1472.4,-15.9 1476.9,-11.4 1481.4,-7 1485.4,-2.6 1489.5,1.8 1494,6.3 1498.2,10.7 1502.7,15.1 1507.6,19.6 1511.9,24 1516.1,28.4 1520.6,32.8 1524.7,37.3 1528.9,41.7 1533.6,46.1 1538.2,50.6 1542.7,55 1547.6,59.4 1552.1,63.8 1556.2,68.3 1560.7,72.7 1565,77.1 1569.2,81.5 1573.9,86 1578.7,90.4 1583,94.8 1587.5,99.3 1592,103.7 1595.9,108.1 1600.1,112.5 1604.6,117 1608.8,121.4 1613.4,125.8 1618.2,130.3 1622.5,134.7 1626.8,139.1 1631.3,143.5 1635.4,148 1639.7,152.4 1644.5,156.8 1649,161.3 1653.6,165.7 1658.5,170.1 1662.9,174.5 1667,179 1671.4,183.4 1675.7,187.8 1679.9,192.2 1684.6,196.7 1689.3,201.1 1693.6,205.5 1698.2,210 1702.5,214.4 1706.4,218.8 1710.7,223.2 1715.1,227.7 1719.4,232.1 1724.1,236.5 1728.9,241 1733.2,245.4 1737.6,249.8 1742.1,254.2 1746.1,258.7 1750.5,263.1 1755.3,267.5 1759.8,272 1764.5,276.4 1769.3,280.8 1773.6,285.2 1777.7,289.7 1782.2,294.1 1786.3,298.5 1790.5,302.9 1795.3,307.4 1799.8,311.8 1804.2,316.2 1808.8,320.7 1813,325.1 1816.9,329.5 1821.4,333.9 1825.7,338.4 1830.1,342.8 1834.9,347.2 1839.7,351.7 1843.9,356.1 1848.5,360.5 1852.9,364.9 1856.9,369.4 1861.4,373.8 1866.1,378.2 1870.6,382.7 1875.3,387.1 1880,391.5 1884.2,395.9 1888.4,400.4 1892.8,404.8 1896.8,409.2 1901.1,413.6 1905.9,418.1 1910.3,422.5 1914.8,426.9 1919.4,431.4 1923.5,435.8 1927.6,440.2 1932.1,444.6 1936.4,449.1 1940.8,453.5 1945.8,457.9 1950.4,462.4 1954.8,466.8 1959.4,471.2 1963.7,475.6 1967.7,480.1 2100,480.1 2100,-15.9" fill="#1900ff" stroke="#201000" stroke-opacity="0.9" stroke-width="0.95"/>
<polygon points="1477.4,-15.9 1481.8,-11.4 1486.4,-7 1490.5,-2.6 1494.5,1.8 1498.9,6.3 1503.3,10.7 1507.6,15.1 1512.4,19.6 1517,24 1521.1,28.4 1525.6,32.8 1529.8,37.3 1533.8,41.7 1538.4,46.1 1543.2,50.6 1547.6,55 1552.4,59.4 1557.1,63.8 1561.2,68.3 1565.6,72.7 1570,77.1 1574.2,81.5 1578.7,86 1583.6,90.4 1588,94.8 1592.4,99.3 1597,103.7 1601,108.1 1605,112.5 1609.5,117 1613.8,121.4 1618.2,125.8 1623.1,130.3 1627.6,134.7 1631.8,139.1 1636.3,143.5 1640.5,148 1644.6,152.4 1649.3,156.8 1654,161.3 1658.4,165.7 1663.3,170.1 1667.9,174.5 1672,179 1676.4,183.4 1680.8,187.8 1684.9,192.2 1689.5,196.7 1694.2,201.1 1698.6,205.5 1703.1,210 1707.6,214.4 1711.5,218.8 1715.6,223.2 1720.1,227.7 1724.4,232.1 1728.9,236.5 1733.8,241 1738.2,245.4 1742.5,249.8 1747.1,254.2 1751.2,258.7 1755.4,263.1 1760.2,267.5 1764.8,272 1769.3,276.4 1774.2,280.8 1778.6,285.2 1782.7,289.7 1787.1,294.1 1791.4,298.5 1795.5,302.9 1800.1,307.4 1804.8,311.8 1809.1,316.2 1813.7,320.7 1818.1,325.1 1822,329.5 1826.3,333.9 1830.8,338.4 1835,342.8 1839.7,347.2 1844.6,351.7 1848.9,356.1 1853.4,360.5 1857.9,364.9 1862,369.4 1866.3,373.8 1871,378.2 1875.5,382.7 1880.1,387.1 1885,391.5 1889.3,395.9 1893.4,400.4 1897.8,404.8 1901.9,409.2 1906.1,413.6 1910.8,418.1 1915.4,422.5 1919.7,426.9 1924.3,431.4 1928.7,435.8 1932.6,440.2 1937,444.6 1941.4,449.1 1945.7,453.5 1950.6,457.9 1955.4,462.4 1959.7,466.8 1964.3,471.2 1968.7,475.6 1972.7,480.1 2100,480.1 2100,-15.9" fill="#c800ff" stroke="#201000" stroke-opacity="0.9" stroke-width="0.95"/>
<polygon points="1481.2,-15.9 1485.5,-11.4 1490.1,-7 1494.4,-2.6 1498.3,1.8 1502.7,6.3 1507.1,10.7 1511.4,15.1 1516.1,19.6 1520.8,24 1524.9,28.4 1529.3,32.8 1533.7,37.3 1537.7,41.7 1542.1,46.1 1546.9,50.6 1551.4,55 1556,59.4 1560.9,63.8 1565.1,68.3 1569.3,72.7 1573.8,77.1 1578,81.5 1582.4,86 1587.3,90.4 1591.8,94.8 1596.2,99.3 1600.8,103.7 1604.9,108.1 1608.8,112.5 1613.3,117 1617.6,121.4 1621.9,125.8 1626.7,130.3 1631.4,134.7 1635.6,139.1 1640,143.5 1644.4,148 1648.4,152.4 1652.9,156.8 1657.7,161.3 1662.2,165.7 1666.9,170.1 1671.7,174.5 1675.8,179 1680.1,183.4 1684.6,187.8 1688.7,192.2 1693.1,196.7 1698,201.1 1702.4,205.5 1706.8,210 1711.4,214.4 1715.4,218.8 1719.4,223.2 1723.9,227.7 1728.2,232.1 1732.6,236.5 1737.5,241 1742,245.4 1746.3,249.8 1750.8,254.2 1755.1,258.7 1759.2,263.1 1763.8,267.5 1768.5,272 1773,276.4 1777.8,280.8 1782.5,285.2 1786.5,289.7 1790.9,294.1 1795.2,298.5 1799.3,302.9 1803.8,307.4 1808.6,311.8 1812.9,316.2 1817.4,320.7 1821.9,325.1 1825.9,329.5 1830,333.9 1834.5,338.4 1838.8,342.8 1843.3,347.2 1848.3,351.7 1852.8,356.1 1857.1,360.5 1861.7,364.9 1865.9,369.4 1870,373.8 1874.7,378.2 1879.3,382.7 1883.8,387.1 1888.6,391.5 1893.1,395.9 1897.2,400.4 1901.5,404.8 1905.8,409.2 1909.8,413.6 1914.5,418.1 1919.1,422.5 1923.5,426.9 1928,431.4 1932.5,435.8 1936.4,440.2 1940.7,444.6 1945.2,449.1 1949.5,453.5 1954.2,457.9 1959.1,462.4 1963.5,466.8 1968,471.2 1972.5,475.6 1976.6,480.1 2100,480.1 2100,-15.9" fill="#ff0095" stroke="#201000" stroke-opacity="0.9" stroke-width="0.95"/>
<polygon points="1486.1,-15.9 1490.5,-11.4 1495,-7 1499.5,-2.6 1503.4,1.8 1507.6,6.3 1512.1,10.7 1516.4,15.1 1520.9,19.6 1525.7,24 1530,28.4 1534.2,32.8 1538.7,37.3 1542.8,41.7 1547,46.1 1551.7,50.6 1556.3,55 1560.9,59.4 1565.7,63.8 1570.2,68.3 1574.3,72.7 1578.7,77.1 1583.1,81.5 1587.3,86 1592.1,90.4 1596.8,94.8 1601.1,99.3 1605.7,103.7 1610,108.1 1613.9,112.5 1618.2,117 1622.7,121.4 1626.9,125.8 1631.6,130.3 1636.4,134.7 1640.6,139.1 1644.9,143.5 1649.4,148 1653.5,152.4 1657.8,156.8 1662.6,161.3 1667.1,165.7 1671.7,170.1 1676.6,174.5 1680.9,179 1685.1,183.4 1689.5,187.8 1693.8,192.2 1698,196.7 1702.8,201.1 1707.4,205.5 1711.7,210 1716.3,214.4 1720.5,218.8 1724.4,223.2 1728.8,227.7 1733.2,232.1 1737.5,236.5 1742.3,241 1747,245.4 1751.3,249.8 1755.7,254.2 1760.2,258.7 1764.2,263.1 1768.7,267.5 1773.5,272 1777.9,276.4 1782.6,280.8 1787.4,285.2 1791.6,289.7 1795.8,294.1 1800.2,298.5 1804.3,302.9 1808.7,307.4 1813.5,311.8 1817.9,316.2 1822.3,320.7 1826.9,325.1 1831,329.5 1835,333.9 1839.5,338.4 1843.8,342.8 1848.2,347.2 1853.1,351.7 1857.8,356.1 1862,360.5 1866.6,364.9 1870.9,369.4 1875,373.8 1879.6,378.2 1884.3,382.7 1888.7,387.1 1893.5,391.5 1898.2,395.9 1902.2,400.4 1906.5,404.8 1910.9,409.2 1914.9,413.6 1919.3,418.1 1924.1,422.5 1928.5,426.9 1932.9,431.4 1937.5,435.8 1941.6,440.2 1945.7,444.6 1950.2,449.1 1954.5,453.5 1959,457.9 1963.9,462.4 1968.5,466.8 1972.9,471.2 1977.5,475.6 1981.7,480.1 2100,480.1 2100,-15.9" fill="#ff0000" stroke="#201000" stroke-opacity="0.9" stroke-width="0.95"/>
<polygon points="1495.9,-15.9 1500.8,-11.4 1505.1,-7 1509.8,-2.6 1513.9,1.8 1517.4,6.3 1521.8,10.7 1526.3,15.1 1530.4,19.6 1535.4,24 1540.3,28.4 1544.2,32.8 1548.5,37.3 1552.8,41.7 1556.5,46.1 1560.9,50.6 1566,55 1570.5,59.4 1575.3,63.8 1580.4,68.3 1584.5,72.7 1588.5,77.1 1593.1,81.5 1597.2,86 1601.6,90.4 1606.8,94.8 1611.4,99.3 1615.7,103.7 1620.4,108.1 1624.3,112.5 1627.9,117 1632.4,121.4 1636.7,125.8 1640.9,130.3 1646,134.7 1650.8,139.1 1654.8,143.5 1659.2,148 1663.5,152.4 1667.2,156.8 1671.9,161.3 1676.9,165.7 1681.4,170.1 1686.4,174.5 1691.4,179 1695.3,183.4 1699.4,187.8 1703.9,192.2 1707.8,196.7 1712.3,201.1 1717.5,205.5 1721.9,210 1726.3,214.4 1730.9,218.8 1734.7,223.2 1738.4,227.7 1742.9,232.1 1747.2,236.5 1751.5,241 1756.8,245.4 1761.4,249.8 1765.5,254.2 1770.1,258.7 1774.2,263.1 1778.1,267.5 1782.9,272 1787.8,276.4 1792.3,280.8 1797.4,285.2 1802.2,289.7 1806,294.1 1810.2,298.5 1814.6,302.9 1818.4,307.4 1823,311.8 1828.1,316.2 1832.3,320.7 1836.8,325.1 1841.4,329.5 1845,333.9 1848.9,338.4 1853.5,342.8 1857.7,347.2 1862.3,351.7 1867.6,356.1 1872.1,360.5 1876.3,364.9 1881,369.4 1885,373.8 1889,378.2 1893.9,382.7 1898.7,387.1 1903.2,391.5 1908.3,395.9 1912.8,400.4 1916.6,404.8 1920.9,409.2 1925.1,413.6 1928.9,418.1 1933.7,422.5 1938.5,426.9 1942.8,431.4 1947.4,435.8 1951.9,440.2 1955.4,444.6 1959.6,449.1 1964.2,453.5 1968.4,457.9 1973.2,462.4 1978.5,466.8 1982.9,471.2 1987.3,475.6 1992,480.1 2100,480.1 2100,-15.9" fill="#ff0096" stroke="#201000" stroke-opacity="0.9" stroke-width="0.95"/>
<polygon points="1500.1,-15.9 1505.2,-11.4 1509.5,-7 1514.1,-2.6 1518.6,1.8 1522.1,6.3 1526.2,10.7 1530.8,15.1 1534.9,19.6 1539.6,24 1544.7,28.4 1548.8,32.8 1552.9,37.3 1557.3,41.7 1561.1,46.1 1565.2,50.6 1570.3,55 1575,59.4 1579.6,63.8 1584.7,68.3 1589.1,72.7 1593,77.1 1597.5,81.5 1601.8,86 1605.9,90.4 1611,94.8 1615.9,99.3 1620.1,103.7 1624.8,108.1 1629,112.5 1632.5,117 1636.7,121.4 1641.3,125.8 1645.4,130.3 1650.2,134.7 1655.2,139.1 1659.3,143.5 1663.6,148 1668,152.4 1671.8,156.8 1676.1,161.3 1681.2,165.7 1685.8,170.1 1690.6,174.5 1695.7,179 1699.9,183.4 1703.8,187.8 1708.4,192.2 1712.4,196.7 1716.6,201.1 1721.8,205.5 1726.4,210 1730.7,214.4 1735.3,218.8 1739.4,223.2 1742.9,227.7 1747.3,232.1 1751.7,236.5 1755.9,241 1761,245.4 1765.9,249.8 1769.9,254.2 1774.4,258.7 1778.8,263.1 1782.6,267.5 1787.1,272 1792.2,276.4 1796.7,280.8 1801.6,285.2 1806.6,289.7 1810.6,294.1 1814.6,298.5 1819.1,302.9 1823,307.4 1827.3,311.8 1832.4,316.2 1836.9,320.7 1841.2,325.1 1845.9,329.5 1849.7,333.9 1853.4,338.4 1857.9,342.8 1862.2,347.2 1866.6,351.7 1871.8,356.1 1876.6,360.5 1880.7,364.9 1885.4,369.4 1889.6,373.8 1893.4,378.2 1898.2,382.7 1903.1,387.1 1907.5,391.5 1912.6,395.9 1917.4,400.4 1921.2,404.8 1925.3,409.2 1929.7,413.6 1933.4,418.1 1937.9,422.5 1943,426.9 1947.3,431.4 1951.7,435.8 1956.4,440.2 1960.1,444.6 1964,449.1 1968.6,453.5 1972.9,457.9 1977.4,462.4 1982.8,466.8 1987.4,471.2 1991.7,475.6 1996.4,480.1 2100,480.1 2100,-15.9" fill="#a000d0" stroke="#100020" stroke-opacity="0.45" stroke-width="0.7"/>
<polygon points="1503,-15.9 1508.3,-11.4 1512.7,-7 1517.1,-2.6 1521.7,1.8 1525.4,6.3 1529.2,10.7 1533.9,15.1 1538.1,19.6 1542.6,24 1547.7,28.4 1552,32.8 1556,37.3 1560.4,41.7 1564.4,46.1 1568.3,50.6 1573.2,55 1578.1,59.4 1582.6,63.8 1587.7,68.3 1592.3,72.7 1596.1,77.1 1600.5,81.5 1605,86 1609,90.4 1613.9,94.8 1619,99.3 1623.3,103.7 1627.8,108.1 1632.2,112.5 1635.8,117 1639.8,121.4 1644.4,125.8 1648.5,130.3 1653.2,134.7 1658.3,139.1 1662.5,143.5 1666.6,148 1671.2,152.4 1675,156.8 1679.1,161.3 1684.2,165.7 1688.9,170.1 1693.5,174.5 1698.7,179 1703.1,183.4 1707,187.8 1711.4,192.2 1715.7,196.7 1719.7,201.1 1724.7,205.5 1729.6,210 1733.8,214.4 1738.4,218.8 1742.7,223.2 1746.1,227.7 1750.3,232.1 1754.9,236.5 1759,241 1763.9,245.4 1769,249.8 1773.1,254.2 1777.5,258.7 1782,263.1 1785.8,267.5 1790.1,272 1795.2,276.4 1799.8,280.8 1804.5,285.2 1809.7,289.7 1813.8,294.1 1817.7,298.5 1822.2,302.9 1826.2,307.4 1830.3,311.8 1835.4,316.2 1840,320.7 1844.3,325.1 1849,329.5 1853,333.9 1856.5,338.4 1861,342.8 1865.4,347.2 1869.6,351.7 1874.7,356.1 1879.7,360.5 1883.9,364.9 1888.4,369.4 1892.8,373.8 1896.6,378.2 1901.1,382.7 1906.1,387.1 1910.6,391.5 1915.5,395.9 1920.5,400.4 1924.4,404.8 1928.4,409.2 1932.8,413.6 1936.6,418.1 1940.9,422.5 1946,426.9 1950.4,431.4 1954.8,435.8 1959.5,440.2 1963.4,444.6 1967.1,449.1 1971.7,453.5 1976,457.9 1980.4,462.4 1985.7,466.8 1990.6,471.2 1994.7,475.6 1999.4,480.1 2100,480.1 2100,-15.9" fill="#0a00a8" stroke="#100020" stroke-opacity="0.45" stroke-width="0.7"/>
<polygon points="1505.5,-15.9 1510.8,-11.4 1515.4,-7 1519.7,-2.6 1524.4,1.8 1528.2,6.3 1531.9,10.7 1536.5,15.1 1540.9,19.6 1545.2,24 1550.3,28.4 1554.8,32.8 1558.7,37.3 1563.1,41.7 1567.2,46.1 1571,50.6 1575.8,55 1580.7,59.4 1585.2,63.8 1590.2,68.3 1595,72.7 1598.9,77.1 1603.1,81.5 1607.7,86 1611.7,90.4 1616.4,94.8 1621.6,99.3 1626,103.7 1630.4,108.1 1635,112.5 1638.6,117 1642.4,121.4 1647,125.8 1651.2,130.3 1655.7,134.7 1660.9,139.1 1665.3,143.5 1669.3,148 1673.8,152.4 1677.8,156.8 1681.7,161.3 1686.7,165.7 1691.6,170.1 1696.1,174.5 1701.3,179 1705.9,183.4 1709.7,187.8 1714.1,192.2 1718.4,196.7 1722.4,201.1 1727.2,205.5 1732.2,210 1736.5,214.4 1741,218.8 1745.4,223.2 1748.9,227.7 1753,232.1 1757.6,236.5 1761.7,241 1766.4,245.4 1771.6,249.8 1775.9,254.2 1780.1,258.7 1784.7,263.1 1788.5,267.5 1792.7,272 1797.8,276.4 1802.4,280.8 1807.1,285.2 1812.3,289.7 1816.6,294.1 1820.4,298.5 1824.9,302.9 1829,307.4 1833,311.8 1837.9,316.2 1842.7,320.7 1846.9,325.1 1851.6,329.5 1855.8,333.9 1859.3,338.4 1863.6,342.8 1868.1,347.2 1872.3,351.7 1877.2,356.1 1882.4,360.5 1886.6,364.9 1891,369.4 1895.5,373.8 1899.3,378.2 1903.7,382.7 1908.7,387.1 1913.3,391.5 1918,395.9 1923.1,400.4 1927.2,404.8 1931.1,409.2 1935.5,413.6 1939.4,418.1 1943.5,422.5 1948.6,426.9 1953.2,431.4 1957.4,435.8 1962.2,440.2 1966.2,444.6 1969.8,449.1 1974.3,453.5 1978.8,457.9 1983,462.4 1988.2,466.8 1993.2,471.2 1997.4,475.6 2002,480.1 2100,480.1 2100,-15.9" fill="#008c8c" stroke="#100020" stroke-opacity="0.45" stroke-width="0.7"/>
<polygon points="1508.9,-15.9 1514.2,-11.4 1519,-7 1523.2,-2.6 1527.9,1.8 1532,6.3 1535.5,10.7 1540,15.1 1544.5,19.6 1548.7,24 1553.6,28.4 1558.4,32.8 1562.3,37.3 1566.6,41.7 1570.9,46.1 1574.6,50.6 1579.1,55 1584.2,59.4 1588.7,63.8 1593.6,68.3 1598.6,72.7 1602.5,77.1 1606.6,81.5 1611.2,86 1615.3,90.4 1619.8,94.8 1625,99.3 1629.6,103.7 1633.9,108.1 1638.5,112.5 1642.4,117 1646,121.4 1650.5,125.8 1654.9,130.3 1659.2,134.7 1664.3,139.1 1668.9,143.5 1672.9,148 1677.3,152.4 1681.5,156.8 1685.3,161.3 1690.1,165.7 1695.1,170.1 1699.6,174.5 1704.6,179 1709.5,183.4 1713.3,187.8 1717.5,192.2 1722,196.7 1726,201.1 1730.6,205.5 1735.7,210 1740.1,214.4 1744.5,218.8 1749.1,223.2 1752.7,227.7 1756.5,232.1 1761.1,236.5 1765.3,241 1769.8,245.4 1775,249.8 1779.5,254.2 1783.6,258.7 1788.2,263.1 1792.3,267.5 1796.2,272 1801.1,276.4 1806,280.8 1810.5,285.2 1815.6,289.7 1820.3,294.1 1824,298.5 1828.4,302.9 1832.7,307.4 1836.5,311.8 1841.3,316.2 1846.3,320.7 1850.5,325.1 1855,329.5 1859.5,333.9 1863.1,338.4 1867.1,342.8 1871.7,347.2 1875.9,351.7 1880.6,356.1 1885.8,360.5 1890.2,364.9 1894.5,369.4 1899.1,373.8 1903,378.2 1907.1,382.7 1912.2,387.1 1916.8,391.5 1921.4,395.9 1926.6,400.4 1930.9,404.8 1934.7,409.2 1939.1,413.6 1943.1,418.1 1947,422.5 1951.9,426.9 1956.8,431.4 1961,435.8 1965.6,440.2 1970,444.6 1973.5,449.1 1977.8,453.5 1982.3,457.9 1986.5,462.4 1991.5,466.8 1996.7,471.2 2001,475.6 2005.4,480.1 2100,480.1 2100,-15.9" fill="#0a960a"/>
<polygon points="1512.5,-15.9 1516.8,-11.4 1522.1,-7 1527,-2.6 1531.2,1.8 1535.8,6.3 1540,10.7 1543.5,15.1 1547.9,19.6 1552.5,24 1556.7,28.4 1561.6,32.8 1566.5,37.3 1570.3,41.7 1574.5,46.1 1578.9,50.6 1582.6,55 1587,59.4 1592.2,63.8 1596.7,68.3 1601.5,72.7 1606.5,77.1 1610.5,81.5 1614.5,86 1619.2,90.4 1623.3,94.8 1627.7,99.3 1633,103.7 1637.6,108.1 1641.9,112.5 1646.5,117 1650.4,121.4 1654,125.8 1658.5,130.3 1662.9,134.7 1667.2,139.1 1672.3,143.5 1677,148 1680.9,152.4 1685.2,156.8 1689.5,161.3 1693.3,165.7 1698,170.1 1703.1,174.5 1707.5,179 1712.5,183.4 1717.4,187.8 1721.3,192.2 1725.4,196.7 1730,201.1 1734,205.5 1738.5,210 1743.7,214.4 1748.1,218.8 1752.4,223.2 1757,227.7 1760.8,232.1 1764.5,236.5 1769.1,241 1773.4,245.4 1777.8,249.8 1783,254.2 1787.5,258.7 1791.5,263.1 1796.1,267.5 1800.2,272 1804.1,276.4 1809,280.8 1814,285.2 1818.5,289.7 1823.5,294.1 1828.2,298.5 1832,302.9 1836.3,307.4 1840.7,311.8 1844.6,316.2 1849.3,320.7 1854.3,325.1 1858.6,329.5 1863,333.9 1867.5,338.4 1871.1,342.8 1875,347.2 1879.7,351.7 1883.9,356.1 1888.5,360.5 1893.8,364.9 1898.2,369.4 1902.4,373.8 1907,378.2 1911,382.7 1915,387.1 1920.1,391.5 1924.8,395.9 1929.4,400.4 1934.5,404.8 1938.9,409.2 1942.7,413.6 1947,418.1 1951.2,422.5 1955.1,426.9 1959.9,431.4 1964.8,435.8 1969,440.2 1973.6,444.6 1978,449.1 1981.5,453.5 1985.7,457.9 1990.3,462.4 1994.5,466.8 1999.4,471.2 2004.7,475.6 2009,480.1 2100,480.1 2100,-15.9" fill="#96a000"/>
<path d="M1514.7,-15.9 L1524.3,-7 L1533.4,1.8 L1542.2,10.7 L1550.2,19.6 L1558.9,28.4 L1568.7,37.3 L1576.7,46.1 L1584.8,55 L1594.4,63.8 L1603.7,72.7 L1612.7,81.5 L1621.4,90.4 L1629.9,99.3 L1639.8,108.1 L1648.7,117 L1656.2,125.8 L1665.2,134.7 L1674.5,143.5 L1683.1,152.4 L1691.7,161.3 L1700.2,170.1 L1709.8,179 L1719.6,187.8 L1727.6,196.7 L1736.2,205.5 L1746,214.4 L1754.7,223.2 L1763,232.1 L1771.3,241 L1780,249.8 L1789.7,258.7 L1798.3,267.5 L1806.3,276.4 L1816.2,285.2 L1825.7,294.1 L1834.2,302.9 L1842.9,311.8 L1851.5,320.7 L1860.8,329.5 L1869.7,338.4 L1877.2,347.2 L1886.1,356.1 L1896,364.9 L1904.6,373.8 L1913.2,382.7 L1922.3,391.5 L1931.6,400.4 L1941.2,409.2 L1949.2,418.1 L1957.3,426.9 L1967,435.8 L1975.8,444.6 L1983.7,453.5 L1992.5,462.4 L2001.6,471.2 L2011.2,480.1" fill="none" stroke="#ff8c00" stroke-width="1.6" stroke-dasharray="5 3"/>
<polygon points="1517,-15.9 1521.3,-11.4 1526.5,-7 1531.4,-2.6 1535.6,1.8 1540.3,6.3 1544.4,10.7 1548,15.1 1552.4,19.6 1557,24 1561.1,28.4 1566,32.8 1570.9,37.3 1574.8,41.7 1579,46.1 1583.3,50.6 1587,55 1591.5,59.4 1596.6,63.8 1601.1,68.3 1605.9,72.7 1610.9,77.1 1614.9,81.5 1618.9,86 1623.6,90.4 1627.7,94.8 1632.2,99.3 1637.4,103.7 1642.1,108.1 1646.3,112.5 1650.9,117 1654.9,121.4 1658.4,125.8 1662.9,130.3 1667.4,134.7 1671.6,139.1 1676.7,143.5 1681.4,148 1685.3,152.4 1689.7,156.8 1693.9,161.3 1697.7,165.7 1702.4,170.1 1707.5,174.5 1712,179 1716.9,183.4 1721.8,187.8 1725.7,192.2 1729.9,196.7 1734.4,201.1 1738.4,205.5 1743,210 1748.2,214.4 1752.6,218.8 1756.9,223.2 1761.5,227.7 1765.2,232.1 1768.9,236.5 1773.5,241 1777.8,245.4 1782.2,249.8 1787.4,254.2 1792,258.7 1796,263.1 1800.5,267.5 1804.7,272 1808.5,276.4 1813.4,280.8 1818.4,285.2 1822.9,289.7 1828,294.1 1832.7,298.5 1836.4,302.9 1840.7,307.4 1845.1,311.8 1849,316.2 1853.7,320.7 1858.8,325.1 1863,329.5 1867.4,333.9 1871.9,338.4 1875.5,342.8 1879.4,347.2 1884.1,351.7 1888.3,356.1 1892.9,360.5 1898.2,364.9 1902.6,369.4 1906.8,373.8 1911.4,378.2 1915.4,382.7 1919.4,387.1 1924.5,391.5 1929.3,395.9 1933.8,400.4 1938.9,404.8 1943.4,409.2 1947.1,413.6 1951.4,418.1 1955.6,422.5 1959.5,426.9 1964.3,431.4 1969.2,435.8 1973.4,440.2 1978,444.6 1982.4,449.1 1985.9,453.5 1990.1,457.9 1994.8,462.4 1999,466.8 2003.8,471.2 2009.1,475.6 2013.4,480.1 2100,480.1 2100,-15.9" fill="#ff0000" stroke="#100020" stroke-opacity="0.45" stroke-width="0.7"/>
<polygon points="1519.6,-15.9 1523.9,-11.4 1529.1,-7 1534,-2.6 1538.2,1.8 1542.9,6.3 1547,10.7 1550.6,15.1 1555,19.6 1559.6,24 1563.7,28.4 1568.6,32.8 1573.5,37.3 1577.4,41.7 1581.6,46.1 1585.9,50.6 1589.6,55 1594.1,59.4 1599.2,63.8 1603.7,68.3 1608.5,72.7 1613.5,77.1 1617.6,81.5 1621.6,86 1626.2,90.4 1630.3,94.8 1634.8,99.3 1640,103.7 1644.7,108.1 1648.9,112.5 1653.5,117 1657.5,121.4 1661,125.8 1665.6,130.3 1670,134.7 1674.2,139.1 1679.3,143.5 1684,148 1687.9,152.4 1692.3,156.8 1696.5,161.3 1700.3,165.7 1705,170.1 1710.1,174.5 1714.6,179 1719.5,183.4 1724.5,187.8 1728.3,192.2 1732.5,196.7 1737,201.1 1741,205.5 1745.6,210 1750.8,214.4 1755.2,218.8 1759.5,223.2 1764.1,227.7 1767.8,232.1 1771.5,236.5 1776.1,241 1780.4,245.4 1784.8,249.8 1790,254.2 1794.6,258.7 1798.6,263.1 1803.1,267.5 1807.3,272 1811.1,276.4 1816.1,280.8 1821,285.2 1825.5,289.7 1830.6,294.1 1835.3,298.5 1839.1,302.9 1843.3,307.4 1847.7,311.8 1851.6,316.2 1856.3,320.7 1861.4,325.1 1865.6,329.5 1870,333.9 1874.6,338.4 1878.1,342.8 1882.1,347.2 1886.7,351.7 1890.9,356.1 1895.6,360.5 1900.8,364.9 1905.2,369.4 1909.4,373.8 1914,378.2 1918,382.7 1922.1,387.1 1927.1,391.5 1931.9,395.9 1936.4,400.4 1941.5,404.8 1946,409.2 1949.7,413.6 1954,418.1 1958.2,422.5 1962.1,426.9 1966.9,431.4 1971.9,435.8 1976,440.2 1980.6,444.6 1985,449.1 1988.5,453.5 1992.7,457.9 1997.4,462.4 2001.6,466.8 2006.5,471.2 2011.7,475.6 2016,480.1 2100,480.1 2100,-15.9" fill="#ffffff"/>
<polygon points="1530.4,-15.9 1534.7,-11.4 1539.9,-7 1544.8,-2.6 1549,1.8 1553.7,6.3 1557.9,10.7 1561.4,15.1 1565.8,19.6 1570.4,24 1574.6,28.4 1579.5,32.8 1584.3,37.3 1588.2,41.7 1592.4,46.1 1596.7,50.6 1600.4,55 1604.9,59.4 1610,63.8 1614.5,68.3 1619.3,72.7 1624.3,77.1 1628.4,81.5 1632.4,86 1637,90.4 1641.2,94.8 1645.6,99.3 1650.8,103.7 1655.5,108.1 1659.7,112.5 1664.4,117 1668.3,121.4 1671.8,125.8 1676.4,130.3 1680.8,134.7 1685,139.1 1690.1,143.5 1694.8,148 1698.7,152.4 1703.1,156.8 1707.3,161.3 1711.1,165.7 1715.8,170.1 1720.9,174.5 1725.4,179 1730.3,183.4 1735.3,187.8 1739.1,192.2 1743.3,196.7 1747.8,201.1 1751.8,205.5 1756.4,210 1761.6,214.4 1766,218.8 1770.3,223.2 1774.9,227.7 1778.6,232.1 1782.3,236.5 1786.9,241 1791.2,245.4 1795.6,249.8 1800.8,254.2 1805.4,258.7 1809.4,263.1 1813.9,267.5 1818.1,272 1821.9,276.4 1826.9,280.8 1831.8,285.2 1836.3,289.7 1841.4,294.1 1846.1,298.5 1849.9,302.9 1854.1,307.4 1858.5,311.8 1862.4,316.2 1867.1,320.7 1872.2,325.1 1876.4,329.5 1880.8,333.9 1885.4,338.4 1888.9,342.8 1892.9,347.2 1897.5,351.7 1901.7,356.1 1906.4,360.5 1911.6,364.9 1916.1,369.4 1920.2,373.8 1924.8,378.2 1928.8,382.7 1932.9,387.1 1937.9,391.5 1942.7,395.9 1947.2,400.4 1952.3,404.8 1956.8,409.2 1960.5,413.6 1964.8,418.1 1969,422.5 1972.9,426.9 1977.8,431.4 1982.7,435.8 1986.8,440.2 1991.4,444.6 1995.8,449.1 1999.4,453.5 2003.5,457.9 2008.2,462.4 2012.4,466.8 2017.3,471.2 2022.5,475.6 2026.8,480.1 2100,480.1 2100,-15.9" fill="#ff0000"/>
<polygon points="1534.9,-15.9 1539.2,-11.4 1544.4,-7 1549.3,-2.6 1553.5,1.8 1558.2,6.3 1562.3,10.7 1565.9,15.1 1570.3,19.6 1574.8,24 1579,28.4 1583.9,32.8 1588.8,37.3 1592.7,41.7 1596.8,46.1 1601.2,50.6 1604.9,55 1609.4,59.4 1614.5,63.8 1619,68.3 1623.8,72.7 1628.8,77.1 1632.8,81.5 1636.8,86 1641.5,90.4 1645.6,94.8 1650,99.3 1655.3,103.7 1659.9,108.1 1664.2,112.5 1668.8,117 1672.7,121.4 1676.3,125.8 1680.8,130.3 1685.3,134.7 1689.5,139.1 1694.6,143.5 1699.3,148 1703.2,152.4 1707.6,156.8 1711.8,161.3 1715.6,165.7 1720.3,170.1 1725.4,174.5 1729.9,179 1734.8,183.4 1739.7,187.8 1743.6,192.2 1747.8,196.7 1752.3,201.1 1756.3,205.5 1760.9,210 1766.1,214.4 1770.5,218.8 1774.8,223.2 1779.4,227.7 1783.1,232.1 1786.8,236.5 1791.4,241 1795.7,245.4 1800.1,249.8 1805.3,254.2 1809.8,258.7 1813.8,263.1 1818.4,267.5 1822.5,272 1826.4,276.4 1831.3,280.8 1836.3,285.2 1840.8,289.7 1845.9,294.1 1850.6,298.5 1854.3,302.9 1858.6,307.4 1863,311.8 1866.9,316.2 1871.6,320.7 1876.6,325.1 1880.9,329.5 1885.3,333.9 1889.8,338.4 1893.4,342.8 1897.3,347.2 1902,351.7 1906.2,356.1 1910.8,360.5 1916.1,364.9 1920.5,369.4 1924.7,373.8 1929.3,378.2 1933.3,382.7 1937.3,387.1 1942.4,391.5 1947.1,395.9 1951.7,400.4 1956.8,404.8 1961.3,409.2 1965,413.6 1969.3,418.1 1973.5,422.5 1977.4,426.9 1982.2,431.4 1987.1,435.8 1991.3,440.2 1995.9,444.6 2000.3,449.1 2003.8,453.5 2008,457.9 2012.6,462.4 2016.9,466.8 2021.7,471.2 2027,475.6 2031.3,480.1 2100,480.1 2100,-15.9" fill="#96a000" stroke="#100020" stroke-opacity="0.45" stroke-width="0.7"/>
<path d="M1537.3,-15.9 L1546.9,-7 L1556,1.8 L1564.8,10.7 L1572.7,19.6 L1581.5,28.4 L1591.3,37.3 L1599.3,46.1 L1607.4,55 L1617,63.8 L1626.3,72.7 L1635.3,81.5 L1643.9,90.4 L1652.5,99.3 L1662.4,108.1 L1671.3,117 L1678.8,125.8 L1687.7,134.7 L1697.1,143.5 L1705.6,152.4 L1714.3,161.3 L1722.8,170.1 L1732.3,179 L1742.2,187.8 L1750.2,196.7 L1758.8,205.5 L1768.5,214.4 L1777.2,223.2 L1785.6,232.1 L1793.9,241 L1802.6,249.8 L1812.3,258.7 L1820.9,267.5 L1828.9,276.4 L1838.8,285.2 L1848.3,294.1 L1856.8,302.9 L1865.5,311.8 L1874.1,320.7 L1883.4,329.5 L1892.3,338.4 L1899.8,347.2 L1908.7,356.1 L1918.6,364.9 L1927.2,373.8 L1935.8,382.7 L1944.9,391.5 L1954.2,400.4 L1963.7,409.2 L1971.8,418.1 L1979.9,426.9 L1989.6,435.8 L1998.4,444.6 L2006.3,453.5 L2015.1,462.4 L2024.2,471.2 L2033.8,480.1" fill="none" stroke="#ff8c00" stroke-width="1.6" stroke-dasharray="5 3"/>
<polygon points="1539.9,-15.9 1544.2,-11.4 1548.6,-7 1553.9,-2.6 1558.7,1.8 1562.9,6.3 1567.5,10.7 1571.7,15.1 1575.2,19.6 1579.7,24 1584.3,28.4 1588.5,32.8 1593.4,37.3 1598.2,41.7 1602,46.1 1606.2,50.6 1610.5,55 1614.2,59.4 1618.8,63.8 1623.9,68.3 1628.4,72.7 1633.2,77.1 1638.2,81.5 1642.1,86 1646.2,90.4 1650.8,94.8 1655,99.3 1659.5,103.7 1664.8,108.1 1669.4,112.5 1673.6,117 1678.2,121.4 1682.1,125.8 1685.7,130.3 1690.3,134.7 1694.7,139.1 1699,143.5 1704,148 1708.7,152.4 1712.5,156.8 1716.9,161.3 1721.1,165.7 1724.9,170.1 1729.7,174.5 1734.8,179 1739.3,183.4 1744.2,187.8 1749.1,192.2 1752.9,196.7 1757.1,201.1 1761.7,205.5 1765.7,210 1770.3,214.4 1775.5,218.8 1779.9,223.2 1784.2,227.7 1788.7,232.1 1792.4,236.5 1796.2,241 1800.8,245.4 1805.1,249.8 1809.6,254.2 1814.7,258.7 1819.2,263.1 1823.2,267.5 1827.7,272 1831.9,276.4 1835.8,280.8 1840.7,285.2 1845.7,289.7 1850.2,294.1 1855.3,298.5 1859.9,302.9 1863.7,307.4 1867.9,311.8 1872.3,316.2 1876.3,320.7 1881.1,325.1 1886.1,329.5 1890.3,333.9 1894.7,338.4 1899.2,342.8 1902.7,347.2 1906.7,351.7 1911.4,356.1 1915.6,360.5 1920.3,364.9 1925.5,369.4 1929.9,373.8 1934,378.2 1938.6,382.7 1942.6,387.1 1946.7,391.5 1951.8,395.9 1956.6,400.4 1961.1,404.8 1966.2,409.2 1970.6,413.6 1974.3,418.1 1978.7,422.5 1982.9,426.9 1986.8,431.4 1991.7,435.8 1996.6,440.2 2000.7,444.6 2005.3,449.1 2009.6,453.5 2013.2,457.9 2017.4,462.4 2022,466.8 2026.3,471.2 2031.2,475.6 2036.4,480.1 2100,480.1 2100,-15.9" fill="#0a960a"/>
<polygon points="1544.2,-15.9 1548.8,-11.4 1553,-7 1558.1,-2.6 1563.2,1.8 1567.4,6.3 1571.9,10.7 1576.3,15.1 1579.9,19.6 1584,24 1588.8,28.4 1593,32.8 1597.7,37.3 1602.7,41.7 1606.7,46.1 1610.7,50.6 1615.1,55 1618.9,59.4 1623.1,63.8 1628.2,68.3 1632.9,72.7 1637.5,77.1 1642.5,81.5 1646.8,86 1650.6,90.4 1655.2,94.8 1659.6,99.3 1663.8,103.7 1669,108.1 1673.9,112.5 1678.1,117 1682.6,121.4 1686.8,125.8 1690.3,130.3 1694.6,134.7 1699.3,139.1 1703.4,143.5 1708.3,148 1713.2,152.4 1717.2,156.8 1721.3,161.3 1725.7,165.7 1729.5,170.1 1734,174.5 1739.1,179 1743.7,183.4 1748.5,187.8 1753.5,192.2 1757.6,196.7 1761.5,201.1 1766.1,205.5 1770.3,210 1774.6,214.4 1779.8,218.8 1784.5,223.2 1788.6,227.7 1793.2,232.1 1797.2,236.5 1800.7,241 1805.2,245.4 1809.7,249.8 1813.9,254.2 1819,258.7 1823.8,263.1 1827.7,267.5 1832.1,272 1836.5,276.4 1840.3,280.8 1845,285.2 1850.1,289.7 1854.6,294.1 1859.5,298.5 1864.4,302.9 1868.3,307.4 1872.4,311.8 1876.9,316.2 1880.9,320.7 1885.3,325.1 1890.5,329.5 1894.9,333.9 1899.1,338.4 1903.8,342.8 1907.5,347.2 1911.2,351.7 1915.8,356.1 1920.2,360.5 1924.6,364.9 1929.8,369.4 1934.5,373.8 1938.5,378.2 1943.1,382.7 1947.3,387.1 1951.1,391.5 1956,395.9 1961,400.4 1965.5,404.8 1970.5,409.2 1975.2,413.6 1978.9,418.1 1983.1,422.5 1987.5,426.9 1991.4,431.4 1996,435.8 2001,440.2 2005.3,444.6 2009.7,449.1 2014.2,453.5 2017.9,457.9 2021.8,462.4 2026.5,466.8 2030.8,471.2 2035.4,475.6 2040.7,480.1 2100,480.1 2100,-15.9" fill="#008c8c"/>
<polygon points="1547.2,-15.9 1551.9,-11.4 1556.1,-7 1560.9,-2.6 1566.2,1.8 1570.6,6.3 1575,10.7 1579.5,15.1 1583.2,19.6 1587.1,24 1591.9,28.4 1596.2,32.8 1600.7,37.3 1605.7,41.7 1610,46.1 1613.8,50.6 1618.2,55 1622.2,59.4 1626.1,63.8 1631.2,68.3 1636,72.7 1640.5,77.1 1645.5,81.5 1650,86 1653.8,90.4 1658.2,94.8 1662.7,99.3 1666.9,103.7 1671.9,108.1 1677,112.5 1681.2,117 1685.7,121.4 1690.1,125.8 1693.6,130.3 1697.7,134.7 1702.4,139.1 1706.6,143.5 1711.2,148 1716.3,152.4 1720.4,156.8 1724.4,161.3 1728.9,165.7 1732.8,170.1 1737,174.5 1742.1,179 1746.8,183.4 1751.4,187.8 1756.5,192.2 1760.8,196.7 1764.6,201.1 1769.2,205.5 1773.5,210 1777.6,214.4 1782.8,218.8 1787.6,223.2 1791.7,227.7 1796.3,232.1 1800.5,236.5 1803.9,241 1808.2,245.4 1812.8,249.8 1817,254.2 1821.9,258.7 1826.9,263.1 1830.9,267.5 1835.2,272 1839.7,276.4 1843.5,280.8 1847.9,285.2 1853.1,289.7 1857.7,294.1 1862.4,298.5 1867.5,302.9 1871.6,307.4 1875.5,311.8 1880,316.2 1884.1,320.7 1888.3,325.1 1893.5,329.5 1898.1,333.9 1902.2,338.4 1906.9,342.8 1910.8,347.2 1914.4,351.7 1918.8,356.1 1923.4,360.5 1927.6,364.9 1932.7,369.4 1937.6,373.8 1941.6,378.2 1946.1,382.7 1950.5,387.1 1954.3,391.5 1959,395.9 1964.1,400.4 1968.6,404.8 1973.4,409.2 1978.3,413.6 1982.2,418.1 1986.2,422.5 1990.7,426.9 1994.6,431.4 1998.9,435.8 2004.1,440.2 2008.5,444.6 2012.7,449.1 2017.4,453.5 2021.2,457.9 2024.9,462.4 2029.5,466.8 2034,471.2 2038.4,475.6 2043.7,480.1 2100,480.1 2100,-15.9" fill="#0a00a8" stroke="#100020" stroke-opacity="0.45" stroke-width="0.7"/>
<polygon points="1550.3,-15.9 1555,-11.4 1559.2,-7 1563.9,-2.6 1569.3,1.8 1573.8,6.3 1578.1,10.7 1582.7,15.1 1586.5,19.6 1590.3,24 1594.9,28.4 1599.4,32.8 1603.7,37.3 1608.8,41.7 1613.2,46.1 1617,50.6 1621.3,55 1625.5,59.4 1629.3,63.8 1634.1,68.3 1639.2,72.7 1643.6,77.1 1648.5,81.5 1653.2,86 1657,90.4 1661.3,94.8 1665.9,99.3 1670,103.7 1674.9,108.1 1680.1,112.5 1684.4,117 1688.8,121.4 1693.3,125.8 1696.9,130.3 1700.8,134.7 1705.5,139.1 1709.8,143.5 1714.3,148 1719.4,152.4 1723.7,156.8 1727.6,161.3 1732,165.7 1736.1,170.1 1740,174.5 1745.1,179 1750,183.4 1754.5,187.8 1759.6,192.2 1764.1,196.7 1767.8,201.1 1772.3,205.5 1776.7,210 1780.8,214.4 1785.7,218.8 1790.8,223.2 1794.9,227.7 1799.4,232.1 1803.8,236.5 1807.3,241 1811.3,245.4 1816,249.8 1820.2,254.2 1824.9,258.7 1830,263.1 1834.2,267.5 1838.3,272 1842.8,276.4 1846.8,280.8 1850.9,285.2 1856.1,289.7 1860.9,294.1 1865.5,298.5 1870.6,302.9 1874.9,307.4 1878.6,311.8 1883.1,316.2 1887.3,320.7 1891.4,325.1 1896.5,329.5 1901.3,333.9 1905.4,338.4 1910,342.8 1914.2,347.2 1917.6,351.7 1921.9,356.1 1926.5,360.5 1930.8,364.9 1935.7,369.4 1940.8,373.8 1944.9,378.2 1949.2,382.7 1953.7,387.1 1957.5,391.5 1961.9,395.9 1967.1,400.4 1971.7,404.8 1976.4,409.2 1981.5,413.6 1985.5,418.1 1989.3,422.5 1993.8,426.9 1997.8,431.4 2002,435.8 2007.1,440.2 2011.7,444.6 2015.9,449.1 2020.5,453.5 2024.5,457.9 2028.1,462.4 2032.6,466.8 2037.2,471.2 2041.5,475.6 2046.6,480.1 2100,480.1 2100,-15.9" fill="#a000d0" stroke="#100020" stroke-opacity="0.45" stroke-width="0.7"/>
<polygon points="1553,-15.9 1557.7,-11.4 1562,-7 1566.5,-2.6 1571.8,1.8 1576.5,6.3 1580.7,10.7 1585.4,15.1 1589.4,19.6 1593,24 1597.6,28.4 1602.1,32.8 1606.4,37.3 1611.4,41.7 1616,46.1 1619.8,50.6 1624,55 1628.3,59.4 1632,63.8 1636.7,68.3 1641.8,72.7 1646.3,77.1 1651.1,81.5 1656,86 1659.8,90.4 1664,94.8 1668.6,99.3 1672.8,103.7 1677.4,108.1 1682.7,112.5 1687.2,117 1691.4,121.4 1696,125.8 1699.8,130.3 1703.5,134.7 1708.2,139.1 1712.6,143.5 1716.9,148 1722,152.4 1726.5,156.8 1730.3,161.3 1734.7,165.7 1738.9,170.1 1742.7,174.5 1747.6,179 1752.7,183.4 1757.1,187.8 1762.1,192.2 1766.9,196.7 1770.6,201.1 1774.9,205.5 1779.5,210 1783.5,214.4 1788.3,218.8 1793.4,223.2 1797.7,227.7 1802.1,232.1 1806.5,236.5 1810.1,241 1814,245.4 1818.7,249.8 1823,254.2 1827.5,258.7 1832.7,263.1 1837,267.5 1841,272 1845.5,276.4 1849.6,280.8 1853.6,285.2 1858.7,289.7 1863.6,294.1 1868.1,298.5 1873.2,302.9 1877.7,307.4 1881.4,311.8 1885.8,316.2 1890.1,320.7 1894.1,325.1 1899,329.5 1904,333.9 1908.2,338.4 1912.6,342.8 1917,347.2 1920.5,351.7 1924.6,356.1 1929.3,360.5 1933.5,364.9 1938.3,369.4 1943.4,373.8 1947.7,378.2 1951.8,382.7 1956.4,387.1 1960.3,391.5 1964.6,395.9 1969.7,400.4 1974.4,404.8 1979,409.2 1984.1,413.6 1988.3,418.1 1992.1,422.5 1996.5,426.9 2000.7,431.4 2004.7,435.8 2009.7,440.2 2014.5,444.6 2018.6,449.1 2023.2,453.5 2027.4,457.9 2030.9,462.4 2035.2,466.8 2039.9,471.2 2044.1,475.6 2049.1,480.1 2100,480.1 2100,-15.9" fill="#ff0096" stroke="#100020" stroke-opacity="0.45" stroke-width="0.7"/>
<polygon points="1556.6,-15.9 1561.2,-11.4 1565.7,-7 1570,-2.6 1575.2,1.8 1580.2,6.3 1584.3,10.7 1588.9,15.1 1593.2,19.6 1596.7,24 1601.1,28.4 1605.8,32.8 1610,37.3 1614.8,41.7 1619.7,46.1 1623.5,50.6 1627.6,55 1632,59.4 1635.7,63.8 1640.1,68.3 1645.3,72.7 1649.9,77.1 1654.5,81.5 1659.5,86 1663.6,90.4 1667.5,94.8 1672.2,99.3 1676.5,103.7 1680.9,108.1 1686.1,112.5 1690.9,117 1695,121.4 1699.6,125.8 1703.6,130.3 1707.2,134.7 1711.7,139.1 1716.2,143.5 1720.4,148 1725.4,152.4 1730.2,156.8 1734,161.3 1738.3,165.7 1742.6,170.1 1746.4,174.5 1751,179 1756.2,183.4 1760.7,187.8 1765.5,192.2 1770.5,196.7 1774.4,201.1 1778.4,205.5 1783.1,210 1787.2,214.4 1791.7,218.8 1796.9,223.2 1801.4,227.7 1805.6,232.1 1810.2,236.5 1814,241 1817.6,245.4 1822.2,249.8 1826.7,254.2 1831,258.7 1836.1,263.1 1840.7,267.5 1844.6,272 1849.1,276.4 1853.3,280.8 1857.2,285.2 1862.1,289.7 1867.1,294.1 1871.6,298.5 1876.6,302.9 1881.3,307.4 1885.1,311.8 1889.3,316.2 1893.8,320.7 1897.8,325.1 1902.4,329.5 1907.6,333.9 1911.8,338.4 1916.2,342.8 1920.7,347.2 1924.3,351.7 1928.1,356.1 1932.8,360.5 1937.1,364.9 1941.7,369.4 1946.9,373.8 1951.4,378.2 1955.4,382.7 1960,387.1 1964.1,391.5 1968.1,395.9 1973.1,400.4 1978,404.8 1982.5,409.2 1987.6,413.6 1992.1,418.1 1995.8,422.5 2000.1,426.9 2004.4,431.4 2008.3,435.8 2013.1,440.2 2018.1,444.6 2022.2,449.1 2026.7,453.5 2031.1,457.9 2034.7,462.4 2038.7,466.8 2043.5,471.2 2047.7,475.6 2052.5,480.1 2100,480.1 2100,-15.9" fill="#ff0000" stroke="#201000" stroke-opacity="0.9" stroke-width="0.95"/>
<polygon points="1563.1,-15.9 1567.4,-11.4 1572,-7 1576.3,-2.6 1581,1.8 1585.9,6.3 1590.3,10.7 1594.7,15.1 1599.2,19.6 1603.2,24 1607.3,28.4 1612,32.8 1616.4,37.3 1620.8,41.7 1625.6,46.1 1629.9,50.6 1634,55 1638.4,59.4 1642.5,63.8 1646.7,68.3 1651.5,72.7 1656.2,77.1 1660.6,81.5 1665.4,86 1669.8,90.4 1673.9,94.8 1678.3,99.3 1682.8,103.7 1687.1,108.1 1691.8,112.5 1696.7,117 1701,121.4 1705.4,125.8 1709.8,130.3 1713.7,134.7 1718,139.1 1722.6,143.5 1726.9,148 1731.4,152.4 1736.2,156.8 1740.4,161.3 1744.6,165.7 1749.1,170.1 1753.2,174.5 1757.5,179 1762.3,183.4 1766.9,187.8 1771.4,192.2 1776.2,196.7 1780.6,201.1 1784.7,205.5 1789.1,210 1793.5,214.4 1797.8,218.8 1802.6,223.2 1807.3,227.7 1811.6,232.1 1816.1,236.5 1820.4,241 1824.2,245.4 1828.6,249.8 1833.1,254.2 1837.4,258.7 1842.1,263.1 1846.9,267.5 1851,272 1855.3,276.4 1859.8,280.8 1863.9,285.2 1868.3,289.7 1873.2,294.1 1877.7,298.5 1882.3,302.9 1887.1,307.4 1891.3,311.8 1895.4,316.2 1899.9,320.7 1904.2,325.1 1908.5,329.5 1913.4,333.9 1917.9,338.4 1922.2,342.8 1926.7,347.2 1930.9,351.7 1934.8,356.1 1939.2,360.5 1943.7,364.9 1948.1,369.4 1952.9,373.8 1957.6,378.2 1961.7,382.7 1966.1,387.1 1970.6,391.5 1974.6,395.9 1979.2,400.4 1984,404.8 1988.5,409.2 1993.2,413.6 1997.9,418.1 2002,422.5 2006.2,426.9 2010.6,431.4 2014.8,435.8 2019.2,440.2 2024,444.6 2028.5,449.1 2032.7,453.5 2037.3,457.9 2041.4,462.4 2045.3,466.8 2049.9,471.2 2054.4,475.6 2058.8,480.1 2100,480.1 2100,-15.9" fill="#ff0095" stroke="#201000" stroke-opacity="0.9" stroke-width="0.95"/>
<polygon points="1567.6,-15.9 1571.8,-11.4 1576.4,-7 1580.8,-2.6 1585.3,1.8 1590.2,6.3 1594.8,10.7 1599.1,15.1 1603.6,19.6 1607.8,24 1611.8,28.4 1616.3,32.8 1620.8,37.3 1625.2,41.7 1629.9,46.1 1634.4,50.6 1638.5,55 1642.8,59.4 1647.1,63.8 1651.1,68.3 1655.8,72.7 1660.6,77.1 1665,81.5 1669.7,86 1674.3,90.4 1678.4,94.8 1682.7,99.3 1687.2,103.7 1691.5,108.1 1696.1,112.5 1701.1,117 1705.5,121.4 1709.8,125.8 1714.3,130.3 1718.3,134.7 1722.4,139.1 1727,143.5 1731.4,148 1735.8,152.4 1740.6,156.8 1745,161.3 1749.1,165.7 1753.5,170.1 1757.7,174.5 1761.8,179 1766.6,183.4 1771.4,187.8 1775.8,192.2 1780.6,196.7 1785.1,201.1 1789.1,205.5 1793.5,210 1798,214.4 1802.2,218.8 1806.9,223.2 1811.8,227.7 1816.1,232.1 1820.5,236.5 1824.9,241 1828.8,245.4 1833,249.8 1837.6,254.2 1841.9,258.7 1846.4,263.1 1851.3,267.5 1855.6,272 1859.7,276.4 1864.2,280.8 1868.4,285.2 1872.6,289.7 1877.5,294.1 1882.2,298.5 1886.6,302.9 1891.5,307.4 1895.9,311.8 1899.9,316.2 1904.3,320.7 1908.7,325.1 1912.9,329.5 1917.7,333.9 1922.4,338.4 1926.6,342.8 1931.1,347.2 1935.4,351.7 1939.3,356.1 1943.6,360.5 1948.2,364.9 1952.5,369.4 1957.1,373.8 1962,378.2 1966.2,382.7 1970.5,387.1 1975,391.5 1979.2,395.9 1983.5,400.4 1988.4,404.8 1993,409.2 1997.5,413.6 2002.3,418.1 2006.6,422.5 2010.6,426.9 2015,431.4 2019.3,435.8 2023.5,440.2 2028.3,444.6 2032.9,449.1 2037.2,453.5 2041.7,457.9 2046,462.4 2049.8,466.8 2054.3,471.2 2058.8,475.6 2063.2,480.1 2100,480.1 2100,-15.9" fill="#c800ff" stroke="#201000" stroke-opacity="0.9" stroke-width="0.95"/>
<polygon points="1571.3,-15.9 1575.3,-11.4 1579.9,-7 1584.3,-2.6 1588.7,1.8 1593.7,6.3 1598.4,10.7 1602.6,15.1 1607.1,19.6 1611.4,24 1615.4,28.4 1619.8,32.8 1624.4,37.3 1628.7,41.7 1633.4,46.1 1638,50.6 1642.1,55 1646.3,59.4 1650.7,63.8 1654.7,68.3 1659.2,72.7 1664.1,77.1 1668.6,81.5 1673.1,86 1677.9,90.4 1682,94.8 1686.2,99.3 1690.8,103.7 1695.1,108.1 1699.6,112.5 1704.5,117 1709.1,121.4 1713.3,125.8 1717.8,130.3 1722,134.7 1725.9,139.1 1730.5,143.5 1735,148 1739.3,152.4 1744,156.8 1748.6,161.3 1752.7,165.7 1757,170.1 1761.3,174.5 1765.4,179 1770,183.4 1774.9,187.8 1779.3,192.2 1784,196.7 1788.7,201.1 1792.8,205.5 1797,210 1801.6,214.4 1805.8,218.8 1810.4,223.2 1815.3,227.7 1819.7,232.1 1824,236.5 1828.5,241 1832.5,245.4 1836.5,249.8 1841.1,254.2 1845.5,258.7 1849.9,263.1 1854.7,267.5 1859.2,272 1863.3,276.4 1867.8,280.8 1872,285.2 1876.2,289.7 1880.9,294.1 1885.7,298.5 1890.1,302.9 1894.9,307.4 1899.5,311.8 1903.5,316.2 1907.8,320.7 1912.3,325.1 1916.5,329.5 1921.1,333.9 1925.9,338.4 1930.2,342.8 1934.6,347.2 1939,351.7 1943,356.1 1947.1,360.5 1951.7,364.9 1956.1,369.4 1960.6,373.8 1965.5,378.2 1969.9,382.7 1974,387.1 1978.6,391.5 1982.8,395.9 1987,400.4 1991.8,404.8 1996.5,409.2 2001,413.6 2005.8,418.1 2010.2,422.5 2014.2,426.9 2018.6,431.4 2022.9,435.8 2027.1,440.2 2031.8,444.6 2036.5,449.1 2040.8,453.5 2045.2,457.9 2049.6,462.4 2053.5,466.8 2057.8,471.2 2062.4,475.6 2066.7,480.1 2100,480.1 2100,-15.9" fill="#1900ff" stroke="#201000" stroke-opacity="0.9" stroke-width="0.95"/>
<polygon points="1576,-15.9 1580,-11.4 1584.5,-7 1589,-2.6 1593.3,1.8 1598.1,6.3 1603,10.7 1607.3,15.1 1611.7,19.6 1616.2,24 1620.1,28.4 1624.4,32.8 1629.1,37.3 1633.4,41.7 1637.9,46.1 1642.7,50.6 1646.9,55 1651,59.4 1655.4,63.8 1659.5,68.3 1663.8,72.7 1668.6,77.1 1673.2,81.5 1677.7,86 1682.4,90.4 1686.8,94.8 1690.8,99.3 1695.3,103.7 1699.8,108.1 1704.1,112.5 1709,117 1713.8,121.4 1718,125.8 1722.5,130.3 1726.8,134.7 1730.7,139.1 1735,143.5 1739.6,148 1743.9,152.4 1748.6,156.8 1753.3,161.3 1757.4,165.7 1761.6,170.1 1766.1,174.5 1770.2,179 1774.5,183.4 1779.4,187.8 1784,192.2 1788.5,196.7 1793.3,201.1 1797.6,205.5 1801.6,210 1806.2,214.4 1810.5,218.8 1814.9,223.2 1819.8,227.7 1824.4,232.1 1828.6,236.5 1833.1,241 1837.3,245.4 1841.2,249.8 1845.7,254.2 1850.2,258.7 1854.5,263.1 1859.2,267.5 1863.9,272 1868,276.4 1872.4,280.8 1876.8,285.2 1880.9,289.7 1885.4,294.1 1890.3,298.5 1894.8,302.9 1899.4,307.4 1904.2,311.8 1908.3,316.2 1912.4,320.7 1917,325.1 1921.2,329.5 1925.6,333.9 1930.5,338.4 1935,342.8 1939.2,347.2 1943.7,351.7 1947.8,356.1 1951.8,360.5 1956.3,364.9 1960.8,369.4 1965.1,373.8 1970,378.2 1974.6,382.7 1978.7,387.1 1983.2,391.5 1987.5,395.9 1991.6,400.4 1996.3,404.8 2001.1,409.2 2005.6,413.6 2010.3,418.1 2014.9,422.5 2019,426.9 2023.2,431.4 2027.6,435.8 2031.8,440.2 2036.3,444.6 2041.1,449.1 2045.5,453.5 2049.8,457.9 2054.3,462.4 2058.3,466.8 2062.4,471.2 2067,475.6 2071.4,480.1 2100,480.1 2100,-15.9" fill="#0080ff" stroke="#201000" stroke-opacity="0.9" stroke-width="0.95"/>
<polygon points="1581.2,-15.9 1585.3,-11.4 1589.5,-7 1594.1,-2.6 1598.5,1.8 1603,6.3 1608,10.7 1612.5,15.1 1616.8,19.6 1621.3,24 1625.4,28.4 1629.5,32.8 1634.1,37.3 1638.6,41.7 1642.9,46.1 1647.7,50.6 1652.1,55 1656.1,59.4 1660.5,63.8 1664.8,68.3 1668.8,72.7 1673.5,77.1 1678.3,81.5 1682.7,86 1687.4,90.4 1692,94.8 1696,99.3 1700.4,103.7 1704.9,108.1 1709.2,112.5 1713.9,117 1718.8,121.4 1723.2,125.8 1727.5,130.3 1732,134.7 1736,139.1 1740.1,143.5 1744.7,148 1749.1,152.4 1753.5,156.8 1758.3,161.3 1762.7,165.7 1766.7,170.1 1771.2,174.5 1775.4,179 1779.6,183.4 1784.4,187.8 1789.1,192.2 1793.5,196.7 1798.3,201.1 1802.8,205.5 1806.8,210 1811.2,214.4 1815.7,218.8 1820,223.2 1824.7,227.7 1829.5,232.1 1833.8,236.5 1838.2,241 1842.6,245.4 1846.5,249.8 1850.7,254.2 1855.3,258.7 1859.6,263.1 1864.2,267.5 1869,272 1873.2,276.4 1877.4,280.8 1881.9,285.2 1886.1,289.7 1890.4,294.1 1895.3,298.5 1899.9,302.9 1904.4,307.4 1909.2,311.8 1913.5,316.2 1917.6,320.7 1922,325.1 1926.4,329.5 1930.7,333.9 1935.5,338.4 1940.1,342.8 1944.3,347.2 1948.8,351.7 1953.1,356.1 1957,360.5 1961.3,364.9 1965.9,369.4 1970.2,373.8 1974.9,378.2 1979.7,382.7 1983.9,387.1 1988.2,391.5 1992.7,395.9 1996.8,400.4 2001.2,404.8 2006.1,409.2 2010.7,413.6 2015.2,418.1 2020,422.5 2024.2,426.9 2028.3,431.4 2032.8,435.8 2037,440.2 2041.3,444.6 2046.1,449.1 2050.7,453.5 2054.9,457.9 2059.4,462.4 2063.6,466.8 2067.5,471.2 2072,475.6 2076.5,480.1 2100,480.1 2100,-15.9" fill="#00ffff" stroke="#201000" stroke-opacity="0.9" stroke-width="0.95"/>
<polygon points="1585.2,-15.9 1589.4,-11.4 1593.5,-7 1598,-2.6 1602.5,1.8 1606.9,6.3 1611.9,10.7 1616.5,15.1 1620.8,19.6 1625.3,24 1629.5,28.4 1633.5,32.8 1638,37.3 1642.6,41.7 1646.9,46.1 1651.6,50.6 1656.2,55 1660.2,59.4 1664.5,63.8 1668.8,68.3 1672.9,72.7 1677.4,77.1 1682.3,81.5 1686.7,86 1691.3,90.4 1696,94.8 1700.1,99.3 1704.3,103.7 1708.9,108.1 1713.3,112.5 1717.8,117 1722.7,121.4 1727.2,125.8 1731.5,130.3 1736,134.7 1740.1,139.1 1744.1,143.5 1748.6,148 1753.1,152.4 1757.5,156.8 1762.3,161.3 1766.7,165.7 1770.8,170.1 1775.1,174.5 1779.5,179 1783.5,183.4 1788.2,187.8 1793.1,192.2 1797.5,196.7 1802.2,201.1 1806.8,205.5 1810.9,210 1815.2,214.4 1819.7,218.8 1824,223.2 1828.6,227.7 1833.5,232.1 1837.8,236.5 1842.1,241 1846.6,245.4 1850.6,249.8 1854.7,254.2 1859.3,258.7 1863.7,263.1 1868.1,267.5 1872.9,272 1877.3,276.4 1881.4,280.8 1885.9,285.2 1890.1,289.7 1894.3,294.1 1899.1,298.5 1903.9,302.9 1908.3,307.4 1913.1,311.8 1917.6,316.2 1921.6,320.7 1926,325.1 1930.4,329.5 1934.6,333.9 1939.3,338.4 1944.1,342.8 1948.4,347.2 1952.8,351.7 1957.2,356.1 1961.1,360.5 1965.3,364.9 1969.9,369.4 1974.2,373.8 1978.8,378.2 1983.7,382.7 1988,387.1 1992.2,391.5 1996.7,395.9 2000.9,400.4 2005.1,404.8 2010,409.2 2014.7,413.6 2019.1,418.1 2023.9,422.5 2028.3,426.9 2032.3,431.4 2036.7,435.8 2041.1,440.2 2045.3,444.6 2050,449.1 2054.7,453.5 2058.9,457.9 2063.4,462.4 2067.7,466.8 2071.6,471.2 2075.9,475.6 2080.5,480.1 2100,480.1 2100,-15.9" fill="#00ff44" stroke="#201000" stroke-opacity="0.9" stroke-width="0.95"/>
<polygon points="1591.3,-15.9 1595.7,-11.4 1599.7,-7 1604.1,-2.6 1608.7,1.8 1613.1,6.3 1617.8,10.7 1622.7,15.1 1627,19.6 1631.4,24 1635.9,28.4 1639.8,32.8 1644.1,37.3 1648.8,41.7 1653.2,46.1 1657.7,50.6 1662.4,55 1666.6,59.4 1670.7,63.8 1675.1,68.3 1679.2,72.7 1683.5,77.1 1688.3,81.5 1692.9,86 1697.4,90.4 1702.1,94.8 1706.5,99.3 1710.5,103.7 1715,108.1 1719.5,112.5 1723.9,117 1728.7,121.4 1733.5,125.8 1737.7,130.3 1742.2,134.7 1746.5,139.1 1750.4,143.5 1754.7,148 1759.4,152.4 1763.7,156.8 1768.3,161.3 1773,165.7 1777.1,170.1 1781.3,174.5 1785.7,179 1789.9,183.4 1794.2,187.8 1799.1,192.2 1803.7,196.7 1808.2,201.1 1813,205.5 1817.2,210 1821.3,214.4 1825.9,218.8 1830.3,223.2 1834.6,227.7 1839.5,232.1 1844.1,236.5 1848.3,241 1852.8,245.4 1857,249.8 1860.9,254.2 1865.4,258.7 1869.9,263.1 1874.2,267.5 1879,272 1883.6,276.4 1887.7,280.8 1892,285.2 1896.5,289.7 1900.6,294.1 1905.1,298.5 1910,302.9 1914.5,307.4 1919.1,311.8 1923.8,316.2 1928,320.7 1932.1,325.1 1936.7,329.5 1940.9,333.9 1945.4,338.4 1950.2,342.8 1954.7,347.2 1958.9,351.7 1963.4,356.1 1967.5,360.5 1971.5,364.9 1976,369.4 1980.5,373.8 1984.9,378.2 1989.7,382.7 1994.3,387.1 1998.4,391.5 2002.8,395.9 2007.2,400.4 2011.3,404.8 2016,409.2 2020.8,413.6 2025.3,418.1 2030,422.5 2034.6,426.9 2038.6,431.4 2042.9,435.8 2047.3,440.2 2051.5,444.6 2056,449.1 2060.9,453.5 2065.2,457.9 2069.5,462.4 2074,466.8 2078,471.2 2082.1,475.6 2086.7,480.1 2100,480.1 2100,-15.9" fill="#59ff00" stroke="#201000" stroke-opacity="0.9" stroke-width="0.95"/>
<polygon points="1598.4,-15.9 1603.1,-11.4 1607.2,-7 1611.4,-2.6 1616,1.8 1620.4,6.3 1624.9,10.7 1629.9,15.1 1634.4,19.6 1638.7,24 1643.2,28.4 1647.4,32.8 1651.4,37.3 1656,41.7 1660.5,46.1 1664.9,50.6 1669.6,55 1674.1,59.4 1678.1,63.8 1682.4,68.3 1686.7,72.7 1690.8,77.1 1695.4,81.5 1700.2,86 1704.7,90.4 1709.3,94.8 1713.9,99.3 1718,103.7 1722.2,108.1 1726.8,112.5 1731.2,117 1735.8,121.4 1740.7,125.8 1745.1,130.3 1749.4,134.7 1753.9,139.1 1758,143.5 1762,148 1766.6,152.4 1771.1,156.8 1775.5,161.3 1780.2,165.7 1784.6,170.1 1788.7,174.5 1793.1,179 1797.3,183.4 1801.5,187.8 1806.2,192.2 1811,196.7 1815.4,201.1 1820.1,205.5 1824.7,210 1828.7,214.4 1833.1,218.8 1837.6,223.2 1841.9,227.7 1846.6,232.1 1851.4,236.5 1855.8,241 1860.1,245.4 1864.5,249.8 1868.5,254.2 1872.6,258.7 1877.2,263.1 1881.6,267.5 1886.1,272 1890.9,276.4 1895.2,280.8 1899.3,285.2 1903.8,289.7 1908,294.1 1912.2,298.5 1917.1,302.9 1921.8,307.4 1926.3,311.8 1931,316.2 1935.5,320.7 1939.5,325.1 1943.9,329.5 1948.3,333.9 1952.6,338.4 1957.3,342.8 1962.1,347.2 1966.3,351.7 1970.7,356.1 1975.1,360.5 1979,364.9 1983.2,369.4 1987.8,373.8 1992.2,378.2 1996.8,382.7 2001.6,387.1 2005.9,391.5 2010.1,395.9 2014.6,400.4 2018.7,404.8 2023.1,409.2 2028,413.6 2032.6,418.1 2037.1,422.5 2041.9,426.9 2046.2,431.4 2050.2,435.8 2054.6,440.2 2059,444.6 2063.2,449.1 2068,453.5 2072.7,457.9 2076.9,462.4 2081.3,466.8 2085.6,471.2 2089.5,475.6 2093.9,480.1 2100,480.1 2100,-15.9" fill="#eeff00" stroke="#201000" stroke-opacity="0.9" stroke-width="0.95"/>
<polygon points="1609.7,-15.9 1614.2,-11.4 1618.8,-7 1622.8,-2.6 1627.1,1.8 1631.7,6.3 1636.1,10.7 1640.7,15.1 1645.7,19.6 1650.1,24 1654.4,28.4 1658.9,32.8 1663,37.3 1667.1,41.7 1671.8,46.1 1676.3,50.6 1680.7,55 1685.4,59.4 1689.7,63.8 1693.7,68.3 1698.1,72.7 1702.3,77.1 1706.5,81.5 1711.2,86 1716,90.4 1720.4,94.8 1725.1,99.3 1729.5,103.7 1733.5,108.1 1737.9,112.5 1742.5,117 1746.9,121.4 1751.6,125.8 1756.5,130.3 1760.8,134.7 1765.1,139.1 1769.6,143.5 1773.5,148 1777.7,152.4 1782.4,156.8 1786.8,161.3 1791.3,165.7 1796,170.1 1800.3,174.5 1804.3,179 1808.8,183.4 1813,187.8 1817.2,192.2 1822.1,196.7 1826.7,201.1 1831.2,205.5 1835.9,210 1840.3,214.4 1844.3,218.8 1848.8,223.2 1853.3,227.7 1857.6,232.1 1862.4,236.5 1867.2,241 1871.4,245.4 1875.8,249.8 1880.2,254.2 1884,258.7 1888.4,263.1 1893,267.5 1897.3,272 1901.9,276.4 1906.7,280.8 1910.8,285.2 1915,289.7 1919.5,294.1 1923.6,298.5 1928,302.9 1932.9,307.4 1937.5,311.8 1942,316.2 1946.8,320.7 1951.1,325.1 1955.1,329.5 1959.6,333.9 1964,338.4 1968.3,342.8 1973.2,347.2 1977.8,351.7 1982,356.1 1986.4,360.5 1990.7,364.9 1994.6,369.4 1999,373.8 2003.6,378.2 2007.9,382.7 2012.6,387.1 2017.3,391.5 2021.5,395.9 2025.8,400.4 2030.3,404.8 2034.4,409.2 2038.9,413.6 2043.8,418.1 2048.3,422.5 2052.9,426.9 2057.6,431.4 2061.7,435.8 2065.9,440.2 2070.4,444.6 2074.6,449.1 2079,453.5 2083.9,457.9 2088.4,462.4 2092.6,466.8 2097,471.2 2101.2,475.6 2105.1,480.1 2100,480.1 2100,-15.9" fill="#ff7b00" stroke="#201000" stroke-opacity="0.9" stroke-width="0.95"/>
<polygon points="1637.8,-15.9 1642.6,-11.4 1646.9,-7 1651.4,-2.6 1655.9,1.8 1659.9,6.3 1664.2,10.7 1668.9,15.1 1673.3,19.6 1678,24 1682.9,28.4 1687.3,32.8 1691.6,37.3 1696,41.7 1700.1,46.1 1704.3,50.6 1709.1,55 1713.5,59.4 1718,63.8 1722.7,68.3 1726.9,72.7 1730.9,77.1 1735.3,81.5 1739.5,86 1743.7,90.4 1748.5,94.8 1753.2,99.3 1757.6,103.7 1762.2,108.1 1766.6,112.5 1770.6,117 1775.1,121.4 1779.7,125.8 1784.1,130.3 1788.9,134.7 1793.7,139.1 1798,143.5 1802.3,148 1806.7,152.4 1810.7,156.8 1815,161.3 1819.7,165.7 1824.1,170.1 1828.6,174.5 1833.3,179 1837.4,183.4 1841.5,187.8 1845.9,192.2 1850.1,196.7 1854.4,201.1 1859.3,205.5 1864,210 1868.4,214.4 1873.1,218.8 1877.4,223.2 1881.4,227.7 1886,232.1 1890.5,236.5 1894.9,241 1899.7,245.4 1904.4,249.8 1908.6,254.2 1913,258.7 1917.3,263.1 1921.2,267.5 1925.6,272 1930.3,276.4 1934.6,280.8 1939.2,285.2 1943.9,289.7 1948,294.1 1952.2,298.5 1956.6,302.9 1960.8,307.4 1965.3,311.8 1970.2,316.2 1974.7,320.7 1979.3,325.1 1984,329.5 1988.1,333.9 1992.2,338.4 1996.8,342.8 2001.2,347.2 2005.6,351.7 2010.5,356.1 2015,360.5 2019.2,364.9 2023.6,369.4 2027.8,373.8 2031.7,378.2 2036.3,382.7 2040.8,387.1 2045.2,391.5 2049.9,395.9 2054.5,400.4 2058.6,404.8 2062.9,409.2 2067.4,413.6 2071.5,418.1 2076.1,422.5 2081.1,426.9 2085.5,431.4 2090.1,435.8 2094.8,440.2 2098.8,444.6 2103,449.1 2107.6,453.5 2111.8,457.9 2116.3,462.4 2121.2,466.8 2125.6,471.2 2129.8,475.6 2134.2,480.1 2100,480.1 2100,-15.9" fill="#ff0000" stroke="#201000" stroke-opacity="0.9" stroke-width="0.95"/>
</g>
<path d="M1543.9,2.299999999999999 V464.0 H2003.6" fill="none" stroke="#383838" stroke-width="1"/>
<path d="M1552.2,464.0 v-3.6M1552.2,1.799999999999999 v3.6M1543.9,453.5 h3.6M2003.6,453.5 h-3.6M1574.3,464.0 v-3.6M1574.3,1.799999999999999 v3.6M1543.9,431.4 h3.6M2003.6,431.4 h-3.6M1596.5,464.0 v-6M1596.5,1.799999999999999 v6M1543.9,409.2 h6M2003.6,409.2 h-6M1618.6,464.0 v-3.6M1618.6,1.799999999999999 v3.6M1543.9,387.1 h3.6M2003.6,387.1 h-3.6M1640.8,464.0 v-3.6M1640.8,1.799999999999999 v3.6M1543.9,364.9 h3.6M2003.6,364.9 h-3.6M1662.9,464.0 v-3.6M1662.9,1.799999999999999 v3.6M1543.9,342.8 h3.6M2003.6,342.8 h-3.6M1685.0,464.0 v-6M1685.0,1.799999999999999 v6M1543.9,320.7 h6M2003.6,320.7 h-6M1707.2,464.0 v-3.6M1707.2,1.799999999999999 v3.6M1543.9,298.5 h3.6M2003.6,298.5 h-3.6M1729.3,464.0 v-3.6M1729.3,1.799999999999999 v3.6M1543.9,276.4 h3.6M2003.6,276.4 h-3.6M1751.5,464.0 v-3.6M1751.5,1.799999999999999 v3.6M1543.9,254.2 h3.6M2003.6,254.2 h-3.6M1773.6,464.0 v-6M1773.6,1.799999999999999 v6M1543.9,232.1 h6M2003.6,232.1 h-6M1795.7,464.0 v-3.6M1795.7,1.799999999999999 v3.6M1543.9,210.0 h3.6M2003.6,210.0 h-3.6M1817.9,464.0 v-3.6M1817.9,1.799999999999999 v3.6M1543.9,187.8 h3.6M2003.6,187.8 h-3.6M1840.0,464.0 v-3.6M1840.0,1.799999999999999 v3.6M1543.9,165.7 h3.6M2003.6,165.7 h-3.6M1862.2,464.0 v-6M1862.2,1.799999999999999 v6M1543.9,143.5 h6M2003.6,143.5 h-6M1884.3,464.0 v-3.6M1884.3,1.799999999999999 v3.6M1543.9,121.4 h3.6M2003.6,121.4 h-3.6M1906.4,464.0 v-3.6M1906.4,1.799999999999999 v3.6M1543.9,99.3 h3.6M2003.6,99.3 h-3.6M1928.6,464.0 v-3.6M1928.6,1.799999999999999 v3.6M1543.9,77.1 h3.6M2003.6,77.1 h-3.6M1950.7,464.0 v-6M1950.7,1.799999999999999 v6M1543.9,55.0 h6M2003.6,55.0 h-6M1972.9,464.0 v-3.6M1972.9,1.799999999999999 v3.6M1543.9,32.8 h3.6M2003.6,32.8 h-3.6M1995.0,464.0 v-3.6M1995.0,1.799999999999999 v3.6M1543.9,10.7 h3.6M2003.6,10.7 h-3.6" fill="none" stroke="#333" stroke-width="1"/>
<g font-family="Liberation Sans, Arial, sans-serif" font-size="14" fill="#4a4a4a">
<text x="1596.3" y="479.3" text-anchor="middle">−4</text>
<text x="1539.3" y="413.5" text-anchor="end">−4</text>
<text x="1684.8" y="479.3" text-anchor="middle">−2</text>
<text x="1539.3" y="325.0" text-anchor="end">−2</text>
<text x="1773.4" y="479.3" text-anchor="middle">0</text>
<text x="1539.3" y="236.4" text-anchor="end">0</text>
<text x="1862.0" y="479.3" text-anchor="middle">2</text>
<text x="1539.3" y="147.8" text-anchor="end">2</text>
<text x="1950.5" y="479.3" text-anchor="middle">4</text>
<text x="1539.3" y="59.3" text-anchor="end">4</text>
</g></g>
<g font-family="Liberation Serif, Times New Roman, serif" font-size="41.5" fill="#000" text-anchor="middle">
<text x="296" y="561.2">(a)</text>
<text x="1074.4" y="561.2">(b)</text>
<text x="1775.1" y="561.2">(c)</text>
</g>
</svg>
</body></html>
